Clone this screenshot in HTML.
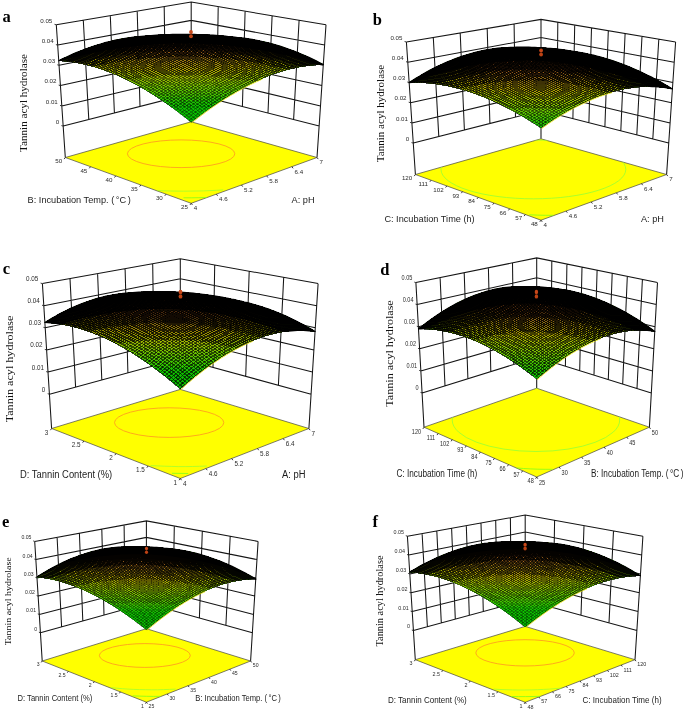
<!DOCTYPE html>
<html><head><meta charset="utf-8"><title>Figure</title>
<style>html,body{margin:0;padding:0;background:#fff}svg{display:block}</style></head>
<body><svg width="685" height="712" viewBox="0 0 685 712"><g id="pa"><path d="M63.2,126.1L191.2,93.4L319.2,126.1M61.8,105.9L191.2,75.2L320.5,105.9M60.5,85.6L191.2,56.9L321.9,85.6M59.1,65.3L191.2,38.7L323.3,65.3M57.7,45.1L191.2,20.4L324.7,45.1M56.3,24.8L191.2,2.1L326,24.8M65.3,157.5L56.3,24.8M88.8,119.6L83.3,20.3M114.4,113.1L110.3,15.7M140,106.5L137.2,11.2M165.6,100L164.2,6.7M191.2,121.8L191.2,2.1M317,157.5L326,24.8M293.6,119.6L299.1,20.3M268,113.1L272.1,15.7M242.4,106.5L245.1,11.2M216.8,100L218.2,6.7" fill="none" stroke="#151515" stroke-width="1.05"/>
<polygon points="65.3,157.5 191.2,203.3 317,157.5 191.2,121.8" fill="#ffff00" stroke="#444" stroke-width="0.7"/>
<path d="M183.5 197.8l7.7 0 7.7-0.1 7.7-0.2" fill="none" stroke="#7dff1a" stroke-width="0.8"/>
<path d="M157.3 190.6l6.6 0.2 6.6 0.2 6.5 0.1 6.6 0.1 6.6-0.1 6.6-0.1 6.6-0.1 6.6-0.3 6.6-0.3 6.6-0.4" fill="none" stroke="#a0ff30" stroke-width="0.8"/>
<clipPath id="fla"><polygon points="65.3,157.5 191.2,203.3 317,157.5 191.2,121.8"/></clipPath>
<ellipse cx="181.1" cy="153.75" rx="53.7" ry="13.85" fill="none" stroke="#ffa01e" stroke-width="0.9" clip-path="url(#fla)"/>
<path d="M191.2,203.3l1.2,1.6M216.4,194.2l1.2,1.6M241.5,185l1.2,1.6M266.7,175.9l1.2,1.6M291.9,166.7l1.2,1.6M317,157.5l1.2,1.6M191.2,203.3l-1.2,1.6M166,194.2l-1.2,1.6M140.8,185l-1.2,1.6M115.7,175.9l-1.2,1.6M90.5,166.7l-1.2,1.6M65.3,157.5l-1.2,1.6M63.2,126.1l-1.8,-0.5M61.8,105.9l-1.8,-0.5M60.5,85.6l-1.8,-0.5M59.1,65.3l-1.8,-0.5M57.7,45.1l-1.8,-0.5M56.3,24.8l-1.8,-0.5" fill="none" stroke="#222" stroke-width="0.9"/>
<path d="M191.2 122.3l6-4.7 5.9-4.5 5.8-4.3 5.8-4 5.8-3.9 5.7-3.6 5.7-3.4 5.5-3.3 5.6-3 5.5-2.8 5.4-2.7 5.3-2.4 5.3-2.3 5.3-2 5.1-1.9 5.2-1.7 5-1.5 5-1.3 5-1.2 4.8-0.9 4.8-0.8 4.8-0.7 4.7-0.4 4.6-0.3 4.5-0.1 -5.8-3 -5.8-2.9 -5.7-2.6 -5.7-2.4 -5.7-2.3 -5.6-2.1 -5.5-2 -5.6-1.7 -5.5-1.6 -5.4-1.4 -5.4-1.3 -5.3-1.1 -5.3-0.9 -5.3-0.8 -5.2-0.6 -5.1-0.5 -5.2-0.3 -5-0.2 -5 0 -5 0.1 -4.9 0.3 -4.8 0.4 -4.9 0.5 -4.7 0.7 -4.7 0.8 -4.7-0.9 -4.8-0.9 -4.8-0.7 -4.8-0.5 -5-0.5 -4.9-0.2 -5-0.2 -5.1 0 -5.1 0.2 -5.2 0.3 -5.2 0.5 -5.2 0.6 -5.4 0.8 -5.3 0.9 -5.4 1.1 -5.5 1.3 -5.5 1.4 -5.5 1.6 -5.6 1.8 -5.6 2 -5.7 2.1 -5.7 2.3 -5.8 2.5 -5.8 2.7 -5.8 2.8 4.5 0.3 4.7 0.4 4.7 0.6 4.8 0.8 4.8 1 4.9 1.1 4.9 1.3 5 1.5 5.1 1.6 5.1 1.9 5.2 2 5.3 2.2 5.3 2.4 5.3 2.6 5.5 2.8 5.5 3 5.5 3.2 5.6 3.4 5.6 3.6 5.8 3.8 5.7 4 5.8 4.2 5.9 4.4 5.9 4.6z" fill="#05b200"/>
<path d="M58.8 60.7l4.5 0.3 4.7 0.4 4.6 0.6 4.8 0.8 4.8 1 4.9 1.1 4.9 1.3 5 1.5 5.1 1.6 5.1 1.8 5.2 2.1 5.2 2.2 5.3 2.3 5.3 2.6 5.4 2.8 5.5 3 5.5 3.1 5.6 3.4 5.6 3.6 5.7 3.7 5.8 4 5.8 4.2 5.8 4.4 5.9 4.6 6 4.8 0.8 0 6-4.7 5.9-4.4 5.8-4.2 5.8-4.1 5.7-3.8 5.7-3.6 5.7-3.4 5.5-3.2 5.5-3 5.5-2.9 5.4-2.6 5.3-2.4 5.3-2.2 5.2-2.1 5.2-1.8 5.1-1.7 5-1.5 5-1.3 4.9-1.2 4.9-0.9 4.8-0.8 4.7-0.7 4.7-0.4 4.6-0.3 4.5-0.1 -5.6-2.9 -5.5-2.7 -5.5-2.6 -5.5-2.4 -5.5-2.2 -5.4-2 -5.3-1.9 -5.4-1.8 -5.3-1.6 -5.2-1.4 -5.2-1.3 -5.2-1.1 -5.1-1 -5.1-0.8 -5-0.7 -5-0.5 -4.9-0.4 -4.9-0.3 -4.9-0.1 -4.8 0 -4.7 0.2 -4.7 0.2 -4.7 0.4 -4.6 0.6 -4.6 0.6 -4.5 0.8 -4.5-0.9 -4.6-0.8 -4.6-0.7 -4.7-0.6 -4.7-0.4 -4.8-0.3 -4.8-0.2 -4.8 0 -4.9 0.1 -5 0.3 -5 0.4 -5 0.5 -5.1 0.7 -5.1 0.8 -5.2 1 -5.2 1.1 -5.3 1.3 -5.3 1.4 -5.3 1.6 -5.4 1.8 -5.4 1.9 -5.5 2 -5.5 2.3 -5.5 2.4 -5.6 2.6z" fill="#07b400"/>
<path d="M58.8 60.7l4.4 0.3 4.5 0.4 4.5 0.6 4.6 0.7 4.7 0.9 4.7 1.1 4.8 1.2 4.9 1.4 4.9 1.6 4.9 1.7 5 1.9 5.1 2.1 5.1 2.2 5.2 2.5 5.2 2.6 5.3 2.8 5.3 3 5.4 3.2 5.5 3.3 5.5 3.6 5.5 3.7 5.6 4 5.7 4.1 5.7 4.3 5.7 4.5 7.5 0 2.1 0 5.7-4.4 5.7-4.2 5.6-3.9 5.6-3.8 5.6-3.6 5.4-3.4 5.5-3.2 5.3-3 5.4-2.8 5.2-2.7 5.2-2.4 5.2-2.3 5.1-2.1 5-1.9 5-1.8 5-1.5 4.8-1.5 4.9-1.2 4.7-1.1 4.7-0.9 4.7-0.7 4.5-0.6 4.6-0.4 4.4-0.3 4.4-0.1 -5.6-2.9 -5.5-2.7 -5.5-2.6 -5.5-2.4 -5.5-2.2 -5.4-2 -5.3-1.9 -5.4-1.8 -5.3-1.6 -5.2-1.4 -5.2-1.3 -5.2-1.1 -5.1-1 -5.1-0.8 -5-0.7 -5-0.5 -4.9-0.4 -4.9-0.3 -4.9-0.1 -4.8 0 -4.7 0.2 -4.7 0.2 -4.7 0.4 -4.6 0.6 -4.6 0.6 -4.5 0.8 -4.5-0.9 -4.6-0.8 -4.6-0.7 -4.7-0.6 -4.7-0.4 -4.8-0.3 -4.8-0.2 -4.8 0 -4.9 0.1 -5 0.3 -5 0.4 -5 0.5 -5.1 0.7 -5.1 0.8 -5.2 1 -5.2 1.1 -5.3 1.3 -5.3 1.4 -5.3 1.6 -5.4 1.8 -5.4 1.9 -5.5 2 -5.5 2.3 -5.5 2.4 -5.6 2.6z" fill="#09b700"/>
<path d="M58.8 60.7l4.4 0.3 4.6 0.4 4.6 0.6 4.6 0.8 4.7 0.9 4.8 1.1 4.9 1.2 4.8 1.4 5 1.6 5 1.8 5.1 1.9 5.1 2.1 5.2 2.3 5.2 2.5 5.3 2.7 5.3 2.9 5.4 3 5.5 3.2 5.5 3.5 5.6 3.6 5.6 3.8 5.6 4 5.8 4.3 5.7 4.4 1 0 10.6-0.1 7.1-0.1 5.7-4.2 5.7-4.1 5.6-3.8 5.6-3.6 5.5-3.5 5.5-3.2 5.4-3.1 5.4-2.9 5.3-2.7 5.3-2.5 5.2-2.3 5.1-2.1 5.1-2 5-1.7 5-1.6 4.9-1.5 4.9-1.2 4.8-1.1 4.7-0.9 4.7-0.8 4.6-0.6 4.6-0.4 4.5-0.3 4.4-0.1 -5.6-2.9 -5.5-2.7 -5.5-2.6 -5.5-2.4 -5.5-2.2 -5.4-2 -5.3-1.9 -5.4-1.8 -5.3-1.6 -5.2-1.4 -5.2-1.3 -5.2-1.1 -5.1-1 -5.1-0.8 -5-0.7 -5-0.5 -4.9-0.4 -4.9-0.3 -4.9-0.1 -4.8 0 -4.7 0.2 -4.7 0.2 -4.7 0.4 -4.6 0.6 -4.6 0.6 -4.5 0.8 -4.5-0.9 -4.6-0.8 -4.6-0.7 -4.7-0.6 -4.7-0.4 -4.8-0.3 -4.8-0.2 -4.8 0 -4.9 0.1 -5 0.3 -5 0.4 -5 0.5 -5.1 0.7 -5.1 0.8 -5.2 1 -5.2 1.1 -5.3 1.3 -5.3 1.4 -5.3 1.6 -5.4 1.8 -5.4 1.9 -5.5 2 -5.5 2.3 -5.5 2.4 -5.6 2.6z" fill="#0bb900"/>
<path d="M58.8 60.7l4.5 0.3 4.6 0.4 4.6 0.6 4.7 0.8 4.8 0.9 4.8 1.1 4.9 1.3 4.9 1.4 5 1.6 5 1.8 5.2 2 5.1 2.2 5.3 2.3 5.3 2.5 5.3 2.8 5.4 2.9 5.5 3.1 5.5 3.3 5.5 3.5 5.6 3.7 5.7 3.8 5.7 4.1 5.8 4.3 5.6 0.1 10.3-0.1 10.2-0.1 2-0.1 5.7-4.1 5.7-3.9 5.6-3.7 5.6-3.5 5.5-3.3 5.5-3.1 5.4-2.9 5.4-2.7 5.3-2.5 5.2-2.4 5.2-2.1 5.1-2 5.1-1.8 5-1.6 5-1.5 4.9-1.3 4.8-1.1 4.8-0.9 4.7-0.8 4.6-0.6 4.6-0.4 4.6-0.3 4.4-0.1 -5.6-2.9 -5.5-2.7 -5.5-2.6 -5.5-2.4 -5.5-2.2 -5.4-2 -5.3-1.9 -5.4-1.8 -5.3-1.6 -5.2-1.4 -5.2-1.3 -5.2-1.1 -5.1-1 -5.1-0.8 -5-0.7 -5-0.5 -4.9-0.4 -4.9-0.3 -4.9-0.1 -4.8 0 -4.7 0.2 -4.7 0.2 -4.7 0.4 -4.6 0.6 -4.6 0.6 -4.5 0.8 -4.5-0.9 -4.6-0.8 -4.6-0.7 -4.7-0.6 -4.7-0.4 -4.8-0.3 -4.8-0.2 -4.8 0 -4.9 0.1 -5 0.3 -5 0.4 -5 0.5 -5.1 0.7 -5.1 0.8 -5.2 1 -5.2 1.1 -5.3 1.3 -5.3 1.4 -5.3 1.6 -5.4 1.8 -5.4 1.9 -5.5 2 -5.5 2.3 -5.5 2.4 -5.6 2.6z" fill="#0dbc00"/>
<path d="M58.8 60.7l4.5 0.3 4.6 0.4 4.7 0.6 4.8 0.8 4.8 1 4.8 1.1 4.9 1.3 5 1.4 5.1 1.7 5.1 1.8 5.1 2 5.3 2.2 5.2 2.4 5.4 2.5 5.4 2.8 5.4 3 5.5 3.1 5.6 3.4 5.6 3.5 5.7 3.8 5.7 3.9 5.8 4.2 0.4 0 9.9 0.1 10-0.1 9.9-0.1 7.7-0.2 5.7-4 5.7-3.7 5.6-3.5 5.5-3.4 5.5-3.1 5.5-2.9 5.4-2.8 5.3-2.6 5.3-2.3 5.2-2.2 5.2-2 5-1.8 5.1-1.7 5-1.4 4.9-1.3 4.9-1.1 4.8-1 4.7-0.8 4.7-0.6 4.6-0.4 4.5-0.3 4.5-0.1 -5.6-2.9 -5.5-2.7 -5.5-2.6 -5.5-2.4 -5.5-2.2 -5.4-2 -5.3-1.9 -5.4-1.8 -5.3-1.6 -5.2-1.4 -5.2-1.3 -5.2-1.1 -5.1-1 -5.1-0.8 -5-0.7 -5-0.5 -4.9-0.4 -4.9-0.3 -4.9-0.1 -4.8 0 -4.7 0.2 -4.7 0.2 -4.7 0.4 -4.6 0.6 -4.6 0.6 -4.5 0.8 -4.5-0.9 -4.6-0.8 -4.6-0.7 -4.7-0.6 -4.7-0.4 -4.8-0.3 -4.8-0.2 -4.8 0 -4.9 0.1 -5 0.3 -5 0.4 -5 0.5 -5.1 0.7 -5.1 0.8 -5.2 1 -5.2 1.1 -5.3 1.3 -5.3 1.4 -5.3 1.6 -5.4 1.8 -5.4 1.9 -5.5 2 -5.5 2.3 -5.5 2.4 -5.6 2.6z" fill="#0fbe00"/>
<path d="M58.8 60.7l4.3 0.3 4.5 0.4 4.5 0.6 4.5 0.7 4.6 0.9 4.7 1 4.7 1.2 4.7 1.3 4.9 1.6 4.8 1.7 5 1.8 5 2 5 2.2 5.1 2.4 5.2 2.6 5.2 2.7 5.2 2.9 5.3 3.1 5.4 3.2 5.4 3.5 5.5 3.6 5.5 3.9 5.8 0.1 9.6 0 9.5 0 9.6-0.1 9.6-0.3 4.2-0.1 5.7-3.8 5.6-3.5 5.6-3.4 5.5-3.2 5.4-2.9 5.4-2.8 5.4-2.6 5.3-2.3 5.2-2.2 5.2-2.1 5.1-1.8 5.1-1.6 5-1.5 4.9-1.3 4.9-1.1 4.8-1 4.7-0.8 4.7-0.6 4.7-0.4 4.5-0.3 4.5-0.1 -5.6-2.9 -5.5-2.7 -5.5-2.6 -5.5-2.4 -5.5-2.2 -5.4-2 -5.3-1.9 -5.4-1.8 -5.3-1.6 -5.2-1.4 -5.2-1.3 -5.2-1.1 -5.1-1 -5.1-0.8 -5-0.7 -5-0.5 -4.9-0.4 -4.9-0.3 -4.9-0.1 -4.8 0 -4.7 0.2 -4.7 0.2 -4.7 0.4 -4.6 0.6 -4.6 0.6 -4.5 0.8 -4.5-0.9 -4.6-0.8 -4.6-0.7 -4.7-0.6 -4.7-0.4 -4.8-0.3 -4.8-0.2 -4.8 0 -4.9 0.1 -5 0.3 -5 0.4 -5 0.5 -5.1 0.7 -5.1 0.8 -5.2 1 -5.2 1.1 -5.3 1.3 -5.3 1.4 -5.3 1.6 -5.4 1.8 -5.4 1.9 -5.5 2 -5.5 2.3 -5.5 2.4 -5.6 2.6z" fill="#1ac000"/>
<path d="M58.8 60.7l4.3 0.3 4.5 0.4 4.5 0.6 4.5 0.7 4.7 0.9 4.6 1 4.7 1.2 4.8 1.4 4.9 1.5 4.9 1.7 4.9 1.9 5 2 5.1 2.2 5.1 2.4 5.1 2.5 5.3 2.8 5.2 2.9 5.3 3.1 5.4 3.3 5.4 3.5 5.5 3.6 2.3 0.1 9.2 0.1 9.2 0.1 9.2 0 9.2-0.2 9.3-0.2 9.2-0.3 1.7-0.1 5.6-3.6 5.6-3.3 5.5-3.2 5.5-2.9 5.4-2.8 5.3-2.6 5.3-2.4 5.2-2.2 5.2-2 5.1-1.8 5.1-1.6 5-1.5 4.9-1.3 4.9-1.1 4.8-1 4.7-0.8 4.7-0.6 4.7-0.4 4.5-0.3 4.5-0.1 -5.6-2.9 -5.5-2.7 -5.5-2.6 -5.5-2.4 -5.5-2.2 -5.4-2 -5.3-1.9 -5.4-1.8 -5.3-1.6 -5.2-1.4 -5.2-1.3 -5.2-1.1 -5.1-1 -5.1-0.8 -5-0.7 -5-0.5 -4.9-0.4 -4.9-0.3 -4.9-0.1 -4.8 0 -4.7 0.2 -4.7 0.2 -4.7 0.4 -4.6 0.6 -4.6 0.6 -4.5 0.8 -4.5-0.9 -4.6-0.8 -4.6-0.7 -4.7-0.6 -4.7-0.4 -4.8-0.3 -4.8-0.2 -4.8 0 -4.9 0.1 -5 0.3 -5 0.4 -5 0.5 -5.1 0.7 -5.1 0.8 -5.2 1 -5.2 1.1 -5.3 1.3 -5.3 1.4 -5.3 1.6 -5.4 1.8 -5.4 1.9 -5.5 2 -5.5 2.3 -5.5 2.4 -5.6 2.6z" fill="#2ec100"/>
<path d="M58.8 60.7l4.3 0.3 4.5 0.4 4.5 0.6 4.5 0.7 4.6 0.9 4.7 1 4.7 1.2 4.8 1.4 4.8 1.5 4.9 1.7 5 1.8 5 2.1 5 2.2 5.1 2.4 5.2 2.5 5.2 2.7 5.3 3 5.3 3.1 5.3 3.2 5.5 3.5 8.5 0.2 8.9 0.2 8.8 0 8.9 0 8.8-0.1 8.9-0.2 8.9-0.3 8.9-0.4 0.3-0.1 5.5-3.3 5.5-3.1 5.5-2.9 5.3-2.8 5.4-2.5 5.2-2.4 5.2-2.2 5.2-2 5.1-1.8 5-1.6 5-1.5 4.9-1.2 4.8-1.2 4.8-0.9 4.7-0.8 4.7-0.6 4.6-0.4 4.6-0.3 4.4-0.1 -5.6-2.9 -5.5-2.7 -5.5-2.6 -5.5-2.4 -5.5-2.2 -5.4-2 -5.3-1.9 -5.4-1.8 -5.3-1.6 -5.2-1.4 -5.2-1.3 -5.2-1.1 -5.1-1 -5.1-0.8 -5-0.7 -5-0.5 -4.9-0.4 -4.9-0.3 -4.9-0.1 -4.8 0 -4.7 0.2 -4.7 0.2 -4.7 0.4 -4.6 0.6 -4.6 0.6 -4.5 0.8 -4.5-0.9 -4.6-0.8 -4.6-0.7 -4.7-0.6 -4.7-0.4 -4.8-0.3 -4.8-0.2 -4.8 0 -4.9 0.1 -5 0.3 -5 0.4 -5 0.5 -5.1 0.7 -5.1 0.8 -5.2 1 -5.2 1.1 -5.3 1.3 -5.3 1.4 -5.3 1.6 -5.4 1.8 -5.4 1.9 -5.5 2 -5.5 2.3 -5.5 2.4 -5.6 2.6z" fill="#42c200"/>
<path d="M58.8 60.7l4.3 0.3 4.4 0.4 4.5 0.6 4.5 0.7 4.6 0.8 4.6 1.1 4.7 1.2 4.8 1.3 4.8 1.5 4.8 1.7 5 1.8 4.9 2 5 2.2 5.1 2.4 5.1 2.5 5.2 2.7 5.3 2.9 5.2 3 5.4 3.3 6.9 0.2 8.4 0.3 8.5 0.1 8.4 0 8.5 0 8.5-0.1 8.5-0.2 8.5-0.3 8.5-0.4 8.5-0.4 0.4-0.1 5.4-3 5.4-2.9 5.3-2.7 5.2-2.4 5.2-2.3 5.2-2.2 5-1.9 5.1-1.8 4.9-1.6 4.9-1.4 4.9-1.2 4.8-1.1 4.7-0.9 4.7-0.8 4.6-0.6 4.5-0.4 4.5-0.3 4.4-0.1 -5.6-2.9 -5.5-2.7 -5.5-2.6 -5.5-2.4 -5.5-2.2 -5.4-2 -5.3-1.9 -5.4-1.8 -5.3-1.6 -5.2-1.4 -5.2-1.3 -5.2-1.1 -5.1-1 -5.1-0.8 -5-0.7 -5-0.5 -4.9-0.4 -4.9-0.3 -4.9-0.1 -4.8 0 -4.7 0.2 -4.7 0.2 -4.7 0.4 -4.6 0.6 -4.6 0.6 -4.5 0.8 -4.5-0.9 -4.6-0.8 -4.6-0.7 -4.7-0.6 -4.7-0.4 -4.8-0.3 -4.8-0.2 -4.8 0 -4.9 0.1 -5 0.3 -5 0.4 -5 0.5 -5.1 0.7 -5.1 0.8 -5.2 1 -5.2 1.1 -5.3 1.3 -5.3 1.4 -5.3 1.6 -5.4 1.8 -5.4 1.9 -5.5 2 -5.5 2.3 -5.5 2.4 -5.6 2.6z" fill="#56c300"/>
<path d="M191.6 39.7l-0.3 0 -0.5 0 -4.7-1 -4.7-0.8 -4.8-0.7 -4.9-0.6 -4.9-0.4 -4.9-0.3 -5-0.1 -5.1 0 -5.1 0.2 -5.1 0.3 -5.2 0.5 -5.3 0.6 -5.3 0.8 -5.3 1 -5.4 1.1 -5.4 1.2 -5.5 1.5 -5.5 1.6 -5.6 1.8 -5.6 1.9 -5.7 2.1 -5.7 2.3 -5.7 2.5 -5.8 2.7 -5.8 2.8 4.5 0.3 4.6 0.4 4.7 0.6 4.8 0.8 4.8 1 4.8 1.1 5 1.3 4.9 1.4 5.1 1.7 5.1 1.8 5.2 2 5.2 2.2 5.3 2.4 5.3 2.6 5.4 2.7 5.5 3 5.5 3.2 6.5 0.3 8.1 0.2 8 0.2 8.1 0.2 8.1 0 8.1 0 8.1-0.1 8.1-0.2 8.1-0.3 8.1-0.3 8.1-0.5 8.1-0.5 2.2-0.2 5.2-2.7 5.2-2.6 5.1-2.3 5-2.2 5-2 5-1.9 4.8-1.7 4.9-1.5 4.7-1.3 4.8-1.2 4.6-1.1 4.6-0.8 4.6-0.8 4.5-0.5 4.4-0.5 4.4-0.2 4.3-0.1 -5.8-3 -5.7-2.8 -5.7-2.7 -5.7-2.4 -5.7-2.3 -5.6-2.1 -5.5-1.9 -5.5-1.8 -5.5-1.6 -5.4-1.4 -5.4-1.2 -5.3-1.1 -5.3-1 -5.2-0.8 -5.2-0.6 -5.2-0.5 -5.1-0.3 -5-0.2 -5 0 -5 0.1 -4.9 0.3 -4.8 0.4 -4.8 0.5 -4.7 0.7z" fill="#69c200"/>
<path d="M196.5 38.8l-5.5 0 -4.7-0.1 -4.8-0.8 -4.8-0.7 -4.8-0.6 -4.9-0.4 -5-0.2 -5-0.2 -5 0 -5.1 0.2 -5.2 0.3 -5.2 0.5 -5.3 0.6 -5.3 0.8 -5.3 0.9 -5.4 1.1 -5.5 1.3 -5.4 1.5 -5.6 1.6 -5.6 1.7 -5.6 2 -5.7 2.1 -5.7 2.3 -5.7 2.5 -5.8 2.7 -5.8 2.8 4.4 0.3 4.6 0.4 4.6 0.6 4.6 0.8 4.7 0.9 4.8 1 4.8 1.3 4.9 1.4 4.9 1.6 5 1.7 5.1 2 5.1 2.1 5.2 2.3 5.2 2.5 5.3 2.6 5.3 2.9 0.1 0 7.6 0.4 7.7 0.3 7.6 0.3 7.7 0.2 7.6 0.1 7.7 0.1 7.7-0.1 7.7-0.1 7.7-0.2 7.7-0.2 7.7-0.3 7.7-0.4 7.7-0.5 7.7-0.6 6.1-0.6 5.2-2.4 5.1-2.3 5.1-2.1 5.1-2 5-1.7 4.9-1.6 4.9-1.4 4.8-1.2 4.7-1.1 4.7-0.9 4.7-0.8 4.6-0.6 4.5-0.4 4.5-0.3 4.4-0.1 0-0.1 -5.8-3 -5.7-2.8 -5.7-2.6 -5.7-2.4 -5.6-2.3 -5.6-2.1 -5.5-1.9 -5.5-1.8 -5.5-1.5 -5.4-1.5 -5.3-1.2 -5.3-1.1 -5.3-1 -5.2-0.8 -5.2-0.6 -5.1-0.5 -5.1-0.3 -5-0.2 -5 0 -5 0.1 -4.8 0.2 -4.9 0.4 -4.7 0.6z" fill="#7cc000"/>
<path d="M202 38.1l-5.3-0.1 -6-0.1 -6 0 -3.4 0 -4.7-0.7 -4.9-0.6 -4.9-0.4 -4.9-0.3 -5-0.1 -5.1 0 -5.1 0.2 -5.1 0.3 -5.2 0.5 -5.3 0.6 -5.3 0.8 -5.3 1 -5.4 1.1 -5.4 1.2 -5.5 1.5 -5.5 1.6 -5.6 1.8 -5.6 1.9 -5.7 2.1 -5.7 2.3 -5.7 2.5 -5.8 2.7 -5.8 2.8 4.3 0.3 4.3 0.4 4.4 0.5 4.5 0.7 4.5 0.9 4.6 1 4.6 1.1 4.7 1.4 4.7 1.4 4.8 1.7 4.9 1.8 4.9 1.9 4.9 2.1 5 2.3 5.1 2.5 3.7 0.3 7.2 0.5 7.3 0.4 7.2 0.3 7.2 0.2 7.3 0.2 7.2 0.1 7.3 0.1 7.2-0.1 7.3-0.1 7.2-0.1 7.3-0.3 7.3-0.3 7.3-0.3 7.3-0.5 7.3-0.6 7.2-0.6 7.2-0.7 6.1-0.8 4.9-2 4.9-1.8 4.9-1.7 4.8-1.5 4.7-1.4 4.7-1.2 4.6-1.1 4.5-0.9 4.6-0.7 4.4-0.6 4.4-0.5 1.4-1.1 1.4-1.9 0.2-1 -5.7-2.7 -5.6-2.5 -5.6-2.4 -5.5-2.2 -5.5-2.1 -5.5-1.9 -5.4-1.7 -5.3-1.5 -5.4-1.4 -5.2-1.3 -5.3-1 -5.2-1 -5.1-0.7 -5.1-0.7 -5.1-0.4 -5-0.4 -4.9-0.2 -4.9 0 -4.9 0.1 -4.8 0.2 -4.8 0.4z" fill="#8ebd00"/>
<path d="M208.2 37.4l-0.8 0 -5.7-0.1 -5.7-0.2 -5.6 0 -5.7-0.1 -5.7 0.1 -3.1 0 -4.8-0.5 -4.8-0.4 -4.9-0.3 -5-0.1 -4.9 0 -5.1 0.2 -5 0.3 -5.2 0.5 -5.1 0.6 -5.3 0.8 -5.2 0.9 -5.3 1.1 -5.4 1.3 -5.4 1.4 -5.4 1.6 -5.5 1.7 -5.5 1.9 -5.6 2.1 -5.6 2.2 -5.7 2.4 -5.7 2.6 -5.7 2.8 0.4 0.6 4.6 0.3 4.6 0.5 4.7 0.7 4.7 0.8 4.8 1 4.9 1.1 4.9 1.4 5 1.5 5 1.7 5.1 1.8 5.1 2.1 5.3 2.2 3.4 0.4 6.8 0.6 6.7 0.5 6.8 0.4 6.8 0.4 6.8 0.3 6.8 0.2 6.8 0.2 6.8 0.1 6.8 0 6.8 0 6.8-0.1 6.8-0.1 6.9-0.3 6.8-0.2 6.9-0.4 6.8-0.4 6.9-0.5 6.8-0.6 6.7-0.7 6.7-0.8 6.6-0.9 6.4-0.9 6.2-1.1 5.8-1.2 0.7-0.2 4.7-1.3 4.7-1.1 0.5-0.1 4.4-1.5 3.8-1.6 3.1-1.7 2.2-1.8 1.4-1.8 0.4-1.8 -0.1-0.4 -5.8-2.5 -5.6-2.4 -5.6-2.2 -5.6-2 -5.6-1.9 -5.5-1.7 -5.4-1.5 -5.4-1.3 -5.4-1.2 -5.3-1 -5.3-0.9 -5.2-0.7 -5.2-0.6 -5.1-0.4 -5.1-0.2 -5-0.1 -5 0 -4.9 0.2z" fill="#9cb600"/>
<path d="M215.6 37l-4.2-0.2 -5.4-0.2 -5.3-0.1 -5.4-0.1 -5.3-0.1 -5.3 0 -5.4 0 -5.3 0.1 -4.3 0 -4.7-0.3 -4.8-0.2 -4.8-0.1 -4.8 0.1 -4.9 0.2 -4.9 0.3 -5 0.5 -5 0.6 -5.1 0.7 -5.1 0.9 -5.2 1.1 -5.2 1.2 -5.2 1.4 -5.3 1.5 -5.3 1.6 -5.4 1.8 -5.3 2 -5.5 2.2 -5.5 2.3 -5.5 2.4 0.2 0.8 1.3 1.7 2.1 1.6 2.8 1.5 4.1 0.7 4.3 0.8 4.2 1 4.3 1.1 4.4 1.2 4.4 1.4 4.5 1.5 4.3 0.7 6.1 0.8 6.1 0.7 6.3 0.6 6.2 0.6 6.4 0.4 6.3 0.4 6.3 0.4 6.3 0.2 6.4 0.2 6.3 0.2 6.3 0.1 6.3 0 6.4 0 6.3-0.1 6.4-0.1 6.3-0.2 6.4-0.3 6.4-0.3 6.4-0.4 6.3-0.5 6.4-0.5 6.3-0.6 6.3-0.7 6.1-0.8 6-0.9 5.8-1 5.5-1.1 5.2-1.2 4.7-1.3 4.2-1.4 3.6-1.5 2.9-1.6 2.2-1.6 1.3-1.7 0.4-1.6 -0.4-1.7 -0.3-0.3 -5.6-2.3 -5.6-2.1 -5.6-2 -5.5-1.7 -5.5-1.6 -5.4-1.5 -5.4-1.2 -5.3-1.1 -5.3-1 -5.3-0.8 -5.2-0.6 -5.1-0.5 -5.1-0.3 -5.1-0.2 -5 0z" fill="#a4ab00"/>
<path d="M224.7 36.9l-4.9-0.3 -5.1-0.3 -5.1-0.2 -5.1-0.2 -5-0.1 -4.9-0.1 -5-0.1 -5 0 -5 0 -4.9 0.1 -5 0.1 -5.1 0.1 -2.2 0.1 -4.7-0.2 -4.8 0 -4.9 0.2 -4.9 0.2 -4.9 0.4 -5 0.6 -5 0.6 -5.1 0.9 -5.1 0.9 -5.1 1.2 -5.2 1.2 -5.2 1.5 -5.3 1.5 -5.3 1.8 -5.4 1.9 -5.4 2 -5.4 2.2 -0.1 0.7 0.4 1.5 1.3 1.5 2 1.5 2.7 1.4 3.3 1.4 3.9 1.3 4.3 1.1 4.8 1.1 5 1 5.3 0.9 5.4 0.8 5.6 0.8 5.7 0.6 5.8 0.6 5.8 0.5 5.8 0.4 5.8 0.4 5.8 0.3 5.9 0.2 5.8 0.2 5.8 0.1 5.9 0.1 5.8 0 5.8 0 5.8-0.1 5.9-0.1 5.9-0.2 5.8-0.2 5.9-0.3 5.9-0.3 5.9-0.5 5.9-0.5 5.8-0.5 5.8-0.7 5.7-0.7 5.5-0.8 5.4-0.9 5.1-1 4.8-1.1 4.4-1.2 3.9-1.3 3.4-1.3 2.8-1.5 2-1.4 1.3-1.6 0.4-1.5 -0.3-1.5 -1.1-1.6 -1.1-0.8 -5.3-1.9 -5.2-1.7 -5.2-1.6 -5.2-1.4 -5.1-1.2 -5.1-1.1 -5-1 -5-0.8 -4.9-0.7 -4.9-0.6 -4.9-0.4 -4.8-0.3z" fill="#ab9f00"/>
<path d="M238.7 37.7l-2.7-0.3 -4.8-0.4 -4.8-0.4 -4.8-0.4 -4.7-0.3 -4.7-0.2 -4.7-0.2 -4.6-0.2 -4.6-0.1 -4.6-0.1 -4.6-0.1 -4.5 0 -4.6 0 -4.6 0.1 -4.6 0.1 -4.6 0.1 -4.7 0.1 -4.7 0.2 -3.5 0.2 -4.9 0.1 -4.9 0.3 -5 0.4 -5.1 0.5 -5.1 0.7 -5.1 0.9 -5.2 1 -5.3 1.1 -5.2 1.3 -5.4 1.5 -5.3 1.6 -5.4 1.7 -5.5 2 -0.8 1.1 -0.2 1.4 0.5 1.4 1.2 1.4 1.8 1.3 2.6 1.3 3 1.2 3.6 1.1 4 1.1 4.4 1 4.6 0.9 4.8 0.8 5 0.7 5.1 0.6 5.2 0.6 5.2 0.5 5.3 0.5 5.3 0.4 5.3 0.3 5.3 0.3 5.3 0.2 5.3 0.1 5.2 0.2 5.3 0 5.3 0.1 5.3 0 5.3-0.1 5.3-0.1 5.4-0.2 5.3-0.2 5.3-0.3 5.4-0.3 5.3-0.4 5.4-0.4 5.3-0.5 5.3-0.6 5.1-0.6 5.1-0.8 4.9-0.8 4.7-0.9 4.4-1 4.1-1 3.6-1.2 3.1-1.2 2.6-1.3 1.9-1.3 1.2-1.4 0.5-1.4 -0.3-1.4 -0.9-1.4 -1.7-1.3 -2.3-1.3 -2.9-1.2 -0.2-0.1 -5.3-1.4 -5.3-1.3 -5.2-1.2 -5.2-1 -5.1-0.9 -5.1-0.7z" fill="#a38d08"/>
<path d="M235.2 37.2l-4.3-0.5 -4.3-0.4 -4.3-0.3 -4.3-0.4 -4.3-0.2 -4.2-0.2 -4.2-0.2 -4.2-0.2 -4.2-0.1 -4.1-0.1 -4.2 0 -4.1 0 -4.1 0 -4.2 0 -4.1 0.1 -4.2 0.1 -4.2 0.1 -4.2 0.2 -4.3 0.2 -4.3 0.3 -4.4 0.3 -4.3 0.4 -2.3 0.2 -4.7 0.4 -4.9 0.6 -4.8 0.8 -4.9 0.8 -5 1 -4.9 1.2 -5 1.3 -5.1 1.4 -0.9 0.4 -2 1.2 -1.5 1.2 -0.8 1.2 -0.2 1.2 0.5 1.2 1.1 1.3 1.8 1.1 2.3 1.2 2.8 1 3.2 1 3.6 1 3.9 0.8 4.1 0.8 4.4 0.7 4.4 0.7 4.6 0.5 4.6 0.5 4.7 0.5 4.7 0.4 4.7 0.3 4.7 0.3 4.7 0.2 4.8 0.2 4.7 0.2 4.7 0.1 4.7 0 4.7 0.1 4.7-0.1 4.7 0 4.7-0.1 4.8-0.1 4.7-0.2 4.8-0.3 4.7-0.2 4.8-0.4 4.8-0.4 4.7-0.4 4.7-0.5 4.6-0.6 4.6-0.6 4.4-0.7 4.2-0.8 3.9-0.9 3.7-0.9 3.3-1 2.8-1.1 2.4-1.1 1.7-1.2 1.2-1.2 0.5-1.3 -0.2-1.2 -0.8-1.2 -1.5-1.2 -2-1.2 -2.5-1.1 -3-1 -3.4-1 -3.7-0.8 -3.8-0.8 -4.1-0.8 -4.2-0.6 -4.3-0.6z" fill="#9a7a10"/>
<path d="M228.8 36.6l-3.8-0.4 -3.8-0.4 -3.7-0.3 -3.8-0.3 -3.7-0.2 -3.7-0.2 -3.7-0.1 -3.6-0.2 -3.7-0.1 -3.6 0 -3.6-0.1 -3.6 0 -3.7 0 -3.6 0 -3.6 0.1 -3.7 0.1 -3.7 0.1 -3.7 0.2 -3.7 0.2 -3.8 0.2 -3.8 0.3 -3.8 0.3 -3.8 0.3 -3.8 0.4 -3.8 0.5 -3.8 0.5 -3.7 0.6 -3.6 0.6 -3.4 0.7 -3.2 0.8 -2.9 0.8 -2.6 0.9 -2.2 1 -1.7 0.9 -1.2 1.1 -0.7 1 -0.1 1.1 0.5 1.1 1 1 1.6 1 2 1 2.5 0.9 2.8 0.8 3.2 0.8 3.4 0.8 3.6 0.6 3.7 0.6 3.9 0.6 4 0.5 4 0.4 4 0.4 4.1 0.3 4 0.3 4.1 0.2 4.1 0.2 4 0.2 4.1 0.1 4 0.1 4.1 0.1 4 0 4.1 0 4.1-0.1 4-0.1 4.1-0.1 4.1-0.1 4.1-0.2 4.1-0.3 4.1-0.3 4.1-0.3 4.1-0.4 4.1-0.4 4-0.5 3.9-0.5 3.8-0.6 3.7-0.7 3.5-0.7 3.1-0.8 2.9-0.9 2.5-0.9 2.1-1 1.6-1 1-1 0.5-1.1 -0.1-1.1 -0.6-1 -1.2-1.1 -1.7-0.9 -2.2-1 -2.6-0.9 -2.9-0.8 -3.1-0.8 -3.4-0.7 -3.5-0.6 -3.6-0.6 -3.8-0.5z" fill="#9a6d17"/>
<path d="M221.1 36.2l-3.2-0.3 -3.1-0.3 -3.1-0.3 -3.1-0.2 -3.1-0.2 -3-0.1 -3.1-0.2 -3-0.1 -3-0.1 -3 0 -3-0.1 -3 0 -3 0 -3 0.1 -3 0 -3.1 0.1 -3 0.1 -3.1 0.1 -3.1 0.2 -3.1 0.2 -3.1 0.2 -3.2 0.3 -3.1 0.3 -3.2 0.3 -3.1 0.4 -3.1 0.4 -3 0.5 -3 0.5 -2.8 0.6 -2.6 0.6 -2.3 0.7 -2.1 0.7 -1.8 0.8 -1.4 0.8 -0.9 0.8 -0.5 0.9 0 0.9 0.4 0.8 0.9 0.9 1.4 0.8 1.7 0.7 2.1 0.8 2.3 0.7 2.6 0.6 2.8 0.6 3 0.5 3.1 0.5 3.1 0.4 3.2 0.4 3.3 0.4 3.3 0.3 3.3 0.2 3.3 0.3 3.3 0.2 3.4 0.1 3.3 0.1 3.2 0.1 3.3 0.1 3.3 0.1 3.3 0 3.3 0 3.3-0.1 3.3 0 3.3-0.1 3.3-0.2 3.4-0.1 3.3-0.2 3.4-0.2 3.3-0.3 3.4-0.3 3.3-0.3 3.3-0.4 3.2-0.5 3.1-0.4 3-0.6 2.8-0.6 2.7-0.6 2.4-0.7 2.1-0.7 1.7-0.8 1.4-0.8 0.9-0.9 0.4-0.8 0-0.9 -0.5-0.9 -0.9-0.8 -1.4-0.8 -1.7-0.8 -2.1-0.7 -2.3-0.7 -2.6-0.6 -2.7-0.6 -2.9-0.5 -3-0.5 -3.1-0.4z" fill="#a2641d"/>
<path d="M210.8 36.3l-2.2-0.2 -2.3-0.2 -2.2-0.2 -2.2-0.2 -2.3-0.1 -2.2-0.1 -2.2-0.1 -2.2-0.1 -2.2-0.1 -2.2 0 -2.1 0 -2.2 0 -2.2 0 -2.2 0 -2.2 0 -2.2 0.1 -2.2 0.1 -2.2 0.1 -2.2 0.1 -2.3 0.1 -2.3 0.2 -2.2 0.2 -2.3 0.2 -2.3 0.2 -2.2 0.3 -2.3 0.3 -2.1 0.3 -2.1 0.4 -2 0.4 -1.8 0.5 -1.7 0.5 -1.5 0.5 -1.2 0.5 -0.9 0.6 -0.7 0.6 -0.3 0.6 0.1 0.6 0.3 0.7 0.7 0.5 1 0.6 1.3 0.6 1.5 0.5 1.7 0.5 1.9 0.4 2 0.4 2.1 0.4 2.3 0.3 2.2 0.3 2.3 0.3 2.3 0.2 2.4 0.2 2.3 0.2 2.4 0.2 2.3 0.1 2.4 0.1 2.3 0.1 2.3 0.1 2.4 0 2.3 0.1 2.3 0 2.3 0 2.4-0.1 2.3 0 2.3-0.1 2.4-0.1 2.4-0.1 2.3-0.1 2.4-0.1 2.4-0.2 2.3-0.2 2.4-0.3 2.3-0.2 2.3-0.3 2.3-0.4 2.1-0.4 2.1-0.4 1.9-0.4 1.7-0.5 1.6-0.5 1.3-0.6 1-0.5 0.7-0.6 0.3-0.7 0.1-0.6 -0.3-0.6 -0.6-0.6 -1-0.6 -1.2-0.5 -1.4-0.5 -1.7-0.5 -1.8-0.5 -2-0.4 -2-0.3 -2.2-0.4 -2.1-0.3z" fill="#a85c20"/>
<path d="M190.1 38.6l-0.5-0.1 -0.5 0 -0.5-0.1 -0.5 0 -0.5-0.1 -0.5 0 -0.5 0 -0.5 0 -0.5 0 -0.5 0 -0.5-0.1 -0.5 0 -0.5 0 -0.5 0.1 -0.5 0 -0.5 0 -0.5 0 -0.5 0 -0.5 0 -0.5 0.1 -0.5 0 -0.5 0 -0.5 0.1 -0.5 0.1 -0.5 0 -0.5 0.1 -0.5 0.1 -0.4 0 -0.5 0.1 -0.4 0.1 -0.3 0.1 -0.3 0.2 -0.3 0.1 -0.2 0.1 -0.1 0.1 0 0.2 0 0.1 0.1 0.1 0.2 0.2 0.2 0.1 0.3 0.1 0.4 0.1 0.3 0.1 0.5 0.1 0.4 0.1 0.5 0.1 0.5 0.1 0.5 0 0.5 0.1 0.5 0 0.5 0.1 0.5 0 0.5 0 0.5 0.1 0.5 0 0.5 0 0.5 0 0.5 0 0.5 0 0.5 0 0.5 0 0.5 0 0.5 0 0.5 0 0.5 0 0.5 0 0.5-0.1 0.5 0 0.5 0 0.6-0.1 0.5 0 0.5-0.1 0.5 0 0.5-0.1 0.4-0.1 0.5-0.1 0.4-0.1 0.4-0.1 0.4-0.1 0.3-0.1 0.2-0.1 0.2-0.2 0.1-0.1 0-0.1 0-0.2 -0.1-0.1 -0.2-0.1 -0.3-0.1 -0.3-0.2 -0.3-0.1 -0.4-0.1 -0.4-0.1 -0.5 0 -0.5-0.1 -0.4-0.1z" fill="#ac5620"/>
<path d="M191.2 122.3l-18.9-14.8M193.4 120.5l-16.8-13.1M195.6 118.8l-14.7-11.4M197.8 117.1l-12.6-9.8M199.9 115.4l-10.3-8M202.1 113.8l-8.1-6.3M204.3 112.2l-5.9-4.6M206.4 110.6l-3.6-2.8M208.6 109.1l-1.3-1" fill="none" stroke="#000" stroke-opacity="0.31" stroke-width="1.0" shape-rendering="crispEdges"/>
<path d="M172.3 107.5l-15.7-10.8 -15.3-9.4 -14.8-7.8M176.6 107.4l-15.8-11 -15.4-9.5 -14.9-8M180.9 107.4l-15.9-11.2 -15.5-9.6 -15.1-8.2M185.2 107.3l-16-11.3 -15.6-9.8 -15.2-8.3M189.6 107.4l-16.1-11.5 -15.8-10 -15.3-8.4M194 107.5l-16.3-11.7 -15.8-10.1 -15.5-8.6M198.4 107.6l-16.4-11.9 -16-10.2 -15.5-8.7M202.8 107.8l-16.5-12.1 -16.1-10.4 -15.7-8.9M207.3 108.1l-16.6-12.3 -16.3-10.6 -15.8-9M210.7 107.6l-16.4-12.2 -16-10.5 -15.6-9M212.9 106.1l-15.7-11.6 -15.4-10.1 -15-8.7M215 104.6l-15-11 -14.7-9.7 -14.4-8.3M217.1 103.2l-14.3-10.5 -14-9.2 -13.7-8M219.2 101.8l-13.6-9.9 -13.3-8.8 -13.1-7.7M221.3 100.4l-12.8-9.3 -12.7-8.4 -12.4-7.3M223.4 99l-18.1-12.8 -17.7-10.8M225.5 97.7l-17-12 -16.7-10.3M227.6 96.4l-16-11.2 -15.6-9.7M229.7 95.1l-14.9-10.3 -14.5-9.1M231.8 93.9l-13.8-9.6 -13.5-8.4M233.8 92.7l-12.6-8.8 -12.4-7.8M235.9 91.5l-11.5-7.9 -11.3-7.2M237.9 90.3l-20.5-13.6M240 89.2l-18.2-12.1M242 88.1l-15.8-10.6M244 87l-13.5-9M246 86l-11.1-7.4M248.1 85l-8.7-5.9M250.1 84l-6.3-4.2M252 83l-3.7-2.5M254 82l-1.2-0.8" fill="none" stroke="#000" stroke-opacity="0.44" stroke-width="1.0" shape-rendering="crispEdges"/>
<path d="M126.5 79.5l-11.4-5.2 -11.1-4.3 -10.8-3.5M130.5 78.9l-11.5-5.2 -11.2-4.4 -10.9-3.6M134.4 78.4l-11.5-5.3 -11.3-4.5 -11-3.6M138.4 77.9l-11.6-5.4 -11.3-4.6 -11.1-3.7M142.4 77.5l-11.7-5.5 -11.4-4.7 -11.1-3.8M146.4 77.1l-11.7-5.6 -11.5-4.8 -11.2-3.8M150.5 76.8l-11.9-5.8 -11.5-4.8 -11.3-4M154.5 76.4l-11.9-5.8 -11.6-4.9 -11.4-4.1M158.6 76.2l-12-6 -11.7-5 -11.5-4.1M162.7 75.9l-12.1-6 -11.8-5.2 -11.5-4.2M166.8 75.7l-12.2-6.1 -11.9-5.3 -11.6-4.3M170.9 75.6l-12.2-6.3 -12-5.3 -11.7-4.4M175.1 75.5l-12.4-6.4 -12-5.5 -11.8-4.5M179.2 75.4l-12.4-6.5 -12.2-5.6 -11.8-4.6M183.4 75.4l-12.5-6.7 -12.3-5.6 -11.9-4.7M187.6 75.4l-12.6-6.8 -12.3-5.7 -12.1-4.9M191.8 75.4l-12.7-6.8 -12.4-5.9 -12.2-5M196 75.5l-12.8-7 -12.5-6 -12.2-5M200.3 75.7l-12.9-7.2 -12.6-6.1 -12.3-5.1M204.5 75.9l-12.9-7.3 -12.7-6.3 -12.5-5.2M208.8 76.1l-13-7.4 -12.8-6.4 -12.6-5.4M213.1 76.4l-13.1-7.5 -12.9-6.6 -12.7-5.5M217.4 76.7l-13.2-7.7 -13-6.6 -12.7-5.7M221.8 77.1l-13.4-7.8 -13.1-6.8 -12.8-5.8M226.2 77.5l-13.5-8 -13.2-6.9 -12.9-5.9M230.5 78l-13.5-8.1 -13.3-7.1 -13.1-6M234.9 78.6l-13.6-8.4 -13.4-7.2 -13.2-6.2M239.4 79.1l-13.8-8.4 -13.5-7.4 -13.3-6.3M243.8 79.8l-13.9-8.7 -13.6-7.5 -13.4-6.5M248.3 80.5l-14-8.9 -13.8-7.7 -13.4-6.6M252.8 81.2l-14.2-9 -13.8-7.9 -13.6-6.7M256 81.1l-13.8-8.8 -13.5-7.7 -13.3-6.7M258 80.2l-13.1-8.3 -12.8-7.3 -12.5-6.4M259.9 79.4l-18.3-11.4 -17.8-9.4M261.9 78.5l-17.2-10.6 -16.7-8.9M263.8 77.7l-15.9-9.8 -15.7-8.5M265.8 76.9l-14.8-9.1 -14.5-7.9M267.7 76.2l-13.6-8.4 -13.4-7.3M269.6 75.4l-12.4-7.6 -12.2-6.7M271.5 74.7l-11.2-6.8 -11-6.2M273.4 74l-19.8-11.6M275.3 73.4l-17.3-10.2M277.2 72.7l-14.9-8.8M279.1 72.1l-12.4-7.3M281 71.5l-9.9-5.8M282.8 71l-7.3-4.4M284.7 70.4l-4.8-2.8M286.5 69.9l-2.2-1.3" fill="none" stroke="#000" stroke-opacity="0.6" stroke-width="1.0" shape-rendering="crispEdges"/>
<path d="M93.2 66.5l-11.9-2.9 -11.4-1.9 -11.1-1M96.9 65.7l-12.4-3.1 -12-2 -11.6-1M100.6 65l-12.9-3.3 -12.5-2.1 -12.1-1M104.4 64.2l-13.5-3.5 -13.1-2.2 -12.6-0.9M108.2 63.5l-14.1-3.6 -13.6-2.3 -13.2-1M112 62.9l-11.1-3.1 -10.8-2.2 -10.4-1.4 -10.2-0.6M115.8 62.2l-11.5-3.2 -11.2-2.3 -10.9-1.4 -10.6-0.6M119.6 61.6l-12-3.4 -11.6-2.4 -11.3-1.5 -11-0.6M123.4 61.1l-12.4-3.6 -12.1-2.6 -11.7-1.5 -11.4-0.6M127.3 60.5l-12.9-3.8 -12.6-2.6 -12.1-1.6 -11.8-0.5M131.1 60l-13.4-3.9 -12.9-2.8 -12.6-1.7 -12.2-0.5M135 59.6l-13.9-4.2 -13.4-2.9 -13-1.7 -12.6-0.5M138.9 59.1l-14.4-4.4 -13.9-3 -13.4-1.7 -13-0.5M142.8 58.7l-11.9-3.8 -11.6-2.8 -11.3-2 -11-1.1 -10.7-0.3M146.7 58.4l-12.3-4 -12-3 -11.7-2.1 -11.3-1.1 -11-0.2M150.6 58l-12.7-4.2 -12.4-3.1 -12-2.1 -11.7-1.1 -11.3-0.3M154.5 57.7l-13.1-4.3 -12.8-3.3 -12.4-2.2 -12-1.2 -11.7-0.2M158.5 57.5l-13.5-4.6 -13.2-3.4 -12.8-2.3 -12.4-1.2 -12-0.1M162.5 57.3l-14-4.8 -13.6-3.6 -13.1-2.4 -12.8-1.2 -12.3-0.1M166.4 57.1l-14.3-5.1 -14-3.7 -13.6-2.4 -13.1-1.3 -12.7 0M170.4 56.9l-12.3-4.5 -12.1-3.5 -11.8-2.5 -11.5-1.7 -11.1-0.8 -10.9 0.1M174.4 56.8l-12.7-4.7 -12.4-3.6 -12.1-2.7 -11.8-1.7 -11.5-0.8 -11.1 0.1M178.5 56.7l-13.1-4.8 -12.8-3.9 -12.5-2.7 -12.1-1.8 -11.8-0.8 -11.4 0.1M182.5 56.7l-13.5-5.1 -13.1-4 -12.8-2.9 -12.5-1.8 -12-0.8 -11.8 0.2M186.6 56.7l-13.9-5.3 -13.5-4.2 -13.2-2.9 -12.7-1.9 -12.4-0.9 -12 0.2M190.6 56.8l-14.2-5.6 -13.9-4.3 -13.5-3.1 -13.1-2 -12.7-0.8 -12.3 0.2M194.7 56.8l-14.6-5.8 -14.3-4.4 -13.8-3.3 -13.5-2 -13-0.8 -12.6 0.3M198.8 57l-12.9-5.3 -12.6-4.2 -12.3-3.3 -12-2.3 -11.7-1.4 -11.4-0.5 -11 0.3M202.9 57.1l-13.2-5.5 -12.9-4.4 -12.7-3.4 -12.3-2.4 -12-1.4 -11.6-0.5 -11.3 0.4M207.1 57.3l-13.6-5.7 -13.3-4.6 -12.9-3.5 -12.6-2.5 -12.3-1.4 -12-0.5 -11.5 0.4M211.2 57.6l-13.9-6 -13.6-4.7 -13.3-3.7 -12.9-2.6 -12.6-1.5 -12.2-0.5 -11.9 0.5M215.4 57.9l-14.3-6.2 -14-5 -13.6-3.8 -13.2-2.6 -12.9-1.6 -12.5-0.5 -12.1 0.5M219.6 58.2l-14.7-6.4 -14.3-5.2 -13.9-3.9 -13.6-2.8 -13.1-1.6 -12.8-0.5 -12.4 0.6M223.8 58.6l-13.2-6 -12.9-4.9 -12.5-3.9 -12.3-2.9 -12-2 -11.7-1.2 -11.4-0.2 -11.1 0.6M228 59l-13.5-6.2 -13.2-5.1 -12.9-4 -12.5-3.1 -12.3-2.1 -12-1.1 -11.6-0.3 -11.3 0.7M232.2 59.4l-13.8-6.4 -13.5-5.2 -13.2-4.3 -12.8-3.1 -12.6-2.2 -12.2-1.1 -11.9-0.3 -11.5 0.7M236.5 59.9l-14.2-6.6 -13.8-5.5 -13.5-4.4 -13.1-3.2 -12.9-2.3 -12.5-1.2 -12.1-0.2 -11.8 0.7M240.7 60.5l-14.4-6.9 -14.2-5.7 -13.8-4.5 -13.4-3.4 -13.2-2.3 -12.7-1.2 -12.4-0.3 -12.1 0.8M245 61.1l-14.7-7.2 -14.4-5.8 -14.1-4.7 -13.7-3.5 -13.4-2.4 -13-1.3 -12.6-0.2 -12.3 0.8M249.3 61.7l-14.8-7.3 -14.5-6 -14.2-4.8 -13.8-3.7 -13.5-2.5 -13.1-1.4 -12.7-0.3 -12.4 0.7M253.6 62.4l-14.9-7.4 -14.6-6.2 -14.3-5 -13.9-3.8 -13.5-2.6 -13.2-1.5 -12.9-0.4 -12.4 0.6M258 63.2l-15.1-7.7 -14.7-6.3 -14.3-5.1 -14-3.9 -13.7-2.8 -13.3-1.6 -12.9-0.5 -12.5 0.5M262.3 63.9l-15.1-7.8 -14.8-6.5 -14.5-5.2 -14.1-4.1 -13.7-2.8 -13.4-1.8 -13-0.6 -12.7 0.4M266.7 64.8l-15.2-8 -14.9-6.7 -14.6-5.4 -14.2-4.2 -13.9-3 -13.4-1.8 -13.2-0.8 -12.7 0.3M271.1 65.7l-15.3-8.2 -15-6.8 -14.7-5.6 -14.3-4.3 -14-3.2 -13.6-1.9 -13.2-0.9 -12.8 0.2M275.5 66.6l-15.4-8.3 -15.1-7.1 -14.8-5.7 -14.4-4.5 -14.1-3.2 -13.7-2.1 -13.3-1 -12.9 0.1M279.9 67.6l-13.8-7.7 -13.6-6.5 -13.3-5.6 -13-4.5 -12.7-3.6 -12.5-2.6 -12.2-1.7 -11.8-0.8 -11.6 0.1M284.3 68.6l-13.9-7.8 -13.6-6.7 -13.4-5.7 -13.1-4.7 -12.9-3.7 -12.5-2.7 -12.3-1.8 -11.9-0.9 -11.7-0.1M288.4 69.4l-14-7.9 -13.7-6.8 -13.4-5.8 -13.2-4.8 -12.8-3.8 -12.6-2.9 -12.4-1.9 -12-1 -11.7-0.1M290.2 69l-15.4-8.7 -15.1-7.3 -14.8-6.1 -14.4-4.8 -14.1-3.6 -13.7-2.5 -13.4-1.4 -13.1-0.3M292 68.5l-15.1-8.4 -14.8-7.2 -14.6-5.9 -14.2-4.8 -13.8-3.6 -13.6-2.5 -13.2-1.4 -12.8-0.4M293.8 68.1l-14.8-8.2 -14.6-7 -14.3-5.9 -13.9-4.7 -13.7-3.6 -13.3-2.5 -13-1.5 -12.7-0.4M295.6 67.7l-14.5-8 -14.3-6.9 -14.1-5.7 -13.7-4.7 -13.4-3.5 -13.1-2.5 -12.8-1.6 -12.5-0.5M297.4 67.4l-14.3-7.9 -14-6.7 -13.8-5.6 -13.5-4.6 -13.2-3.5 -12.9-2.6 -12.6-1.5 -12.3-0.7M299.2 67l-14-7.6 -13.8-6.6 -13.5-5.5 -13.2-4.5 -13-3.5 -12.7-2.6 -12.4-1.6 -12.1-0.7M301 66.7l-13.7-7.5 -13.6-6.4 -13.2-5.4 -13-4.4 -12.8-3.5 -12.4-2.6 -12.2-1.6 -11.9-0.8M302.8 66.4l-15.4-8.2 -15.1-6.9 -14.7-5.7 -14.5-4.5 -14.1-3.3 -13.7-2.1 -13.4-1.1M304.5 66.1l-15-8 -14.8-6.7 -14.5-5.6 -14.1-4.4 -13.9-3.3 -13.5-2.2 -13.1-1.1M306.3 65.9l-14.7-7.8 -14.5-6.6 -14.2-5.5 -13.9-4.3 -13.5-3.3 -13.3-2.2 -12.9-1.2M308 65.6l-14.4-7.5 -14.1-6.5 -13.9-5.3 -13.6-4.3 -13.3-3.3 -13-2.2 -12.7-1.3M309.8 65.4l-14.1-7.3 -13.9-6.3 -13.5-5.3 -13.4-4.2 -13-3.2 -12.7-2.3 -12.5-1.4M311.5 65.2l-13.8-7.1 -13.5-6.1 -13.3-5.2 -13-4.1 -12.8-3.3 -12.5-2.3 -12.2-1.4M313.2 65.1l-15.6-8 -15.4-6.7 -15-5.4 -14.7-4.2 -14.4-3 -14-1.8M314.9 64.9l-15.2-7.7 -15-6.6 -14.7-5.3 -14.4-4.1 -14-2.9 -13.7-1.9M316.6 64.8l-14.9-7.5 -14.6-6.4 -14.3-5.2 -14-4 -13.8-3 -13.4-1.9M318.3 64.7l-14.5-7.3 -14.2-6.2 -14-5 -13.7-4.1 -13.4-2.9 -13.1-2M320 64.6l-14.1-7 -13.9-6 -13.6-5 -13.4-4 -13-2.9 -12.8-2.1M321.7 64.6l-13.7-6.9 -13.5-5.8 -13.3-4.9 -13-3.9 -12.8-2.9 -12.5-2.1M323.3 64.6l-13.3-6.7 -13.1-5.6 -12.9-4.8 -12.7-3.8 -12.4-3 -12.2-2.1" fill="none" stroke="#000" stroke-opacity="0.75" stroke-width="1.0" shape-rendering="crispEdges"/>
<path d="M191.2 122.3l18.6-14.1M189 120.5l16.6-12.5M186.8 118.7l14.5-11M184.6 116.9l12.4-9.3M182.4 115.2l10.3-7.8M180.3 113.5l8.1-6.1M178.1 111.9l6-4.6M175.9 110.2l3.8-2.8M173.8 108.6l1.5-1.1" fill="none" stroke="#000" stroke-opacity="0.31" stroke-width="1.0" shape-rendering="crispEdges"/>
<path d="M209.8 108.2l15.5-10.3 15.1-8.9 14.6-7.4M205.6 108l15.6-10.5 15.1-9 14.8-7.6M201.3 107.7l15.7-10.6 15.3-9.1 14.9-7.7M197 107.6l15.8-10.8 15.5-9.3 15-7.8M192.7 107.4l16-10.9 15.5-9.4 15.1-8M188.4 107.4l16.1-11.2 15.6-9.5 15.2-8.1M184.1 107.3l16.1-11.2 15.8-9.8 15.3-8.2M179.7 107.4l16.3-11.5 15.9-9.9 15.4-8.3M175.3 107.5l16.4-11.7 16-10 15.6-8.5M171.6 107.1l16.3-11.7 15.9-10 15.5-8.5M169.5 105.5l15.6-11.1 15.3-9.6 14.8-8.2M167.4 104l14.9-10.6 14.6-9.2 14.3-7.9M165.2 102.5l14.3-10 13.9-8.8 13.7-7.7M163.1 101l13.6-9.4 13.3-8.4 13-7.4M161 99.6l12.9-9 12.6-7.9 12.4-7.1M158.9 98.2l18.2-12.3 17.6-10.4M156.8 96.8l17.1-11.5 16.7-9.9M154.7 95.5l16.1-10.8 15.6-9.3M152.6 94.1l15-10 14.6-8.7M150.6 92.8l13.8-9.2 13.6-8.2M148.5 91.6l12.8-8.5 12.5-7.6M146.5 90.3l11.6-7.7 11.5-7M144.4 89.1l20.9-13.3M142.4 87.9l18.6-11.9M140.3 86.8l16.4-10.5M138.3 85.6l14.1-9M136.3 84.5l11.8-7.5M134.3 83.4l9.4-6M132.3 82.4l7-4.6M130.3 81.4l4.6-3M128.3 80.4l2.2-1.5" fill="none" stroke="#000" stroke-opacity="0.44" stroke-width="1.0" shape-rendering="crispEdges"/>
<path d="M255 81.6l11.3-4.9 11-4 10.8-3.2M251.1 80.9l11.4-4.9 11.1-4.1 10.8-3.3M247.2 80.3l11.4-5 11.2-4.2 10.8-3.3M243.3 79.7l11.5-5.1 11.2-4.3 10.9-3.4M239.3 79.1l11.6-5.2 11.3-4.3 11-3.5M235.3 78.6l11.7-5.3 11.4-4.4 11-3.6M231.3 78.1l11.8-5.4 11.4-4.5 11.2-3.6M227.3 77.7l11.8-5.5 11.6-4.6 11.2-3.7M223.3 77.3l11.9-5.6 11.6-4.7 11.3-3.8M219.3 76.9l11.9-5.7 11.7-4.8 11.4-3.9M215.2 76.6l12.1-5.8 11.7-4.9 11.5-4M211.2 76.3l12.1-5.9 11.8-5 11.6-4.1M207.1 76l12.2-6 11.9-5 11.7-4.2M203 75.8l12.3-6.1 12-5.2 11.7-4.2M198.9 75.6l12.3-6.2 12.1-5.3 11.9-4.3M194.7 75.5l12.5-6.3 12.2-5.4 11.9-4.5M190.6 75.4l12.5-6.4 12.3-5.5 12-4.6M186.4 75.4l12.6-6.6 12.4-5.6 12.1-4.7M182.2 75.4l12.7-6.7 12.5-5.7 12.2-4.8M178 75.4l12.8-6.8 12.6-5.8 12.2-4.9M173.8 75.5l12.9-7 12.6-5.9 12.4-5M169.6 75.6l12.9-7.1 12.8-6 12.4-5.1M165.3 75.8l13.1-7.2 12.8-6.2 12.5-5.2M161 76l13.2-7.3 12.9-6.4 12.6-5.3M156.7 76.3l13.3-7.5 13-6.5 12.7-5.4M152.4 76.6l13.4-7.6 13.1-6.6 12.8-5.6M148.1 77l13.4-7.8 13.3-6.8 12.9-5.7M143.7 77.4l13.6-8 13.3-6.9 13-5.8M139.3 77.8l13.7-8.1 13.4-7 13.2-6M134.9 78.4l13.8-8.3 13.5-7.2 13.3-6.1M130.5 78.9l13.9-8.4 13.6-7.3 13.4-6.3M126.3 79.4l13.9-8.6 13.7-7.4 13.4-6.4M124.3 78.4l13.2-8 13-7.1 12.7-6.1M122.4 77.5l12.4-7.5 12.2-6.7 12-5.9M120.4 76.6l17.4-10.3 17.1-8.6M118.5 75.7l16.3-9.6 15.9-8.1M116.5 74.9l15.2-8.9 14.8-7.6M114.6 74.1l14-8.2 13.7-7.1M112.7 73.3l12.8-7.5 12.6-6.6M110.8 72.5l11.6-6.8 11.4-6M108.8 71.8l20.8-11.6M106.9 71.1l18.4-10.3M105.1 70.4l15.9-9M103.2 69.7l13.5-7.6M101.3 69l11.1-6.2M99.4 68.4l8.6-4.8M97.6 67.8l6.1-3.4M95.7 67.3l3.6-2.1M93.9 66.7l1-0.6" fill="none" stroke="#000" stroke-opacity="0.6" stroke-width="1.0" shape-rendering="crispEdges"/>
<path d="M288.1 69.5l12.1-2.7 11.8-1.6 11.3-0.6M284.4 68.6l12.6-2.8 12.3-1.8 11.9-0.6M280.6 67.8l13.3-3.1 12.8-1.8 12.4-0.6M276.9 66.9l13.8-3.2 13.4-1.8 12.8-0.6M273.2 66.1l14.4-3.4 13.8-1.9 13.4-0.6M269.4 65.3l11.3-2.8 11-1.9 10.6-1.1 10.4-0.3M265.7 64.6l11.7-3 11.4-2 11-1.2 10.8-0.2M261.9 63.9l12.2-3.2 11.8-2.1 11.4-1.2 11.1-0.2M258.1 63.2l12.6-3.3 12.3-2.2 11.9-1.2 11.4-0.2M254.3 62.5l13.1-3.4 12.7-2.4 12.3-1.2 11.8-0.2M250.5 61.9l13.6-3.6 13.1-2.5 12.7-1.2 12.2-0.2M246.7 61.3l14-3.8 13.6-2.6 13.1-1.2 12.7-0.1M242.9 60.8l14.4-4.1 14.1-2.6 13.5-1.3 13.1-0.1M239 60.3l12-3.5 11.7-2.6 11.4-1.7 11.1-0.7 10.7 0.1M235.2 59.8l12.4-3.7 12-2.7 11.8-1.7 11.4-0.8 11 0.2M231.3 59.3l12.8-3.8 12.4-2.8 12.1-1.8 11.8-0.8 11.3 0.2M227.4 58.9l13.2-4 12.8-3 12.5-1.8 12.1-0.8 11.7 0.2M223.5 58.5l13.6-4.2 13.2-3.1 12.8-1.9 12.5-0.8 12 0.3M219.6 58.2l14-4.4 13.6-3.2 13.2-2 12.8-0.8 12.4 0.3M215.6 57.9l14.5-4.7 14-3.3 13.6-2 13.1-0.9 12.7 0.4M211.7 57.6l12.4-4.1 12.1-3.2 11.8-2.2 11.5-1.4 11.2-0.4 10.8 0.4M207.7 57.4l12.8-4.4 12.4-3.3 12.2-2.3 11.8-1.4 11.4-0.4 11.2 0.5M203.7 57.2l13.2-4.6 12.8-3.4 12.4-2.4 12.2-1.4 11.7-0.5 11.4 0.5M199.7 57l13.5-4.7 13.2-3.6 12.8-2.5 12.4-1.5 12.1-0.4 11.7 0.5M195.7 56.9l13.9-5 13.5-3.7 13.2-2.6 12.7-1.5 12.4-0.4 12 0.6M191.7 56.8l14.3-5.2 13.8-3.9 13.5-2.7 13.1-1.5 12.7-0.4 12.3 0.6M187.7 56.7l14.6-5.3 14.2-4.1 13.9-2.8 13.4-1.6 13-0.4 12.6 0.7M183.6 56.7l12.9-4.9 12.6-3.8 12.3-2.9 12-2 11.6-1 11.4-0.1 11 0.7M179.6 56.7l13.2-5.1 12.9-4 12.6-3 12.3-2 11.9-1 11.6-0.2 11.3 0.8M175.5 56.8l13.6-5.3 13.2-4.2 12.9-3.1 12.6-2.1 12.2-1.1 11.9-0.1 11.5 0.8M171.4 56.9l13.9-5.5 13.6-4.4 13.2-3.2 12.9-2.2 12.5-1.1 12.2-0.1 11.8 0.9M167.3 57l14.2-5.7 13.9-4.5 13.6-3.4 13.2-2.2 12.8-1.2 12.4-0.1 12.1 1M163.2 57.2l14.6-5.9 14.2-4.8 13.9-3.4 13.5-2.4 13.1-1.1 12.7-0.1 12.3 1M159 57.4l15-6.2 14.6-4.9 14.1-3.6 13.9-2.4 13.4-1.2 13 0 12.6 1M154.9 57.7l13.4-5.7 13.1-4.7 12.8-3.6 12.5-2.7 12.2-1.7 11.9-0.7 11.6 0.1 11.2 1M150.7 58l13.7-5.9 13.4-4.9 13.2-3.8 12.8-2.7 12.4-1.7 12.2-0.8 11.8 0.1 11.5 1.1M146.5 58.4l14-6.2 13.8-5 13.4-4 13.1-2.8 12.7-1.8 12.5-0.8 12 0.2 11.7 1.1M142.3 58.8l14.4-6.5 14-5.2 13.7-4 13.4-3 13.1-1.8 12.6-0.9 12.3 0.2 12 1.2M138.1 59.2l14.6-6.6 14.2-5.4 14-4.2 13.5-3.1 13.3-1.9 12.8-0.9 12.5 0.2 12.2 1.1M133.8 59.7l14.7-6.8 14.4-5.5 14-4.4 13.7-3.1 13.3-2.1 12.9-1 12.6 0.1 12.2 1.1M129.6 60.2l14.7-6.9 14.5-5.7 14.1-4.5 13.8-3.3 13.4-2.1 13-1.1 12.7-0.1 12.3 1M125.3 60.8l14.9-7.1 14.5-5.8 14.2-4.6 13.9-3.5 13.5-2.3 13.1-1.1 12.8-0.2 12.4 0.9M121 61.4l15-7.2 14.6-6 14.3-4.8 14-3.5 13.6-2.4 13.2-1.3 12.9-0.3 12.4 0.8M116.7 62.1l15-7.4 14.8-6.2 14.4-4.9 14-3.7 13.7-2.5 13.4-1.4 12.9-0.3 12.6 0.7M112.4 62.8l15.1-7.6 14.8-6.3 14.5-5 14.2-3.8 13.8-2.7 13.4-1.5 13.1-0.5 12.6 0.6M108 63.6l15.3-7.8 14.9-6.4 14.6-5.2 14.2-4 13.9-2.8 13.5-1.6 13.2-0.6 12.8 0.5M103.7 64.4l15.3-8 15-6.6 14.7-5.3 14.4-4.1 13.9-2.9 13.7-1.8 13.2-0.7 12.9 0.5M99.3 65.2l15.4-8.1 15.1-6.7 14.8-5.5 14.5-4.3 14.1-3 13.7-1.9 13.3-0.8 13 0.3M94.9 66.1l15.5-8.2 15.2-7 14.9-5.6 14.6-4.4 14.2-3.2 13.8-2 13.4-0.9 13.1 0.2M92 66.2l15.5-8.2 15.1-7 14.7-5.6 14.5-4.4 14.1-3.3 13.7-2 13.4-1 13 0.1M90.2 65.7l15.2-8 14.8-6.8 14.5-5.6 14.3-4.3 13.8-3.3 13.6-2.1 13.2-1 12.8 0M88.4 65.2l14.9-7.8 14.6-6.7 14.3-5.4 13.9-4.3 13.7-3.2 13.3-2.1 13-1.1 12.7-0.1M86.6 64.8l14.6-7.7 14.3-6.5 14.1-5.3 13.7-4.3 13.5-3.2 13.1-2.1 12.8-1.1 12.5-0.2M84.8 64.3l14.3-7.4 14.1-6.4 13.8-5.2 13.5-4.2 13.2-3.2 12.9-2.1 12.6-1.2 12.3-0.3M83 63.9l14.1-7.2 13.8-6.2 13.5-5.2 13.3-4.1 13-3.2 12.7-2.1 12.4-1.3 12.1-0.3M81.2 63.6l13.8-7.1 13.5-6.1 13.3-5.1 13.1-4 12.7-3.1 12.5-2.2 12.2-1.3 11.9-0.4M79.4 63.2l15.5-7.8 15.1-6.5 14.8-5.3 14.5-4.1 14.1-2.8 13.8-1.8 13.4-0.6M77.7 62.9l15.1-7.6 14.8-6.4 14.5-5.2 14.2-4 13.9-2.9 13.5-1.8 13.2-0.7M75.9 62.6l14.8-7.5 14.5-6.2 14.2-5.1 14-3.9 13.6-2.9 13.3-1.8 12.9-0.8M74.2 62.3l14.4-7.2 14.2-6.1 14-5 13.6-3.9 13.4-2.9 13-1.8 12.8-0.9M72.4 62l14.2-7 13.9-5.9 13.6-4.9 13.4-3.9 13.1-2.8 12.8-1.9 12.5-1M70.7 61.8l13.8-6.8 13.6-5.8 13.4-4.8 13-3.8 12.9-2.9 12.5-1.9 12.3-1M68.9 61.5l15.8-7.6 15.4-6.3 15.1-5 14.8-3.7 14.4-2.5 14.1-1.4M67.2 61.4l15.4-7.5 15.1-6.1 14.7-4.9 14.5-3.7 14.1-2.5 13.8-1.5M65.5 61.2l15-7.2 14.7-6 14.4-4.8 14.2-3.7 13.8-2.5 13.4-1.5M63.8 61l14.6-6.9 14.4-5.9 14-4.7 13.8-3.6 13.5-2.6 13.2-1.5M62.1 60.9l14.3-6.7 13.9-5.7 13.8-4.6 13.4-3.6 13.2-2.6 12.9-1.6M60.4 60.8l13.9-6.5 13.6-5.5 13.4-4.6 13.1-3.5 12.8-2.6 12.6-1.7M58.8 60.7l13.4-6.3 13.3-5.4 13-4.4 12.8-3.4 12.5-2.6 12.3-1.8" fill="none" stroke="#000" stroke-opacity="0.75" stroke-width="1.0" shape-rendering="crispEdges"/>
<path d="M191.7 122.9l6.8-5.4 6.7-5 6.6-4.8 6.6-4.5 6.5-4.2 6.4-3.9 6.4-3.7 6.3-3.5 6.2-3.2 6.1-2.9 6.1-2.7" fill="none" stroke="#dcdc00" stroke-width="0.8"/>
<path d="M58.8 60.7l3.6-1.8 3.7-1.7 3.6-1.7 3.6-1.6 3.6-1.5 3.6-1.4 3.5-1.4 3.6-1.3 3.5-1.3 3.5-1.1 3.5-1.1 3.5-1.1 3.4-1 3.5-0.9 3.4-0.8 3.4-0.8 3.4-0.7 3.3-0.6 3.4-0.6 3.3-0.5 3.3-0.5 3.3-0.4 3.2-0.3 3-0.3 3.1-0.3 3.1-0.3 3.2-0.2 3-0.2 3.1-0.2 3.2-0.2 3.1-0.2 3.1-0.1 3.1-0.1 3.1-0.1 3.1-0.1 3.1 0 3.1 0 3.1 0 3.1 0 3.1 0 3.1 0.1 3.1 0.1 3.1 0.1 3.1 0.1 3.1 0.1 3.1 0.2 3.1 0.2 3.1 0.2 3.1 0.2 3.1 0.3 3.1 0.3 3.1 0.3 3.1 0.3 3.1 0.3 3.1 0.4 3.1 0.3 3.1 0.4 3.1 0.5 3.3 0.5 3.3 0.5 3.3 0.6 3.4 0.7 3.3 0.8 3.4 0.8 3.4 0.8 3.4 1 3.4 1 3.5 1 3.5 1.2 3.4 1.2 3.5 1.2 3.5 1.4 3.6 1.4 3.5 1.5 3.6 1.5 3.6 1.6 3.6 1.7 3.6 1.7 3.6 1.9 3.6 1.9 0 0 -2.8 0 -2.9 0.1 -2.9 0.2 -2.9 0.3 -2.9 0.3 -3 0.4 -3 0.5 -3 0.5 -3 0.6 -3.1 0.6 -3.1 0.7 -3.1 0.6 -3.5-0.9 -3.4-0.7 -3.4-0.9 -3.5-0.7 -3.4-0.7 -3.4-0.7 -3.5-0.6 -3.4-0.7 -3.5-0.6 -3.4-0.6 -3.5-0.6 -3.4-0.4 -3.4-0.6 -3.5-0.4 -3.4-0.4 -3.5-0.5 -3.4-0.4 -3.5-0.4 -3.4-0.2 -3.4-0.4 -3.5-0.2 -3.4-0.2 -3.5-0.3 -3.4-0.2 -3.5-0.1 -3.4-0.2 -3.5-0.1 -3.4-0.1 -3.5 0 -3.4 0 -3.5 0 -3.4 0.1 -3.4 0 -3.5 0.1 -3.4 0.2 -3.5 0.1 -3.4 0.1 -3.5 0.3 -3.4 0.3 -3.5 0.2 -3.4 0.3 -3.5 0.4 -3.4 0.3 -3.4 0.4 -3.5 0.3 -3.4 0.5 -3.5 0.5 -3.4 0.5 -3.5 0.5 -3.4 0.5 -3.4 0.6 -3.5 0.6 -3.4 0.7 -3.5 0.7 -3.4 0.6 -3.4 0.7 -3.3-0.1 -3.1-0.8 -3.1-0.7 -3-0.7 -3-0.6 -3-0.6 -3-0.5 -3-0.4 -2.9-0.3 -2.9-0.3 -2.9-0.2 -2.8-0.2z" fill="#000" fill-opacity="0.12"/>
<path d="M58.8 60.7l3.6-1.8 3.7-1.7 3.6-1.7 3.6-1.6 3.6-1.5 3.6-1.4 3.5-1.4 3.6-1.3 3.5-1.3 3.5-1.1 3.5-1.1 3.5-1.1 3.4-1 3.5-0.9 3.4-0.8 3.4-0.8 3.4-0.7 3.3-0.6 3.4-0.6 3.3-0.5 3.3-0.5 3.3-0.4 3.2-0.3 3-0.3 3.1-0.3 3.1-0.3 3.2-0.2 3-0.2 3.1-0.2 3.2-0.2 3.1-0.2 3.1-0.1 3.1-0.1 3.1-0.1 3.1-0.1 3.1 0 3.1 0 3.1 0 3.1 0 3.1 0 3.1 0.1 3.1 0.1 3.1 0.1 3.1 0.1 3.1 0.1 3.1 0.2 3.1 0.2 3.1 0.2 3.1 0.2 3.1 0.3 3.1 0.3 3.1 0.3 3.1 0.3 3.1 0.3 3.1 0.4 3.1 0.3 3.1 0.4 3.1 0.5 3.3 0.5 3.3 0.5 3.3 0.6 3.4 0.7 3.3 0.8 3.4 0.8 3.4 0.8 3.4 1 3.4 1 3.5 1 3.5 1.2 3.4 1.2 3.5 1.2 3.5 1.4 3.6 1.4 3.5 1.5 3.6 1.5 3.6 1.6 3.6 1.7 3.6 1.7 3.6 1.9 3.6 1.9 0 0 -2.8 0 -2.9 0.1 -2.9 0.2 -2.9 0.3 -2.9 0.3 -3 0.4 -3.1 0.1 -3.3-0.9 -3.4-0.9 -3.4-0.9 -3.4-0.8 -3.3-0.8 -3.4-0.8 -3.4-0.8 -3.4-0.8 -3.3-0.7 -3.4-0.7 -3.4-0.6 -3.4-0.7 -3.4-0.5 -3.4-0.6 -3.3-0.6 -3.4-0.5 -3.4-0.5 -3.4-0.5 -3.4-0.4 -3.4-0.4 -3.4-0.4 -3.3-0.3 -3.4-0.5 -3.4-0.3 -3.4-0.2 -3.4-0.3 -3.4-0.3 -3.4-0.1 -3.4-0.1 -3.3-0.3 -3.4-0.1 -3.4-0.1 -3.4 0 -3.4-0.1 -3.4 0 -3.4 0 -3.4 0 -3.4 0.1 -3.4 0.2 -3.3 0 -3.4 0.2 -3.4 0.1 -3.4 0.2 -3.4 0.3 -3.4 0.2 -3.4 0.3 -3.4 0.3 -3.3 0.3 -3.4 0.4 -3.4 0.4 -3.4 0.4 -3.4 0.5 -3.4 0.4 -3.4 0.5 -3.3 0.5 -3.4 0.6 -3.4 0.6 -3.4 0.5 -3.4 0.7 -3.4 0.6 -3.3 0.7 -3.4 0.7 -3.4 0.8 -3.4 0.7 -3.4 0.8 -3.3 0.8 -3.2 0.3 -3-0.5 -3-0.4 -2.9-0.3 -2.9-0.3 -2.9-0.2 -2.8-0.2z" fill="#000" fill-opacity="0.5"/>
<path d="M58.8 60.7l3.6-1.8 3.7-1.7 3.6-1.7 3.6-1.6 3.6-1.5 3.6-1.4 3.5-1.4 3.6-1.3 3.5-1.3 3.5-1.1 3.5-1.1 3.5-1.1 3.4-1 3.5-0.9 3.4-0.8 3.4-0.8 3.4-0.7 3.3-0.6 3.4-0.6 3.3-0.5 3.3-0.5 3.3-0.4 3.2-0.3 3-0.3 3.1-0.3 3.1-0.3 3.2-0.2 3-0.2 3.1-0.2 3.2-0.2 3.1-0.2 3.1-0.1 3.1-0.1 3.1-0.1 3.1-0.1 3.1 0 3.1 0 3.1 0 3.1 0 3.1 0 3.1 0.1 3.1 0.1 3.1 0.1 3.1 0.1 3.1 0.1 3.1 0.2 3.1 0.2 3.1 0.2 3.1 0.2 3.1 0.3 3.1 0.3 3.1 0.3 3.1 0.3 3.1 0.3 3.1 0.4 3.1 0.3 3.1 0.4 3.1 0.5 3.3 0.5 3.3 0.5 3.3 0.6 3.4 0.7 3.3 0.8 3.4 0.8 3.4 0.8 3.4 1 3.4 1 3.5 1 3.5 1.2 3.4 1.2 3.5 1.2 3.5 1.4 3.6 1.4 3.5 1.5 3.6 1.5 3.6 1.6 3.6 1.7 3.6 1.7 3.6 1.9 3.6 1.9 0 0 -3-0.5 -3.3-1 -3.3-1 -3.3-1 -3.3-0.9 -3.3-1 -3.3-0.9 -3.3-0.8 -3.3-0.9 -3.3-0.8 -3.3-0.8 -3.3-0.8 -3.3-0.7 -3.3-0.7 -3.3-0.8 -3.3-0.6 -3.3-0.6 -3.4-0.7 -3.3-0.6 -3.3-0.6 -3.3-0.5 -3.3-0.5 -3.3-0.5 -3.3-0.5 -3.4-0.5 -3.3-0.3 -3.3-0.4 -3.3-0.4 -3.3-0.4 -3.3-0.3 -3.4-0.3 -3.3-0.2 -3.3-0.3 -3.3-0.2 -3.3-0.2 -3.3-0.1 -3.4-0.2 -3.3-0.1 -3.3-0.2 -3.3 0 -3.3-0.1 -3.4 0.1 -3.3 0 -3.3 0 -3.3 0.1 -3.3 0.1 -3.3 0 -3.4 0.2 -3.3 0.1 -3.3 0.2 -3.3 0.3 -3.3 0.2 -3.4 0.3 -3.3 0.3 -3.3 0.2 -3.3 0.4 -3.3 0.4 -3.3 0.3 -3.4 0.4 -3.3 0.5 -3.3 0.5 -3.3 0.4 -3.3 0.6 -3.3 0.5 -3.3 0.6 -3.3 0.6 -3.3 0.6 -3.4 0.6 -3.3 0.7 -3.3 0.7 -3.3 0.7 -3.3 0.7 -3.3 0.8 -3.3 0.8 -3.3 0.8 -3.3 0.8 -3.3 0.9 -3.3 0.9 -3.3 0.9 -3.2 0.8z" fill="#000" fill-opacity="0.85" stroke="#000" stroke-width="1.2" stroke-linejoin="round"/>
<ellipse cx="191" cy="32.1" rx="1.9" ry="2" fill="#c8481a"/><ellipse cx="191" cy="36.2" rx="1.9" ry="2" fill="#bd4214"/>
<text transform="translate(59.2,123.8) scale(1.000,1.000)" font-size="6.2" text-anchor="end" font-family="Liberation Sans,sans-serif" fill="#2b2b2b">0</text>
<text transform="translate(57.8,103.6) scale(1.000,1.000)" font-size="6.2" text-anchor="end" font-family="Liberation Sans,sans-serif" fill="#2b2b2b">0.01</text>
<text transform="translate(56.5,83.3) scale(1.000,1.000)" font-size="6.2" text-anchor="end" font-family="Liberation Sans,sans-serif" fill="#2b2b2b">0.02</text>
<text transform="translate(55.1,63) scale(1.000,1.000)" font-size="6.2" text-anchor="end" font-family="Liberation Sans,sans-serif" fill="#2b2b2b">0.03</text>
<text transform="translate(53.7,42.8) scale(1.000,1.000)" font-size="6.2" text-anchor="end" font-family="Liberation Sans,sans-serif" fill="#2b2b2b">0.04</text>
<text transform="translate(52.3,22.5) scale(1.000,1.000)" font-size="6.2" text-anchor="end" font-family="Liberation Sans,sans-serif" fill="#2b2b2b">0.05</text>
<text transform="translate(193.8,210.2) scale(1.000,1.000)" font-size="6.2" text-anchor="start" font-family="Liberation Sans,sans-serif" fill="#2b2b2b">4</text>
<text transform="translate(219,201.1) scale(1.000,1.000)" font-size="6.2" text-anchor="start" font-family="Liberation Sans,sans-serif" fill="#2b2b2b">4.6</text>
<text transform="translate(244.1,191.9) scale(1.000,1.000)" font-size="6.2" text-anchor="start" font-family="Liberation Sans,sans-serif" fill="#2b2b2b">5.2</text>
<text transform="translate(269.3,182.8) scale(1.000,1.000)" font-size="6.2" text-anchor="start" font-family="Liberation Sans,sans-serif" fill="#2b2b2b">5.8</text>
<text transform="translate(294.5,173.6) scale(1.000,1.000)" font-size="6.2" text-anchor="start" font-family="Liberation Sans,sans-serif" fill="#2b2b2b">6.4</text>
<text transform="translate(319.6,164.4) scale(1.000,1.000)" font-size="6.2" text-anchor="start" font-family="Liberation Sans,sans-serif" fill="#2b2b2b">7</text>
<text transform="translate(188,209.2) scale(1.000,1.000)" font-size="6.2" text-anchor="end" font-family="Liberation Sans,sans-serif" fill="#2b2b2b">25</text>
<text transform="translate(162.8,200.1) scale(1.000,1.000)" font-size="6.2" text-anchor="end" font-family="Liberation Sans,sans-serif" fill="#2b2b2b">30</text>
<text transform="translate(137.6,190.9) scale(1.000,1.000)" font-size="6.2" text-anchor="end" font-family="Liberation Sans,sans-serif" fill="#2b2b2b">35</text>
<text transform="translate(112.5,181.8) scale(1.000,1.000)" font-size="6.2" text-anchor="end" font-family="Liberation Sans,sans-serif" fill="#2b2b2b">40</text>
<text transform="translate(87.3,172.6) scale(1.000,1.000)" font-size="6.2" text-anchor="end" font-family="Liberation Sans,sans-serif" fill="#2b2b2b">45</text>
<text transform="translate(62.1,163.4) scale(1.000,1.000)" font-size="6.2" text-anchor="end" font-family="Liberation Sans,sans-serif" fill="#2b2b2b">50</text>
<text transform="translate(27.6,203.2) scale(1.000,1.000)" font-size="9.2" text-anchor="start" font-family="Liberation Sans,sans-serif" fill="#1c1c1c">B: Incubation Temp. (<tspan dx="1.6">°C</tspan><tspan dx="1.6">)</tspan></text>
<text transform="translate(291.6,203.2) scale(1.000,1.000)" font-size="9.2" text-anchor="start" font-family="Liberation Sans,sans-serif" fill="#1c1c1c">A: pH</text>
<text transform="translate(26.6,103) scale(1.000,1.000) rotate(-90)" font-size="11.1" text-anchor="middle" font-family="Liberation Serif,serif" fill="#111">Tannin acyl hydrolase</text>
<text x="2.6" y="22.2" font-size="16.5" font-weight="bold" font-family="Liberation Serif,serif" fill="#000">a</text></g>
<g id="pb"><path d="M413.3,143.1L541,110.5L668.7,143.1M411.9,122.9L541,92.3L670.1,122.9M410.5,102.7L541,74.1L671.5,102.7M409.1,82.5L541,55.8L672.9,82.5M407.8,62.2L541,37.6L674.2,62.2M406.4,42L541,19.4L675.6,42M415.4,174.5L406.4,42M438.8,136.6L433.3,37.5M464.4,130.1L460.2,32.9M489.9,123.6L487.2,28.4M515.5,117L514.1,23.9M541,138.8L541,19.4M666.6,174.5L675.6,42M652.8,139.1L658.8,39.2M636.8,135L642,36.3M620.8,130.9L625.1,33.5M604.9,126.8L608.3,30.7M588.9,122.8L591.5,27.9M572.9,118.7L574.7,25M557,114.6L557.8,22.2" fill="none" stroke="#151515" stroke-width="1.05"/>
<polygon points="415.4,174.5 541,220.2 666.6,174.5 541,138.8" fill="#ffff00" stroke="#444" stroke-width="0.7"/>
<path d="M529.4 214.8l7.9 0.3 8 0.2 8.1 0" fill="none" stroke="#7dff1a" stroke-width="0.8"/>
<clipPath id="flb"><polygon points="415.4,174.5 541,220.2 666.6,174.5 541,138.8"/></clipPath>
<ellipse cx="533.4" cy="169.4" rx="92.4" ry="29.4" fill="none" stroke="#a0ff30" stroke-width="0.9" clip-path="url(#flb)"/>
<path d="M541,220.2l1.2,1.6M566.1,211.1l1.2,1.6M591.2,201.9l1.2,1.6M616.4,192.8l1.2,1.6M641.5,183.6l1.2,1.6M666.6,174.5l1.2,1.6M541,220.2l-1.2,1.6M525.3,214.5l-1.2,1.6M509.6,208.8l-1.2,1.6M493.9,203.1l-1.2,1.6M478.2,197.3l-1.2,1.6M462.5,191.6l-1.2,1.6M446.8,185.9l-1.2,1.6M431.1,180.2l-1.2,1.6M415.4,174.5l-1.2,1.6M413.3,143.1l-1.8,-0.5M411.9,122.9l-1.8,-0.5M410.5,102.7l-1.8,-0.5M409.1,82.5l-1.8,-0.5M407.8,62.2l-1.8,-0.5M406.4,42l-1.8,-0.5" fill="none" stroke="#222" stroke-width="0.9"/>
<path d="M541 128l6-4.3 5.9-4 5.9-3.7 5.8-3.5 5.8-3.3 5.7-3 5.7-2.8 5.5-2.6 5.6-2.4 5.4-2.1 5.4-1.9 5.4-1.7 5.2-1.5 5.2-1.3 5.2-1 5.1-0.9 5-0.7 4.9-0.4 4.9-0.3 4.8-0.1 4.7 0.2 4.7 0.2 4.6 0.5 4.5 0.7 4.5 0.8 -5.7-3.4 -5.8-3.3 -5.6-3 -5.7-3 -5.6-2.7 -5.6-2.6 -5.5-2.5 -5.5-2.2 -5.4-2.2 -5.4-1.9 -5.4-1.9 -5.3-1.6 -5.3-1.5 -5.2-1.4 -5.2-1.2 -5.1-1.1 -5.1-0.9 -5-0.8 -5-0.6 -5-0.6 -4.9-0.3 -4.8-0.3 -4.8-0.1 -4.8 0 -4.7 0.2 -4.7-0.8 -4.8-0.7 -4.8-0.5 -4.9-0.4 -4.9-0.2 -4.9 0 -5 0.1 -5.1 0.4 -5.1 0.5 -5.2 0.7 -5.2 0.8 -5.2 1.1 -5.3 1.2 -5.4 1.5 -5.3 1.6 -5.5 1.8 -5.4 2 -5.5 2.2 -5.6 2.5 -5.6 2.6 -5.6 2.8 -5.7 3 -5.7 3.3 -5.7 3.4 -5.7 3.7 4.5-0.1 4.6 0 4.6 0.2 4.8 0.3 4.7 0.5 4.9 0.6 4.9 0.8 5 0.9 5 1.1 5.1 1.3 5.1 1.4 5.3 1.6 5.2 1.7 5.4 2 5.4 2.1 5.5 2.2 5.5 2.5 5.6 2.6 5.6 2.8 5.7 3 5.8 3.2 5.8 3.4 5.9 3.6 5.9 3.7z" fill="#0fbe00"/>
<path d="M409.2 82.6l4.5-0.1 4.5 0 4.7 0.2 4.7 0.3 4.7 0.5 4.9 0.6 4.9 0.7 4.9 1 5 1.1 5.1 1.2 5.1 1.4 5.2 1.6 5.3 1.7 5.3 1.9 5.4 2.1 5.4 2.3 5.5 2.4 5.6 2.6 5.6 2.8 5.7 3 5.7 3.2 5.8 3.3 5.9 3.5 5.9 3.8 5.9 3.9 1.1 0 6-4.2 5.9-4 5.9-3.7 5.8-3.5 5.7-3.2 5.7-3 5.6-2.8 5.6-2.6 5.5-2.3 5.4-2.1 5.4-1.9 5.3-1.7 5.3-1.5 5.1-1.2 5.2-1.1 5-0.8 5-0.7 4.9-0.4 4.9-0.3 4.8-0.1 4.7 0.2 4.7 0.3 4.5 0.4 4.6 0.7 4.4 0.8 -5.5-3.3 -5.5-3.1 -5.5-3 -5.4-2.8 -5.4-2.7 -5.4-2.5 -5.3-2.4 -5.3-2.3 -5.2-2.1 -5.2-1.9 -5.2-1.8 -5.1-1.7 -5.1-1.5 -5.1-1.4 -5-1.2 -4.9-1.1 -5-1 -4.8-0.9 -4.9-0.7 -4.8-0.6 -4.7-0.4 -4.7-0.4 -4.7-0.2 -4.6-0.1 -4.6 0 -4.5 0.2 -4.5-0.8 -4.6-0.7 -4.6-0.5 -4.7-0.4 -4.7-0.2 -4.8 0 -4.8 0.1 -4.8 0.3 -4.9 0.4 -5 0.6 -5 0.7 -5 1 -5.1 1.1 -5.1 1.3 -5.1 1.4 -5.2 1.7 -5.3 1.8 -5.2 2 -5.3 2.2 -5.4 2.3 -5.4 2.6 -5.4 2.7 -5.4 3 -5.5 3.1 -5.5 3.3z" fill="#1ac000"/>
<path d="M409.2 82.6l4.5-0.1 4.5 0 4.7 0.2 4.7 0.3 4.7 0.5 4.9 0.6 4.8 0.7 5 1 5 1.1 5.1 1.2 5.1 1.4 5.2 1.6 5.3 1.7 5.3 1.9 5.4 2.1 5.4 2.3 5.5 2.4 5.6 2.6 5.6 2.8 5.6 3 5.8 3.1 5.8 3.4 5.8 3.5 5.9 3.7 5.4 0.2 7 0 5.8-3.8 5.6-3.6 5.6-3.4 5.6-3.2 5.5-3 5.4-2.7 5.4-2.6 5.3-2.3 5.3-2.1 5.2-2 5.1-1.7 5.1-1.5 5.1-1.3 5-1.2 4.9-0.9 4.8-0.8 4.8-0.5 4.7-0.4 4.7-0.2 4.6-0.1 4.6 0.2 4.4 0.3 4.5 0.5 4.3 0.6 4.3 0.8 -5.5-3.3 -5.5-3.1 -5.5-3 -5.4-2.8 -5.4-2.7 -5.4-2.5 -5.3-2.4 -5.3-2.3 -5.2-2.1 -5.2-1.9 -5.2-1.8 -5.1-1.7 -5.1-1.5 -5.1-1.4 -5-1.2 -4.9-1.1 -5-1 -4.8-0.9 -4.9-0.7 -4.8-0.6 -4.7-0.4 -4.7-0.4 -4.7-0.2 -4.6-0.1 -4.6 0 -4.5 0.2 -4.5-0.8 -4.6-0.7 -4.6-0.5 -4.7-0.4 -4.7-0.2 -4.8 0 -4.8 0.1 -4.8 0.3 -4.9 0.4 -5 0.6 -5 0.7 -5 1 -5.1 1.1 -5.1 1.3 -5.1 1.4 -5.2 1.7 -5.3 1.8 -5.2 2 -5.3 2.2 -5.4 2.3 -5.4 2.6 -5.4 2.7 -5.4 3 -5.5 3.1 -5.5 3.3z" fill="#2ec100"/>
<path d="M409.2 82.6l4.5-0.1 4.5 0 4.6 0.2 4.7 0.3 4.8 0.4 4.8 0.7 4.9 0.7 4.9 1 5 1 5.1 1.3 5.1 1.4 5.2 1.5 5.2 1.8 5.3 1.9 5.4 2 5.4 2.3 5.5 2.4 5.5 2.6 5.6 2.8 5.7 2.9 5.7 3.2 5.8 3.3 5.8 3.5 0.5 0 10.7 0.3 10.8 0.1 2.2 0 5.8-3.7 5.7-3.5 5.7-3.2 5.6-3 5.5-2.8 5.5-2.6 5.4-2.4 5.4-2.1 5.3-1.9 5.2-1.7 5.2-1.6 5.1-1.3 5.1-1.1 5-0.9 4.9-0.7 4.9-0.6 4.8-0.3 4.7-0.2 4.7 0.1 4.6 0.2 4.5 0.4 4.5 0.5 4.4 0.7 -0.5-1.3 -5.6-3.3 -5.6-3.1 -5.6-2.9 -5.5-2.8 -5.4-2.6 -5.5-2.5 -5.4-2.3 -5.3-2.2 -5.3-2 -5.3-1.9 -5.2-1.8 -5.2-1.5 -5.2-1.5 -5.1-1.3 -5-1.1 -5.1-1.1 -4.9-0.8 -5-0.8 -4.8-0.6 -4.9-0.5 -4.8-0.4 -4.7-0.2 -4.7-0.1 -4.7 0 -4.6 0.2 -4.5-0.8 -4.6-0.7 -4.6-0.5 -4.7-0.4 -4.7-0.2 -4.8 0 -4.8 0.1 -4.8 0.3 -4.9 0.4 -5 0.6 -5 0.7 -5 1 -5.1 1.1 -5.1 1.3 -5.1 1.4 -5.2 1.7 -5.3 1.8 -5.2 2 -5.3 2.2 -5.4 2.3 -5.4 2.6 -5.4 2.7 -5.4 3 -5.5 3.1 -5.5 3.3z" fill="#42c200"/>
<path d="M409.2 82.6l4.4-0.1 4.5 0 4.6 0.2 4.7 0.3 4.7 0.4 4.8 0.6 4.8 0.8 4.9 0.9 4.9 1.1 5.1 1.2 5 1.3 5.2 1.6 5.2 1.7 5.2 1.9 5.3 2 5.4 2.2 5.4 2.4 5.5 2.5 5.6 2.7 5.6 3 5.6 3 5.8 3.3 7.4 0.4 10.2 0.2 10.4 0.1 9.1-0.1 5.7-3.4 5.6-3.3 5.6-2.9 5.5-2.8 5.4-2.6 5.4-2.3 5.4-2.1 5.2-1.9 5.2-1.8 5.2-1.5 5.1-1.3 5-1.1 5-0.9 4.9-0.7 4.8-0.5 4.8-0.4 4.7-0.1 4.7 0 4.6 0.2 4.5 0.3 4.5 0.6 -0.2-1 -0.8-2.1 -0.4-0.7 -5.6-3.1 -5.6-3 -5.5-2.8 -5.4-2.6 -5.5-2.5 -5.4-2.3 -5.3-2.2 -5.4-2 -5.2-1.9 -5.3-1.7 -5.2-1.6 -5.1-1.5 -5.1-1.3 -5.1-1.1 -5-1.1 -5-0.8 -4.9-0.8 -4.9-0.6 -4.9-0.5 -4.8-0.4 -4.7-0.2 -4.7-0.1 -4.7 0 -4.6 0.2 -4.5-0.8 -4.6-0.7 -4.6-0.5 -4.7-0.4 -4.7-0.2 -4.8 0 -4.8 0.1 -4.8 0.3 -4.9 0.4 -5 0.6 -5 0.7 -5 1 -5.1 1.1 -5.1 1.3 -5.1 1.4 -5.2 1.7 -5.3 1.8 -5.2 2 -5.3 2.2 -5.4 2.3 -5.4 2.6 -5.4 2.7 -5.4 3 -5.5 3.1 -5.5 3.3z" fill="#56c300"/>
<path d="M409.2 82.6l4.4-0.1 4.4 0 4.5 0.1 4.6 0.3 4.6 0.5 4.7 0.6 4.8 0.7 4.8 0.9 4.9 1 4.9 1.2 5 1.3 5.1 1.5 5.1 1.7 5.1 1.8 5.3 1.9 5.2 2.2 5.4 2.3 5.4 2.4 5.4 2.7 5.5 2.8 5.6 3 5.3 0.3 9.6 0.4 9.8 0.3 10 0.1 10-0.1 6.7-0.3 5.5-3.1 5.4-2.9 5.4-2.7 5.3-2.4 5.3-2.3 5.2-2.1 5.2-1.8 5.1-1.7 5.1-1.5 5-1.3 4.9-1.1 4.9-0.9 4.8-0.7 4.7-0.5 4.7-0.4 4.7-0.1 4.5 0 4.5 0.1 4.5 0.4 0.1-0.7 -0.2-2 -0.7-2 -1.1-1.7 -5.5-3 -5.6-2.7 -5.4-2.7 -5.4-2.5 -5.4-2.3 -5.4-2.1 -5.3-2.1 -5.3-1.8 -5.2-1.8 -5.2-1.6 -5.1-1.4 -5.1-1.3 -5.1-1.2 -5-1 -5-0.9 -4.9-0.7 -4.9-0.6 -4.8-0.5 -4.8-0.4 -4.7-0.2 -4.7-0.1 -4.7 0 -4.6 0.2 -4.5-0.8 -4.6-0.7 -4.6-0.5 -4.7-0.4 -4.7-0.2 -4.8 0 -4.8 0.1 -4.8 0.3 -4.9 0.4 -5 0.6 -5 0.7 -5 1 -5.1 1.1 -5.1 1.3 -5.1 1.4 -5.2 1.7 -5.3 1.8 -5.2 2 -5.3 2.2 -5.4 2.3 -5.4 2.6 -5.4 2.7 -5.4 3 -5.5 3.1 -5.5 3.3z" fill="#69c200"/>
<path d="M411.3 81.2l0.4 0.6 0.6 0.7 4.4 0 4.4 0.1 4.5 0.2 4.6 0.4 4.6 0.6 4.7 0.6 4.7 0.8 4.8 1 4.9 1.1 4.9 1.3 5 1.4 5 1.5 5.1 1.8 5.1 1.8 5.2 2.1 5.3 2.2 5.3 2.3 5.3 2.5 5.4 2.7 5.3 0.5 8.9 0.5 9.2 0.4 9.3 0.2 9.5 0.1 9.6-0.1 9.5-0.3 6.1-0.3 5.5-2.9 5.4-2.6 5.4-2.4 5.3-2.2 5.3-2.1 5.2-1.8 5.2-1.5 5.1-1.4 5-1.2 5-1.1 4.9-0.8 4.8-0.6 4.8-0.4 4.8-0.3 4.6-0.1 4.6 0.1 0.4-0.6 0.4-2 -0.1-1.9 -0.6-1.9 -1.2-1.8 -0.9-1.1 -5.5-2.7 -5.4-2.6 -5.4-2.4 -5.3-2.3 -5.4-2.2 -5.2-2 -5.3-1.8 -5.1-1.7 -5.2-1.6 -5.1-1.4 -5.1-1.3 -5-1.1 -5-1 -4.9-0.9 -4.9-0.7 -4.8-0.6 -4.9-0.5 -4.7-0.4 -4.7-0.2 -4.7-0.1 -4.6 0 -4.6 0.2 -4.6-0.8 -4.7-0.7 -4.8-0.5 -4.8-0.4 -4.8-0.2 -4.9 0 -4.9 0.1 -5 0.3 -5 0.5 -5.1 0.7 -5.1 0.8 -5.2 1 -5.2 1.2 -5.3 1.4 -5.2 1.5 -5.4 1.8 -5.4 1.9 -5.4 2.1 -5.4 2.4 -5.5 2.5 -5.6 2.7 -5.5 2.9 -5.6 3.1 -5.6 3.4z" fill="#7cc000"/>
<path d="M416.1 78.1l1 1.4 1.5 1.7 1.7 1.3 4.6 0.3 4.7 0.4 4.7 0.5 4.8 0.7 4.9 0.8 4.9 1 5 1.1 5 1.3 5.1 1.4 5.1 1.6 5.3 1.8 5.2 2 5.4 2.1 5.4 2.3 5.4 2.4 7.8 0.7 8.2 0.7 8.5 0.5 8.7 0.3 8.8 0.3 9 0 9.1-0.1 9.1-0.2 8.9-0.5 7.9-0.6 5.3-2.4 5.3-2.3 5.2-2 5.1-1.9 5-1.6 5.1-1.5 4.9-1.2 4.9-1.1 4.8-0.9 4.8-0.7 4.7-0.6 4.7-0.3 4.6-0.2 1.1-1.3 1.1-1.8 0.5-1.9 -0.1-1.8 -0.5-1.8 -1.1-1.7 -1.5-1.7 -0.7-0.7 -5.4-2.5 -5.3-2.4 -5.3-2.2 -5.2-2.1 -5.2-1.9 -5.2-1.8 -5.1-1.7 -5.1-1.5 -5-1.4 -5-1.2 -5-1.1 -4.9-1 -4.9-0.9 -4.8-0.7 -4.8-0.6 -4.7-0.4 -4.7-0.4 -4.7-0.2 -4.6-0.1 -4.6 0 -4.5 0.2 -4.7-0.8 -4.7-0.7 -4.8-0.5 -4.8-0.4 -4.8-0.2 -5 0 -4.9 0.1 -5 0.3 -5.1 0.5 -5.1 0.7 -5.2 0.8 -5.2 1.1 -5.2 1.2 -5.3 1.4 -5.3 1.6 -5.4 1.7 -5.4 2 -5.5 2.2 -5.4 2.3 -5.6 2.6 -5.5 2.7 -5.6 3 -5.7 3.2z" fill="#8ebd00"/>
<path d="M421.4 75l0.3 0.7 1.1 1.5 1.5 1.6 1.9 1.5 2.2 1.5 2.7 1.5 0.1 0 4.5 0.6 4.5 0.6 4.5 0.8 4.6 1 4.7 1 4.7 1.2 4.8 1.4 4.8 1.5 4.9 1.6 4.9 1.8 5 1.9 0.4 0.1 6.9 0.9 7.2 0.7 7.4 0.7 7.8 0.6 8 0.5 8.2 0.3 8.4 0.2 8.5 0.1 8.6-0.1 8.5-0.3 8.5-0.4 8.3-0.5 8-0.8 6.2-0.7 5.4-2.1 5.4-1.9 5.2-1.6 5.3-1.4 5.1-1.3 5.1-1 5-0.8 4.9-0.6 1.9-1.1 2.3-1.7 1.7-1.8 1.1-1.8 0.5-1.7 0-1.7 -0.5-1.7 -1-1.7 -1.4-1.6 -1.8-1.5 -0.8-0.6 -5.4-2.4 -5.5-2.2 -5.4-2.1 -5.3-1.9 -5.3-1.8 -5.2-1.6 -5.3-1.5 -5.1-1.3 -5.2-1.2 -5-1.1 -5.1-0.9 -5-0.7 -4.9-0.7 -4.9-0.5 -4.9-0.3 -4.8-0.3 -4.7-0.1 -4.7 0 -4.7 0.2 -4.7-0.8 -4.7-0.7 -4.8-0.5 -4.8-0.4 -4.9-0.2 -5 0 -5 0.1 -5 0.4 -5.1 0.5 -5.1 0.6 -5.2 0.9 -5.2 1 -5.2 1.2 -5.3 1.4 -5.4 1.6 -5.4 1.8 -5.4 2 -5.5 2.2 -5.5 2.4 -5.6 2.6 -5.5 2.8 -5.7 2.9z" fill="#9cb600"/>
<path d="M543.6 49.9l-4.2-0.2 -4.6-0.8 -4.7-0.6 -4.7-0.5 -4.8-0.3 -4.8-0.1 -4.9 0 -4.9 0.2 -5 0.3 -5 0.6 -5.1 0.7 -5.1 0.8 -5.1 1.1 -5.2 1.2 -5.3 1.4 -5.2 1.6 -5.3 1.8 -5.4 2 -5.4 2.2 -5.4 2.3 -5.5 2.6 -5.5 2.7 -5.5 3 0 0.1 0.7 1.5 1.1 1.4 1.4 1.5 1.8 1.4 2.2 1.4 2.5 1.3 2.9 1.4 3.2 1.3 3.5 1.3 3.9 1.2 4.2 1.2 4.5 1.2 4.8 1.1 5.2 1.1 5.5 1 5.8 0.9 6.1 0.9 6.5 0.8 6.7 0.7 7.1 0.7 7.2 0.5 7.6 0.4 7.7 0.4 7.9 0.1 8 0.1 8-0.1 8-0.2 8-0.4 7.7-0.5 7.6-0.7 7.2-0.9 6.9-0.9 6.4-1.1 5.8-1.3 5.4-1.3 4.7-1.5 4.1-1.5 3.5-1.5 2.8-1.6 2.2-1.6 1.7-1.7 1-1.6 0.6-1.7 0-1.6 -0.5-1.5 -0.8-1.6 -1.3-1.5 -1.7-1.4 -1.9-1.4 -1.7-1 -5.3-2.1 -5.3-2 -5.3-1.8 -5.2-1.7 -5.2-1.5 -5.2-1.4 -5.1-1.3 -5-1.1 -5-0.9 -5-0.9 -4.9-0.7 -4.9-0.5 -4.8-0.5 -4.8-0.3 -4.8-0.1 -4.7-0.1z" fill="#a4ab00"/>
<path d="M552.9 49.9l-4.2-0.3 -5.7-0.4 -5.8-0.2 -2.9-0.2 -4.7-0.6 -4.7-0.4 -4.7-0.3 -4.8-0.1 -4.8 0 -4.9 0.2 -4.9 0.4 -4.9 0.5 -5 0.7 -5.1 0.8 -5.1 1.1 -5.1 1.2 -5.2 1.4 -5.2 1.6 -5.3 1.7 -5.2 2 -5.4 2.1 -5.3 2.3 -5.5 2.5 -5.4 2.7 0.3 1.3 0.7 1.3 1 1.4 1.4 1.3 1.8 1.3 2 1.3 2.4 1.3 2.7 1.2 3.1 1.2 3.3 1.2 3.6 1.2 4 1.1 4.2 1 4.5 1.1 4.9 0.9 5.1 1 5.5 0.8 5.7 0.9 6 0.7 6.3 0.7 6.6 0.6 6.8 0.4 7 0.4 7.2 0.3 7.3 0.2 7.4 0.1 7.5-0.1 7.5-0.2 7.4-0.4 7.3-0.5 7-0.6 6.8-0.8 6.4-0.9 5.9-1 5.6-1.1 5-1.3 4.4-1.3 3.9-1.4 3.2-1.4 2.7-1.5 2.2-1.5 1.5-1.5 1.1-1.5 0.5-1.5 0.1-1.5 -0.4-1.5 -0.8-1.4 -1.1-1.4 -1.5-1.4 -1.9-1.3 -2.1-1.2 -2.4-1.3 -1.6-0.7 -5.3-1.8 -5.2-1.7 -5.2-1.5 -5.1-1.4 -5.1-1.3 -5.1-1.1 -5-0.9 -5-0.9 -4.9-0.7 -4.9-0.5 -4.8-0.5 -4.8-0.3z" fill="#ab9f00"/>
<path d="M567.2 50.8l-4.6-0.6 -4.9-0.5 -5.1-0.4 -5.1-0.4 -5.3-0.3 -5.5-0.2 -5.5-0.2 -2.8-0.1 -4.8-0.4 -4.9-0.2 -4.9-0.1 -5 0.1 -5 0.2 -5.1 0.5 -5.1 0.6 -5.2 0.8 -5.2 1 -5.3 1.1 -5.3 1.4 -5.3 1.5 -5.4 1.8 -5.4 1.9 -5.5 2.1 -5.5 2.3 -5.5 2.6 -0.1 1.2 0.4 1.2 0.7 1.3 1 1.2 1.3 1.3 1.7 1.2 1.9 1.1 2.3 1.2 2.5 1.1 2.8 1.1 3.1 1.1 3.4 1.1 3.7 1 3.9 0.9 4.3 1 4.4 0.9 4.8 0.8 5 0.8 5.3 0.8 5.6 0.6 5.8 0.6 6.1 0.6 6.2 0.4 6.5 0.4 6.6 0.2 6.8 0.2 6.9 0 6.9 0 6.9-0.2 6.8-0.3 6.7-0.5 6.5-0.6 6.2-0.7 6-0.8 5.5-0.9 5.1-1 4.7-1.2 4.1-1.2 3.6-1.2 3.1-1.3 2.5-1.4 2-1.4 1.5-1.3 1.1-1.4 0.5-1.4 0.1-1.4 -0.3-1.3 -0.7-1.3 -1-1.3 -1.4-1.3 -1.6-1.2 -2-1.1 -2.2-1.2 -2.4-1.1 -2.6-1 -2.9-1 -3-1 -5.2-1.4 -5.2-1.3 -5.1-1.1 -5-0.9 -5-0.9 -5-0.7z" fill="#a38d08"/>
<path d="M584 53.2l-3.6-0.7 -3.8-0.7 -3.9-0.6 -4.1-0.6 -4.2-0.5 -4.3-0.5 -4.5-0.5 -4.7-0.4 -4.7-0.3 -4.9-0.3 -5.1-0.2 -5.1-0.2 -5.2-0.1 -4.5 0 -4.6-0.2 -4.6 0 -4.7 0.1 -4.8 0.3 -4.7 0.4 -4.9 0.6 -4.8 0.8 -4.9 0.9 -5 1.1 -4.9 1.3 -5.1 1.4 -5 1.6 -5.1 1.7 -5.1 2 -5.2 2.1 -0.3 0.4 -0.3 1.2 0 1.1 0.4 1.2 0.6 1.1 1 1.2 1.3 1.1 1.5 1 1.8 1.1 2.1 1.1 2.4 1 2.6 1 2.8 1 3.2 0.9 3.3 0.9 3.6 0.9 3.9 0.8 4.1 0.8 4.4 0.8 4.6 0.7 4.8 0.7 5.1 0.6 5.3 0.5 5.5 0.5 5.7 0.4 5.9 0.3 6 0.2 6.2 0.2 6.2 0 6.3 0 6.3-0.2 6.2-0.3 6.1-0.4 5.9-0.5 5.7-0.6 5.4-0.8 5.1-0.8 4.7-0.9 4.2-1 3.8-1.1 3.4-1.1 2.8-1.2 2.4-1.2 1.9-1.3 1.4-1.2 0.9-1.3 0.6-1.2 0.1-1.3 -0.2-1.2 -0.6-1.2 -0.9-1.2 -1.2-1.1 -1.5-1.1 -1.8-1.1 -1.9-1 -2.2-1 -2.4-0.9 -2.6-1 -2.8-0.8 -3-0.9 -3.1-0.8 -3.3-0.8z" fill="#9a7a10"/>
<path d="M578.9 52.3l-3.3-0.6 -3.4-0.6 -3.5-0.6 -3.7-0.5 -3.8-0.5 -3.9-0.4 -4.1-0.4 -4.2-0.4 -4.3-0.3 -4.5-0.3 -4.5-0.2 -4.7-0.1 -4.7-0.1 -4.8 0 -4.8 0 -4.2 0.1 -4.8 0.1 -4.8 0.3 -4.8 0.4 -4.9 0.6 -4.9 0.8 -4.9 0.9 -5 1.1 -5.1 1.3 -5.1 1.4 -5.1 1.7 -5.1 1.7 -0.7 0.6 -0.9 1 -0.5 1.1 -0.3 1 0.1 1 0.3 1 0.7 1 0.9 1 1.1 1 1.5 1 1.6 0.9 1.9 1 2.2 0.9 2.3 0.9 2.6 0.8 2.9 0.8 3 0.9 3.3 0.7 3.4 0.8 3.7 0.7 3.9 0.6 4.2 0.7 4.3 0.5 4.5 0.6 4.8 0.4 4.9 0.5 5.1 0.3 5.2 0.3 5.4 0.2 5.5 0.1 5.6 0.1 5.6-0.1 5.6-0.1 5.5-0.3 5.5-0.3 5.3-0.5 5.1-0.5 4.8-0.7 4.6-0.7 4.2-0.8 3.8-0.9 3.4-1 3.1-1 2.5-1 2.2-1.1 1.7-1.1 1.3-1.1 0.9-1.1 0.6-1.1 0.1-1.1 -0.1-1.1 -0.5-1 -0.8-1.1 -1-1 -1.3-1 -1.6-0.9 -1.7-1 -2-0.8 -2.1-0.9 -2.3-0.8 -2.5-0.8 -2.7-0.8 -2.8-0.7 -2.9-0.7z" fill="#9a6d17"/>
<path d="M573 51.6l-2.8-0.6 -3-0.5 -3.1-0.5 -3.2-0.5 -3.4-0.4 -3.4-0.4 -3.6-0.3 -3.7-0.3 -3.8-0.3 -4-0.3 -4-0.1 -4.1-0.2 -4.1-0.1 -4.2 0 -4.3 0.1 -4.3 0.1 -4.2 0.1 -4.2 0.2 -4.2 0.3 -4 0.4 -4.6 0.6 -4.6 0.7 -4.7 0.9 -4.7 1 -4.7 1.2 -1.9 0.7 -1.9 0.8 -1.7 0.8 -1.3 0.9 -1 0.9 -0.8 0.9 -0.4 0.9 -0.2 0.9 0.1 0.9 0.4 0.9 0.5 0.8 0.9 0.9 1 0.8 1.3 0.9 1.5 0.8 1.7 0.8 1.9 0.8 2.1 0.7 2.3 0.8 2.4 0.7 2.7 0.7 2.9 0.6 3 0.7 3.2 0.6 3.4 0.5 3.6 0.6 3.8 0.5 3.9 0.4 4.1 0.4 4.3 0.4 4.4 0.3 4.6 0.2 4.6 0.2 4.8 0.1 4.8 0 4.8 0 4.9-0.2 4.8-0.2 4.7-0.3 4.6-0.4 4.5-0.4 4.2-0.6 3.9-0.6 3.7-0.7 3.4-0.7 3-0.8 2.6-0.9 2.3-0.9 1.9-0.9 1.6-1 1.2-0.9 0.8-1 0.5-0.9 0.2-1 -0.1-0.9 -0.4-0.9 -0.7-0.9 -0.8-0.9 -1.1-0.9 -1.3-0.8 -1.5-0.8 -1.7-0.8 -1.9-0.7 -2-0.7 -2.1-0.7 -2.4-0.7 -2.4-0.6 -2.6-0.6z" fill="#a2641d"/>
<path d="M566.1 51l-2.4-0.4 -2.5-0.5 -2.6-0.4 -2.7-0.4 -2.8-0.3 -2.9-0.4 -3-0.2 -3.1-0.3 -3.2-0.2 -3.3-0.2 -3.3-0.2 -3.5-0.1 -3.5-0.1 -3.5 0 -3.6 0 -3.6 0.1 -3.6 0.1 -3.5 0.2 -3.5 0.3 -3.4 0.3 -3.2 0.4 -3.1 0.4 -3 0.4 -2.8 0.6 -2.5 0.5 -2.4 0.6 -2.1 0.7 -1.8 0.6 -1.6 0.7 -1.3 0.7 -1.1 0.7 -0.8 0.8 -0.6 0.7 -0.3 0.8 -0.1 0.7 0.1 0.7 0.3 0.8 0.5 0.7 0.8 0.7 0.9 0.7 1.1 0.7 1.2 0.6 1.5 0.7 1.6 0.6 1.7 0.6 1.9 0.6 2.1 0.6 2.2 0.6 2.4 0.5 2.5 0.5 2.7 0.5 2.8 0.5 3 0.4 3.1 0.4 3.2 0.4 3.4 0.3 3.5 0.3 3.7 0.2 3.7 0.2 3.8 0.1 4 0.1 3.9 0.1 4-0.1 4-0.1 3.9-0.2 3.9-0.2 3.8-0.3 3.7-0.4 3.5-0.4 3.2-0.5 3.1-0.6 2.8-0.6 2.5-0.6 2.2-0.7 1.9-0.8 1.7-0.7 1.3-0.8 1-0.8 0.7-0.7 0.5-0.8 0.2-0.8 -0.1-0.8 -0.3-0.7 -0.4-0.8 -0.7-0.7 -0.9-0.7 -1.1-0.7 -1.2-0.6 -1.4-0.7 -1.5-0.6 -1.6-0.6 -1.8-0.6 -1.9-0.5 -2-0.6 -2.2-0.5z" fill="#a85c20"/>
<path d="M557.1 50.9l-1.8-0.4 -1.8-0.3 -1.9-0.3 -2.1-0.3 -2-0.3 -2.2-0.2 -2.3-0.3 -2.3-0.2 -2.4-0.1 -2.5-0.2 -2.5-0.1 -2.6-0.1 -2.7 0 -2.6 0 -2.7 0 -2.7 0 -2.7 0.1 -2.7 0.2 -2.6 0.2 -2.5 0.2 -2.5 0.3 -2.3 0.3 -2.2 0.3 -2.1 0.4 -1.9 0.5 -1.7 0.4 -1.6 0.5 -1.3 0.5 -1.2 0.5 -0.9 0.5 -0.8 0.6 -0.6 0.5 -0.4 0.6 -0.2 0.5 0 0.5 0.1 0.6 0.3 0.5 0.4 0.6 0.6 0.5 0.7 0.5 0.8 0.5 1 0.5 1.1 0.4 1.2 0.5 1.3 0.4 1.4 0.5 1.6 0.4 1.6 0.4 1.8 0.4 1.9 0.4 2 0.3 2 0.3 2.2 0.4 2.3 0.2 2.4 0.3 2.5 0.2 2.6 0.2 2.6 0.2 2.8 0.1 2.8 0.1 2.9 0.1 2.9 0 2.9 0 2.9-0.1 2.9-0.1 2.9-0.2 2.7-0.2 2.7-0.3 2.6-0.3 2.4-0.3 2.3-0.4 2.1-0.5 1.8-0.4 1.7-0.5 1.4-0.6 1.3-0.5 1-0.6 0.8-0.5 0.5-0.6 0.4-0.6 0.2-0.5 0-0.6 -0.2-0.6 -0.3-0.5 -0.5-0.5 -0.6-0.6 -0.7-0.5 -0.9-0.5 -1-0.4 -1.1-0.5 -1.2-0.4 -1.3-0.5 -1.4-0.4 -1.5-0.4 -1.6-0.4z" fill="#ac5620"/>
<path d="M542 51.9l-0.7-0.2 -0.8-0.1 -0.9-0.2 -0.9-0.1 -0.9-0.1 -0.9-0.1 -1-0.1 -1-0.1 -1.1-0.1 -1.1 0 -1.1-0.1 -1.2 0 -1.1-0.1 -1.2 0 -1.2 0 -1.2 0.1 -1.2 0 -1.2 0.1 -1.1 0.1 -1.1 0.1 -1.1 0.1 -1 0.1 -1 0.2 -0.9 0.2 -0.8 0.1 -0.7 0.2 -0.7 0.3 -0.6 0.2 -0.5 0.2 -0.3 0.2 -0.4 0.3 -0.2 0.2 -0.1 0.2 -0.1 0.3 0 0.2 0.1 0.2 0.1 0.3 0.2 0.2 0.3 0.2 0.3 0.2 0.4 0.2 0.5 0.2 0.4 0.2 0.6 0.2 0.6 0.2 0.6 0.2 0.7 0.2 0.7 0.1 0.7 0.2 0.9 0.2 0.8 0.1 0.9 0.1 0.9 0.2 1 0.1 1 0.1 1.1 0.1 1.1 0.1 1.1 0 1.2 0.1 1.2 0 1.2 0.1 1.2 0 1.2 0 1.3-0.1 1.2 0 1.2-0.1 1.2-0.1 1.1-0.1 1.1-0.1 1.1-0.2 0.9-0.1 0.9-0.2 0.8-0.2 0.8-0.2 0.6-0.2 0.5-0.3 0.5-0.2 0.4-0.2 0.2-0.3 0.2-0.2 0.1-0.3 0.1-0.2 -0.1-0.2 -0.1-0.3 -0.2-0.2 -0.2-0.2 -0.3-0.2 -0.4-0.2 -0.4-0.3 -0.5-0.2 -0.5-0.1 -0.5-0.2 -0.6-0.2 -0.7-0.2 -0.6-0.2z" fill="#af501d"/>
<path d="M541 128l-16.1-10.3 -15.6-8.8M543.2 126.4l-14.9-9.5 -14.6-8.4M545.4 124.8l-13.8-8.8 -13.4-7.7M547.6 123.3l-12.6-8 -12.3-7.2M549.8 121.8l-11.4-7.3 -11.2-6.6M552 120.4l-20.2-12.5M554.1 119l-17.7-11M556.3 117.6l-15.2-9.5M558.5 116.2l-12.6-7.9M560.6 114.9l-9.9-6.3M562.8 113.6l-7.2-4.6M564.9 112.3l-4.4-2.8M567 111.1l-1.5-1" fill="none" stroke="#000" stroke-opacity="0.44" stroke-width="1.0" shape-rendering="crispEdges"/>
<path d="M509.3 108.9l-12.7-6.3 -12.5-5.5 -12.1-4.5 -11.8-3.7M513.7 108.5l-12.9-6.5 -12.5-5.6 -12.3-4.6 -11.9-3.8M518.2 108.3l-13-6.7 -12.7-5.8 -12.4-4.8 -12.1-3.9M522.7 108.1l-13.2-6.9 -12.8-5.9 -12.5-5 -12.2-4.1M527.2 107.9l-13.3-7 -13-6.1 -12.6-5.2 -12.3-4.2M531.8 107.9l-13.4-7.3 -13.1-6.2 -12.8-5.4 -12.5-4.3M536.4 108l-13.5-7.5 -13.3-6.5 -12.9-5.5 -12.7-4.5M541.1 108.1l-13.7-7.7 -13.4-6.7 -13.1-5.7 -12.8-4.6M545.9 108.3l-13.9-7.9 -13.6-6.9 -13.2-5.9 -12.9-4.8M550.7 108.6l-14.1-8.1 -13.7-7.1 -13.4-6.1 -13.1-5M555.6 109l-14.3-8.4 -13.9-7.3 -13.5-6.3 -13.3-5.2M560.5 109.5l-14.4-8.6 -14.1-7.6 -13.7-6.5 -13.4-5.4M565.5 110.1l-14.6-8.9 -14.3-7.8 -13.9-6.7 -13.5-5.6M569.1 109.9l-14.4-8.9 -14-7.8 -13.8-6.7 -13.4-5.7M571.2 108.8l-13.7-8.6 -13.5-7.5 -13.3-6.5 -12.9-5.6M573.3 107.6l-13.1-8.1 -12.9-7.2 -12.7-6.3 -12.4-5.5M575.4 106.5l-16.6-10.1 -16.3-8.7 -15.8-7.2M577.5 105.5l-15.8-9.7 -15.5-8.3 -15-7M579.6 104.4l-15-9.1 -14.6-7.9 -14.3-6.8M581.7 103.4l-14.1-8.6 -13.8-7.5 -13.5-6.5M583.7 102.4l-13.2-8 -12.9-7.2 -12.7-6.2M585.8 101.5l-18.4-11 -17.8-9.2M587.8 100.6l-16.9-10.2 -16.6-8.6M589.9 99.7l-15.6-9.4 -15.2-8M591.9 98.8l-14.1-8.5 -13.8-7.4M593.9 98l-12.6-7.6 -12.5-6.9M595.9 97.2l-11.1-6.8 -11-6.1M597.9 96.4l-19.1-11.2M599.9 95.7l-16-9.5M601.9 95l-12.9-7.7M603.9 94.3l-9.7-5.8M605.9 93.7l-6.4-3.9M607.8 93.1l-3-1.9" fill="none" stroke="#000" stroke-opacity="0.6" stroke-width="1.0" shape-rendering="crispEdges"/>
<path d="M460.2 88.9l-13.4-3.2 -13-2.1 -12.5-1 -12.1 0M464.1 88l-13.9-3.4 -13.5-2.3 -12.9-1.1 -12.5 0M468 87.1l-14.4-3.7 -13.9-2.3 -13.4-1.2 -12.9 0M472 86.2l-12-3.2 -11.6-2.3 -11.3-1.5 -11-0.7 -10.6 0M476 85.4l-12.4-3.4 -12-2.5 -11.7-1.6 -11.3-0.7 -11 0.1M480 84.7l-12.8-3.6 -12.4-2.7 -12.1-1.7 -11.7-0.8 -11.3 0.1M484 84l-13.2-3.9 -12.8-2.8 -12.5-1.8 -12-0.8 -11.7 0.1M488.1 83.4l-13.6-4.1 -13.3-3 -12.8-1.9 -12.5-0.9 -12 0.1M492.3 82.8l-14.1-4.4 -13.7-3.1 -13.3-2 -12.8-1 -12.4 0.1M496.4 82.3l-12.1-3.9 -11.9-3.1 -11.6-2.2 -11.2-1.4 -10.9-0.6 -10.6 0.2M500.6 81.8l-12.5-4.1 -12.3-3.3 -11.9-2.3 -11.6-1.5 -11.2-0.6 -10.9 0.2M504.9 81.4l-13-4.4 -12.6-3.4 -12.3-2.4 -12-1.6 -11.5-0.7 -11.3 0.2M509.2 81.1l-13.4-4.6 -13.1-3.7 -12.6-2.6 -12.3-1.6 -11.9-0.8 -11.6 0.2M513.5 80.8l-13.8-4.9 -13.5-3.8 -13-2.8 -12.7-1.7 -12.2-0.8 -11.9 0.2M517.8 80.6l-14.2-5.1 -13.8-4.1 -13.5-2.9 -13-1.9 -12.6-0.8 -12.3 0.2M522.2 80.5l-14.6-5.5 -14.3-4.2 -13.8-3.1 -13.5-2 -12.9-0.9 -12.6 0.2M526.7 80.5l-13-5.1 -12.7-4.1 -12.3-3.2 -12.1-2.2 -11.7-1.5 -11.3-0.6 -11 0.3M531.2 80.5l-13.4-5.3 -13.1-4.4 -12.7-3.3 -12.4-2.4 -12-1.5 -11.7-0.7 -11.3 0.2M535.7 80.6l-13.8-5.6 -13.4-4.6 -13.1-3.6 -12.8-2.5 -12.3-1.6 -12-0.7 -11.7 0.2M540.3 80.8l-14.2-6 -13.9-4.8 -13.4-3.7 -13.1-2.7 -12.7-1.7 -12.4-0.7 -11.9 0.2M544.9 81l-14.6-6.3 -14.3-5 -13.8-4 -13.5-2.8 -13.1-1.8 -12.6-0.8 -12.3 0.2M549.6 81.3l-13.2-5.8 -12.9-4.9 -12.6-4 -12.3-3 -11.9-2.2 -11.7-1.4 -11.3-0.5 -11 0.2M554.3 81.8l-13.5-6.2 -13.3-5.2 -13-4.1 -12.6-3.3 -12.3-2.3 -11.9-1.4 -11.7-0.6 -11.3 0.2M559.1 82.3l-14-6.5 -13.6-5.5 -13.3-4.4 -13-3.4 -12.6-2.4 -12.3-1.5 -12-0.7 -11.5 0.3M564 82.9l-14.4-6.9 -14.1-5.7 -13.7-4.7 -13.3-3.6 -13-2.5 -12.6-1.6 -12.3-0.7 -11.8 0.3M568.8 83.5l-14.8-7.2 -14.4-6 -14.1-4.9 -13.7-3.8 -13.3-2.7 -13-1.7 -12.5-0.7 -12.2 0.2M573.8 84.3l-15.2-7.6 -14.9-6.3 -14.5-5.2 -14-4 -13.7-2.8 -13.3-1.8 -12.9-0.8 -12.5 0.3M578.8 85.2l-13.9-7.2 -13.7-6.1 -13.3-5.1 -13-4.2 -12.7-3.2 -12.3-2.3 -12.1-1.4 -11.7-0.5 -11.3 0.2M583.9 86.2l-14.4-7.6 -14-6.4 -13.7-5.4 -13.3-4.4 -13.1-3.4 -12.7-2.4 -12.3-1.5 -12-0.6 -11.7 0.3M589 87.3l-14.7-8 -14.4-6.8 -14.1-5.6 -13.7-4.6 -13.4-3.6 -13.1-2.6 -12.6-1.5 -12.3-0.7 -12 0.3M594.2 88.5l-15.1-8.4 -14.9-7.1 -14.4-6 -14.1-4.9 -13.8-3.7 -13.3-2.7 -13-1.7 -12.7-0.6 -12.2 0.2M599.5 89.8l-14.1-8 -13.7-6.9 -13.5-6 -13.1-4.9 -12.9-4 -12.5-3.1 -12.3-2.2 -11.9-1.4 -11.6-0.5 -11.2 0.3M604.8 91.2l-14.4-8.4 -14.2-7.3 -13.8-6.2 -13.5-5.2 -13.2-4.2 -12.9-3.3 -12.5-2.3 -12.2-1.5 -11.9-0.5 -11.6 0.3M609.8 92.5l-14.8-8.8 -14.5-7.6 -14.1-6.5 -13.9-5.5 -13.5-4.4 -13.1-3.4 -12.9-2.4 -12.5-1.5 -12.1-0.6 -11.8 0.3M611.7 91.9l-14.8-8.7 -14.4-7.6 -14.2-6.5 -13.8-5.5 -13.5-4.4 -13.2-3.4 -12.8-2.4 -12.5-1.5 -12.2-0.6 -11.8 0.3M613.6 91.4l-14.7-8.7 -14.5-7.6 -14.1-6.5 -13.8-5.4 -13.5-4.4 -13.2-3.4 -12.9-2.4 -12.5-1.5 -12.1-0.6 -11.8 0.2M615.6 90.9l-14.8-8.7 -14.4-7.6 -14.2-6.5 -13.8-5.4 -13.5-4.4 -13.2-3.4 -12.8-2.4 -12.5-1.5 -12.2-0.6 -11.8 0.3M617.5 90.4l-14.7-8.7 -14.5-7.5 -14.1-6.5 -13.8-5.4 -13.5-4.4 -13.2-3.4 -12.9-2.4 -12.5-1.5 -12.1-0.5 -11.9 0.2M619.4 90l-14.7-8.7 -14.5-7.5 -14.1-6.5 -13.8-5.4 -13.5-4.4 -13.2-3.3 -12.8-2.4 -12.5-1.5 -12.2-0.6 -11.8 0.3M621.3 89.5l-14.7-8.6 -14.4-7.5 -14.2-6.5 -13.8-5.3 -13.5-4.4 -13.2-3.4 -12.8-2.4 -12.5-1.5 -12.2-0.6 -11.8 0.3M623.2 89.2l-14.7-8.7 -14.4-7.5 -14.2-6.4 -13.8-5.4 -13.5-4.3 -13.1-3.4 -12.9-2.4 -12.5-1.5 -12.2-0.6 -11.8 0.3M625.1 88.8l-14.7-8.6 -14.4-7.5 -14.2-6.4 -13.8-5.4 -13.4-4.3 -13.2-3.4 -12.9-2.4 -12.5-1.5 -12.2-0.6 -11.8 0.3M626.9 88.5l-14.7-8.6 -14.3-7.5 -14.2-6.4 -13.8-5.4 -13.4-4.3 -13.2-3.4 -12.9-2.4 -12.5-1.4 -12.2-0.6 -11.8 0.2M628.8 88.1l-14.7-8.5 -14.4-7.5 -14.1-6.4 -13.8-5.3 -13.4-4.4 -13.2-3.3 -12.9-2.4 -12.5-1.5 -12.2-0.6 -11.8 0.3M630.6 87.9l-14.6-8.6 -14.4-7.4 -14.1-6.4 -13.8-5.4 -13.5-4.3 -13.1-3.3 -12.9-2.4 -12.5-1.5 -12.2-0.6 -11.8 0.3M632.5 87.6l-14.7-8.5 -14.3-7.5 -14.1-6.3 -13.8-5.4 -13.5-4.3 -13.1-3.3 -12.9-2.4 -12.5-1.5 -12.2-0.6 -11.8 0.3M634.3 87.4l-14.6-8.5 -14.4-7.5 -14-6.3 -13.8-5.4 -13.5-4.3 -13.2-3.3 -12.8-2.4 -12.5-1.5 -12.2-0.6 -11.9 0.3M636.2 87.2l-14.7-8.5 -14.3-7.4 -14.1-6.4 -13.8-5.3 -13.4-4.3 -13.2-3.4 -12.8-2.3 -12.5-1.5 -12.2-0.6 -11.9 0.3M638 87l-14.6-8.5 -14.4-7.4 -14-6.3 -13.8-5.3 -13.5-4.3 -13.1-3.4 -12.9-2.4 -12.5-1.4 -12.2-0.6 -11.8 0.2M639.8 86.9l-14.4-8.4 -14.2-7.3 -13.8-6.3 -13.6-5.3 -13.3-4.3 -13-3.3 -12.7-2.5 -12.3-1.5 -12.1-0.7 -11.7 0.2M641.6 86.8l-14.1-8.3 -13.9-7.2 -13.6-6.2 -13.4-5.2 -13-4.3 -12.8-3.4 -12.5-2.5 -12.2-1.6 -11.9-0.8 -11.6 0M643.4 86.7l-15.4-8.9 -15.1-7.7 -14.8-6.5 -14.4-5.4 -14.1-4.3 -13.8-3.2 -13.4-2.1 -13.1-1.2 -12.7-0.2M645.2 86.6l-15.1-8.7 -14.8-7.6 -14.5-6.4 -14.2-5.4 -13.8-4.2 -13.6-3.3 -13.2-2.2 -12.8-1.3 -12.6-0.4M646.9 86.6l-14.7-8.6 -14.5-7.4 -14.2-6.4 -13.9-5.3 -13.7-4.3 -13.3-3.2 -12.9-2.4 -12.7-1.4 -12.3-0.5M648.7 86.5l-14.5-8.3 -14.2-7.3 -13.9-6.3 -13.6-5.3 -13.4-4.2 -13-3.4 -12.8-2.4 -12.4-1.5 -12.2-0.6M650.4 86.5l-14.1-8.1 -13.9-7.2 -13.6-6.2 -13.4-5.2 -13.1-4.3 -12.8-3.3 -12.5-2.5 -12.2-1.6 -12-0.8M652.2 86.6l-13.8-8 -13.6-7.1 -13.4-6.1 -13-5.1 -12.9-4.3 -12.5-3.4 -12.3-2.5 -12-1.7 -11.8-1M653.9 86.6l-15.1-8.7 -14.9-7.6 -14.6-6.4 -14.3-5.3 -14-4.3 -13.6-3.2 -13.4-2.2 -12.9-1.2M655.7 86.7l-14.9-8.5 -14.5-7.4 -14.3-6.4 -13.9-5.3 -13.7-4.2 -13.4-3.3 -13-2.3 -12.8-1.4M657.4 86.8l-14.5-8.3 -14.2-7.3 -13.9-6.2 -13.6-5.3 -13.4-4.2 -13.1-3.3 -12.8-2.4 -12.5-1.5M659.1 87l-14.1-8.2 -13.8-7.1 -13.6-6.1 -13.4-5.2 -13-4.3 -12.8-3.3 -12.5-2.5 -12.2-1.6M660.8 87.1l-13.7-7.9 -13.5-7 -13.3-6 -13-5.1 -12.7-4.3 -12.5-3.4 -12.2-2.5 -12-1.8M662.5 87.3l-15.3-8.7 -14.9-7.6 -14.6-6.4 -14.4-5.3 -14-4.3 -13.7-3.2 -13.4-2.2M664.1 87.5l-14.7-8.5 -14.6-7.4 -14.2-6.3 -14-5.3 -13.7-4.2 -13.4-3.3 -13-2.3M665.8 87.8l-14.3-8.3 -14.1-7.2 -13.9-6.2 -13.6-5.3 -13.3-4.2 -13-3.3 -12.8-2.4M667.5 88l-13.9-8 -13.7-7.1 -13.5-6.1 -13.2-5.1 -12.9-4.3 -12.7-3.3 -12.4-2.5M669.1 88.3l-13.4-7.8 -13.3-6.9 -13-5.9 -12.9-5.1 -12.5-4.3 -12.4-3.4 -12-2.6M670.8 88.6l-15.2-8.7 -14.9-7.6 -14.6-6.4 -14.4-5.3 -14-4.2 -13.7-3.2M672.4 88.9l-14.6-8.4 -14.4-7.3 -14.2-6.3 -13.9-5.3 -13.6-4.2 -13.3-3.3" fill="none" stroke="#000" stroke-opacity="0.75" stroke-width="1.0" shape-rendering="crispEdges"/>
<path d="M541 128l13.7-9.4 13.5-8.1M538.8 126.5l12.9-8.8 12.6-7.7M536.6 125l12.1-8.2 11.8-7.3M534.4 123.6l11.2-7.7 11-6.8M532.2 122.2l20.5-13.4M530 120.9l18.8-12.4M527.9 119.5l17-11.3M525.7 118.2l15.2-10.1M523.5 116.9l13.4-8.9M521.4 115.6l11.5-7.7M519.3 114.4l9.5-6.5M517.1 113.2l7.6-5.2M515 112l5.6-3.8M512.9 110.8l3.5-2.4M510.8 109.7l1.5-1" fill="none" stroke="#000" stroke-opacity="0.44" stroke-width="1.0" shape-rendering="crispEdges"/>
<path d="M568.2 110.5l14.1-7.4 13.8-6 13.4-4.6M564.3 110l14.3-7.6 14-6.1 13.5-4.7M560.5 109.5l14.4-7.7 14.1-6.3 13.7-4.9M556.6 109.1l14.6-7.9 14.2-6.5 13.8-5M552.7 108.8l14.7-8.2 14.4-6.6 13.9-5.2M548.8 108.5l14.9-8.4 14.5-6.8 14-5.3M544.9 108.2l15-8.5 14.6-7 14.2-5.5M540.9 108.1l15.2-8.8 14.7-7.2 14.4-5.6M536.9 108l15.3-9 14.9-7.4 14.6-5.9M532.9 107.9l15.4-9.2 15.1-7.6 14.7-6M528.8 107.9l15.6-9.4 15.3-7.8 14.9-6.3M524.7 108l15.8-9.7 15.5-8 15-6.4M520.6 108.2l16-10 15.6-8.3 15.2-6.6M516.4 108.4l16.2-10.3 15.8-8.5 15.3-6.8M512.3 108.7l16.3-10.6 16-8.7 15.5-7M508.7 108.6l16.3-10.6 15.9-8.9 15.5-7.1M506.6 107.5l15.7-10.3 15.4-8.6 15-7M504.5 106.4l15.2-9.9 14.8-8.3 14.5-6.9M502.4 105.4l14.6-9.5 14.3-8.1 14-6.8M500.3 104.4l14.1-9.2 13.7-7.8 13.5-6.6M498.3 103.4l13.4-8.8 13.2-7.5 12.9-6.5M496.2 102.4l12.9-8.4 12.6-7.2 12.3-6.3M494.2 101.5l18.2-11.6 17.8-9.4M492.2 100.5l17.3-11 16.9-9M490.1 99.7l16.4-10.5 16-8.7M488.1 98.8l15.4-9.9 15.1-8.3M486.1 97.9l14.5-9.2 14.1-7.9M484.1 97.1l13.5-8.6 13.2-7.5M482.1 96.3l12.5-8 12.2-7M480.1 95.5l11.5-7.4 11.3-6.5M478.1 94.8l20.7-12.8M476.2 94.1l18.6-11.6M474.2 93.4l16.5-10.4M472.2 92.7l14.4-9.1M470.3 92l12.2-7.8M468.4 91.4l9.9-6.4M466.4 90.8l7.7-5M464.5 90.2l5.4-3.5M462.6 89.6l3.1-2M460.7 89.1l0.7-0.5" fill="none" stroke="#000" stroke-opacity="0.6" stroke-width="1.0" shape-rendering="crispEdges"/>
<path d="M609.5 92.5l13.5-3.3 13-2 12.6-0.7 12.1 0.6 11.7 1.8M606.1 91.6l13.8-3.6 13.3-2 12.8-0.8 12.4 0.6 11.9 1.8M602.7 90.6l14-3.7 13.6-2.2 13.1-0.7 12.6 0.5 12.2 1.9M599.2 89.7l14.3-3.8 13.9-2.4 13.4-0.8 12.9 0.6 12.4 1.9M595.7 88.8l12.3-3.4 11.9-2.4 11.5-1.3 11.2-0.2 10.9 0.7 10.5 1.7M592.2 88l12.5-3.6 12.2-2.5 11.8-1.3 11.4-0.3 11.1 0.7 10.7 1.8M588.7 87.2l12.8-3.8 12.4-2.6 12-1.4 11.7-0.3 11.3 0.7 10.9 1.8M585.2 86.5l13-4 12.7-2.7 12.3-1.5 11.9-0.4 11.5 0.8 11.1 1.8M581.7 85.7l13.3-4.1 12.9-2.8 12.5-1.6 12.1-0.4 11.8 0.7 11.3 1.8M578.1 85.1l13.6-4.3 13.2-3 12.7-1.7 12.4-0.5 12 0.8 11.5 1.8M574.6 84.4l13.8-4.5 13.4-3.1 13.1-1.8 12.6-0.5 12.2 0.8 11.7 1.9M571 83.9l14.1-4.7 13.7-3.3 13.3-1.9 12.9-0.5 12.4 0.7 12 1.9M567.4 83.3l14.4-4.9 14-3.4 13.5-2 13.1-0.6 12.7 0.7 12.2 2M563.7 82.8l14.7-5.1 14.3-3.6 13.8-2 13.4-0.7 12.9 0.7 12.4 2M560.1 82.4l12.9-4.7 12.5-3.5 12.3-2.3 11.8-1.3 11.6-0.2 11.2 0.9 10.8 1.8M556.4 82l13.2-4.9 12.8-3.6 12.5-2.5 12.1-1.3 11.7-0.3 11.4 0.9 11 1.8M552.7 81.6l13.5-5.1 13-3.8 12.7-2.6 12.4-1.4 12-0.2 11.6 0.8 11.2 1.9M549 81.3l13.7-5.3 13.3-4 13-2.7 12.6-1.5 12.2-0.3 11.8 0.9 11.5 1.8M545.3 81l14-5.5 13.6-4.1 13.2-2.9 12.8-1.5 12.4-0.4 12.1 0.8 11.6 1.9M541.6 80.8l14.2-5.7 13.9-4.3 13.4-3 13.1-1.7 12.7-0.4 12.2 0.8 11.9 2M537.8 80.6l14.5-5.9 14.1-4.5 13.8-3.2 13.3-1.7 12.9-0.5 12.5 0.8 12.1 2M534 80.5l14.8-6.2 14.4-4.7 14-3.3 13.6-1.8 13.1-0.5 12.8 0.8 12.3 2M530.2 80.5l13.2-5.8 12.9-4.5 12.6-3.4 12.3-2.3 12-1.2 11.6-0.1 11.2 0.9 10.9 1.9M526.4 80.5l13.5-6 13.1-4.8 12.9-3.5 12.5-2.4 12.1-1.2 11.9-0.2 11.4 0.9 11.1 1.9M522.5 80.5l13.8-6.2 13.4-5 13.1-3.7 12.7-2.5 12.4-1.3 12.1-0.2 11.6 0.9 11.3 1.9M518.6 80.6l14-6.5 13.7-5.1 13.4-3.9 13-2.6 12.6-1.4 12.2-0.3 11.9 0.9 11.6 1.9M514.7 80.8l14.3-6.8 13.9-5.3 13.6-4.1 13.3-2.7 12.8-1.5 12.5-0.3 12.1 0.9 11.8 1.9M510.8 81l14.5-7 14.3-5.6 13.8-4.2 13.5-2.9 13.1-1.6 12.7-0.3 12.4 0.8 11.9 2M506.8 81.3l14.9-7.3 14.5-5.9 14.1-4.4 13.7-3 13.4-1.6 12.9-0.4 12.6 0.8 12.1 2M502.9 81.6l15.1-7.6 14.7-6.1 14.4-4.5 14-3.2 13.6-1.8 13.2-0.4 12.8 0.8 12.3 2M498.8 82l13.8-7.1 13.4-5.8 13.1-4.7 12.8-3.4 12.5-2.3 12.2-1.2 11.8-0.1 11.5 0.9 11.2 1.9M494.8 82.5l14-7.4 13.7-6.1 13.3-4.8 13.1-3.6 12.7-2.4 12.4-1.3 12.1-0.1 11.7 0.9 11.3 1.9M490.7 83l14.3-7.7 13.9-6.3 13.6-5 13.3-3.8 13-2.5 12.6-1.4 12.3-0.2 11.9 0.9 11.6 2M486.6 83.6l14.5-8 14.2-6.6 13.9-5.2 13.6-3.9 13.2-2.7 12.8-1.4 12.5-0.3 12.2 0.9 11.7 2M482.5 84.2l14.8-8.2 14.5-6.9 14.1-5.4 13.8-4.1 13.5-2.8 13.1-1.5 12.7-0.3 12.3 0.8 12 2M478.3 85l15.1-8.6 14.7-7.2 14.5-5.6 14-4.3 13.7-2.9 13.4-1.7 12.9-0.3 12.6 0.9 12.1 2M474.1 85.8l15.4-9 15-7.4 14.7-5.9 14.3-4.5 14-3 13.6-1.7 13.2-0.4 12.7 0.8 12.4 2M469.9 86.7l14.1-8.5 13.8-7.1 13.6-5.9 13.2-4.7 13-3.5 12.6-2.3 12.3-1.2 12-0.1 11.7 0.9 11.3 1.9M465.7 87.6l14.3-8.8 14.1-7.4 13.8-6.1 13.5-4.9 13.2-3.6 12.9-2.4 12.5-1.3 12.2-0.2 11.9 0.9 11.5 1.9M461.4 88.6l14.6-9.1 14.3-7.7 14.1-6.4 13.7-5 13.5-3.8 13.1-2.6 12.8-1.3 12.4-0.3 12.1 0.9 11.7 2M458.8 88.6l14.7-9.2 14.4-7.8 14.1-6.5 13.9-5.1 13.5-3.8 13.1-2.6 12.9-1.4 12.5-0.2 12.1 0.9 11.8 1.9M456.9 88.1l14.7-9.2 14.4-7.8 14.1-6.4 13.8-5.1 13.5-3.9 13.2-2.5 12.9-1.4 12.4-0.2 12.2 0.9 11.8 1.9M455 87.6l14.7-9.1 14.3-7.8 14.1-6.4 13.8-5.1 13.5-3.8 13.1-2.6 12.8-1.4 12.5-0.2 12.1 0.8 11.8 1.9M453.2 87.1l14.4-9 14.3-7.7 13.9-6.3 13.6-5.1 13.4-3.9 13-2.6 12.7-1.4 12.4-0.3 12 0.7 11.7 1.8M451.3 86.7l14.3-8.9 14.1-7.6 13.8-6.4 13.5-5 13.2-3.9 12.9-2.6 12.6-1.5 12.3-0.4 11.9 0.6 11.6 1.7M449.4 86.3l14.2-8.8 13.9-7.6 13.7-6.2 13.4-5.1 13-3.8 12.8-2.7 12.5-1.6 12.2-0.5 11.9 0.6 11.5 1.5M447.6 85.9l14-8.7 13.8-7.5 13.5-6.2 13.2-5 13-3.9 12.6-2.7 12.4-1.6 12.1-0.6 11.7 0.5 11.5 1.4M445.8 85.5l15.3-9.5 15.1-7.9 14.8-6.5 14.4-5.1 14.1-3.7 13.8-2.3 13.4-1 13 0.2 12.6 1.4M443.9 85.2l15.2-9.4 14.9-7.9 14.6-6.5 14.3-5 14-3.7 13.6-2.4 13.3-1.1 12.9 0.1 12.5 1.3M442.1 84.9l15-9.3 14.7-7.8 14.5-6.4 14.1-5.1 13.8-3.7 13.5-2.4 13.2-1.2 12.8 0 12.4 1.2M440.3 84.6l14.8-9.2 14.6-7.7 14.3-6.4 13.9-5 13.7-3.8 13.4-2.5 13-1.2 12.6-0.1 12.4 1M438.5 84.3l14.6-9.1 14.4-7.6 14.1-6.4 13.8-5 13.6-3.7 13.2-2.5 12.9-1.4 12.5-0.2 12.2 0.9M436.7 84l14.5-8.9 14.2-7.6 13.9-6.3 13.7-5 13.3-3.7 13.1-2.6 12.8-1.4 12.4-0.3 12.1 0.8M434.9 83.8l14.3-8.8 14-7.5 13.8-6.3 13.5-5 13.2-3.7 12.9-2.7 12.7-1.4 12.3-0.4 12 0.7M433.1 83.5l14.1-8.6 13.9-7.5 13.6-6.1 13.3-5 13.1-3.8 12.8-2.7 12.5-1.5 12.1-0.5 11.9 0.6M431.4 83.3l13.9-8.5 13.6-7.4 13.4-6.1 13.2-4.9 12.9-3.9 12.7-2.7 12.3-1.6 12.1-0.5 11.8 0.4M429.6 83.2l15.4-9.5 15.1-7.9 14.9-6.4 14.5-5 14.2-3.6 13.8-2.3 13.5-0.9 13.1 0.3M427.9 83l15.1-9.3 15-7.8 14.6-6.4 14.3-5 14-3.6 13.7-2.4 13.4-1 12.9 0.2M426.1 82.9l15-9.2 14.7-7.7 14.4-6.4 14.2-5 13.8-3.6 13.5-2.4 13.2-1.2 12.9 0.1M424.4 82.7l14.7-9 14.5-7.6 14.3-6.3 13.9-5 13.7-3.7 13.3-2.4 13.1-1.3 12.7-0.1M422.7 82.6l14.5-8.8 14.3-7.6 14-6.2 13.8-5 13.5-3.7 13.1-2.5 12.9-1.4 12.6-0.2M420.9 82.6l14.3-8.8 14.1-7.5 13.9-6.1 13.5-5 13.3-3.7 13.1-2.6 12.7-1.4 12.4-0.3M419.2 82.5l14.1-8.6 13.9-7.4 13.6-6.1 13.4-5 13.1-3.7 12.9-2.6 12.5-1.5 12.3-0.5M417.5 82.5l13.9-8.5 13.6-7.3 13.5-6.1 13.2-4.9 12.9-3.8 12.7-2.6 12.4-1.6 12.1-0.6M415.8 82.5l13.7-8.4 13.4-7.2 13.2-6 13-4.9 12.8-3.8 12.5-2.7 12.2-1.7 11.9-0.6M414.2 82.4l15.3-9.3 15-7.8 14.8-6.4 14.5-4.9 14.2-3.6 13.8-2.2 13.5-1M412.5 82.5l15-9.2 14.8-7.7 14.6-6.3 14.2-5 14-3.6 13.7-2.3 13.3-1.1M410.8 82.5l14.8-9 14.6-7.6 14.3-6.3 14-4.9 13.7-3.7 13.5-2.4 13.1-1.2M409.2 82.6l14.5-8.9 14.3-7.5 14-6.2 13.9-4.9 13.5-3.7 13.2-2.5 13-1.3" fill="none" stroke="#000" stroke-opacity="0.75" stroke-width="1.0" shape-rendering="crispEdges"/>
<path d="M541.5 128.6l6.8-4.8 6.7-4.5 6.7-4.2 6.6-3.8 6.5-3.6 6.4-3.2 6.4-3 6.3-2.7 6.2-2.4 6.1-2.1 6-1.8" fill="none" stroke="#dcdc00" stroke-width="0.8"/>
<path d="M409.2 82.6l3.6-2.3 3.5-2.3 3.6-2.1 3.6-2.1 3.5-2 3.6-1.9 3.5-1.8 3.5-1.7 3.5-1.7 3.5-1.6 3.5-1.5 3.4-1.4 3.4-1.3 3.5-1.3 3.4-1.2 3.4-1.1 3.3-1 3.4-1 3.3-0.9 3.3-0.8 3.3-0.8 3.3-0.6 3.3-0.6 3.2-0.5 3.3-0.5 3.2-0.4 3.2-0.3 3.1-0.2 3.1-0.2 3-0.1 3.1-0.1 3-0.1 3.1-0.1 3 0 3 0 3.1 0.1 3 0.1 3.1 0.1 3 0.1 3.1 0.2 3.1 0.1 3 0.3 3.1 0.2 3 0.3 3.1 0.3 3.1 0.4 3 0.4 3.1 0.4 3.1 0.4 3.1 0.5 3 0.5 3.1 0.5 3.1 0.6 3.1 0.6 3.1 0.6 3.1 0.7 3.3 0.7 3.2 0.8 3.3 0.9 3.3 0.9 3.3 1 3.3 1 3.3 1.1 3.4 1.2 3.4 1.2 3.3 1.2 3.4 1.4 3.5 1.4 3.4 1.4 3.5 1.5 3.4 1.6 3.5 1.7 3.5 1.7 3.5 1.7 3.5 1.9 3.6 1.9 3.6 1.9 3.5 2.1 3.6 2.1 3.6 2.1 0 0 -2.8-0.5 -2.8-0.5 -2.8-0.4 -2.9-0.3 -2.9-0.3 -2.9-0.2 -2.9-0.1 -3-0.1 -3 0.1 -3 0.1 -3.1 0.1 -3.1 0.3 -3.1 0.3 -3.1 0.4 -3.1 0.5 -3.2 0.6 -3.2 0.6 -3.3 0.7 -3.2 0.8 -3.3 0.9 -3.4 0.3 -3.6-1.1 -3.5-1 -3.6-0.8 -3.5-1 -3.6-0.8 -3.5-0.7 -3.6-0.8 -3.5-0.7 -3.6-0.6 -3.5-0.7 -3.6-0.5 -3.5-0.6 -3.5-0.4 -3.6-0.3 -3.5-0.5 -3.5-0.3 -3.6-0.4 -3.5-0.1 -3.5-0.2 -3.5-0.2 -3.5-0.1 -3.6-0.1 -3.5 0 -3.5 0.1 -3.5 0.2 -3.5 0.1 -3.5 0.1 -3.5 0.1 -3.5 0.4 -3.5 0.3 -3.5 0.3 -3.5 0.4 -3.5 0.4 -3.5 0.6 -3.5 0.4 -3.5 0.6 -3.5 0.7 -3.4 0.7 -3.5 0.7 -3.5 0.8 -3.5 0.7 -3.5 0.9 -3.2-0.6 -3.2-0.8 -3.2-0.8 -3.1-0.7 -3.1-0.6 -3.1-0.5 -3.1-0.5 -3-0.5 -3.1-0.3 -3-0.4 -2.9-0.2 -3-0.2 -2.9-0.1 -2.9-0.1 -2.9-0.1 -2.8 0.1 -2.8 0.1z" fill="#000" fill-opacity="0.12"/>
<path d="M409.2 82.6l3.6-2.3 3.5-2.3 3.6-2.1 3.6-2.1 3.5-2 3.6-1.9 3.5-1.8 3.5-1.7 3.5-1.7 3.5-1.6 3.5-1.5 3.4-1.4 3.4-1.3 3.5-1.3 3.4-1.2 3.4-1.1 3.3-1 3.4-1 3.3-0.9 3.3-0.8 3.3-0.8 3.3-0.6 3.3-0.6 3.2-0.5 3.3-0.5 3.2-0.4 3.2-0.3 3.1-0.2 3.1-0.2 3-0.1 3.1-0.1 3-0.1 3.1-0.1 3 0 3 0 3.1 0.1 3 0.1 3.1 0.1 3 0.1 3.1 0.2 3.1 0.1 3 0.3 3.1 0.2 3 0.3 3.1 0.3 3.1 0.4 3 0.4 3.1 0.4 3.1 0.4 3.1 0.5 3 0.5 3.1 0.5 3.1 0.6 3.1 0.6 3.1 0.6 3.1 0.7 3.3 0.7 3.2 0.8 3.3 0.9 3.3 0.9 3.3 1 3.3 1 3.3 1.1 3.4 1.2 3.4 1.2 3.3 1.2 3.4 1.4 3.5 1.4 3.4 1.4 3.5 1.5 3.4 1.6 3.5 1.7 3.5 1.7 3.5 1.7 3.5 1.9 3.6 1.9 3.6 1.9 3.5 2.1 3.6 2.1 3.6 2.1 0 0 -2.8-0.5 -2.8-0.5 -2.8-0.4 -2.9-0.3 -2.9-0.3 -2.9-0.2 -2.9-0.1 -3-0.1 -3 0.1 -3 0.1 -3.1 0.1 -3.1 0.3 -3.1 0.3 -3.1 0.4 -3.2 0.2 -3.5-1.2 -3.5-1.1 -3.5-1.2 -3.5-1.1 -3.5-1 -3.5-1 -3.5-1 -3.4-0.9 -3.5-0.9 -3.5-0.9 -3.5-0.8 -3.4-0.7 -3.5-0.7 -3.5-0.6 -3.5-0.7 -3.4-0.5 -3.5-0.6 -3.4-0.5 -3.5-0.4 -3.5-0.5 -3.4-0.4 -3.5-0.2 -3.4-0.4 -3.5-0.3 -3.4-0.2 -3.4 0 -3.5-0.2 -3.4-0.1 -3.5 0 -3.4-0.1 -3.4 0.1 -3.4 0.1 -3.5 0.1 -3.4 0.3 -3.4 0.2 -3.4 0.3 -3.5 0.3 -3.4 0.3 -3.4 0.4 -3.4 0.4 -3.4 0.4 -3.4 0.6 -3.4 0.6 -3.5 0.6 -3.4 0.6 -3.4 0.7 -3.4 0.7 -3.4 0.8 -3.4 0.8 -3.4 0.8 -3.4 1 -3.3 0.9 -3.4 0.9 -3.4 1.1 -3.4 1.1 -3.1-0.1 -3.1-0.3 -3-0.4 -2.9-0.2 -3-0.2 -2.9-0.1 -2.9-0.1 -2.9-0.1 -2.8 0.1 -2.8 0.1z" fill="#000" fill-opacity="0.5"/>
<path d="M409.2 82.6l3.6-2.3 3.5-2.3 3.6-2.1 3.6-2.1 3.5-2 3.6-1.9 3.5-1.8 3.5-1.7 3.5-1.7 3.5-1.6 3.5-1.5 3.4-1.4 3.4-1.3 3.5-1.3 3.4-1.2 3.4-1.1 3.3-1 3.4-1 3.3-0.9 3.3-0.8 3.3-0.8 3.3-0.6 3.3-0.6 3.2-0.5 3.3-0.5 3.2-0.4 3.2-0.3 3.1-0.2 3.1-0.2 3-0.1 3.1-0.1 3-0.1 3.1-0.1 3 0 3 0 3.1 0.1 3 0.1 3.1 0.1 3 0.1 3.1 0.2 3.1 0.1 3 0.3 3.1 0.2 3 0.3 3.1 0.3 3.1 0.4 3 0.4 3.1 0.4 3.1 0.4 3.1 0.5 3 0.5 3.1 0.5 3.1 0.6 3.1 0.6 3.1 0.6 3.1 0.7 3.3 0.7 3.2 0.8 3.3 0.9 3.3 0.9 3.3 1 3.3 1 3.3 1.1 3.4 1.2 3.4 1.2 3.3 1.2 3.4 1.4 3.5 1.4 3.4 1.4 3.5 1.5 3.4 1.6 3.5 1.7 3.5 1.7 3.5 1.7 3.5 1.9 3.6 1.9 3.6 1.9 3.5 2.1 3.6 2.1 3.6 2.1 0 0 -2.8-0.5 -2.8-0.5 -2.8-0.4 -2.9-0.3 -2.9-0.3 -2.9-0.2 -2.9-0.1 -3.1-0.3 -3.4-1.4 -3.4-1.4 -3.4-1.3 -3.4-1.3 -3.4-1.3 -3.5-1.2 -3.4-1.2 -3.4-1.2 -3.4-1 -3.4-1.1 -3.4-1.1 -3.4-0.9 -3.4-1 -3.4-0.9 -3.3-0.9 -3.4-0.8 -3.4-0.8 -3.4-0.7 -3.4-0.8 -3.4-0.6 -3.3-0.6 -3.4-0.7 -3.4-0.5 -3.3-0.6 -3.4-0.4 -3.4-0.5 -3.3-0.4 -3.4-0.3 -3.3-0.4 -3.4-0.2 -3.3-0.2 -3.4-0.3 -3.3-0.1 -3.4-0.2 -3.3 0 -3.4-0.1 -3.3-0.1 -3.4 0.1 -3.3 0.1 -3.3 0.1 -3.3 0.1 -3.4 0.2 -3.3 0.2 -3.3 0.3 -3.3 0.2 -3.4 0.4 -3.3 0.3 -3.3 0.5 -3.3 0.4 -3.3 0.5 -3.3 0.5 -3.3 0.6 -3.3 0.6 -3.3 0.6 -3.4 0.7 -3.3 0.7 -3.2 0.8 -3.3 0.8 -3.3 0.8 -3.3 0.9 -3.3 0.9 -3.3 1 -3.3 1 -3.3 1 -3.3 1.1 -3.2 1.1 -3.3 1.1 -3.3 1.2 -3.3 1.3 -3.2 1.2 -3.3 1.3 -2.8 0.2z" fill="#000" fill-opacity="0.85" stroke="#000" stroke-width="1.2" stroke-linejoin="round"/>
<ellipse cx="541.1" cy="50.4" rx="1.9" ry="2" fill="#c8481a"/><ellipse cx="541.1" cy="54.5" rx="1.9" ry="2" fill="#bd4214"/>
<text transform="translate(409.3,140.8) scale(0.998,0.998)" font-size="6.2" text-anchor="end" font-family="Liberation Sans,sans-serif" fill="#2b2b2b">0</text>
<text transform="translate(407.9,120.6) scale(0.998,0.998)" font-size="6.2" text-anchor="end" font-family="Liberation Sans,sans-serif" fill="#2b2b2b">0.01</text>
<text transform="translate(406.5,100.4) scale(0.998,0.998)" font-size="6.2" text-anchor="end" font-family="Liberation Sans,sans-serif" fill="#2b2b2b">0.02</text>
<text transform="translate(405.1,80.2) scale(0.998,0.998)" font-size="6.2" text-anchor="end" font-family="Liberation Sans,sans-serif" fill="#2b2b2b">0.03</text>
<text transform="translate(403.8,59.9) scale(0.998,0.998)" font-size="6.2" text-anchor="end" font-family="Liberation Sans,sans-serif" fill="#2b2b2b">0.04</text>
<text transform="translate(402.4,39.7) scale(0.998,0.998)" font-size="6.2" text-anchor="end" font-family="Liberation Sans,sans-serif" fill="#2b2b2b">0.05</text>
<text transform="translate(543.6,227.1) scale(0.998,0.998)" font-size="6.2" text-anchor="start" font-family="Liberation Sans,sans-serif" fill="#2b2b2b">4</text>
<text transform="translate(568.7,217.9) scale(0.998,0.998)" font-size="6.2" text-anchor="start" font-family="Liberation Sans,sans-serif" fill="#2b2b2b">4.6</text>
<text transform="translate(593.8,208.8) scale(0.998,0.998)" font-size="6.2" text-anchor="start" font-family="Liberation Sans,sans-serif" fill="#2b2b2b">5.2</text>
<text transform="translate(619,199.7) scale(0.998,0.998)" font-size="6.2" text-anchor="start" font-family="Liberation Sans,sans-serif" fill="#2b2b2b">5.8</text>
<text transform="translate(644.1,190.5) scale(0.998,0.998)" font-size="6.2" text-anchor="start" font-family="Liberation Sans,sans-serif" fill="#2b2b2b">6.4</text>
<text transform="translate(669.2,181.4) scale(0.998,0.998)" font-size="6.2" text-anchor="start" font-family="Liberation Sans,sans-serif" fill="#2b2b2b">7</text>
<text transform="translate(537.8,226.1) scale(0.998,0.998)" font-size="6.2" text-anchor="end" font-family="Liberation Sans,sans-serif" fill="#2b2b2b">48</text>
<text transform="translate(522.1,220.4) scale(0.998,0.998)" font-size="6.2" text-anchor="end" font-family="Liberation Sans,sans-serif" fill="#2b2b2b">57</text>
<text transform="translate(506.4,214.7) scale(0.998,0.998)" font-size="6.2" text-anchor="end" font-family="Liberation Sans,sans-serif" fill="#2b2b2b">66</text>
<text transform="translate(490.7,208.9) scale(0.998,0.998)" font-size="6.2" text-anchor="end" font-family="Liberation Sans,sans-serif" fill="#2b2b2b">75</text>
<text transform="translate(475,203.2) scale(0.998,0.998)" font-size="6.2" text-anchor="end" font-family="Liberation Sans,sans-serif" fill="#2b2b2b">84</text>
<text transform="translate(459.3,197.5) scale(0.998,0.998)" font-size="6.2" text-anchor="end" font-family="Liberation Sans,sans-serif" fill="#2b2b2b">93</text>
<text transform="translate(443.6,191.8) scale(0.998,0.998)" font-size="6.2" text-anchor="end" font-family="Liberation Sans,sans-serif" fill="#2b2b2b">102</text>
<text transform="translate(427.9,186.1) scale(0.998,0.998)" font-size="6.2" text-anchor="end" font-family="Liberation Sans,sans-serif" fill="#2b2b2b">111</text>
<text transform="translate(412.2,180.4) scale(0.998,0.998)" font-size="6.2" text-anchor="end" font-family="Liberation Sans,sans-serif" fill="#2b2b2b">120</text>
<text transform="translate(384.4,221.8) scale(0.998,0.998)" font-size="9.2" text-anchor="start" font-family="Liberation Sans,sans-serif" fill="#1c1c1c">C: Incubation Time (h)</text>
<text transform="translate(641,221.8) scale(0.998,0.998)" font-size="9.2" text-anchor="start" font-family="Liberation Sans,sans-serif" fill="#1c1c1c">A: pH</text>
<text transform="translate(384.2,113.5) scale(0.998,0.998) rotate(-90)" font-size="11.1" text-anchor="middle" font-family="Liberation Serif,serif" fill="#111">Tannin acyl hydrolase</text>
<text x="372.8" y="25.2" font-size="16.5" font-weight="bold" font-family="Liberation Serif,serif" fill="#000">b</text></g>
<g id="pc"><path d="M49.5,394.2L180.3,358.5L311.1,394.2M48,372.1L180.3,338.6L312.5,372.1M46.6,349.9L180.3,318.6L313.9,349.9M45.2,327.8L180.3,298.7L315.3,327.8M43.8,305.7L180.3,278.8L316.7,305.7M42.4,283.6L180.3,258.8L318.1,283.6M51.6,428.5L42.4,283.6M75.6,387.1L70,278.6M101.8,379.9L97.6,273.7M127.9,372.8L125.1,268.7M154.1,365.6L152.7,263.8M180.3,389.4L180.3,258.8M308.9,428.5L318.1,283.6M278.4,385.3L283.7,277.4M245.7,376.4L249.2,271.2M213,367.4L214.7,265" fill="none" stroke="#151515" stroke-width="1.05"/>
<polygon points="51.6,428.5 180.3,478.5 308.9,428.5 180.3,389.4" fill="#ffff00" stroke="#444" stroke-width="0.7"/>
<path d="M172 473.3l8 0.1 8.2 0.1" fill="none" stroke="#7dff1a" stroke-width="0.8"/>
<path d="M150.7 465.6l6.8 0.3 6.8 0.3 6.9 0.2 7 0.2 7 0 7.1-0.1 7.2-0.2 7.2-0.3" fill="none" stroke="#a0ff30" stroke-width="0.8"/>
<clipPath id="flc"><polygon points="51.6,428.5 180.3,478.5 308.9,428.5 180.3,389.4"/></clipPath>
<ellipse cx="169.15" cy="422.6" rx="54.65" ry="14.8" fill="none" stroke="#ffa01e" stroke-width="0.9" clip-path="url(#flc)"/>
<path d="M180.3,478.5l1.2,1.7M206,468.5l1.2,1.7M231.7,458.5l1.2,1.7M257.5,448.5l1.2,1.7M283.2,438.5l1.2,1.7M308.9,428.5l1.2,1.7M180.3,478.5l-1.2,1.7M148.1,466l-1.2,1.7M116,453.5l-1.2,1.7M83.8,441l-1.2,1.7M51.6,428.5l-1.2,1.7M49.5,394.2l-1.8,-0.5M48,372.1l-1.8,-0.5M46.6,349.9l-1.8,-0.5M45.2,327.8l-1.8,-0.5M43.8,305.7l-1.8,-0.5M42.4,283.6l-1.8,-0.5" fill="none" stroke="#222" stroke-width="0.9"/>
<path d="M180.3 388.9l6.1-5.4 6-5.2 6-4.9 6-4.6 5.9-4.4 5.8-4 5.8-3.8 5.7-3.5 5.7-3.3 5.6-3 5.5-2.7 5.5-2.5 5.4-2.2 5.3-2 5.3-1.7 5.3-1.4 5.1-1.3 5.1-1 5-0.7 5-0.5 4.8-0.3 4.8-0.1 4.8 0.1 4.7 0.4 4.6 0.6 -5.9-3.5 -5.9-3.3 -5.9-3 -5.8-2.9 -5.7-2.7 -5.8-2.5 -5.6-2.3 -5.7-2.1 -5.6-1.9 -5.5-1.8 -5.5-1.6 -5.5-1.3 -5.4-1.3 -5.3-1 -5.4-0.9 -5.2-0.6 -5.2-0.6 -5.2-0.3 -5.1-0.2 -5.1-0.1 -5 0.2 -4.9 0.2 -5 0.5 -4.8 0.6 -4.8 0.7 -4.8-1.6 -4.9-1.3 -4.9-1.2 -5-1 -5-0.8 -5.1-0.6 -5.1-0.4 -5.2-0.2 -5.3 0 -5.3 0.2 -5.3 0.4 -5.4 0.6 -5.4 0.8 -5.5 1.1 -5.5 1.2 -5.6 1.5 -5.6 1.7 -5.7 2 -5.7 2.2 -5.8 2.4 -5.8 2.7 -5.8 2.9 -5.9 3.1 -5.9 3.4 -5.9 3.6 4.7 0.3 4.7 0.4 4.8 0.7 4.9 0.8 4.9 1 5 1.2 5.1 1.4 5.1 1.6 5.2 1.7 5.2 2 5.3 2.2 5.4 2.4 5.4 2.6 5.5 2.8 5.6 3 5.6 3.2 5.6 3.5 5.8 3.6 5.7 3.9 5.9 4.1 5.9 4.4 5.9 4.5 6 4.8 6.1 5.1z" fill="#07b400"/>
<path d="M44.9 322.5l4.6 0.3 4.6 0.4 4.7 0.6 4.8 0.8 4.8 1 4.9 1.1 5 1.4 5 1.5 5.1 1.7 5.1 1.9 5.2 2.1 5.2 2.3 5.4 2.5 5.3 2.7 5.4 2.9 5.5 3.1 5.6 3.3 5.6 3.5 5.6 3.8 5.7 3.9 5.8 4.2 5.8 4.4 5.8 4.6 5.9 4.8 6 5 5.8 0.1 5.9-5.2 6-5 5.8-4.7 5.8-4.4 5.8-4.2 5.7-3.9 5.7-3.6 5.6-3.4 5.5-3.1 5.5-2.9 5.4-2.6 5.4-2.3 5.3-2.1 5.2-1.9 5.2-1.7 5.1-1.4 5-1.1 5-1 5-0.7 4.8-0.5 4.8-0.2 4.7-0.1 4.7 0.2 4.6 0.3 4.5 0.6 -5.7-3.4 -5.7-3.1 -5.6-3 -5.6-2.8 -5.5-2.6 -5.6-2.4 -5.4-2.3 -5.5-2.1 -5.3-1.9 -5.4-1.7 -5.3-1.6 -5.3-1.4 -5.2-1.3 -5.2-1.1 -5.1-0.9 -5.1-0.7 -5-0.6 -5-0.5 -5-0.3 -4.9-0.1 -4.8 0 -4.9 0.1 -4.7 0.3 -4.7 0.4 -4.7 0.6 -4.6 0.7 -4.7-1.5 -4.6-1.3 -4.8-1.2 -4.7-0.9 -4.9-0.9 -4.8-0.6 -5-0.4 -4.9-0.3 -5.1-0.1 -5 0.2 -5.1 0.3 -5.2 0.5 -5.2 0.7 -5.3 0.9 -5.2 1.1 -5.4 1.3 -5.4 1.5 -5.4 1.7 -5.4 2 -5.5 2.1 -5.6 2.4 -5.6 2.6 -5.6 2.8 -5.6 3.1 -5.7 3.2z" fill="#09b700"/>
<path d="M44.9 322.5l4.6 0.3 4.7 0.4 4.8 0.7 4.8 0.8 4.9 0.9 4.9 1.2 5.1 1.4 5 1.5 5.2 1.8 5.2 1.9 5.2 2.2 5.3 2.3 5.4 2.6 5.4 2.7 5.5 3 5.6 3.1 5.6 3.4 5.6 3.6 5.7 3.8 5.8 4.1 5.9 4.2 5.8 4.5 6 4.7 6 5 1.2 0 11.1 0.1 2.1 0 6-5.1 6-4.9 5.9-4.5 5.8-4.3 5.8-4 5.7-3.7 5.7-3.5 5.6-3.2 5.6-2.9 5.5-2.7 5.4-2.5 5.4-2.2 5.3-1.9 5.3-1.7 5.1-1.4 5.2-1.2 5-1 5-0.7 4.9-0.5 4.9-0.3 4.7-0.1 4.8 0.1 4.6 0.4 4.6 0.6 -5.7-3.4 -5.7-3.1 -5.6-3 -5.6-2.8 -5.5-2.6 -5.6-2.4 -5.4-2.3 -5.5-2.1 -5.3-1.9 -5.4-1.7 -5.3-1.6 -5.3-1.4 -5.2-1.3 -5.2-1.1 -5.1-0.9 -5.1-0.7 -5-0.6 -5-0.5 -5-0.3 -4.9-0.1 -4.8 0 -4.9 0.1 -4.7 0.3 -4.7 0.4 -4.7 0.6 -4.6 0.7 -4.7-1.5 -4.6-1.3 -4.8-1.2 -4.7-0.9 -4.9-0.9 -4.8-0.6 -5-0.4 -4.9-0.3 -5.1-0.1 -5 0.2 -5.1 0.3 -5.2 0.5 -5.2 0.7 -5.3 0.9 -5.2 1.1 -5.4 1.3 -5.4 1.5 -5.4 1.7 -5.4 2 -5.5 2.1 -5.6 2.4 -5.6 2.6 -5.6 2.8 -5.6 3.1 -5.7 3.2z" fill="#0bb900"/>
<path d="M44.9 322.5l4.5 0.3 4.5 0.4 4.6 0.6 4.7 0.7 4.7 1 4.8 1.1 4.8 1.3 4.9 1.4 5 1.7 5 1.8 5 2 5.1 2.2 5.2 2.4 5.2 2.5 5.3 2.8 5.4 3 5.4 3.1 5.4 3.4 5.5 3.6 5.6 3.7 5.6 4 5.6 4.2 5.7 4.4 5.8 4.6 5.6 0.2 10.8 0.1 7.1-0.1 5.8-4.8 5.7-4.5 5.7-4.2 5.7-4 5.6-3.7 5.5-3.5 5.5-3.2 5.4-3 5.3-2.7 5.3-2.5 5.3-2.3 5.2-2 5.1-1.8 5.1-1.5 5-1.4 4.9-1.1 4.9-0.9 4.8-0.6 4.8-0.5 4.6-0.3 4.7 0 4.5 0.2 4.5 0.3 4.5 0.6 -5.7-3.4 -5.7-3.1 -5.6-3 -5.6-2.8 -5.5-2.6 -5.6-2.4 -5.4-2.3 -5.5-2.1 -5.3-1.9 -5.4-1.7 -5.3-1.6 -5.3-1.4 -5.2-1.3 -5.2-1.1 -5.1-0.9 -5.1-0.7 -5-0.6 -5-0.5 -5-0.3 -4.9-0.1 -4.8 0 -4.9 0.1 -4.7 0.3 -4.7 0.4 -4.7 0.6 -4.6 0.7 -4.7-1.5 -4.6-1.3 -4.8-1.2 -4.7-0.9 -4.9-0.9 -4.8-0.6 -5-0.4 -4.9-0.3 -5.1-0.1 -5 0.2 -5.1 0.3 -5.2 0.5 -5.2 0.7 -5.3 0.9 -5.2 1.1 -5.4 1.3 -5.4 1.5 -5.4 1.7 -5.4 2 -5.5 2.1 -5.6 2.4 -5.6 2.6 -5.6 2.8 -5.6 3.1 -5.7 3.2z" fill="#0dbc00"/>
<path d="M44.9 322.5l4.5 0.3 4.6 0.4 4.6 0.6 4.7 0.8 4.8 0.9 4.8 1.1 4.9 1.3 4.9 1.5 5 1.7 5 1.8 5.1 2.1 5.2 2.2 5.2 2.4 5.3 2.6 5.3 2.8 5.4 3 5.5 3.2 5.4 3.5 5.6 3.6 5.6 3.8 5.7 4.1 5.7 4.2 5.7 4.5 10.1 0.2 10.5 0.1 10.5-0.1 1.8 0 5.8-4.6 5.8-4.3 5.7-4.1 5.6-3.8 5.6-3.5 5.5-3.3 5.5-3.1 5.4-2.8 5.4-2.5 5.3-2.3 5.2-2.1 5.2-1.8 5.1-1.6 5.1-1.4 5-1.1 4.9-0.9 4.8-0.7 4.8-0.5 4.8-0.3 4.7 0 4.6 0.2 4.5 0.3 4.5 0.6 -5.7-3.4 -5.7-3.1 -5.6-3 -5.6-2.8 -5.5-2.6 -5.6-2.4 -5.4-2.3 -5.5-2.1 -5.3-1.9 -5.4-1.7 -5.3-1.6 -5.3-1.4 -5.2-1.3 -5.2-1.1 -5.1-0.9 -5.1-0.7 -5-0.6 -5-0.5 -5-0.3 -4.9-0.1 -4.8 0 -4.9 0.1 -4.7 0.3 -4.7 0.4 -4.7 0.6 -4.6 0.7 -4.7-1.5 -4.6-1.3 -4.8-1.2 -4.7-0.9 -4.9-0.9 -4.8-0.6 -5-0.4 -4.9-0.3 -5.1-0.1 -5 0.2 -5.1 0.3 -5.2 0.5 -5.2 0.7 -5.3 0.9 -5.2 1.1 -5.4 1.3 -5.4 1.5 -5.4 1.7 -5.4 2 -5.5 2.1 -5.6 2.4 -5.6 2.6 -5.6 2.8 -5.6 3.1 -5.7 3.2z" fill="#0fbe00"/>
<path d="M44.9 322.5l4.5 0.3 4.6 0.4 4.7 0.6 4.7 0.8 4.8 0.9 4.8 1.2 4.9 1.3 5 1.5 5 1.6 5.1 1.9 5.1 2.1 5.2 2.2 5.3 2.5 5.3 2.6 5.3 2.8 5.5 3.1 5.4 3.2 5.6 3.5 5.5 3.7 5.7 3.8 5.7 4.1 5.7 4.3 5 0.2 10 0.2 10.1 0.1 10.2 0 7.6-0.2 5.8-4.4 5.8-4.1 5.7-3.9 5.6-3.6 5.6-3.3 5.5-3.1 5.5-2.9 5.4-2.6 5.3-2.3 5.3-2.1 5.2-1.9 5.2-1.6 5-1.4 5.1-1.2 4.9-0.9 4.9-0.7 4.9-0.5 4.8-0.2 4.7-0.1 4.6 0.2 4.6 0.3 4.5 0.6 -5.7-3.4 -5.7-3.1 -5.6-3 -5.6-2.8 -5.5-2.6 -5.6-2.4 -5.4-2.3 -5.5-2.1 -5.3-1.9 -5.4-1.7 -5.3-1.6 -5.3-1.4 -5.2-1.3 -5.2-1.1 -5.1-0.9 -5.1-0.7 -5-0.6 -5-0.5 -5-0.3 -4.9-0.1 -4.8 0 -4.9 0.1 -4.7 0.3 -4.7 0.4 -4.7 0.6 -4.6 0.7 -4.7-1.5 -4.6-1.3 -4.8-1.2 -4.7-0.9 -4.9-0.9 -4.8-0.6 -5-0.4 -4.9-0.3 -5.1-0.1 -5 0.2 -5.1 0.3 -5.2 0.5 -5.2 0.7 -5.3 0.9 -5.2 1.1 -5.4 1.3 -5.4 1.5 -5.4 1.7 -5.4 2 -5.5 2.1 -5.6 2.4 -5.6 2.6 -5.6 2.8 -5.6 3.1 -5.7 3.2z" fill="#1ac000"/>
<path d="M44.9 322.5l4.6 0.3 4.6 0.4 4.7 0.6 4.7 0.8 4.8 1 4.9 1.1 4.9 1.3 5 1.5 5 1.7 5.1 1.9 5.1 2.1 5.3 2.2 5.2 2.5 5.4 2.7 5.4 2.8 5.4 3.1 5.5 3.3 5.5 3.4 5.7 3.7 5.6 3.9 5.7 4.1 0.9 0.1 9.5 0.3 9.6 0.2 9.7 0.1 9.9 0 10-0.2 3.8-0.2 5.8-4.1 5.7-3.9 5.7-3.7 5.6-3.4 5.6-3.1 5.5-2.9 5.4-2.6 5.4-2.4 5.3-2.1 5.2-1.9 5.2-1.6 5.1-1.4 5.1-1.2 5-1 4.9-0.7 4.9-0.5 4.8-0.2 4.7-0.1 4.7 0.2 4.5 0.3 4.6 0.6 -5.7-3.4 -5.7-3.1 -5.6-3 -5.6-2.8 -5.5-2.6 -5.6-2.4 -5.4-2.3 -5.5-2.1 -5.3-1.9 -5.4-1.7 -5.3-1.6 -5.3-1.4 -5.2-1.3 -5.2-1.1 -5.1-0.9 -5.1-0.7 -5-0.6 -5-0.5 -5-0.3 -4.9-0.1 -4.8 0 -4.9 0.1 -4.7 0.3 -4.7 0.4 -4.7 0.6 -4.6 0.7 -4.7-1.5 -4.6-1.3 -4.8-1.2 -4.7-0.9 -4.9-0.9 -4.8-0.6 -5-0.4 -4.9-0.3 -5.1-0.1 -5 0.2 -5.1 0.3 -5.2 0.5 -5.2 0.7 -5.3 0.9 -5.2 1.1 -5.4 1.3 -5.4 1.5 -5.4 1.7 -5.4 2 -5.5 2.1 -5.6 2.4 -5.6 2.6 -5.6 2.8 -5.6 3.1 -5.7 3.2z" fill="#2ec100"/>
<path d="M44.9 322.5l4.6 0.3 4.6 0.4 4.7 0.6 4.7 0.8 4.8 1 4.9 1.1 4.9 1.3 5 1.5 5 1.7 5.1 1.9 5.2 2.1 5.2 2.2 5.3 2.5 5.3 2.7 5.4 2.8 5.4 3.1 5.5 3.3 5.6 3.5 5.6 3.7 5.7 3.9 6.9 0.3 9.1 0.3 9.3 0.2 9.4 0.1 9.5-0.1 9.6-0.1 9.7-0.3 1.1-0.1 5.7-3.9 5.7-3.7 5.6-3.4 5.6-3.1 5.5-2.9 5.4-2.6 5.4-2.4 5.4-2.2 5.2-1.9 5.2-1.6 5.1-1.4 5.1-1.2 5-0.9 4.9-0.8 4.9-0.5 4.8-0.2 4.8-0.1 4.6 0.2 4.6 0.3 4.6 0.6 -5.7-3.4 -5.7-3.1 -5.6-3 -5.6-2.8 -5.5-2.6 -5.6-2.4 -5.4-2.3 -5.5-2.1 -5.3-1.9 -5.4-1.7 -5.3-1.6 -5.3-1.4 -5.2-1.3 -5.2-1.1 -5.1-0.9 -5.1-0.7 -5-0.6 -5-0.5 -5-0.3 -4.9-0.1 -4.8 0 -4.9 0.1 -4.7 0.3 -4.7 0.4 -4.7 0.6 -4.6 0.7 -4.7-1.5 -4.6-1.3 -4.8-1.2 -4.7-0.9 -4.9-0.9 -4.8-0.6 -5-0.4 -4.9-0.3 -5.1-0.1 -5 0.2 -5.1 0.3 -5.2 0.5 -5.2 0.7 -5.3 0.9 -5.2 1.1 -5.4 1.3 -5.4 1.5 -5.4 1.7 -5.4 2 -5.5 2.1 -5.6 2.4 -5.6 2.6 -5.6 2.8 -5.6 3.1 -5.7 3.2z" fill="#42c200"/>
<path d="M44.9 322.5l4.5 0.3 4.6 0.4 4.7 0.6 4.7 0.8 4.8 0.9 4.9 1.2 4.9 1.3 4.9 1.5 5.1 1.7 5 1.8 5.2 2.1 5.2 2.2 5.2 2.5 5.4 2.6 5.3 2.9 5.4 3 5.5 3.3 5.6 3.5 5.5 3.6 4.8 0.3 8.6 0.4 8.8 0.3 8.9 0.2 9 0 9.2 0 9.2-0.1 9.3-0.3 9-0.4 5.6-3.7 5.6-3.3 5.5-3.2 5.5-2.8 5.4-2.6 5.4-2.4 5.3-2.1 5.2-1.9 5.2-1.6 5.1-1.4 5-1.2 5-0.9 4.9-0.8 4.8-0.5 4.8-0.2 4.7-0.1 4.7 0.1 4.6 0.4 4.5 0.6 -0.1-0.2 -5.9-3.4 -5.9-3.3 -5.8-3 -5.8-2.9 -5.7-2.7 -5.7-2.5 -5.7-2.3 -5.6-2.1 -5.6-1.9 -5.6-1.7 -5.4-1.6 -5.5-1.4 -5.4-1.2 -5.3-1 -5.3-0.9 -5.3-0.7 -5.2-0.5 -5.2-0.3 -5.1-0.2 -5-0.1 -5 0.2 -5 0.2 -4.9 0.5 -4.8 0.6 -4.8 0.7 -4.7-1.5 -4.6-1.3 -4.8-1.2 -4.7-0.9 -4.9-0.9 -4.8-0.6 -5-0.4 -4.9-0.3 -5.1-0.1 -5 0.2 -5.1 0.3 -5.2 0.5 -5.2 0.7 -5.3 0.9 -5.2 1.1 -5.4 1.3 -5.4 1.5 -5.4 1.7 -5.4 2 -5.5 2.1 -5.6 2.4 -5.6 2.6 -5.6 2.8 -5.6 3.1 -5.7 3.2z" fill="#56c300"/>
<path d="M180.5 299.7l-0.2 0 -0.2 0 -4.8-1.5 -4.8-1.4 -5-1.1 -4.9-1 -5.1-0.8 -5-0.6 -5.2-0.4 -5.1-0.2 -5.3 0 -5.3 0.2 -5.3 0.4 -5.4 0.6 -5.4 0.8 -5.5 1.1 -5.5 1.2 -5.6 1.5 -5.6 1.8 -5.7 1.9 -5.7 2.2 -5.7 2.4 -5.8 2.7 -5.8 2.9 -5.9 3.1 -5.9 3.4 -5.9 3.6 4.5 0.3 4.6 0.4 4.6 0.6 4.7 0.8 4.7 0.9 4.8 1.1 4.9 1.3 4.9 1.5 4.9 1.6 5.1 1.9 5.1 2 5.1 2.2 5.2 2.4 5.3 2.6 5.3 2.8 5.3 3 5.5 3.2 5.4 3.4 3.9 0.2 8.2 0.5 8.2 0.4 8.4 0.2 8.6 0.2 8.6 0.1 8.8-0.1 8.8-0.1 9-0.3 8.9-0.4 8.7-0.5 5.4-3.2 5.4-3 5.3-2.8 5.3-2.5 5.2-2.3 5.2-2 5.1-1.8 5-1.6 5-1.4 4.9-1.2 4.8-0.9 4.8-0.7 4.7-0.5 4.7-0.3 4.6-0.1 4.6 0.1 4.4 0.3 -0.1-1.7 -0.7-1.4 -5.8-3.3 -5.8-3 -5.8-2.8 -5.7-2.7 -5.7-2.5 -5.6-2.2 -5.6-2.1 -5.6-1.9 -5.5-1.8 -5.4-1.5 -5.5-1.4 -5.3-1.2 -5.4-1 -5.2-0.9 -5.3-0.7 -5.1-0.5 -5.2-0.3 -5.1-0.2 -5-0.1 -5 0.2 -4.9 0.2 -4.9 0.5 -4.8 0.5z" fill="#69c200"/>
<path d="M186 298.9l-6.3-0.2 -3.3-0.2 -4.7-1.3 -4.8-1.2 -4.8-1 -4.8-0.9 -4.9-0.6 -5-0.5 -5-0.3 -5-0.1 -5.1 0.1 -5.2 0.3 -5.1 0.5 -5.3 0.7 -5.3 0.9 -5.3 1.1 -5.3 1.3 -5.5 1.5 -5.4 1.7 -5.5 2 -5.5 2.1 -5.6 2.4 -5.6 2.6 -5.7 2.9 -5.6 3 -5.8 3.3 -5.7 3.5 4.4 0.3 4.5 0.4 4.5 0.6 4.6 0.7 4.7 0.9 4.7 1.1 4.7 1.2 4.8 1.4 4.9 1.6 4.9 1.8 5 1.9 5.1 2.2 5 2.3 5.2 2.5 5.2 2.7 5.2 2.9 5.3 3 4.7 0.4 7.6 0.5 7.8 0.5 7.9 0.3 8 0.3 8.2 0.1 8.2 0.1 8.4 0 8.4-0.2 8.5-0.2 8.6-0.4 8.6-0.5 8.5-0.7 1.8-0.1 5.4-2.9 5.3-2.7 5.3-2.4 5.2-2.2 5.2-1.9 5.1-1.8 5-1.4 5-1.3 4.9-1.1 4.8-0.8 4.8-0.6 4.7-0.4 4.7-0.2 4.6 0 0.6-1.5 -0.1-2.3 -1.1-2.2 -0.3-0.4 -5.8-3 -5.6-2.8 -5.7-2.6 -5.6-2.4 -5.5-2.2 -5.6-2.1 -5.4-1.8 -5.5-1.7 -5.4-1.6 -5.3-1.3 -5.3-1.2 -5.3-1 -5.2-0.8 -5.1-0.7 -5.1-0.5 -5.1-0.4 -5-0.2 -5-0.1 -4.9 0.1 -4.9 0.3 -4.8 0.4z" fill="#7cc000"/>
<path d="M192.3 298.2l-1 0 -6-0.3 -6.2-0.3 -6.1-0.2 -0.6 0 -4.8-1.3 -4.8-1 -4.9-0.9 -4.9-0.6 -5-0.5 -5-0.3 -5.1-0.2 -5.1 0.1 -5.2 0.3 -5.2 0.5 -5.2 0.6 -5.3 0.9 -5.4 1.1 -5.4 1.3 -5.4 1.5 -5.5 1.7 -5.6 2 -5.5 2.2 -5.6 2.3 -5.7 2.7 -5.7 2.8 -5.7 3.1 -5.7 3.3 -5.8 3.5 4.6 0.3 4.6 0.4 4.6 0.6 4.8 0.8 4.8 1 4.8 1.1 5 1.3 4.9 1.5 5.1 1.7 5.1 1.9 5.1 2.1 5.2 2.2 5.3 2.5 5.3 2.6 5.4 2.9 0.2 0 7 0.7 7.2 0.5 7.2 0.5 7.4 0.4 7.5 0.3 7.7 0.2 7.7 0.2 7.9 0.1 7.9-0.1 8.1-0.1 8.1-0.2 8.1-0.4 8.2-0.5 8.1-0.6 8-0.7 6.8-0.8 5.5-2.5 5.4-2.3 5.4-2 5.2-1.8 5.3-1.6 5.1-1.3 5.1-1 5-0.9 5-0.6 4.8-0.3 0-0.1 1.8-2.1 0.9-2.1 0-2.1 -1-2.1 -1.6-1.9 -5.5-2.7 -5.5-2.5 -5.4-2.3 -5.4-2.1 -5.4-1.9 -5.3-1.8 -5.2-1.7 -5.3-1.4 -5.1-1.3 -5.2-1.2 -5.1-1 -5-0.8 -5-0.7 -5-0.5 -4.9-0.4 -4.9-0.2 -4.8-0.1 -4.8 0.1 -4.7 0.2z" fill="#8ebd00"/>
<path d="M199.6 297.8l-3.7-0.3 -5.8-0.4 -5.7-0.3 -5.9-0.2 -5.9-0.2 -4.5-0.1 -4.9-1.1 -4.8-0.9 -5-0.7 -5-0.5 -5-0.3 -5.1-0.2 -5.1 0.1 -5.2 0.3 -5.2 0.4 -5.3 0.7 -5.3 0.8 -5.4 1.1 -5.4 1.3 -5.4 1.5 -5.5 1.7 -5.6 2 -5.5 2.1 -5.6 2.4 -5.7 2.6 -5.7 2.9 -5.7 3 -5.8 3.3 -5.8 3.6 0.2 0.1 4.6 0.3 4.6 0.5 4.7 0.6 4.8 0.8 4.8 1 4.9 1.1 5 1.4 5 1.5 5.1 1.8 5.1 1.9 5.2 2.1 5.3 2.3 5.3 2.5 5.9 0.7 6.5 0.6 6.7 0.6 6.7 0.6 6.9 0.4 7 0.4 7.1 0.3 7.3 0.2 7.3 0.1 7.4 0.1 7.5 0 7.6-0.2 7.7-0.2 7.7-0.3 7.7-0.4 7.7-0.6 7.7-0.7 7.5-0.8 7.3-1 7-1.1 4.9-0.9 5.3-1.8 5.2-1.5 5.1-1.3 5.1-1.1 2.2-0.9 3.5-1.9 2.7-1.9 1.8-2 0.8-1.9 0-2 -0.8-2 -1.6-1.9 -2.2-1.8 -5.4-2.3 -5.4-2.2 -5.3-2.1 -5.3-1.8 -5.2-1.7 -5.2-1.5 -5.2-1.4 -5.1-1.2 -5.1-1.1 -5-0.9 -5-0.7 -5-0.6 -4.9-0.5 -4.9-0.3 -4.8-0.1 -4.7-0.1z" fill="#9cb600"/>
<path d="M208.8 297.7l-3.7-0.4 -5.3-0.4 -5.5-0.4 -5.4-0.4 -5.5-0.2 -5.6-0.3 -5.6-0.2 -5.6-0.1 -3.3-0.1 -4.9-0.9 -4.9-0.7 -5-0.5 -5-0.3 -5.1-0.2 -5.2 0.1 -5.2 0.3 -5.2 0.4 -5.3 0.7 -5.3 0.9 -5.4 1 -5.4 1.3 -5.5 1.5 -5.5 1.8 -5.5 1.9 -5.6 2.2 -5.6 2.4 -5.7 2.6 -5.7 2.8 -5.7 3.1 -5.8 3.3 0.1 0.3 1.9 1.7 2.4 1.6 2.1 1.1 4.7 0.7 4.7 0.9 4.7 1.1 4.8 1.2 4.9 1.4 4.9 1.6 4.9 1.7 5.1 2 4.8 0.8 5.7 0.8 6 0.7 6 0.7 6.2 0.6 6.2 0.6 6.4 0.5 6.5 0.4 6.6 0.3 6.6 0.3 6.8 0.2 6.9 0.1 7 0.1 7.1 0 7.1-0.2 7.2-0.2 7.3-0.3 7.3-0.4 7.2-0.5 7.2-0.6 7.1-0.8 6.8-0.9 6.7-1 6.3-1.1 5.9-1.3 5.3-1.4 4.8-1.6 4.1-1.6 3.3-1.7 2.6-1.8 1.7-1.9 0.9-1.8 0-1.9 -0.7-1.8 -1.5-1.8 -2.2-1.8 -2.7-1.7 -1.1-0.5 -5.4-2.1 -5.3-1.9 -5.3-1.7 -5.3-1.5 -5.2-1.4 -5.1-1.2 -5.2-1.1 -5-0.9 -5.1-0.8 -5-0.6 -4.9-0.4 -4.9-0.3z" fill="#a4ab00"/>
<path d="M222.6 298.4l-4.7-0.5 -5-0.6 -5-0.5 -5-0.5 -5.1-0.4 -5.1-0.4 -5.2-0.3 -5.1-0.3 -5.3-0.2 -5.3-0.2 -5.3-0.1 -5.4-0.1 -3.1 0 -4.9-0.7 -4.9-0.5 -5-0.3 -5.1-0.2 -5.1 0.1 -5.1 0.3 -5.2 0.4 -5.3 0.7 -5.2 0.9 -5.4 1 -5.3 1.3 -5.4 1.5 -5.5 1.7 -5.5 1.9 -5.5 2.2 -5.6 2.3 -5.6 2.6 -5.7 2.8 -5.7 3 1 1.4 1.8 1.6 2.3 1.5 2.9 1.5 3.2 1.4 3.7 1.3 4 1.3 4.3 1.2 4.6 1.1 4.8 1 4.9 1 5.2 0.9 5.3 0.8 5.4 0.8 5.5 0.7 5.7 0.6 5.7 0.5 5.9 0.6 5.9 0.4 6.1 0.4 6.1 0.3 6.3 0.3 6.3 0.1 6.4 0.2 6.6 0 6.6 0 6.6-0.1 6.8-0.2 6.7-0.3 6.8-0.4 6.8-0.4 6.7-0.6 6.6-0.7 6.5-0.8 6.2-1 5.9-1 5.5-1.2 5.1-1.3 4.5-1.4 3.8-1.6 3.2-1.5 2.4-1.7 1.7-1.7 0.9-1.7 0.1-1.8 -0.7-1.7 -1.3-1.7 -2-1.6 -2.5-1.5 -3-1.5 -3.5-1.4 -2.9-1.1 -4.9-1.4 -4.8-1.4 -4.8-1.1 -4.7-1.1 -4.7-0.9 -4.7-0.8 -4.6-0.6z" fill="#ab9f00"/>
<path d="M223.6 298l-4.6-0.6 -4.6-0.6 -4.6-0.5 -4.7-0.5 -4.7-0.5 -4.7-0.3 -4.8-0.4 -4.8-0.3 -4.9-0.2 -4.9-0.3 -4.9-0.1 -5-0.1 -5.1-0.1 -5.1-0.1 -4.2 0 -4.9-0.4 -4.8-0.3 -4.9-0.1 -5 0.1 -5 0.3 -5.1 0.5 -5.1 0.6 -5.1 0.9 -5.2 1 -5.2 1.2 -5.3 1.5 -5.3 1.6 -5.3 1.9 -5.4 2 -5.4 2.3 -5.4 2.4 -5.5 2.7 0.4 1.1 1.1 1.5 1.7 1.5 2.2 1.4 2.7 1.3 3 1.3 3.5 1.2 3.7 1.2 4.1 1.1 4.2 1 4.5 0.9 4.6 0.9 4.8 0.8 4.9 0.8 5 0.7 5.1 0.6 5.2 0.6 5.4 0.5 5.4 0.5 5.5 0.4 5.6 0.3 5.7 0.3 5.7 0.2 5.9 0.2 5.9 0.1 6.1 0.1 6.1-0.1 6.1 0 6.2-0.2 6.3-0.3 6.3-0.3 6.3-0.4 6.2-0.6 6.1-0.6 6-0.8 5.7-0.8 5.5-1 5.2-1.1 4.7-1.2 4.2-1.3 3.6-1.3 3-1.5 2.3-1.5 1.6-1.6 0.8-1.6 0.2-1.6 -0.6-1.5 -1.2-1.6 -1.7-1.5 -2.3-1.4 -2.8-1.4 -3.2-1.3 -3.5-1.2 -3.7-1.1 -4-1.1 -4.1-1 -4.3-0.9 -4.4-0.8 -4.5-0.8z" fill="#a38d08"/>
<path d="M219.1 296.9l-4.2-0.6 -4.3-0.5 -4.3-0.5 -4.3-0.4 -4.3-0.4 -4.4-0.4 -4.4-0.3 -4.4-0.3 -4.5-0.2 -4.5-0.2 -4.6-0.2 -4.6-0.1 -4.7-0.1 -4.7 0 -4.8 0 -4.9 0.1 -2.5 0 -4.9-0.1 -4.9 0 -5 0.1 -5 0.4 -5.1 0.6 -5.1 0.7 -5.2 1 -5.2 1.1 -5.3 1.3 -5.2 1.6 -5.4 1.7 -5.3 2 -5.4 2.1 -5.5 2.4 0 1.3 0.5 1.4 1.1 1.3 1.6 1.3 2.1 1.3 2.5 1.2 2.8 1.2 3.2 1.1 3.5 1.1 3.7 0.9 3.9 0.9 4.1 0.9 4.2 0.8 4.4 0.7 4.5 0.7 4.6 0.6 4.7 0.6 4.8 0.5 4.8 0.5 5 0.4 5 0.4 5.1 0.3 5.2 0.2 5.3 0.2 5.3 0.2 5.4 0.1 5.5 0 5.6 0 5.6-0.1 5.7-0.1 5.7-0.3 5.7-0.3 5.7-0.4 5.7-0.4 5.6-0.6 5.5-0.7 5.3-0.7 5-0.9 4.7-1 4.4-1.1 3.8-1.1 3.4-1.3 2.8-1.3 2.1-1.4 1.5-1.4 0.9-1.4 0.2-1.5 -0.5-1.4 -1-1.4 -1.6-1.4 -2.1-1.3 -2.5-1.2 -2.9-1.2 -3.2-1.1 -3.4-1.1 -3.6-0.9 -3.8-0.9 -3.9-0.9 -4.1-0.7 -4.1-0.7z" fill="#9a7a10"/>
<path d="M214 295.9l-3.8-0.5 -3.8-0.5 -3.9-0.4 -3.9-0.4 -3.9-0.4 -4-0.3 -4-0.3 -4-0.2 -4.1-0.3 -4.1-0.1 -4.1-0.2 -4.2-0.1 -4.3-0.1 -4.3 0 -4.3 0 -4.5 0.1 -4.4 0.1 -4.6 0.1 -4.5 0.3 -5 0.1 -5.2 0.4 -5.1 0.5 -5.2 0.8 -5.3 1 -5.3 1.1 -5.3 1.4 -5.4 1.6 -5.4 1.7 -5.4 2 -0.9 1 -0.5 1.2 0 1.3 0.5 1.2 1.1 1.2 1.4 1.2 1.9 1.1 2.3 1.1 2.6 1 2.9 1 3.2 0.9 3.3 0.9 3.5 0.8 3.7 0.8 3.9 0.7 3.9 0.6 4 0.6 4.2 0.6 4.2 0.5 4.3 0.4 4.4 0.4 4.4 0.4 4.5 0.3 4.6 0.3 4.6 0.2 4.7 0.2 4.8 0.1 4.9 0.1 4.9 0.1 4.9-0.1 5.1 0 5.1-0.2 5.1-0.2 5.1-0.2 5.1-0.4 5.1-0.4 5.1-0.5 4.9-0.6 4.7-0.7 4.6-0.7 4.2-0.9 3.9-1 3.6-1 3-1.1 2.6-1.2 1.9-1.2 1.4-1.2 0.8-1.3 0.3-1.3 -0.4-1.3 -0.9-1.2 -1.4-1.3 -1.8-1.1 -2.2-1.2 -2.6-1 -2.8-1 -3.1-0.9 -3.2-0.9 -3.5-0.8 -3.5-0.8 -3.6-0.7 -3.7-0.6z" fill="#9a6d17"/>
<path d="M208.3 295.1l-3.4-0.5 -3.4-0.4 -3.4-0.4 -3.4-0.4 -3.5-0.3 -3.5-0.3 -3.5-0.2 -3.6-0.3 -3.5-0.1 -3.7-0.2 -3.6-0.1 -3.7-0.1 -3.8-0.1 -3.8 0 -3.9 0 -3.9 0.1 -3.9 0.1 -4 0.1 -4.1 0.2 -4 0.2 -4.1 0.3 -4.1 0.4 -4 0.4 -4 0.4 -0.6 0.1 -4.2 0.7 -4.2 0.8 -4.3 0.9 -4.3 1 -2.5 0.9 -2.3 1 -1.8 1 -1.4 1 -0.9 1.1 -0.5 1 0.1 1.1 0.5 1.1 0.9 1 1.4 1.1 1.7 0.9 2 1 2.3 0.9 2.6 0.8 2.8 0.8 2.9 0.8 3.1 0.7 3.3 0.6 3.3 0.6 3.5 0.6 3.5 0.5 3.6 0.5 3.7 0.4 3.8 0.4 3.8 0.3 3.8 0.3 3.9 0.3 4 0.2 4.1 0.2 4.1 0.2 4.1 0.1 4.2 0.1 4.3 0 4.3 0 4.4-0.1 4.4-0.1 4.5-0.2 4.5-0.2 4.4-0.3 4.5-0.3 4.4-0.5 4.3-0.5 4.1-0.6 4-0.6 3.7-0.8 3.5-0.8 3.1-0.9 2.7-0.9 2.3-1 1.7-1.1 1.3-1.1 0.8-1.1 0.2-1.1 -0.3-1.1 -0.7-1.1 -1.2-1 -1.5-1.1 -2-0.9 -2.2-1 -2.4-0.8 -2.7-0.8 -2.8-0.8 -3-0.7 -3.1-0.7 -3.2-0.6 -3.2-0.5z" fill="#a2641d"/>
<path d="M201.5 294.4l-2.8-0.4 -2.9-0.4 -2.9-0.3 -2.8-0.3 -3-0.3 -2.9-0.2 -3-0.2 -3-0.2 -3-0.1 -3.1-0.2 -3.1-0.1 -3.1-0.1 -3.2 0 -3.2 0 -3.2 0 -3.3 0 -3.4 0.1 -3.3 0.1 -3.4 0.2 -3.5 0.2 -3.4 0.2 -3.4 0.3 -3.4 0.4 -3.4 0.4 -3.2 0.4 -3.1 0.5 -3 0.6 -2.7 0.7 -2.5 0.7 -2.2 0.7 -1.9 0.8 -1.5 0.8 -1.1 0.9 -0.8 0.9 -0.3 0.9 0.1 0.9 0.5 0.9 0.8 0.8 1.2 0.9 1.5 0.8 1.7 0.8 1.9 0.7 2.2 0.7 2.3 0.6 2.5 0.6 2.6 0.6 2.7 0.5 2.8 0.5 2.9 0.5 3 0.4 3 0.4 3 0.3 3.2 0.4 3.1 0.2 3.2 0.3 3.3 0.2 3.3 0.2 3.3 0.2 3.4 0.1 3.5 0.1 3.5 0.1 3.5 0 3.6 0 3.6-0.1 3.7-0.1 3.7-0.1 3.7-0.2 3.7-0.2 3.7-0.3 3.6-0.4 3.6-0.4 3.4-0.5 3.4-0.5 3.1-0.6 2.9-0.7 2.6-0.7 2.3-0.8 1.9-0.8 1.5-0.9 1.1-0.9 0.7-0.9 0.3-0.9 -0.2-0.9 -0.6-0.9 -0.9-0.9 -1.3-0.8 -1.5-0.9 -1.8-0.7 -2.1-0.8 -2.2-0.6 -2.3-0.7 -2.5-0.6 -2.6-0.5 -2.7-0.5 -2.7-0.5z" fill="#a85c20"/>
<path d="M192.8 294.1l-2.2-0.3 -2.1-0.3 -2.2-0.2 -2.2-0.3 -2.2-0.2 -2.2-0.1 -2.3-0.2 -2.3-0.1 -2.3-0.2 -2.3-0.1 -2.4 0 -2.4-0.1 -2.4 0 -2.4-0.1 -2.5 0 -2.5 0.1 -2.6 0 -2.5 0.1 -2.6 0.1 -2.6 0.2 -2.7 0.2 -2.6 0.2 -2.5 0.3 -2.6 0.3 -2.4 0.3 -2.4 0.4 -2.2 0.5 -2.1 0.5 -1.8 0.5 -1.7 0.6 -1.4 0.6 -1.1 0.6 -0.8 0.6 -0.5 0.7 -0.2 0.7 0.2 0.6 0.4 0.7 0.6 0.6 0.9 0.7 1.2 0.6 1.3 0.5 1.5 0.6 1.7 0.5 1.7 0.5 1.9 0.4 2 0.4 2 0.4 2.1 0.4 2.2 0.3 2.2 0.3 2.3 0.3 2.3 0.3 2.3 0.2 2.4 0.2 2.4 0.2 2.4 0.2 2.5 0.1 2.4 0.1 2.6 0.1 2.5 0.1 2.6 0 2.7 0 2.6 0 2.8 0 2.7-0.1 2.7-0.1 2.8-0.1 2.8-0.2 2.7-0.2 2.8-0.3 2.6-0.3 2.6-0.3 2.5-0.4 2.4-0.4 2.2-0.5 2-0.6 1.7-0.5 1.5-0.7 1.2-0.6 0.9-0.7 0.5-0.6 0.2-0.7 -0.1-0.7 -0.3-0.7 -0.7-0.6 -0.9-0.7 -1.2-0.6 -1.3-0.5 -1.5-0.6 -1.6-0.5 -1.8-0.5 -1.9-0.4 -1.9-0.4 -2-0.4 -2-0.4z" fill="#ac5620"/>
<path d="M178.8 294.9l-1-0.2 -1.1-0.1 -1-0.1 -1.1-0.2 -1.1-0.1 -1.1 0 -1.2-0.1 -1.1-0.1 -1.1-0.1 -1.2 0 -1.2 0 -1.1-0.1 -1.2 0 -1.3 0 -1.2 0 -1.2 0 -1.3 0 -1.3 0.1 -1.3 0 -1.3 0.1 -1.3 0.1 -1.2 0.1 -1.3 0.2 -1.3 0.1 -1.2 0.2 -1.1 0.2 -1.1 0.2 -1 0.2 -0.9 0.3 -0.8 0.3 -0.6 0.3 -0.5 0.3 -0.4 0.3 -0.2 0.3 -0.1 0.4 0.1 0.3 0.2 0.3 0.4 0.3 0.5 0.3 0.6 0.3 0.6 0.3 0.8 0.2 0.8 0.3 0.9 0.2 0.9 0.2 1 0.2 1 0.2 1 0.2 1.1 0.1 1 0.2 1.1 0.1 1.1 0.1 1.1 0.1 1.2 0.1 1.1 0.1 1.2 0.1 1.2 0.1 1.2 0 1.2 0 1.2 0.1 1.3 0 1.2 0 1.3 0 1.3 0 1.3 0 1.3-0.1 1.4-0.1 1.3 0 1.3-0.1 1.3-0.2 1.3-0.1 1.3-0.2 1.2-0.1 1.2-0.3 1-0.2 1-0.2 0.9-0.3 0.7-0.3 0.6-0.3 0.5-0.3 0.3-0.3 0.1-0.4 0-0.3 -0.1-0.3 -0.3-0.3 -0.4-0.3 -0.6-0.3 -0.6-0.3 -0.7-0.3 -0.8-0.2 -0.8-0.3 -0.9-0.2 -1-0.2 -0.9-0.2 -1-0.2z" fill="#af501d"/>
<path d="M180.3 388.9l-16.6-13.8 -16.1-12.1 -15.8-10.4 -15.3-8.8M182.5 386.9l-16-13.3 -15.6-11.7 -15.3-10.2 -14.8-8.6M184.8 384.9l-15.5-12.8 -15.1-11.3 -14.8-9.9 -14.4-8.4M187 382.9l-14.9-12.3 -14.6-10.9 -14.3-9.5 -13.9-8.2M189.2 381l-14.3-11.8 -14.1-10.5 -13.8-9.2 -13.4-8M191.5 379.1l-13.8-11.2 -13.6-10.1 -13.2-8.9 -13-7.8M193.7 377.3l-17.6-14.1 -17.1-12.2 -16.7-10.3M195.9 375.5l-16.8-13.5 -16.4-11.6 -16-10M198.1 373.7l-16-12.8 -15.7-11.1 -15.3-9.6M200.3 371.9l-15.3-12 -14.9-10.7 -14.5-9.2M202.5 370.2l-14.5-11.3 -14.1-10.2 -13.9-8.8M204.6 368.6l-13.6-10.7 -13.3-9.6 -13.1-8.5M206.8 367l-12.8-10.1 -12.5-9 -12.4-8M209 365.4l-17.9-13.7 -17.4-11.7M211.1 363.8l-16.6-12.7 -16.2-11M213.3 362.3l-15.3-11.7 -15-10.2M215.4 360.8l-14-10.6 -13.7-9.5M217.6 359.4l-12.7-9.6 -12.5-8.7M219.7 358l-22.5-16.5M221.8 356.6l-19.8-14.5M223.9 355.3l-17.1-12.6M226 354l-14.3-10.6M228.1 352.8l-11.5-8.6M230.2 351.5l-8.7-6.4M232.3 350.4l-5.8-4.3M234.3 349.2l-2.7-2.1" fill="none" stroke="#000" stroke-opacity="0.6" stroke-width="1.0" shape-rendering="crispEdges"/>
<path d="M116.5 343.8l-12.7-6.3 -12.5-5.1 -12.1-4.1 -11.8-2.9 -11.4-2 -11.1-0.9M120.8 343.1l-13.2-6.5 -12.8-5.4 -12.5-4.1 -12.1-3.1 -11.7-1.9 -11.4-0.9M125 342.5l-13.5-6.8 -13.2-5.5 -12.9-4.4 -12.4-3.1 -12.1-2 -11.6-0.9M129.3 342l-14-7.1 -13.5-5.8 -13.2-4.4 -12.8-3.3 -12.4-2 -12-0.9M133.6 341.5l-14.4-7.4 -13.9-6 -13.5-4.6 -13.2-3.3 -12.7-2.1 -12.3-0.8M137.9 341.1l-14.7-7.7 -14.4-6.2 -13.9-4.8 -13.5-3.4 -13-2.1 -12.6-0.9M142.3 340.7l-13-6.9 -12.7-5.9 -12.4-4.7 -12.1-3.6 -11.7-2.6 -11.4-1.6 -11-0.6M146.7 340.4l-13.4-7.2 -13.1-6.1 -12.7-4.8 -12.4-3.8 -12-2.6 -11.7-1.6 -11.3-0.6M151.1 340.2l-13.7-7.6 -13.5-6.2 -13-5.1 -12.7-3.9 -12.4-2.7 -11.9-1.6 -11.6-0.6M155.6 340l-14.2-7.8 -13.7-6.6 -13.4-5.2 -13.1-4 -12.6-2.8 -12.3-1.6 -11.9-0.6M160 339.9l-14.5-8.2 -14.1-6.7 -13.8-5.4 -13.3-4.2 -13-2.9 -12.6-1.6 -12.1-0.5M164.6 339.8l-14.9-8.4 -14.5-7.1 -14.2-5.6 -13.7-4.2 -13.3-3 -12.8-1.7 -12.5-0.5M169.1 339.9l-15.3-8.8 -14.9-7.3 -14.4-5.9 -14.1-4.4 -13.6-3 -13.2-1.7 -12.8-0.5M173.7 340l-13.7-8.1 -13.5-6.9 -13.1-5.7 -12.8-4.6 -12.4-3.4 -12.1-2.3 -11.7-1.3 -11.4-0.3M178.3 340.1l-14.1-8.4 -13.8-7.1 -13.4-5.9 -13.1-4.7 -12.7-3.6 -12.4-2.4 -12.1-1.3 -11.6-0.3M183 340.4l-14.5-8.8 -14.1-7.4 -13.8-6.1 -13.4-4.9 -13.1-3.6 -12.7-2.5 -12.3-1.3 -11.9-0.3M187.7 340.7l-14.9-9.1 -14.5-7.7 -14.1-6.4 -13.7-5 -13.4-3.8 -13-2.5 -12.6-1.3 -12.2-0.2M192.4 341.1l-15.2-9.5 -14.9-8 -14.4-6.6 -14.1-5.2 -13.7-3.9 -13.3-2.6 -12.9-1.3 -12.5-0.2M197.2 341.5l-13.9-8.8 -13.6-7.6 -13.3-6.4 -13-5.3 -12.6-4.2 -12.3-3.1 -12-2 -11.7-1 -11.3-0.1M202 342.1l-14.3-9.2 -13.9-7.9 -13.6-6.6 -13.3-5.5 -12.9-4.3 -12.6-3.2 -12.3-2.1 -11.9-1 -11.6-0.1M206.8 342.7l-14.6-9.5 -14.3-8.2 -13.9-6.9 -13.6-5.7 -13.2-4.4 -13-3.3 -12.5-2.2 -12.2-1 -11.8 0M211.7 343.4l-15-9.9 -14.6-8.5 -14.3-7.1 -13.9-5.9 -13.5-4.6 -13.3-3.4 -12.8-2.2 -12.4-1.1 -12.1 0.1M216.6 344.2l-15.3-10.2 -15-8.9 -14.6-7.4 -14.3-6.1 -13.8-4.8 -13.5-3.5 -13.2-2.2 -12.7-1.1 -12.3 0.1M221.5 345.1l-15.6-10.7 -15.4-9.1 -14.9-7.8 -14.6-6.3 -14.2-4.9 -13.8-3.6 -13.5-2.3 -13-1.1 -12.6 0.1M226.5 346.1l-14.4-10.1 -14.2-8.8 -13.9-7.5 -13.5-6.3 -13.3-5.2 -12.9-4 -12.6-2.9 -12.2-1.9 -11.9-0.8 -11.6 0.2M231.6 347.1l-14.8-10.4 -14.5-9.1 -14.2-7.8 -13.9-6.6 -13.6-5.3 -13.2-4.2 -12.8-3 -12.6-1.9 -12.1-0.8 -11.9 0.2M236.4 348.1l-15.1-10.8 -14.8-9.4 -14.5-8.1 -14.2-6.8 -13.8-5.5 -13.5-4.3 -13.2-3.1 -12.7-1.9 -12.5-0.8 -12 0.3M238.5 347l-15.2-10.7 -14.8-9.4 -14.5-8 -14.1-6.7 -13.9-5.5 -13.5-4.2 -13.1-3 -12.8-1.9 -12.4-0.8 -12.1 0.3M240.5 346l-15.1-10.7 -14.8-9.3 -14.5-7.9 -14.2-6.7 -13.8-5.4 -13.5-4.2 -13.2-3 -12.7-1.8 -12.5-0.7 -12 0.3M242.5 345l-15.1-10.6 -14.8-9.2 -14.5-8 -14.1-6.6 -13.9-5.3 -13.5-4.1 -13.1-3 -12.8-1.7 -12.4-0.7 -12.1 0.4M244.6 344l-15.1-10.5 -14.8-9.2 -14.5-7.8 -14.2-6.6 -13.8-5.3 -13.5-4 -13.2-2.9 -12.8-1.8 -12.4-0.6 -12 0.4M246.6 343.1l-15.1-10.5 -14.8-9.1 -14.5-7.8 -14.2-6.5 -13.8-5.2 -13.5-4 -13.1-2.9 -12.8-1.6 -12.5-0.6 -12 0.4M248.6 342.2l-15.1-10.4 -14.8-9.1 -14.5-7.7 -14.1-6.4 -13.9-5.2 -13.5-4 -13.1-2.8 -12.8-1.6 -12.4-0.6 -12.1 0.5M250.6 341.3l-15.1-10.3 -14.8-9 -14.4-7.7 -14.2-6.3 -13.8-5.2 -13.5-3.9 -13.2-2.7 -12.8-1.6 -12.4-0.6 -12.1 0.6M252.6 340.5l-15.1-10.3 -14.8-8.9 -14.4-7.6 -14.2-6.3 -13.8-5.1 -13.5-3.9 -13.2-2.7 -12.8-1.5 -12.4-0.5 -12.1 0.6M254.6 339.7l-15.1-10.2 -14.8-8.9 -14.4-7.5 -14.2-6.3 -13.8-5 -13.5-3.8 -13.2-2.7 -12.8-1.5 -12.4-0.4 -12.1 0.6M256.6 338.9l-15.1-10.1 -14.8-8.8 -14.4-7.5 -14.2-6.2 -13.8-5 -13.5-3.8 -13.2-2.6 -12.8-1.4 -12.4-0.4 -12.1 0.6M258.5 338.2l-15-10.1 -14.8-8.7 -14.5-7.5 -14.1-6.1 -13.8-4.9 -13.5-3.8 -13.2-2.5 -12.8-1.5 -12.4-0.3 -12.1 0.7M260.5 337.5l-15-10 -14.6-8.6 -14.4-7.3 -14.1-6.1 -13.7-4.9 -13.5-3.7 -13-2.5 -12.8-1.5 -12.4-0.4 -12 0.7M262.4 336.8l-14.7-9.7 -14.4-8.5 -14.1-7.2 -13.9-6 -13.5-4.8 -13.2-3.7 -13-2.6 -12.5-1.5 -12.3-0.5 -11.9 0.5M264.4 336.2l-14.5-9.5 -14.1-8.3 -14-7.1 -13.6-5.9 -13.3-4.8 -13-3.7 -12.8-2.6 -12.4-1.6 -12-0.6 -11.8 0.4M266.3 335.6l-15.7-10.3 -15.5-8.8 -15.1-7.4 -14.7-6 -14.5-4.7 -14-3.3 -13.7-2.2 -13.3-0.9 -12.9 0.2M268.2 335l-15.4-10 -15.2-8.6 -14.8-7.3 -14.6-5.9 -14.1-4.7 -13.9-3.4 -13.5-2.2 -13.1-1 -12.7 0.1M270.2 334.5l-15.2-9.8 -14.9-8.4 -14.6-7.2 -14.3-5.8 -13.9-4.7 -13.6-3.4 -13.3-2.2 -12.9-1.1 -12.6-0.1M272.1 334l-14.9-9.5 -14.6-8.3 -14.4-7 -14-5.8 -13.7-4.6 -13.4-3.4 -13-2.3 -12.8-1.2 -12.4-0.2M274 333.6l-14.6-9.4 -14.4-8.1 -14-6.9 -13.8-5.7 -13.5-4.5 -13.1-3.4 -12.9-2.4 -12.5-1.3 -12.2-0.3M275.9 333.1l-14.4-9.1 -14-7.9 -13.8-6.8 -13.5-5.6 -13.2-4.5 -13-3.4 -12.6-2.4 -12.3-1.4 -12.1-0.4M277.7 332.7l-15.7-9.9 -15.4-8.5 -15.2-7 -14.7-5.7 -14.5-4.4 -14-3.1 -13.8-1.9 -13.3-0.6M279.6 332.4l-15.4-9.7 -15.1-8.3 -14.8-6.9 -14.5-5.7 -14.2-4.3 -13.8-3.1 -13.5-2 -13.1-0.8M281.5 332l-15.1-9.4 -14.8-8.1 -14.5-6.8 -14.2-5.5 -13.9-4.4 -13.6-3.1 -13.2-2.1 -12.9-0.9M283.3 331.7l-14.7-9.1 -14.5-7.9 -14.2-6.7 -13.9-5.5 -13.6-4.3 -13.3-3.2 -13-2.1 -12.7-1M285.2 331.5l-14.4-9 -14.2-7.7 -13.9-6.5 -13.6-5.4 -13.3-4.3 -13.1-3.2 -12.7-2.2 -12.4-1.1M287 331.2l-14.1-8.7 -13.8-7.5 -13.6-6.4 -13.3-5.3 -13-4.3 -12.8-3.2 -12.5-2.2 -12.2-1.3M288.8 331l-15.6-9.5 -15.4-8.2 -15.1-6.7 -14.7-5.4 -14.4-4.1 -14-2.9 -13.7-1.6M290.6 330.8l-15.2-9.2 -15-8 -14.7-6.6 -14.4-5.3 -14.1-4.1 -13.7-2.9 -13.4-1.7M292.4 330.7l-14.8-9 -14.6-7.7 -14.4-6.5 -14-5.3 -13.8-4 -13.4-3 -13.1-1.8M294.2 330.6l-14.4-8.7 -14.3-7.6 -13.9-6.3 -13.7-5.2 -13.4-4.1 -13.2-3 -12.8-1.9M296 330.5l-14.1-8.5 -13.8-7.3 -13.6-6.2 -13.3-5.1 -13.1-4 -12.8-3.1 -12.5-2M297.8 330.4l-15.9-9.4 -15.7-8 -15.3-6.5 -15-5.2 -14.6-3.9 -14.3-2.5M299.6 330.4l-15.5-9.1 -15.2-7.8 -14.9-6.4 -14.5-5.1 -14.3-3.9 -13.9-2.6M301.3 330.4l-15-8.8 -14.7-7.5 -14.5-6.3 -14.1-5.1 -13.9-3.8 -13.5-2.8M303.1 330.4l-14.5-8.5 -14.3-7.3 -14-6.1 -13.8-5 -13.5-3.9 -13.1-2.7M304.8 330.5l-14-8.2 -13.8-7.1 -13.6-6 -13.4-4.9 -13-3.8 -12.8-2.9M306.6 330.6l-16.3-9.4 -16-7.8 -15.6-6.4 -15.3-4.9 -14.9-3.6M308.3 330.7l-15.7-9 -15.4-7.6 -15.1-6.2 -14.8-4.9 -14.4-3.6M310 330.9l-15.1-8.7 -14.9-7.3 -14.5-6.1 -14.3-4.8 -14-3.7M311.7 331l-14.5-8.2 -14.3-7.1 -14-5.9 -13.8-4.8 -13.5-3.7M313.4 331.2l-14-7.9 -13.7-6.8 -13.5-5.8 -13.2-4.7 -13-3.6M315.1 331.5l-13.4-7.6 -13.1-6.6 -13-5.5 -12.7-4.7 -12.5-3.6" fill="none" stroke="#000" stroke-opacity="0.75" stroke-width="1.0" shape-rendering="crispEdges"/>
<path d="M180.3 388.9l14.4-12.5 14.2-11 13.8-9.3 13.5-7.9M178 387l14.1-12.2 13.7-10.6 13.5-9.2 13.2-7.7M175.8 385l13.6-11.7 13.4-10.3 13.1-8.9 12.8-7.6M173.5 383.1l17.6-14.7 17.1-12.5 16.7-10.2M171.3 381.3l17-14.3 16.6-12.1 16.2-9.9M169.1 379.4l16.4-13.7 16.1-11.7 15.6-9.7M166.9 377.6l15.8-13.2 15.5-11.3 15.2-9.4M164.7 375.9l15.2-12.7 15-10.9 14.6-9.2M162.5 374.1l14.7-12.1 14.4-10.5 14-8.9M160.3 372.4l14.1-11.6 13.8-10.1 13.5-8.6M158.1 370.7l13.5-11 13.2-9.7 13-8.4M155.9 369.1l12.9-10.5 12.6-9.3 12.5-8.1M153.7 367.5l18.4-14.6 17.8-12M151.6 365.9l17.4-13.8 16.9-11.5M149.4 364.3l16.5-13 16.1-11M147.3 362.8l15.5-12.2 15.1-10.5M145.1 361.3l14.6-11.5 14.2-9.8M143 359.8l13.5-10.6 13.4-9.3M140.9 358.4l12.5-9.9 12.4-8.7M138.7 357l11.6-9.1 11.4-8M136.6 355.6l21-15.7M134.5 354.3l19-14.2M132.4 353l16.9-12.7M130.3 351.7l14.8-11.2M128.3 350.4l12.6-9.6M126.2 349.2l10.5-8M124.1 348l8.4-6.4M122.1 346.8l6.1-4.7M120 345.7l3.9-3M118 344.6l1.6-1.3" fill="none" stroke="#000" stroke-opacity="0.6" stroke-width="1.0" shape-rendering="crispEdges"/>
<path d="M236.2 348.2l14.3-6.8 13.8-5.2 13.4-3.5 12.9-1.9 12.5-0.4 12 1.1M232.5 347.3l14.5-7 14.1-5.3 13.6-3.6 13.2-1.9 12.7-0.4 12.3 1.1M228.7 346.5l14.8-7.3 14.4-5.4 13.9-3.7 13.5-2 12.9-0.4 12.5 1.2M224.9 345.7l13-6.5 12.7-5.2 12.3-3.8 11.9-2.5 11.6-1.2 11.3 0 10.8 1.2M221.1 345l13.2-6.7 13-5.4 12.5-3.9 12.2-2.5 11.9-1.3 11.4 0 11.1 1.2M217.2 344.3l13.6-6.9 13.2-5.5 12.8-4.1 12.4-2.6 12.1-1.3 11.6 0.1 11.3 1.3M213.4 343.7l13.8-7.2 13.4-5.7 13.1-4.1 12.7-2.7 12.3-1.3 11.9 0.1 11.5 1.3M209.5 343.1l14.1-7.4 13.7-5.9 13.3-4.2 13-2.8 12.5-1.3 12.1 0.1 11.7 1.4M205.6 342.6l14.4-7.7 14-6 13.6-4.4 13.2-2.9 12.7-1.3 12.4 0.1 11.9 1.4M201.7 342.1l14.7-7.9 14.2-6.2 13.9-4.6 13.4-2.9 13-1.4 12.6 0.1 12.1 1.6M197.8 341.6l14.9-8.2 14.6-6.3 14.1-4.7 13.7-3 13.3-1.4 12.8 0.1 12.3 1.6M193.9 341.2l15.2-8.4 14.8-6.6 14.4-4.8 14-3.1 13.5-1.4 13 0.1 12.6 1.7M189.9 340.9l13.6-7.8 13.3-6.2 13-4.8 12.6-3.5 12.3-2.1 11.9-0.8 11.5 0.4 11.1 1.6M185.9 340.6l13.9-8 13.6-6.4 13.2-5 12.8-3.6 12.5-2.2 12.1-0.8 11.8 0.4 11.3 1.7M182 340.3l14.1-8.2 13.8-6.7 13.5-5.1 13.1-3.6 12.7-2.3 12.3-0.8 12 0.4 11.5 1.7M177.9 340.1l14.5-8.5 14-6.8 13.7-5.3 13.4-3.8 12.9-2.3 12.6-0.9 12.1 0.5 11.8 1.8M173.9 340l14.7-8.8 14.3-7.1 14-5.4 13.6-3.9 13.2-2.4 12.8-0.9 12.3 0.5 12 1.9M169.9 339.9l14.9-9 14.6-7.3 14.3-5.7 13.8-4 13.4-2.4 13.1-0.9 12.5 0.5 12.2 1.9M165.8 339.8l15.2-9.3 14.9-7.5 14.5-5.8 14.1-4.1 13.7-2.5 13.2-1 12.8 0.6 12.4 2M161.7 339.9l15.5-9.6 15.2-7.8 14.8-6 14.3-4.2 13.9-2.6 13.5-1 13.1 0.6 12.5 2M157.6 339.9l14.1-8.9 13.8-7.4 13.4-5.9 13.2-4.5 12.8-3.1 12.4-1.8 12.1-0.5 11.7 0.8 11.4 1.9M153.5 340.1l14.3-9.2 14-7.7 13.8-6.1 13.3-4.6 13.1-3.2 12.6-1.8 12.3-0.5 11.9 0.7 11.6 2.1M149.3 340.3l14.6-9.5 14.3-7.9 14-6.3 13.6-4.8 13.3-3.3 12.8-1.9 12.6-0.5 12.1 0.8 11.7 2.1M145.1 340.5l14.9-9.8 14.6-8.1 14.2-6.5 13.8-4.9 13.5-3.4 13.2-2 12.7-0.5 12.3 0.8 12 2.2M140.9 340.8l15.2-10.1 14.8-8.3 14.5-6.8 14.1-5 13.7-3.6 13.4-2 12.9-0.5 12.6 0.9 12.1 2.2M136.7 341.2l15.4-10.4 15.1-8.7 14.8-6.9 14.3-5.2 14-3.6 13.6-2.1 13.2-0.6 12.7 0.9 12.4 2.3M132.5 341.6l15.7-10.7 15.3-8.9 15-7.2 14.7-5.4 14.2-3.7 13.8-2.1 13.4-0.6 13 0.9 12.5 2.4M128.2 342.1l14.4-10 14.1-8.6 13.9-7 13.5-5.6 13.2-4.1 12.8-2.8 12.6-1.5 12.1-0.2 11.8 1.1 11.5 2.2M123.9 342.7l14.7-10.4 14.3-8.8 14.1-7.2 13.8-5.8 13.4-4.3 13.1-2.9 12.7-1.5 12.4-0.1 12 1 11.7 2.3M119.6 343.3l14.9-10.7 14.6-9.1 14.4-7.4 14-6 13.6-4.4 13.4-3 12.9-1.5 12.6-0.2 12.2 1.1 11.8 2.3M116 343.5l15-10.9 14.9-9.3 14.5-7.6 14.1-6.1 13.9-4.5 13.5-3 13.1-1.6 12.7-0.2 12.4 1.2 11.9 2.4M113.9 342.4l15.1-10.8 14.8-9.2 14.4-7.5 14.2-6 13.8-4.5 13.4-3 13.1-1.5 12.8-0.2 12.3 1.2 11.9 2.4M111.9 341.4l14.9-10.6 14.6-9.1 14.3-7.4 14-6 13.7-4.4 13.3-3 13-1.6 12.6-0.2 12.3 1.1 11.8 2.3M109.9 340.4l14.7-10.5 14.5-8.9 14.1-7.3 13.9-5.9 13.5-4.4 13.2-3 12.9-1.6 12.5-0.3 12.1 1 11.8 2.2M107.9 339.4l14.5-10.3 14.3-8.7 14-7.3 13.7-5.8 13.4-4.4 13.1-3 12.8-1.6 12.4-0.4 12 0.9 11.7 2.1M105.9 338.5l14.4-10.1 14.1-8.7 13.8-7.1 13.6-5.8 13.3-4.3 12.9-3 12.6-1.7 12.3-0.4 12 0.8 11.6 1.9M103.9 337.6l15.8-11 15.4-9.1 15.2-7.5 14.7-5.7 14.5-4 14-2.5 13.6-0.9 13.2 0.5 12.9 2M102 336.7l15.5-10.8 15.3-9 14.9-7.3 14.7-5.7 14.2-4 13.9-2.5 13.5-1 13.1 0.5 12.7 1.8M100 335.9l15.4-10.6 15-8.9 14.8-7.3 14.5-5.6 14.1-4 13.7-2.5 13.4-1 13 0.3 12.6 1.8M98 335l15.2-10.4 14.9-8.7 14.6-7.2 14.3-5.5 13.9-4 13.6-2.5 13.3-1.1 12.8 0.2 12.5 1.6M96.1 334.2l15-10.2 14.7-8.6 14.4-7 14.1-5.5 13.8-4 13.5-2.6 13.1-1.1 12.7 0.2 12.4 1.4M94.1 333.5l14.8-10.1 14.5-8.5 14.3-6.9 13.9-5.4 13.7-4 13.3-2.6 12.9-1.2 12.7 0.1 12.2 1.4M92.2 332.7l14.6-9.8 14.3-8.4 14.1-6.8 13.8-5.4 13.4-4 13.2-2.6 12.8-1.2 12.5 0 12.2 1.2M90.3 332l14.4-9.7 14.1-8.2 13.9-6.7 13.6-5.3 13.3-4 13-2.6 12.7-1.3 12.4-0.1 12 1.1M88.4 331.3l14.1-9.5 14-8 13.7-6.7 13.4-5.3 13.2-3.9 12.8-2.6 12.6-1.4 12.2-0.1 11.9 1M86.5 330.6l15.7-10.3 15.4-8.7 15.1-6.9 14.8-5.2 14.4-3.6 14.1-2 13.6-0.5 13.3 0.9M84.6 330l15.4-10.2 15.3-8.5 14.9-6.8 14.5-5.1 14.3-3.6 13.9-2.1 13.5-0.6 13.1 0.8M82.7 329.4l15.2-10 15-8.3 14.7-6.7 14.4-5.2 14.1-3.6 13.7-2.1 13.3-0.6 13 0.6M80.8 328.8l15-9.8 14.8-8.2 14.5-6.6 14.2-5.1 13.8-3.6 13.6-2.1 13.2-0.8 12.8 0.6M78.9 328.3l14.8-9.6 14.6-8.1 14.2-6.5 14-5 13.7-3.6 13.4-2.2 13-0.9 12.7 0.5M77 327.7l14.6-9.4 14.3-7.9 14.1-6.4 13.8-5 13.5-3.6 13.2-2.2 12.9-0.9 12.5 0.3M75.2 327.2l14.3-9.2 14.1-7.8 13.9-6.3 13.6-4.9 13.3-3.6 13-2.3 12.7-1 12.4 0.3M73.3 326.7l14.1-9 13.9-7.6 13.7-6.2 13.4-4.9 13.1-3.6 12.8-2.3 12.5-1.1 12.3 0.1M71.5 326.3l15.8-10 15.6-8.2 15.2-6.5 15-4.8 14.5-3.2 14.2-1.6 13.8 0M69.7 325.9l15.5-9.8 15.3-8.1 15-6.4 14.7-4.7 14.4-3.2 14-1.7 13.6-0.2M67.8 325.5l15.3-9.6 15.1-7.9 14.7-6.3 14.5-4.7 14.1-3.3 13.8-1.7 13.5-0.3M66 325.1l15.1-9.4 14.7-7.7 14.5-6.2 14.3-4.7 13.9-3.3 13.6-1.8 13.2-0.4M64.2 324.7l14.8-9.1 14.5-7.6 14.3-6.1 13.9-4.7 13.7-3.2 13.4-1.9 13.1-0.5M62.4 324.4l14.5-8.9 14.3-7.5 14-6 13.7-4.6 13.5-3.3 13.1-1.9 12.9-0.6M60.6 324.1l14.2-8.7 14-7.3 13.8-6 13.5-4.5 13.2-3.3 13-2 12.6-0.7M58.8 323.8l14-8.5 13.7-7.2 13.5-5.8 13.3-4.5 13-3.3 12.7-2 12.5-0.9M57.1 323.6l15.9-9.6 15.6-7.8 15.4-6.1 15-4.4 14.7-2.8 14.3-1.2M55.3 323.4l15.6-9.4 15.3-7.7 15.1-6 14.7-4.3 14.4-2.8 14.1-1.3M53.5 323.2l15.3-9.2 15.1-7.5 14.7-5.9 14.5-4.3 14.1-2.9 13.8-1.4M51.8 323l15-8.9 14.7-7.4 14.4-5.8 14.2-4.3 13.9-2.9 13.5-1.5M50.1 322.8l14.6-8.6 14.4-7.2 14.1-5.7 13.9-4.4 13.6-2.9 13.3-1.6M48.3 322.7l14.3-8.4 14.1-7.1 13.9-5.6 13.6-4.3 13.3-2.9 13-1.7M46.6 322.6l14-8.2 13.7-6.9 13.6-5.5 13.3-4.3 13-2.9 12.8-1.8M44.9 322.5l13.6-8 13.5-6.7 13.2-5.4 13-4.2 12.8-3 12.5-1.9" fill="none" stroke="#000" stroke-opacity="0.75" stroke-width="1.0" shape-rendering="crispEdges"/>
<path d="M180.8 389.6l6.9-6.2 6.9-5.8 6.8-5.5 6.7-5.1 6.7-4.7 6.6-4.4 6.5-4 6.4-3.7 6.3-3.4 6.3-3 6.2-2.7" fill="none" stroke="#dcdc00" stroke-width="0.8"/>
<path d="M44.9 322.5l3.7-2.3 3.7-2.2 3.7-2.1 3.7-2 3.6-1.9 3.7-1.8 3.6-1.8 3.6-1.6 3.6-1.5 3.6-1.5 3.6-1.3 3.5-1.3 3.6-1.2 3.5-1.1 3.5-1 3.5-0.9 3.4-0.8 3.5-0.7 3.4-0.7 3.4-0.5 3.4-0.5 3.4-0.4 3.2-0.3 3.1-0.3 3.2-0.3 3.1-0.2 3.2-0.2 3.2-0.1 3.2-0.2 3.1-0.1 3.2-0.1 3.2 0 3.2 0 3.1 0 3.2 0 3.2 0.1 3.2 0.1 3.2 0.1 3.2 0.1 3.2 0.2 3.2 0.2 3.2 0.3 3.2 0.2 3.2 0.3 3.2 0.4 3.2 0.3 3.2 0.4 3.2 0.4 3.2 0.5 3.2 0.4 3.2 0.5 3.2 0.6 3.2 0.5 3.2 0.6 3.2 0.6 3.2 0.7 3.2 0.6 3.2 0.8 3.2 0.7 3.3 0.8 3.2 0.7 3.2 0.9 3.4 0.9 3.5 1 3.4 1.1 3.5 1.1 3.5 1.2 3.5 1.3 3.6 1.4 3.5 1.4 3.6 1.5 3.6 1.6 3.6 1.7 3.6 1.7 3.6 1.8 3.6 1.9 3.7 1.9 3.7 2.1 3.7 2.1 3.7 2.2 0 0 -2.9-0.4 -2.9-0.3 -2.9-0.2 -3-0.2 -2.9 0 -3.1 0 -3 0.2 -3 0.2 -3.1 0.3 -3.1 0.4 -3.2 0.4 -3.1 0.6 -3.2 0.7 -3.3 0.7 -3.2 0.9 -3.3 0.9 -3.3 1.1 -3.3 1.1 -3.3 1.2 -3.4 1.4 -3.4 1.4 -3.4 1.5 -3.5 1.7 -3.4 1.7 -3.6 1.1 -3.7-0.9 -3.6-0.7 -3.7-0.7 -3.7-0.9 -3.7-0.5 -3.6-0.6 -3.7-0.5 -3.7-0.6 -3.6-0.4 -3.7-0.5 -3.7-0.6 -3.6-0.3 -3.7-0.1 -3.7-0.5 -3.6-0.2 -3.7-0.1 -3.6-0.1 -3.7 0.1 -3.7 0 -3.6-0.2 -3.7 0.2 -3.6 0 -3.7 0.3 -3.6 0.1 -3.6 0.3 -3.7 0.3 -3.6 0.3 -3.7 0.5 -3.6 0.3 -3.7 0.6 -3.6 0.4 -3.6 0.5 -3.6-0.5 -3.4-1.8 -3.4-1.7 -3.4-1.5 -3.3-1.5 -3.4-1.5 -3.3-1.3 -3.3-1.2 -3.2-1.2 -3.3-1.1 -3.2-1.1 -3.2-0.9 -3.1-0.9 -3.2-0.8 -3.1-0.7 -3.1-0.7 -3-0.5 -3.1-0.5 -3-0.5 -3-0.3 -2.9-0.3 -3-0.2 -2.9-0.2z" fill="#000" fill-opacity="0.12"/>
<path d="M44.9 322.5l3.7-2.3 3.7-2.2 3.7-2.1 3.7-2 3.6-1.9 3.7-1.8 3.6-1.8 3.6-1.6 3.6-1.5 3.6-1.5 3.6-1.3 3.5-1.3 3.6-1.2 3.5-1.1 3.5-1 3.5-0.9 3.4-0.8 3.5-0.7 3.4-0.7 3.4-0.5 3.4-0.5 3.4-0.4 3.2-0.3 3.1-0.3 3.2-0.3 3.1-0.2 3.2-0.2 3.2-0.1 3.2-0.2 3.1-0.1 3.2-0.1 3.2 0 3.2 0 3.1 0 3.2 0 3.2 0.1 3.2 0.1 3.2 0.1 3.2 0.1 3.2 0.2 3.2 0.2 3.2 0.3 3.2 0.2 3.2 0.3 3.2 0.4 3.2 0.3 3.2 0.4 3.2 0.4 3.2 0.5 3.2 0.4 3.2 0.5 3.2 0.6 3.2 0.5 3.2 0.6 3.2 0.6 3.2 0.7 3.2 0.6 3.2 0.8 3.2 0.7 3.3 0.8 3.2 0.7 3.2 0.9 3.4 0.9 3.5 1 3.4 1.1 3.5 1.1 3.5 1.2 3.5 1.3 3.6 1.4 3.5 1.4 3.6 1.5 3.6 1.6 3.6 1.7 3.6 1.7 3.6 1.8 3.6 1.9 3.7 1.9 3.7 2.1 3.7 2.1 3.7 2.2 0 0 -2.9-0.4 -2.9-0.3 -2.9-0.2 -3-0.2 -2.9 0 -3.1 0 -3 0.2 -3 0.2 -3.1 0.3 -3.1 0.4 -3.2 0.4 -3.1 0.6 -3.2 0.7 -3.3 0.7 -3.2 0.9 -3.3 0.9 -3.3 1.1 -3.3 0.8 -3.6-1.1 -3.6-1.1 -3.6-0.8 -3.6-1.1 -3.6-0.8 -3.6-0.9 -3.6-0.9 -3.6-0.7 -3.6-0.9 -3.6-0.7 -3.6-0.6 -3.6-0.6 -3.6-0.5 -3.6-0.6 -3.6-0.6 -3.5-0.4 -3.6-0.5 -3.6-0.3 -3.6-0.2 -3.6-0.4 -3.6-0.3 -3.5-0.3 -3.6 0 -3.6-0.2 -3.5-0.1 -3.6-0.2 -3.6 0 -3.6 0.2 -3.5 0 -3.6 0.2 -3.5 0.1 -3.6 0.1 -3.6 0.3 -3.5 0.3 -3.6 0.2 -3.5 0.4 -3.6 0.3 -3.5 0.5 -3.6 0.5 -3.5 0.4 -3.6 0.7 -3.5 0.5 -3.6 0.7 -3.5 0.6 -3.5 0.8 -3.6 0.7 -3.5 0.9 -3.4 0 -3.3-1.1 -3.2-1.1 -3.2-0.9 -3.1-0.9 -3.2-0.8 -3.1-0.7 -3.1-0.7 -3-0.5 -3.1-0.5 -3-0.5 -3-0.3 -2.9-0.3 -3-0.2 -2.9-0.2z" fill="#000" fill-opacity="0.5"/>
<path d="M44.9 322.5l3.7-2.3 3.7-2.2 3.7-2.1 3.7-2 3.6-1.9 3.7-1.8 3.6-1.8 3.6-1.6 3.6-1.5 3.6-1.5 3.6-1.3 3.5-1.3 3.6-1.2 3.5-1.1 3.5-1 3.5-0.9 3.4-0.8 3.5-0.7 3.4-0.7 3.4-0.5 3.4-0.5 3.4-0.4 3.2-0.3 3.1-0.3 3.2-0.3 3.1-0.2 3.2-0.2 3.2-0.1 3.2-0.2 3.1-0.1 3.2-0.1 3.2 0 3.2 0 3.1 0 3.2 0 3.2 0.1 3.2 0.1 3.2 0.1 3.2 0.1 3.2 0.2 3.2 0.2 3.2 0.3 3.2 0.2 3.2 0.3 3.2 0.4 3.2 0.3 3.2 0.4 3.2 0.4 3.2 0.5 3.2 0.4 3.2 0.5 3.2 0.6 3.2 0.5 3.2 0.6 3.2 0.6 3.2 0.7 3.2 0.6 3.2 0.8 3.2 0.7 3.3 0.8 3.2 0.7 3.2 0.9 3.4 0.9 3.5 1 3.4 1.1 3.5 1.1 3.5 1.2 3.5 1.3 3.6 1.4 3.5 1.4 3.6 1.5 3.6 1.6 3.6 1.7 3.6 1.7 3.6 1.8 3.6 1.9 3.7 1.9 3.7 2.1 3.7 2.1 3.7 2.2 0 0 -2.9-0.4 -2.9-0.3 -2.9-0.2 -3-0.2 -2.9 0 -3.1 0 -3 0.2 -3 0.2 -3.1 0.3 -3.1 0.4 -3.5-1.1 -3.5-1.3 -3.5-1.2 -3.6-1.2 -3.5-1.2 -3.5-1.1 -3.5-1.1 -3.5-1 -3.5-1 -3.5-1 -3.5-0.9 -3.5-0.8 -3.5-0.9 -3.5-0.8 -3.5-0.8 -3.5-0.7 -3.5-0.8 -3.5-0.6 -3.5-0.6 -3.5-0.7 -3.5-0.5 -3.5-0.5 -3.4-0.5 -3.5-0.4 -3.5-0.5 -3.5-0.3 -3.5-0.3 -3.5-0.3 -3.5-0.3 -3.4-0.3 -3.5-0.1 -3.5-0.2 -3.5 0 -3.4-0.2 -3.5 0 -3.5 0 -3.4 0.1 -3.5-0.1 -3.5 0.3 -3.4 0.1 -3.5 0.1 -3.4 0.2 -3.5 0.3 -3.5 0.3 -3.4 0.4 -3.5 0.3 -3.4 0.4 -3.5 0.5 -3.4 0.4 -3.4 0.5 -3.5 0.6 -3.4 0.6 -3.4 0.5 -3.5 0.7 -3.4 0.7 -3.4 0.7 -3.5 0.8 -3.4 0.8 -3.4 0.8 -3.5 0.9 -3.4 0.9 -3.4 1 -3.4 1 -3.4 1 -3.4 0.9 -3-0.5 -3-0.3 -2.9-0.3 -3-0.2 -2.9-0.2z" fill="#000" fill-opacity="0.85" stroke="#000" stroke-width="1.2" stroke-linejoin="round"/>
<ellipse cx="180.5" cy="291.9" rx="1.9" ry="2.2" fill="#c8481a"/><ellipse cx="180.5" cy="296.4" rx="1.9" ry="2.2" fill="#bd4214"/>
<text transform="translate(45.4,391.7) scale(1.022,1.092)" font-size="6.2" text-anchor="end" font-family="Liberation Sans,sans-serif" fill="#2b2b2b">0</text>
<text transform="translate(44,369.6) scale(1.022,1.092)" font-size="6.2" text-anchor="end" font-family="Liberation Sans,sans-serif" fill="#2b2b2b">0.01</text>
<text transform="translate(42.6,347.4) scale(1.022,1.092)" font-size="6.2" text-anchor="end" font-family="Liberation Sans,sans-serif" fill="#2b2b2b">0.02</text>
<text transform="translate(41.1,325.3) scale(1.022,1.092)" font-size="6.2" text-anchor="end" font-family="Liberation Sans,sans-serif" fill="#2b2b2b">0.03</text>
<text transform="translate(39.7,303.2) scale(1.022,1.092)" font-size="6.2" text-anchor="end" font-family="Liberation Sans,sans-serif" fill="#2b2b2b">0.04</text>
<text transform="translate(38.3,281) scale(1.022,1.092)" font-size="6.2" text-anchor="end" font-family="Liberation Sans,sans-serif" fill="#2b2b2b">0.05</text>
<text transform="translate(182.9,486) scale(1.022,1.092)" font-size="6.2" text-anchor="start" font-family="Liberation Sans,sans-serif" fill="#2b2b2b">4</text>
<text transform="translate(208.7,476) scale(1.022,1.092)" font-size="6.2" text-anchor="start" font-family="Liberation Sans,sans-serif" fill="#2b2b2b">4.6</text>
<text transform="translate(234.4,466) scale(1.022,1.092)" font-size="6.2" text-anchor="start" font-family="Liberation Sans,sans-serif" fill="#2b2b2b">5.2</text>
<text transform="translate(260.1,456) scale(1.022,1.092)" font-size="6.2" text-anchor="start" font-family="Liberation Sans,sans-serif" fill="#2b2b2b">5.8</text>
<text transform="translate(285.8,446) scale(1.022,1.092)" font-size="6.2" text-anchor="start" font-family="Liberation Sans,sans-serif" fill="#2b2b2b">6.4</text>
<text transform="translate(311.6,436) scale(1.022,1.092)" font-size="6.2" text-anchor="start" font-family="Liberation Sans,sans-serif" fill="#2b2b2b">7</text>
<text transform="translate(177,484.9) scale(1.022,1.092)" font-size="6.2" text-anchor="end" font-family="Liberation Sans,sans-serif" fill="#2b2b2b">1</text>
<text transform="translate(144.8,472.4) scale(1.022,1.092)" font-size="6.2" text-anchor="end" font-family="Liberation Sans,sans-serif" fill="#2b2b2b">1.5</text>
<text transform="translate(112.7,459.9) scale(1.022,1.092)" font-size="6.2" text-anchor="end" font-family="Liberation Sans,sans-serif" fill="#2b2b2b">2</text>
<text transform="translate(80.5,447.4) scale(1.022,1.092)" font-size="6.2" text-anchor="end" font-family="Liberation Sans,sans-serif" fill="#2b2b2b">2.5</text>
<text transform="translate(48.4,434.9) scale(1.022,1.092)" font-size="6.2" text-anchor="end" font-family="Liberation Sans,sans-serif" fill="#2b2b2b">3</text>
<text transform="translate(20,477.8) scale(1.022,1.092)" font-size="9.2" text-anchor="start" font-family="Liberation Sans,sans-serif" fill="#1c1c1c">D: Tannin Content (%)</text>
<text transform="translate(282,477.8) scale(1.022,1.092)" font-size="9.2" text-anchor="start" font-family="Liberation Sans,sans-serif" fill="#1c1c1c">A: pH</text>
<text transform="translate(12.5,369) scale(1.022,1.092) rotate(-90)" font-size="11.1" text-anchor="middle" font-family="Liberation Serif,serif" fill="#111">Tannin acyl hydrolase</text>
<text x="2.8" y="274.2" font-size="16.5" font-weight="bold" font-family="Liberation Serif,serif" fill="#000">c</text></g>
<g id="pd"><path d="M422.1,392.9L536.7,357.3L651.3,392.9M420.8,370.9L536.7,337.4L652.6,370.9M419.6,348.8L536.7,317.6L653.8,348.8M418.4,326.7L536.7,297.7L655,326.7M417.1,304.6L536.7,277.8L656.3,304.6M415.9,282.6L536.7,257.9L657.5,282.6M424,427.2L415.9,282.6M445,385.8L440.1,277.6M467.9,378.7L464.2,272.7M490.8,371.6L488.4,267.8M513.8,364.5L512.5,262.8M536.7,388.2L536.7,257.9M649.4,427.2L657.5,282.6M637,388.5L642.4,279.5M622.7,384L627.3,276.4M608.3,379.6L612.2,273.3M594,375.1L597.1,270.2M579.7,370.7L582,267.1M565.4,366.2L566.9,264.1M551,361.8L551.8,261" fill="none" stroke="#151515" stroke-width="1.05"/>
<polygon points="424,427.2 536.7,477 649.4,427.2 536.7,388.2" fill="#ffff00" stroke="#444" stroke-width="0.7"/>
<path d="M516.5 467.9l7 0.6 7.2 0.4 7.2 0.3 7.3 0.1 7.4 0" fill="none" stroke="#7dff1a" stroke-width="0.8"/>
<clipPath id="fld"><polygon points="424,427.2 536.7,477 649.4,427.2 536.7,388.2"/></clipPath>
<ellipse cx="535.95" cy="420" rx="83.75" ry="31.5" fill="none" stroke="#a0ff30" stroke-width="0.9" clip-path="url(#fld)"/>
<path d="M536.7,477l1.1,1.7M559.2,467l1.1,1.7M581.8,457.1l1.1,1.7M604.3,447.1l1.1,1.7M626.9,437.1l1.1,1.7M649.4,427.2l1.1,1.7M536.7,477l-1.1,1.7M522.6,470.8l-1.1,1.7M508.5,464.6l-1.1,1.7M494.4,458.3l-1.1,1.7M480.3,452.1l-1.1,1.7M466.2,445.9l-1.1,1.7M452.2,439.6l-1.1,1.7M438.1,433.4l-1.1,1.7M424,427.2l-1.1,1.7M422.1,392.9l-1.6,-0.5M420.8,370.9l-1.6,-0.5M419.6,348.8l-1.6,-0.5M418.4,326.7l-1.6,-0.5M417.1,304.6l-1.6,-0.5M415.9,282.6l-1.6,-0.5" fill="none" stroke="#222" stroke-width="0.9"/>
<path d="M536.7 379.1l5.4-4.7 5.3-4.4 5.3-4.2 5.2-3.9 5.2-3.7 5.1-3.4 5-3.2 5.1-3 4.9-2.7 4.9-2.5 4.9-2.3 4.7-2.1 4.8-1.8 4.7-1.6 4.6-1.4 4.5-1.2 4.6-1 4.4-0.7 4.4-0.6 4.3-0.4 4.3-0.2 4.2 0.1 4.2 0.2 4 0.4 4.1 0.6 -5.2-3.8 -5.1-3.5 -5.1-3.4 -5.1-3.2 -5.1-3 -5-2.8 -4.9-2.7 -4.9-2.5 -4.9-2.3 -4.9-2.2 -4.8-2 -4.8-1.9 -4.7-1.7 -4.7-1.5 -4.7-1.4 -4.6-1.2 -4.5-1 -4.6-1 -4.5-0.7 -4.4-0.6 -4.4-0.5 -4.4-0.4 -4.3-0.1 -4.3-0.1 -4.2 0.1 -4.2-0.6 -4.3-0.4 -4.3-0.3 -4.4-0.1 -4.4 0.1 -4.5 0.3 -4.5 0.4 -4.5 0.7 -4.6 0.8 -4.6 1 -4.7 1.2 -4.7 1.3 -4.7 1.6 -4.8 1.8 -4.8 2 -4.9 2.2 -4.9 2.3 -4.9 2.6 -5 2.8 -5 3 -5 3.2 -5.1 3.5 -5.1 3.6 -5.2 3.9 -5.1 4 4.1 0 4.1 0.1 4.2 0.3 4.2 0.4 4.3 0.6 4.3 0.7 4.4 1 4.5 1 4.5 1.3 4.6 1.4 4.6 1.6 4.7 1.7 4.7 2 4.8 2.1 4.8 2.3 4.9 2.5 5 2.7 5 2.9 5.1 3 5.1 3.3 5.1 3.5 5.2 3.6 5.3 3.9 5.3 4z" fill="#0dbc00"/>
<path d="M418.5 328.9l4 0 4.1 0.1 4.1 0.3 4.2 0.4 4.3 0.6 4.3 0.7 4.4 0.9 4.4 1 4.4 1.3 4.6 1.4 4.6 1.5 4.6 1.8 4.7 1.9 4.7 2 4.8 2.3 4.9 2.5 4.9 2.6 4.9 2.8 5 3 5.1 3.2 5.1 3.4 5.1 3.6 5.3 3.8 5.2 4 5.3 4.2 2.2 0 5.3-4.6 5.3-4.3 5.2-4.1 5.2-3.9 5.1-3.6 5.1-3.4 5-3.1 5-2.9 4.9-2.7 4.8-2.5 4.9-2.2 4.7-2.1 4.7-1.8 4.6-1.5 4.6-1.4 4.5-1.2 4.5-0.9 4.4-0.8 4.4-0.5 4.3-0.4 4.2-0.2 4.2 0.1 4.1 0.2 4.1 0.4 4 0.6 -5-3.6 -4.9-3.4 -5-3.3 -4.8-3.1 -4.9-2.9 -4.8-2.8 -4.8-2.6 -4.7-2.5 -4.7-2.3 -4.7-2.1 -4.7-2 -4.6-1.8 -4.5-1.7 -4.6-1.6 -4.5-1.4 -4.4-1.2 -4.5-1.2 -4.3-0.9 -4.4-0.9 -4.3-0.7 -4.3-0.5 -4.2-0.5 -4.2-0.3 -4.1-0.2 -4.1 0 -4.1 0.1 -4.1-0.6 -4.1-0.4 -4.1-0.3 -4.2-0.1 -4.3 0.1 -4.2 0.2 -4.4 0.4 -4.3 0.5 -4.4 0.8 -4.4 0.9 -4.5 1 -4.5 1.3 -4.6 1.4 -4.5 1.6 -4.7 1.8 -4.6 2 -4.7 2.2 -4.7 2.3 -4.8 2.6 -4.8 2.7 -4.8 2.9 -4.8 3.1 -4.9 3.4 -4.9 3.5 -5 3.7z" fill="#0fbe00"/>
<path d="M418.5 328.9l4 0 4.1 0.1 4.1 0.3 4.2 0.4 4.3 0.6 4.3 0.7 4.4 0.9 4.4 1 4.4 1.3 4.6 1.4 4.5 1.5 4.7 1.7 4.7 2 4.7 2 4.8 2.3 4.8 2.5 4.9 2.6 5 2.8 5 3 5.1 3.2 5.1 3.4 5.1 3.6 5.2 3.8 5.3 4 0.1 0 10.5 0.3 1.5-0.1 5.3-4.4 5.3-4.1 5.2-3.9 5.1-3.7 5.2-3.4 5-3.2 5-3 5-2.7 4.8-2.5 4.9-2.3 4.8-2 4.7-1.8 4.7-1.6 4.6-1.4 4.5-1.2 4.5-1 4.5-0.8 4.3-0.5 4.4-0.4 4.2-0.2 4.2 0.1 4.2 0.2 4.1 0.4 4 0.6 -5-3.6 -4.9-3.4 -5-3.3 -4.8-3.1 -4.9-2.9 -4.8-2.8 -4.8-2.6 -4.7-2.5 -4.7-2.3 -4.7-2.1 -4.7-2 -4.6-1.8 -4.5-1.7 -4.6-1.6 -4.5-1.4 -4.4-1.2 -4.5-1.2 -4.3-0.9 -4.4-0.9 -4.3-0.7 -4.3-0.5 -4.2-0.5 -4.2-0.3 -4.1-0.2 -4.1 0 -4.1 0.1 -4.1-0.6 -4.1-0.4 -4.1-0.3 -4.2-0.1 -4.3 0.1 -4.2 0.2 -4.4 0.4 -4.3 0.5 -4.4 0.8 -4.4 0.9 -4.5 1 -4.5 1.3 -4.6 1.4 -4.5 1.6 -4.7 1.8 -4.6 2 -4.7 2.2 -4.7 2.3 -4.8 2.6 -4.8 2.7 -4.8 2.9 -4.8 3.1 -4.9 3.4 -4.9 3.5 -5 3.7z" fill="#1ac000"/>
<path d="M418.5 328.9l4 0 4.1 0.1 4.1 0.3 4.2 0.4 4.2 0.6 4.3 0.7 4.3 0.9 4.4 1 4.4 1.2 4.5 1.4 4.6 1.5 4.6 1.7 4.6 1.9 4.7 2.1 4.8 2.2 4.8 2.4 4.9 2.6 4.9 2.8 5 3 5 3.2 5.1 3.3 5.1 3.6 5.2 3.7 6 0.4 10.1 0.2 6.9 0 5-4 5.1-3.8 4.9-3.6 4.9-3.3 4.9-3.1 4.8-2.9 4.8-2.7 4.7-2.5 4.7-2.3 4.6-2 4.6-1.9 4.5-1.6 4.4-1.5 4.5-1.2 4.3-1.1 4.3-0.9 4.3-0.6 4.2-0.5 4.1-0.3 4.1-0.2 4 0.1 4 0.2 3.9 0.4 3.9 0.6 -5-3.6 -4.9-3.4 -5-3.3 -4.8-3.1 -4.9-2.9 -4.8-2.8 -4.8-2.6 -4.7-2.5 -4.7-2.3 -4.7-2.1 -4.7-2 -4.6-1.8 -4.5-1.7 -4.6-1.6 -4.5-1.4 -4.4-1.2 -4.5-1.2 -4.3-0.9 -4.4-0.9 -4.3-0.7 -4.3-0.5 -4.2-0.5 -4.2-0.3 -4.1-0.2 -4.1 0 -4.1 0.1 -4.1-0.6 -4.1-0.4 -4.1-0.3 -4.2-0.1 -4.3 0.1 -4.2 0.2 -4.4 0.4 -4.3 0.5 -4.4 0.8 -4.4 0.9 -4.5 1 -4.5 1.3 -4.6 1.4 -4.5 1.6 -4.7 1.8 -4.6 2 -4.7 2.2 -4.7 2.3 -4.8 2.6 -4.8 2.7 -4.8 2.9 -4.8 3.1 -4.9 3.4 -4.9 3.5 -5 3.7z" fill="#2ec100"/>
<path d="M418.5 328.9l4 0 4 0.1 4.1 0.3 4.1 0.4 4.2 0.5 4.2 0.7 4.3 0.9 4.3 1 4.4 1.2 4.5 1.3 4.5 1.5 4.6 1.7 4.6 1.9 4.6 2 4.7 2.2 4.8 2.4 4.8 2.5 4.9 2.7 4.9 3 5 3.1 5 3.2 5 3.5 2.8 0.2 9.5 0.5 9.8 0.3 9.8 0 2.7-0.1 5-3.7 4.9-3.6 4.9-3.3 4.9-3.1 4.8-2.9 4.8-2.7 4.7-2.5 4.6-2.2 4.6-2.1 4.6-1.8 4.5-1.7 4.4-1.4 4.4-1.2 4.4-1.1 4.3-0.9 4.2-0.6 4.2-0.5 4.1-0.3 4.1-0.2 4 0.1 4 0.2 3.9 0.4 3.9 0.6 -5-3.6 -4.9-3.4 -5-3.3 -4.8-3.1 -4.9-2.9 -4.8-2.8 -4.8-2.6 -4.7-2.5 -4.7-2.3 -4.7-2.1 -4.7-2 -4.6-1.8 -4.5-1.7 -4.6-1.6 -4.5-1.4 -4.4-1.2 -4.5-1.2 -4.3-0.9 -4.4-0.9 -4.3-0.7 -4.3-0.5 -4.2-0.5 -4.2-0.3 -4.1-0.2 -4.1 0 -4.1 0.1 -4.1-0.6 -4.1-0.4 -4.1-0.3 -4.2-0.1 -4.3 0.1 -4.2 0.2 -4.4 0.4 -4.3 0.5 -4.4 0.8 -4.4 0.9 -4.5 1 -4.5 1.3 -4.6 1.4 -4.5 1.6 -4.7 1.8 -4.6 2 -4.7 2.2 -4.7 2.3 -4.8 2.6 -4.8 2.7 -4.8 2.9 -4.8 3.1 -4.9 3.4 -4.9 3.5 -5 3.7z" fill="#42c200"/>
<path d="M418.5 328.9l3.9 0 3.9 0.1 4.1 0.3 4 0.3 4.1 0.6 4.2 0.7 4.2 0.8 4.3 1 4.3 1.1 4.3 1.3 4.5 1.5 4.4 1.6 4.5 1.8 4.6 1.9 4.6 2.1 4.7 2.3 4.7 2.5 4.8 2.6 4.8 2.8 4.9 3 4.9 3.2 1 0.1 9 0.6 9.2 0.4 9.3 0.3 9.5 0 9.1-0.2 5-3.5 4.9-3.4 5-3.1 4.8-2.9 4.8-2.6 4.8-2.5 4.7-2.2 4.7-2 4.6-1.9 4.5-1.6 4.5-1.4 4.4-1.2 4.4-1 4.4-0.8 4.2-0.6 4.3-0.5 4.1-0.2 4.1-0.1 4.1 0.2 4 0.2 4 0.5 -0.1-1.3 -5.1-3.6 -5-3.4 -5-3.2 -5-3.1 -4.9-2.9 -4.9-2.8 -4.9-2.5 -4.8-2.4 -4.8-2.3 -4.8-2.1 -4.7-1.9 -4.7-1.8 -4.6-1.6 -4.6-1.5 -4.6-1.3 -4.5-1.2 -4.5-1 -4.4-0.9 -4.4-0.7 -4.4-0.6 -4.3-0.4 -4.3-0.4 -4.2-0.1 -4.2-0.1 -4.2 0.1 -4.1-0.6 -4.1-0.4 -4.1-0.3 -4.2-0.1 -4.3 0.1 -4.2 0.2 -4.4 0.4 -4.3 0.5 -4.4 0.8 -4.4 0.9 -4.5 1 -4.5 1.3 -4.6 1.4 -4.5 1.6 -4.7 1.8 -4.6 2 -4.7 2.2 -4.7 2.3 -4.8 2.6 -4.8 2.7 -4.8 2.9 -4.8 3.1 -4.9 3.4 -4.9 3.5 -5 3.7z" fill="#56c300"/>
<path d="M420.1 327.6l0.6 0.9 0.4 0.4 4.1 0.1 4.1 0.2 4.3 0.3 4.2 0.6 4.4 0.7 4.3 0.8 4.5 1 4.5 1.2 4.5 1.4 4.6 1.5 4.7 1.7 4.7 1.9 4.8 2 4.8 2.3 4.9 2.4 4.9 2.6 5 2.8 5 3 1.4 0.2 8.3 0.7 8.5 0.6 8.8 0.5 8.9 0.2 9.1 0 9-0.2 7.3-0.3 5.1-3.3 5-3.2 4.9-2.8 5-2.7 4.8-2.4 4.8-2.2 4.8-2 4.6-1.8 4.7-1.5 4.6-1.3 4.5-1.2 4.4-0.9 4.4-0.7 4.4-0.5 4.3-0.3 4.2-0.2 4.2 0.1 4.1 0.2 0.3-1.5 -0.1-2.2 -0.1-0.5 -5.1-3.4 -5-3.3 -5-3 -4.9-2.9 -4.9-2.8 -4.9-2.6 -4.8-2.4 -4.8-2.2 -4.8-2.1 -4.7-2 -4.7-1.8 -4.6-1.6 -4.7-1.5 -4.5-1.3 -4.5-1.1 -4.5-1.1 -4.5-0.9 -4.4-0.7 -4.4-0.6 -4.3-0.4 -4.3-0.4 -4.2-0.1 -4.2-0.1 -4.2 0.1 -4.2-0.6 -4.2-0.4 -4.3-0.3 -4.3-0.1 -4.3 0.1 -4.4 0.3 -4.5 0.4 -4.5 0.6 -4.5 0.8 -4.5 0.9 -4.6 1.2 -4.7 1.3 -4.7 1.6 -4.7 1.7 -4.7 1.9 -4.8 2.1 -4.8 2.3 -4.9 2.5 -4.9 2.7 -4.9 2.9 -5 3.2 -5 3.3 -5 3.5 -5.1 3.8z" fill="#69c200"/>
<path d="M424.3 324.3l1.1 1.6 1.7 1.9 1.6 1.3 4 0.4 4.1 0.4 4.1 0.6 4.1 0.8 4.2 0.9 4.3 1.1 4.3 1.2 4.4 1.4 4.4 1.5 4.5 1.7 4.5 1.8 4.5 2 4.7 2.2 4.6 2.4 4.7 2.5 4.3 0.6 7.6 0.9 7.9 0.7 8.2 0.5 8.3 0.4 8.5 0.3 8.7 0 8.6-0.2 8.6-0.3 7.2-0.6 4.7-2.8 4.7-2.6 4.6-2.5 4.6-2.2 4.5-2.1 4.5-1.8 4.4-1.7 4.4-1.4 4.3-1.3 4.3-1.1 4.2-0.8 4.2-0.8 4.1-0.5 4.1-0.4 4-0.1 3.9-0.1 0.8-1.6 0.5-2.2 -0.1-2 -0.4-1.6 -5-3.3 -4.9-3 -5-2.9 -4.9-2.8 -4.8-2.5 -4.8-2.4 -4.8-2.3 -4.8-2.1 -4.7-1.9 -4.7-1.8 -4.6-1.6 -4.6-1.5 -4.6-1.3 -4.5-1.2 -4.5-1 -4.4-0.9 -4.4-0.7 -4.4-0.6 -4.3-0.4 -4.3-0.4 -4.2-0.1 -4.2-0.1 -4.2 0.1 -4.2-0.6 -4.3-0.4 -4.3-0.3 -4.3-0.1 -4.4 0.1 -4.4 0.3 -4.5 0.4 -4.5 0.6 -4.6 0.8 -4.6 1 -4.6 1.2 -4.7 1.4 -4.7 1.5 -4.8 1.8 -4.7 1.9 -4.9 2.2 -4.8 2.3 -4.9 2.6 -5 2.7 -5 3 -5 3.2 -5 3.3 -5.1 3.6z" fill="#7cc000"/>
<path d="M428.8 321l0.2 0.5 1.3 1.8 1.7 1.8 2.1 1.7 2.4 1.7 2.7 1.7 0.1 0.1 4.1 0.7 4 0.8 4.2 1 4.1 1.1 4.3 1.2 4.2 1.5 4.4 1.5 4.3 1.7 4.4 1.9 4.5 2 4.7 0.9 6.6 1 6.9 0.9 7.3 0.8 7.5 0.7 7.7 0.5 8 0.4 8 0.2 8.2 0 8.2-0.1 8.1-0.4 8.1-0.5 7.8-0.8 2.1-0.2 4.7-2.5 4.6-2.3 4.6-2.1 4.6-1.9 4.4-1.6 4.5-1.5 4.4-1.3 4.3-1.1 4.3-0.9 4.2-0.7 4.2-0.5 4.1-0.4 0.6-0.5 1.6-2.1 1-2 0.5-2 0-1.9 -0.5-2 -0.3-0.7 -5-3.1 -4.9-2.8 -4.8-2.7 -4.9-2.6 -4.8-2.3 -4.7-2.3 -4.8-2 -4.7-1.9 -4.6-1.8 -4.6-1.6 -4.6-1.5 -4.5-1.3 -4.5-1.1 -4.5-1 -4.4-0.9 -4.4-0.7 -4.3-0.6 -4.3-0.5 -4.3-0.3 -4.2-0.2 -4.2 0 -4.1 0.1 -4.2-0.6 -4.3-0.4 -4.3-0.3 -4.4-0.1 -4.4 0.1 -4.5 0.3 -4.5 0.4 -4.5 0.7 -4.6 0.8 -4.6 1 -4.7 1.2 -4.7 1.3 -4.7 1.6 -4.8 1.8 -4.8 2 -4.9 2.2 -4.9 2.3 -4.9 2.6 -5 2.8 -5 3 -5 3.2 -5.1 3.5z" fill="#8ebd00"/>
<path d="M433.5 317.6l0.8 1.4 1.2 1.7 1.6 1.7 2 1.6 2.3 1.6 2.7 1.6 3 1.5 3.3 1.6 3.6 1.4 4 1.5 4.4 1.4 4.6 1.3 5 1.3 5.3 1.2 5.7 1.1 5.9 1.1 6.3 0.9 6.6 0.9 6.8 0.7 7.1 0.6 7.3 0.5 7.5 0.4 7.6 0.2 7.7 0 7.8-0.2 7.6-0.3 7.6-0.5 7.4-0.7 7.2-0.8 6.8-1 4.1-0.8 4.8-2 4.7-1.8 4.6-1.5 4.6-1.4 4.5-1.1 4.5-0.9 2.4-1.3 2.6-1.9 2.1-1.9 1.5-1.9 1-1.8 0.5-1.9 0-1.9 -0.4-1.8 -0.8-1.8 -0.1-0.2 -4.9-2.8 -4.8-2.6 -4.8-2.5 -4.7-2.4 -4.7-2.1 -4.7-2 -4.6-1.9 -4.6-1.7 -4.6-1.6 -4.5-1.4 -4.5-1.3 -4.4-1.1 -4.4-1 -4.4-0.9 -4.3-0.7 -4.3-0.5 -4.3-0.5 -4.2-0.3 -4.2-0.2 -4.1 0 -4.1 0.1 -4.1-0.6 -4.1-0.4 -4.1-0.3 -4.2-0.1 -4.2 0.1 -4.3 0.2 -4.3 0.4 -4.3 0.5 -4.4 0.8 -4.5 0.8 -4.4 1.1 -4.5 1.3 -4.5 1.4 -4.6 1.6 -4.6 1.8 -4.7 1.9 -4.6 2.2 -4.7 2.3 -4.8 2.6 -4.8 2.7 -4.8 2.9 -4.8 3.1z" fill="#9cb600"/>
<path d="M438.6 314.1l0.3 0.8 0.9 1.6 1.2 1.6 1.6 1.5 1.9 1.5 2.2 1.5 2.5 1.5 2.8 1.5 3.2 1.4 3.4 1.3 3.8 1.4 4.1 1.3 4.4 1.2 4.7 1.2 5 1.1 5.3 1 5.6 1 5.9 0.9 6.2 0.8 6.4 0.7 6.7 0.5 6.8 0.5 7 0.3 7.2 0.2 7.2 0 7.3-0.1 7.2-0.3 7.1-0.5 6.9-0.6 6.7-0.8 6.4-0.9 6.1-1.1 5.6-1.3 5.2-1.3 4.6-1.5 4.2-1.5 3.6-1.6 3-1.7 2.5-1.8 2-1.7 1.5-1.8 1-1.7 0.5-1.8 0-1.7 -0.3-1.7 -0.7-1.7 -1.1-1.6 -0.1-0.1 -5-2.7 -4.9-2.5 -4.9-2.3 -4.8-2.2 -4.8-2 -4.8-1.8 -4.7-1.7 -4.7-1.5 -4.6-1.4 -4.6-1.2 -4.6-1.1 -4.5-0.9 -4.5-0.7 -4.4-0.7 -4.4-0.4 -4.4-0.4 -4.3-0.1 -4.3-0.1 -4.2 0.1 -4.1-0.6 -4-0.4 -4.2-0.3 -4.2-0.1 -4.2 0.1 -4.2 0.2 -4.3 0.4 -4.4 0.5 -4.3 0.7 -4.4 0.9 -4.5 1.1 -4.5 1.2 -4.5 1.4 -4.6 1.6 -4.6 1.8 -4.6 1.9 -4.7 2.2 -4.6 2.3 -4.8 2.5 -4.7 2.7 -4.8 2.9z" fill="#a4ab00"/>
<path d="M444.2 310.6l0.1 0.4 0.5 1.5 0.9 1.5 1.2 1.4 1.4 1.4 1.8 1.4 2.1 1.4 2.4 1.4 2.7 1.3 3 1.3 3.2 1.3 3.6 1.2 3.8 1.2 4.1 1.1 4.4 1.1 4.7 1 4.9 1 5.3 0.9 5.5 0.8 5.7 0.7 6 0.7 6.2 0.5 6.3 0.4 6.6 0.3 6.6 0.1 6.7 0.1 6.8-0.2 6.7-0.2 6.6-0.4 6.5-0.6 6.2-0.7 6-0.9 5.6-1 5.3-1.1 4.8-1.3 4.4-1.3 3.9-1.4 3.4-1.5 2.8-1.6 2.4-1.6 1.9-1.6 1.4-1.6 1-1.6 0.5-1.7 0.1-1.6 -0.3-1.5 -0.6-1.6 -1-1.5 -1.3-1.4 -0.5-0.5 -4.7-2.4 -4.8-2.1 -4.6-2.1 -4.7-1.9 -4.6-1.7 -4.6-1.6 -4.5-1.4 -4.5-1.3 -4.5-1.1 -4.4-1 -4.3-0.8 -4.4-0.8 -4.3-0.5 -4.3-0.5 -4.2-0.3 -4.2-0.2 -4.1 0 -4.1 0.1 -4.2-0.6 -4.3-0.4 -4.3-0.3 -4.4-0.1 -4.4 0.1 -4.4 0.3 -4.5 0.4 -4.5 0.6 -4.6 0.9 -4.6 1 -4.7 1.1 -4.7 1.4 -4.7 1.6 -4.8 1.7 -4.8 2 -4.8 2.2 -4.9 2.3 -5 2.6 -4.9 2.8z" fill="#ab9f00"/>
<path d="M542.3 287.9l-0.7 0 -5-0.3 -3.6-0.1 -4.2-0.5 -4.3-0.3 -4.3-0.1 -4.4 0.1 -4.4 0.2 -4.5 0.4 -4.5 0.6 -4.5 0.8 -4.6 1 -4.6 1.1 -4.7 1.3 -4.6 1.5 -4.8 1.8 -4.8 1.9 -4.8 2.1 -4.8 2.3 -4.9 2.5 -4.9 2.7 0 0.4 0.2 1.4 0.6 1.4 0.8 1.3 1.1 1.3 1.4 1.3 1.7 1.3 2 1.3 2.2 1.2 2.5 1.3 2.8 1.1 3 1.2 3.3 1.1 3.6 1.1 3.8 1 4.1 1 4.3 0.9 4.6 0.9 4.8 0.8 5.1 0.7 5.2 0.7 5.5 0.6 5.7 0.4 5.9 0.4 6 0.3 6.1 0.1 6.2 0 6.2-0.1 6.2-0.2 6.1-0.4 5.9-0.5 5.8-0.7 5.5-0.8 5.2-0.9 4.9-1 4.4-1.1 4.1-1.2 3.6-1.3 3.2-1.4 2.7-1.4 2.2-1.4 1.8-1.5 1.3-1.5 1-1.5 0.5-1.5 0.1-1.4 -0.2-1.5 -0.6-1.4 -0.8-1.4 -1.2-1.3 -1.4-1.3 -1.7-1.3 -0.2-0.1 -4.6-2 -4.6-1.9 -4.5-1.7 -4.5-1.6 -4.4-1.4 -4.5-1.3 -4.4-1.2 -4.3-1 -4.3-0.8 -4.3-0.8 -4.2-0.6 -4.2-0.4 -4.2-0.4 -4.1-0.2z" fill="#a38d08"/>
<path d="M553.2 288.4l-3.7-0.4 -4.3-0.3 -4.5-0.3 -4.5-0.3 -4.6-0.1 -4.7-0.1 -0.1 0 -4.3-0.2 -4.4-0.1 -4.4 0.2 -4.4 0.3 -4.5 0.5 -4.6 0.7 -4.6 0.8 -4.6 1.1 -4.6 1.2 -4.8 1.5 -4.7 1.6 -4.8 1.8 -4.8 2.1 -4.9 2.2 -4.9 2.4 -0.2 0.9 0 1.2 0.2 1.3 0.6 1.2 0.8 1.2 1 1.2 1.4 1.2 1.5 1.2 1.9 1.1 2 1.1 2.3 1.1 2.6 1.1 2.8 1 3 1 3.2 1 3.5 0.9 3.7 0.9 4 0.8 4.1 0.8 4.4 0.7 4.6 0.7 4.8 0.5 5 0.5 5.2 0.5 5.3 0.3 5.5 0.2 5.5 0.2 5.6 0 5.6-0.1 5.6-0.2 5.5-0.4 5.4-0.4 5.3-0.6 5-0.7 4.7-0.8 4.5-0.9 4.1-1 3.7-1.1 3.3-1.2 2.9-1.2 2.5-1.3 2.1-1.3 1.6-1.3 1.3-1.3 0.9-1.4 0.5-1.3 0.1-1.3 -0.1-1.3 -0.5-1.3 -0.7-1.3 -1.1-1.2 -1.2-1.2 -1.5-1.1 -1.7-1.1 -1.9-1.1 -2.1-1.1 -0.2 0 -4.4-1.6 -4.3-1.5 -4.3-1.3 -4.3-1.1 -4.2-1.1 -4.2-0.9 -4.2-0.8 -4.1-0.6 -4.1-0.6z" fill="#9a7a10"/>
<path d="M574.6 292l-2.9-0.7 -3.1-0.6 -3.1-0.7 -3.3-0.5 -3.5-0.6 -3.5-0.4 -3.7-0.5 -3.8-0.4 -3.9-0.3 -4-0.3 -4.1-0.2 -4.2-0.1 -4.2-0.1 -4.3 0 -4 0 -4.2 0.1 -4.2 0.3 -4.3 0.4 -4.3 0.6 -4.3 0.7 -4.4 1 -4.4 1 -4.4 1.3 -4.5 1.4 -4.5 1.6 -4.6 1.8 -4.6 2 -0.6 0.8 -0.5 1.1 -0.3 1.1 0 1.1 0.3 1.1 0.5 1.1 0.8 1.1 0.9 1.1 1.3 1 1.4 1 1.7 1 1.8 1 2.1 1 2.3 0.9 2.5 0.9 2.7 0.9 2.9 0.8 3.2 0.9 3.3 0.7 3.5 0.7 3.7 0.7 3.9 0.7 4.1 0.5 4.3 0.5 4.5 0.5 4.5 0.3 4.8 0.3 4.8 0.2 4.9 0.2 5 0 5-0.1 5-0.2 4.9-0.3 4.8-0.4 4.6-0.5 4.5-0.6 4.2-0.7 4-0.8 3.6-0.9 3.4-1 3-1 2.6-1 2.2-1.2 1.9-1.1 1.5-1.2 1.2-1.1 0.8-1.2 0.5-1.2 0.2-1.2 -0.1-1.1 -0.4-1.2 -0.6-1.1 -0.9-1.1 -1.1-1 -1.3-1 -1.5-1 -1.7-1 -1.9-0.9 -2-0.9 -2.2-0.9 -2.3-0.8 -2.5-0.8 -2.6-0.8z" fill="#9a6d17"/>
<path d="M569.1 291.3l-2.5-0.6 -2.7-0.6 -2.7-0.5 -2.9-0.5 -3-0.5 -3.1-0.4 -3.2-0.4 -3.3-0.3 -3.5-0.3 -3.5-0.3 -3.6-0.2 -3.6-0.1 -3.7-0.1 -3.8 0 -3.7 0.1 -3.8 0.1 -3.7 0.2 -3.7 0.3 -2.4 0.2 -4.4 0.5 -4.5 0.8 -4.5 1 -4.5 1.1 -4.6 1.3 -4.6 1.5 -1.2 0.6 -1.4 0.9 -1.2 0.9 -0.9 0.9 -0.7 1 -0.4 0.9 -0.2 1 0 0.9 0.3 1 0.5 0.9 0.7 0.9 0.9 0.9 1 0.9 1.3 0.9 1.5 0.9 1.6 0.8 1.9 0.8 2 0.8 2.1 0.8 2.4 0.7 2.5 0.8 2.7 0.6 2.9 0.7 3.1 0.6 3.2 0.6 3.4 0.5 3.5 0.5 3.7 0.4 3.8 0.4 3.9 0.3 4.1 0.2 4.2 0.2 4.2 0.1 4.3 0 4.3 0 4.2-0.2 4.3-0.3 4.1-0.3 4-0.4 3.8-0.5 3.7-0.6 3.4-0.7 3.2-0.7 2.9-0.9 2.6-0.8 2.3-0.9 2-1 1.6-0.9 1.4-1 1-1 0.8-1 0.4-1.1 0.2-1 0-0.9 -0.3-1 -0.5-1 -0.7-0.9 -1-0.9 -1.1-0.9 -1.3-0.9 -1.4-0.8 -1.6-0.8 -1.7-0.8 -1.9-0.7 -2.1-0.8 -2.1-0.6 -2.3-0.7z" fill="#a2641d"/>
<path d="M562.5 290.8l-2.1-0.5 -2.1-0.5 -2.3-0.4 -2.4-0.5 -2.5-0.3 -2.5-0.4 -2.7-0.3 -2.7-0.3 -2.9-0.2 -2.9-0.2 -2.9-0.2 -3.1-0.1 -3 0 -3.2-0.1 -3.1 0.1 -3.1 0.1 -3.1 0.1 -3.1 0.3 -3 0.2 -2.9 0.4 -2.8 0.4 -2.7 0.4 -2.5 0.5 -2.3 0.6 -2.2 0.6 -2 0.6 -1.8 0.7 -1.6 0.7 -1.3 0.7 -1.2 0.7 -0.9 0.8 -0.7 0.7 -0.6 0.8 -0.3 0.8 -0.1 0.7 0.1 0.8 0.2 0.8 0.4 0.7 0.6 0.8 0.8 0.7 0.9 0.7 1.1 0.7 1.2 0.7 1.4 0.7 1.5 0.7 1.7 0.6 1.8 0.6 1.9 0.6 2.1 0.6 2.2 0.5 2.4 0.6 2.4 0.5 2.7 0.4 2.7 0.4 2.9 0.4 3 0.4 3.1 0.3 3.2 0.2 3.3 0.2 3.3 0.1 3.5 0.1 3.4 0 3.5 0 3.5-0.2 3.4-0.2 3.3-0.2 3.3-0.4 3.1-0.4 3-0.5 2.8-0.5 2.6-0.6 2.4-0.6 2.1-0.7 1.9-0.7 1.6-0.8 1.4-0.8 1.2-0.8 0.9-0.8 0.6-0.8 0.4-0.8 0.2-0.8 0-0.8 -0.2-0.8 -0.4-0.8 -0.5-0.7 -0.8-0.8 -0.8-0.7 -1.1-0.7 -1.1-0.7 -1.3-0.7 -1.4-0.6 -1.5-0.6 -1.7-0.6 -1.7-0.6 -1.9-0.5z" fill="#a85c20"/>
<path d="M553.8 290.8l-1.5-0.4 -1.5-0.3 -1.7-0.4 -1.7-0.3 -1.8-0.2 -1.8-0.3 -2-0.2 -1.9-0.2 -2.1-0.2 -2.1-0.2 -2.2-0.1 -2.2 0 -2.2-0.1 -2.2 0 -2.3 0 -2.3 0.1 -2.2 0.1 -2.2 0.2 -2.2 0.2 -2.1 0.2 -2 0.3 -2 0.3 -1.8 0.4 -1.7 0.4 -1.5 0.4 -1.5 0.5 -1.2 0.5 -1.1 0.5 -1 0.5 -0.8 0.5 -0.6 0.6 -0.5 0.5 -0.3 0.6 -0.2 0.5 -0.1 0.6 0.1 0.5 0.2 0.5 0.3 0.6 0.5 0.5 0.6 0.5 0.6 0.5 0.8 0.5 0.9 0.5 1 0.5 1.1 0.4 1.2 0.5 1.3 0.4 1.4 0.4 1.5 0.4 1.6 0.4 1.7 0.4 1.7 0.3 1.9 0.3 1.9 0.3 2.1 0.3 2.1 0.2 2.2 0.2 2.2 0.2 2.4 0.1 2.3 0.1 2.4 0.1 2.5 0 2.4-0.1 2.5-0.1 2.4-0.1 2.3-0.2 2.3-0.2 2.3-0.3 2.1-0.3 2-0.4 1.8-0.4 1.7-0.5 1.5-0.4 1.4-0.5 1.2-0.6 1-0.5 0.9-0.6 0.6-0.5 0.5-0.6 0.4-0.6 0.1-0.5 0.1-0.6 -0.2-0.6 -0.2-0.5 -0.4-0.5 -0.5-0.6 -0.6-0.5 -0.7-0.5 -0.8-0.5 -0.9-0.4 -1-0.5 -1-0.4 -1.2-0.5 -1.3-0.4 -1.3-0.4z" fill="#ac5620"/>
<path d="M535.9 292.9l-0.3-0.1 -0.3 0 -0.4-0.1 -0.3-0.1 -0.4 0 -0.4-0.1 -0.4 0 -0.4-0.1 -0.4 0 -0.5 0 -0.5-0.1 -0.4 0 -0.5 0 -0.5 0 -0.5 0 -0.4 0 -0.5 0.1 -0.5 0 -0.4 0 -0.5 0.1 -0.4 0.1 -0.4 0 -0.4 0.1 -0.3 0.1 -0.4 0.1 -0.2 0.1 -0.3 0.1 -0.2 0.1 -0.2 0.1 -0.2 0.1 -0.1 0.1 -0.1 0.1 0 0.1 -0.1 0.2 0 0.1 0.1 0.1 0 0.1 0.1 0.1 0.1 0.1 0.1 0.1 0.2 0.1 0.2 0.1 0.2 0.1 0.2 0.1 0.2 0.1 0.3 0.1 0.2 0.1 0.3 0 0.3 0.1 0.4 0.1 0.3 0.1 0.4 0 0.3 0.1 0.4 0 0.4 0.1 0.5 0 0.4 0.1 0.5 0 0.4 0 0.5 0.1 0.5 0 0.5 0 0.5 0 0.4-0.1 0.5 0 0.5 0 0.5-0.1 0.4 0 0.4-0.1 0.4 0 0.4-0.1 0.4-0.1 0.3-0.1 0.3-0.1 0.2-0.1 0.3-0.1 0.1-0.1 0.2-0.1 0.1-0.2 0.1-0.1 0-0.1 0.1-0.1 -0.1-0.1 0-0.1 -0.1-0.1 0-0.1 -0.2-0.1 -0.1-0.2 -0.2-0.1 -0.1-0.1 -0.2 0 -0.2-0.1 -0.3-0.1 -0.2-0.1 -0.3-0.1z" fill="#af501d"/>
<path d="M536.7 379.1l-4.8-3.8M538.7 377.4l-2.7-2.2M540.7 375.7l-0.5-0.4" fill="none" stroke="#000" stroke-opacity="0.44" stroke-width="1.0" shape-rendering="crispEdges"/>
<path d="M531.9 375.3l-12.2-9.1 -11.9-8 -11.6-7 -11.3-6 -11.1-5M536 375.2l-12.3-9.3 -12-8.2 -11.8-7.2 -11.4-6.2 -11.2-5.1M540.2 375.3l-12.5-9.6 -12.1-8.4 -11.9-7.4 -11.6-6.3 -11.4-5.3M542.6 374l-12.2-9.4 -11.9-8.3 -11.7-7.3 -11.4-6.3 -11.2-5.3M544.6 372.3l-14.8-11.2 -14.4-9.7 -14-8.1 -13.6-6.8M546.5 370.7l-14.3-10.9 -14-9.4 -13.6-8 -13.3-6.6M548.5 369.1l-13.9-10.5 -13.6-9.1 -13.2-7.9 -12.9-6.5M550.4 367.6l-13.4-10.2 -13.2-8.9 -12.8-7.6 -12.4-6.5M552.4 366.1l-13-9.8 -12.7-8.6 -12.4-7.5 -12.1-6.4M554.3 364.6l-12.5-9.4 -12.2-8.4 -12-7.2 -11.7-6.3M556.2 363.2l-12-9.1 -11.8-8.1 -11.5-7 -11.2-6.1M558.1 361.7l-15.3-11.3 -14.9-9.7 -14.5-8.2M560 360.4l-14.6-10.9 -14.3-9.4 -13.8-7.9M561.9 359l-13.9-10.3 -13.6-9 -13.3-7.7M563.8 357.7l-13.2-9.8 -13-8.6 -12.6-7.5M565.7 356.4l-12.5-9.3 -12.3-8.2 -11.9-7.1M567.6 355.2l-11.8-8.8 -11.5-7.8 -11.3-6.8M569.4 354l-16.4-12 -16-10.1M571.3 352.8l-15.3-11.2 -14.9-9.6M573.2 351.6l-14.2-10.3 -13.8-9M575 350.5l-12.9-9.5 -12.7-8.3M576.9 349.4l-11.8-8.6 -11.4-7.7M578.7 348.4l-10.5-7.8 -10.2-6.9M580.5 347.3l-18.2-13M582.3 346.3l-15.6-11.2M584.2 345.4l-13-9.4M586 344.4l-10.2-7.4M587.8 343.5l-7.4-5.4M589.5 342.7l-4.4-3.4M591.3 341.8l-1.5-1.1" fill="none" stroke="#000" stroke-opacity="0.6" stroke-width="1.0" shape-rendering="crispEdges"/>
<path d="M473.8 340.2l-11.7-4.4 -11.5-3.3 -11-2.2 -10.8-1.2 -10.3-0.2M477.3 339.2l-12.1-4.6 -11.8-3.4 -11.4-2.3 -11-1.3 -10.6-0.2M480.7 338.3l-12.4-4.9 -12.1-3.6 -11.7-2.4 -11.3-1.3 -10.9-0.2M484.2 337.4l-12.8-5.1 -12.4-3.8 -12-2.5 -11.6-1.3 -11.2-0.2M487.8 336.5l-11-4.5 -10.8-3.5 -10.4-2.7 -10.1-1.8 -9.9-0.9 -9.5-0.1M491.3 335.8l-11.3-4.8 -11-3.7 -10.7-2.8 -10.4-1.8 -10.2-1 -9.7-0.1M494.9 335.1l-11.6-5 -11.4-3.9 -11-2.9 -10.7-2 -10.3-1 -10.1-0.1M498.6 334.4l-12-5.2 -11.7-4.1 -11.3-3.1 -10.9-2 -10.7-1 -10.3-0.1M502.2 333.8l-12.3-5.4 -12-4.3 -11.6-3.2 -11.2-2.2 -11-1 -10.5-0.1M505.9 333.3l-12.6-5.7 -12.3-4.5 -12-3.4 -11.5-2.2 -11.2-1.1 -10.8-0.1M509.7 332.9l-13-6 -12.7-4.8 -12.2-3.5 -11.9-2.3 -11.5-1.2 -11.1-0.1M513.4 332.5l-11.4-5.5 -11.2-4.5 -10.9-3.5 -10.6-2.6 -10.4-1.7 -10-0.9 -9.7 0M517.3 332.2l-11.8-5.8 -11.5-4.7 -11.2-3.7 -10.9-2.7 -10.6-1.8 -10.3-0.9 -10 0M521.1 332l-12.1-6.1 -11.8-4.9 -11.5-3.9 -11.2-2.9 -10.9-1.8 -10.5-1 -10.2 0M525 331.8l-12.4-6.3 -12.2-5.2 -11.8-4.1 -11.4-3 -11.2-1.9 -10.8-1 -10.5 0M529 331.8l-12.8-6.7 -12.5-5.4 -12.1-4.3 -11.8-3.2 -11.4-2 -11.1-1 -10.7-0.1M533 331.8l-13.2-7 -12.8-5.7 -12.4-4.5 -12.1-3.3 -11.7-2.2 -11.4-1 -11 0M537 331.9l-11.8-6.5 -11.6-5.5 -11.3-4.4 -11-3.5 -10.7-2.6 -10.4-1.6 -10.1-0.8 -9.9 0M541.1 332l-12.2-6.8 -11.8-5.7 -11.6-4.6 -11.3-3.7 -11-2.7 -10.7-1.7 -10.4-0.9 -10 0.1M545.2 332.3l-12.5-7.1 -12.2-6 -11.8-4.9 -11.6-3.8 -11.3-2.9 -11-1.8 -10.6-0.9 -10.3 0.1M549.4 332.7l-12.8-7.5 -12.5-6.3 -12.2-5.1 -11.9-4 -11.6-3 -11.2-1.9 -10.9-0.9 -10.6 0M553.7 333.1l-13.2-7.8 -12.9-6.6 -12.5-5.4 -12.2-4.2 -11.9-3.1 -11.5-2 -11.2-1 -10.8 0M558 333.7l-13.6-8.2 -13.2-6.9 -12.8-5.7 -12.6-4.4 -12.1-3.3 -11.8-2.1 -11.5-1 -11.1 0M562.3 334.3l-12.4-7.7 -12.1-6.6 -11.8-5.6 -11.5-4.6 -11.3-3.6 -10.9-2.6 -10.7-1.7 -10.4-0.7 -10.1 0M566.7 335.1l-12.7-8.1 -12.4-7 -12.1-5.8 -11.9-4.8 -11.5-3.8 -11.3-2.7 -10.9-1.8 -10.6-0.8 -10.4 0.1M571.2 336l-13-8.5 -12.8-7.3 -12.5-6.2 -12.1-5 -11.9-3.9 -11.5-2.9 -11.2-1.9 -10.9-0.8 -10.6 0M575.8 337l-13.4-8.9 -13.1-7.7 -12.8-6.5 -12.5-5.2 -12.2-4.1 -11.8-3.1 -11.5-1.9 -11.2-0.9 -10.8 0M580.4 338.1l-13.8-9.4 -13.4-8 -13.2-6.8 -12.8-5.5 -12.5-4.3 -12.1-3.2 -11.8-2 -11.4-1 -11.1 0M585.1 339.3l-12.8-8.9 -12.5-7.7 -12.2-6.7 -11.9-5.6 -11.7-4.6 -11.3-3.6 -11.1-2.6 -10.8-1.7 -10.5-0.8 -10.2 0.1M589.8 340.7l-13.1-9.3 -12.8-8.2 -12.5-7 -12.3-5.9 -11.9-4.8 -11.7-3.8 -11.4-2.7 -11-1.8 -10.8-0.8 -10.5 0M593.1 341l-13.3-9.5 -13-8.4 -12.7-7.1 -12.4-6.1 -12.1-4.9 -11.8-3.9 -11.5-2.8 -11.2-1.8 -10.9-0.8 -10.6 0M594.9 340.2l-13.3-9.5 -13-8.3 -12.7-7.2 -12.4-6 -12.1-4.9 -11.8-3.9 -11.5-2.8 -11.2-1.8 -10.9-0.8 -10.6 0.1M596.6 339.5l-13.2-9.5 -13-8.3 -12.7-7.2 -12.4-6 -12.1-4.9 -11.9-3.8 -11.5-2.8 -11.2-1.8 -10.9-0.9 -10.6 0.1M598.4 338.8l-13.3-9.5 -12.9-8.3 -12.7-7.1 -12.4-6 -12.2-4.9 -11.8-3.9 -11.5-2.8 -11.2-1.7 -10.9-0.9 -10.6 0.1M600.1 338.1l-13.2-9.5 -13-8.3 -12.7-7.1 -12.4-6 -12.1-4.8 -11.8-3.9 -11.5-2.8 -11.3-1.7 -10.9-0.9 -10.6 0.1M601.9 337.4l-13.3-9.4 -12.9-8.3 -12.7-7.1 -12.4-6 -12.1-4.8 -11.9-3.8 -11.5-2.8 -11.2-1.8 -10.9-0.8 -10.6 0M603.6 336.8l-13.2-9.4 -13-8.3 -12.7-7.1 -12.4-5.9 -12.1-4.9 -11.8-3.8 -11.5-2.8 -11.3-1.8 -10.9-0.8 -10.6 0.1M605.3 336.2l-13.2-9.4 -13-8.2 -12.6-7.1 -12.4-6 -12.1-4.8 -11.9-3.8 -11.5-2.8 -11.2-1.8 -10.9-0.8 -10.7 0.1M607 335.6l-13.2-9.4 -12.9-8.2 -12.7-7 -12.4-6 -12.1-4.8 -11.8-3.8 -11.6-2.8 -11.2-1.8 -10.9-0.8 -10.6 0.1M608.7 335.1l-13.2-9.4 -12.9-8.2 -12.7-7 -12.4-6 -12.1-4.8 -11.8-3.8 -11.5-2.8 -11.3-1.7 -10.9-0.9 -10.6 0.1M610.4 334.6l-13.2-9.4 -12.9-8.2 -12.7-7 -12.3-5.9 -12.2-4.9 -11.8-3.7 -11.5-2.8 -11.2-1.8 -11-0.8 -10.6 0.1M612.1 334.1l-13.2-9.4 -12.9-8.1 -12.6-7 -12.4-6 -12.1-4.8 -11.9-3.8 -11.5-2.7 -11.2-1.8 -10.9-0.8 -10.7 0.1M613.8 333.6l-13.2-9.3 -12.9-8.1 -12.6-7.1 -12.4-5.9 -12.1-4.8 -11.8-3.7 -11.6-2.8 -11.2-1.8 -10.9-0.8 -10.7 0.1M615.5 333.2l-13.2-9.3 -12.9-8.1 -12.6-7 -12.4-5.9 -12.1-4.8 -11.8-3.8 -11.6-2.8 -11.2-1.7 -10.9-0.8 -10.7 0M617.1 332.8l-13.1-9.3 -12.9-8.1 -12.7-7 -12.3-5.9 -12.1-4.8 -11.8-3.7 -11.6-2.8 -11.2-1.8 -10.9-0.8 -10.7 0.1M618.8 332.4l-13.1-9.2 -12.9-8.2 -12.7-6.9 -12.3-5.9 -12.1-4.8 -11.8-3.8 -11.6-2.7 -11.2-1.8 -11-0.8 -10.6 0.1M620.5 332.1l-13.2-9.3 -12.9-8.1 -12.6-6.9 -12.4-5.9 -12.1-4.8 -11.8-3.7 -11.5-2.8 -11.2-1.7 -11-0.9 -10.6 0.1M622.1 331.8l-13.1-9.3 -12.9-8 -12.6-7 -12.4-5.9 -12.1-4.7 -11.8-3.8 -11.5-2.7 -11.2-1.8 -11-0.8 -10.6 0.1M623.7 331.5l-13.1-9.2 -12.9-8.1 -12.6-7 -12.3-5.8 -12.1-4.8 -11.8-3.7 -11.5-2.8 -11.3-1.7 -10.9-0.8 -10.7 0M625.4 331.2l-13.1-9.2 -12.9-8 -12.6-7 -12.4-5.8 -12-4.8 -11.8-3.7 -11.6-2.8 -11.2-1.7 -10.9-0.9 -10.7 0.1M627 331l-13.1-9.2 -12.9-8 -12.6-7 -12.3-5.8 -12.1-4.8 -11.8-3.7 -11.5-2.7 -11.2-1.8 -11-0.8 -10.7 0M628.6 330.8l-13.1-9.2 -12.8-8 -12.6-6.9 -12.4-5.9 -12-4.7 -11.8-3.8 -11.5-2.7 -11.3-1.8 -10.9-0.8 -10.7 0.1M630.2 330.6l-13.1-9.1 -12.8-8.1 -12.6-6.9 -12.3-5.8 -12.1-4.8 -11.8-3.7 -11.5-2.7 -11.2-1.8 -11-0.8 -10.7 0M631.8 330.5l-13.1-9.2 -12.8-8 -12.6-6.9 -12.3-5.8 -12.1-4.8 -11.7-3.7 -11.6-2.7 -11.2-1.8 -10.9-0.8 -10.7 0M633.4 330.4l-13.1-9.2 -12.8-8 -12.5-6.9 -12.3-5.8 -12.1-4.7 -11.8-3.8 -11.5-2.7 -11.2-1.8 -11-0.8 -10.6 0M635 330.3l-12.8-9 -12.6-7.9 -12.4-6.8 -12.1-5.8 -11.8-4.7 -11.6-3.8 -11.3-2.8 -11.1-1.8 -10.8-1 -10.5-0.1M636.5 330.2l-12.5-8.8 -12.4-7.8 -12.1-6.7 -11.9-5.7 -11.6-4.7 -11.4-3.8 -11.2-2.9 -10.9-1.9 -10.6-1.1 -10.4-0.3M638.1 330.2l-13.7-9.6 -13.4-8.3 -13.1-7 -12.9-5.9 -12.6-4.8 -12.3-3.6 -12-2.5 -11.7-1.5 -11.4-0.5M639.7 330.1l-13.4-9.3 -13.2-8.2 -12.9-7 -12.6-5.8 -12.4-4.7 -12.1-3.7 -11.8-2.6 -11.5-1.6 -11.2-0.7M641.2 330.1l-13.1-9.1 -12.9-8 -12.7-6.9 -12.4-5.8 -12.1-4.8 -11.9-3.7 -11.6-2.7 -11.3-1.7 -11-0.8M642.7 330.2l-12.8-9 -12.6-7.9 -12.4-6.8 -12.2-5.7 -11.9-4.8 -11.6-3.7 -11.4-2.8 -11.2-1.8 -10.8-1M644.3 330.2l-12.6-8.8 -12.3-7.7 -12.2-6.7 -11.9-5.7 -11.7-4.7 -11.4-3.8 -11.2-2.8 -10.9-2 -10.7-1.1M645.8 330.3l-12.3-8.6 -12.1-7.6 -11.8-6.6 -11.7-5.6 -11.4-4.7 -11.2-3.8 -11-2.9 -10.8-2.1 -10.4-1.2M647.3 330.4l-13.5-9.4 -13.2-8.1 -13-7 -12.7-5.9 -12.5-4.7 -12.2-3.6 -11.9-2.6 -11.6-1.6M648.8 330.6l-13.1-9.2 -13-8 -12.7-6.9 -12.4-5.8 -12.2-4.7 -11.9-3.7 -11.7-2.7 -11.4-1.7M650.3 330.7l-12.8-8.9 -12.6-7.9 -12.4-6.8 -12.2-5.7 -11.9-4.7 -11.7-3.8 -11.4-2.7 -11.2-1.9M651.8 330.9l-12.5-8.7 -12.3-7.7 -12.1-6.7 -11.9-5.7 -11.6-4.7 -11.4-3.8 -11.2-2.8 -10.9-2M653.3 331.1l-12.2-8.5 -12-7.5 -11.8-6.6 -11.5-5.6 -11.4-4.7 -11.2-3.8 -10.9-2.9 -10.7-2.1M654.8 331.4l-13.6-9.4 -13.2-8.2 -13.1-7 -12.8-5.9 -12.5-4.7 -12.2-3.6 -12-2.6" fill="none" stroke="#000" stroke-opacity="0.75" stroke-width="1.0" shape-rendering="crispEdges"/>
<path d="M536.7 379.1l4.3-3.8M534.7 377.5l2.6-2.3M532.7 376l0.8-0.7" fill="none" stroke="#000" stroke-opacity="0.44" stroke-width="1.0" shape-rendering="crispEdges"/>
<path d="M541 375.3l13.3-10.7 13-9.2 12.6-7.7 12.3-6.3M537.3 375.2l13.4-11 13.2-9.4 12.7-7.9 12.5-6.4M533.5 375.3l13.6-11.3 13.3-9.7 12.9-8.1 12.6-6.6M530.8 374.4l13.5-11.2 13.1-9.7 12.9-8.1 12.5-6.7M528.8 372.9l13.2-10.9 12.8-9.5 12.6-8 12.2-6.6M526.9 371.4l12.8-10.6 12.5-9.3 12.3-7.9 11.9-6.5M524.9 370l12.5-10.4 12.2-9 11.9-7.8 11.7-6.4M523 368.5l12.1-10 11.9-8.8 11.6-7.6 11.4-6.4M521.1 367.1l11.7-9.7 11.6-8.6 11.3-7.4 11-6.3M519.1 365.8l15.2-12.4 14.8-10.4 14.3-8.5M517.2 364.4l14.7-11.9 14.3-10.2 14-8.3M515.3 363.1l14.2-11.6 13.8-9.8 13.5-8.2M513.4 361.8l13.7-11.1 13.3-9.6 13.1-8M511.5 360.6l13.2-10.8 12.8-9.3 12.6-7.8M509.6 359.3l12.7-10.3 12.3-9 12.2-7.6M507.7 358.1l12.1-9.9 11.9-8.6 11.6-7.4M505.9 356.9l11.5-9.4 11.4-8.3 11.1-7.2M504 355.8l16.4-13.2 16-10.8M502.1 354.6l15.6-12.4 15.3-10.4M500.3 353.5l14.7-11.8 14.4-9.9M498.4 352.4l13.9-11.1 13.6-9.5M496.6 351.4l13-10.5 12.7-9M494.7 350.4l12.1-9.8 11.9-8.5M492.9 349.4l11.2-9.1 11-7.9M491.1 348.4l10.2-8.3 10.1-7.4M489.3 347.4l18.4-14.3M487.5 346.5l16.5-12.9M485.7 345.6l14.5-11.4M483.9 344.7l12.5-9.9M482.1 343.9l10.4-8.4M480.4 343l8.3-6.7M478.6 342.2l6.1-4.9M476.8 341.5l3.9-3.2M475.1 340.7l1.6-1.3" fill="none" stroke="#000" stroke-opacity="0.6" stroke-width="1.0" shape-rendering="crispEdges"/>
<path d="M592.2 341.4l11.2-4.5 11-3.4 10.5-2.2 10.3-1 10 0 9.6 1.1M589.1 340.5l11.4-4.8 11.2-3.5 10.8-2.2 10.4-1.1 10.2 0 9.8 1.1M585.9 339.6l11.7-5 11.4-3.6 11-2.4 10.7-1.1 10.3 0 10 1.1M582.8 338.7l11.9-5.1 11.6-3.8 11.2-2.5 10.9-1.2 10.5 0 10.2 1.2M579.6 337.9l12.2-5.3 11.8-3.9 11.4-2.6 11.1-1.3 10.7 0 10.4 1.2M576.4 337.1l12.4-5.5 12.1-4.1 11.6-2.6 11.3-1.4 11 0 10.5 1.2M573.2 336.4l12.7-5.7 12.2-4.3 11.9-2.8 11.6-1.3 11.1-0.1 10.7 1.2M570 335.7l12.9-5.9 12.5-4.4 12.1-2.9 11.8-1.5 11.3-0.1 10.9 1.2M566.7 335.1l13.2-6.2 12.8-4.6 12.3-3 12-1.5 11.5-0.1 11.2 1.2M563.4 334.5l11.6-5.6 11.2-4.4 11-3.1 10.6-2.1 10.3-0.9 10 0.2 9.7 1.1M560.2 334l11.7-5.8 11.5-4.6 11.1-3.3 10.9-2.1 10.5-1 10.2 0.2 9.8 1.2M556.8 333.5l12-6 11.7-4.7 11.4-3.5 11-2.2 10.7-1 10.4 0.1 10.1 1.2M553.5 333.1l12.2-6.3 11.9-4.9 11.6-3.6 11.3-2.3 10.9-1.1 10.6 0.1 10.2 1.3M550.1 332.7l12.5-6.5 12.2-5.1 11.8-3.7 11.5-2.4 11.1-1.2 10.7 0.1 10.5 1.3M546.8 332.4l12.7-6.7 12.4-5.3 12-3.9 11.7-2.5 11.3-1.2 11 0 10.6 1.3M543.3 332.2l13-7.1 12.7-5.5 12.2-4 12-2.6 11.5-1.3 11.2 0.1 10.8 1.2M539.9 332l13.2-7.3 12.9-5.7 12.5-4.2 12.2-2.8 11.8-1.3 11.3 0 11 1.3M536.4 331.8l11.9-6.7 11.5-5.4 11.3-4.3 11-3.1 10.7-1.9 10.4-0.8 10 0.2 9.8 1.2M533 331.8l12-7 11.8-5.7 11.5-4.4 11.2-3.2 10.9-2 10.6-0.9 10.2 0.2 10 1.2M529.4 331.8l12.3-7.3 12.1-5.9 11.7-4.6 11.4-3.3 11.1-2.2 10.8-0.9 10.4 0.2 10.2 1.2M525.9 331.8l12.5-7.5 12.3-6.1 11.9-4.8 11.7-3.5 11.3-2.2 11-1 10.6 0.1 10.3 1.3M522.3 331.9l12.8-7.8 12.5-6.4 12.2-4.9 11.9-3.7 11.5-2.3 11.2-1.1 10.8 0.2 10.5 1.3M518.7 332.1l13.1-8.1 12.7-6.6 12.4-5.2 12.1-3.8 11.8-2.4 11.4-1.2 11 0.2 10.7 1.3M515.1 332.4l13.3-8.5 13-6.8 12.7-5.4 12.3-4 12-2.5 11.6-1.2 11.2 0.1 10.9 1.3M511.4 332.7l13.6-8.8 13.2-7.1 13-5.6 12.5-4.1 12.2-2.7 11.9-1.3 11.4 0.1 11.1 1.4M507.7 333.1l12.3-8.2 12.1-6.8 11.8-5.6 11.5-4.3 11.2-3.2 11-1.9 10.6-0.9 10.3 0.3 10 1.2M504 333.6l12.5-8.5 12.4-7.1 12-5.8 11.7-4.5 11.5-3.3 11.1-2.1 10.8-0.9 10.6 0.2 10.2 1.3M500.2 334.2l12.8-8.9 12.6-7.4 12.2-6 12-4.7 11.7-3.4 11.3-2.2 11.1-1 10.7 0.2 10.4 1.3M496.4 334.8l13.1-9.2 12.8-7.7 12.5-6.3 12.2-4.9 11.9-3.5 11.6-2.3 11.2-1 10.9 0.2 10.6 1.3M492.5 335.5l13.4-9.5 13-8 12.8-6.5 12.4-5.2 12.2-3.7 11.8-2.4 11.4-1.1 11.2 0.2 10.7 1.3M488.7 336.3l13.6-9.9 13.3-8.3 13-6.8 12.7-5.3 12.4-3.9 12-2.5 11.7-1.2 11.3 0.2 11 1.3M484.7 337.3l12.5-9.4 12.3-8 12-6.7 11.8-5.5 11.5-4.2 11.2-3.1 10.9-1.9 10.6-0.8 10.4 0.2 10 1.3M480.7 338.3l12.8-9.7 12.5-8.4 12.3-7 12-5.7 11.7-4.4 11.4-3.2 11.2-2 10.8-0.9 10.5 0.2 10.2 1.3M476.7 339.4l13-10.1 12.8-8.7 12.5-7.3 12.3-5.9 11.9-4.7 11.7-3.3 11.3-2.1 11.1-0.9 10.7 0.2 10.4 1.3M473.3 340l13.2-10.4 13-8.9 12.7-7.5 12.4-6.1 12.1-4.7 11.8-3.5 11.5-2.2 11.2-1 10.9 0.2 10.6 1.4M471.6 339.3l13.2-10.4 12.9-8.9 12.7-7.4 12.4-6.1 12.1-4.8 11.9-3.4 11.5-2.2 11.2-1 10.9 0.2 10.5 1.4M469.9 338.6l13.2-10.3 12.9-8.9 12.7-7.5 12.4-6 12.1-4.8 11.8-3.4 11.5-2.2 11.2-1 10.9 0.2 10.6 1.4M468.1 338l13.2-10.3 13-8.9 12.6-7.5 12.4-6 12.1-4.8 11.9-3.4 11.5-2.2 11.2-0.9 10.9 0.2 10.6 1.3M466.4 337.3l13.2-10.3 12.9-8.8 12.7-7.4 12.4-6.1 12.1-4.7 11.8-3.4 11.6-2.2 11.2-1 10.9 0.2 10.5 1.4M464.7 336.7l13.2-10.2 12.9-8.9 12.7-7.4 12.4-6 12.1-4.8 11.8-3.4 11.5-2.1 11.2-1 10.9 0.2 10.6 1.3M463 336.1l13.2-10.2 12.9-8.8 12.7-7.4 12.3-6.1 12.2-4.7 11.8-3.4 11.5-2.1 11.2-1 10.9 0.2 10.6 1.3M461.3 335.6l13.2-10.3 12.9-8.7 12.6-7.4 12.4-6.1 12.1-4.7 11.9-3.4 11.5-2.1 11.2-1 10.9 0.2 10.6 1.3M459.6 335l13.2-10.2 12.9-8.7 12.6-7.4 12.4-6 12.1-4.7 11.8-3.4 11.6-2.2 11.2-0.9 10.9 0.2 10.6 1.3M458 334.5l13.1-10.2 12.9-8.7 12.6-7.4 12.4-6 12.1-4.7 11.8-3.4 11.6-2.1 11.2-1 10.9 0.2 10.6 1.3M456.3 334l13.1-10.1 12.9-8.8 12.6-7.3 12.4-6 12.1-4.7 11.8-3.4 11.6-2.1 11.2-1 10.9 0.2 10.6 1.3M454.6 333.6l13.1-10.2 12.9-8.7 12.7-7.4 12.3-5.9 12.1-4.7 11.8-3.4 11.6-2.1 11.2-1 10.9 0.2 10.6 1.3M453 333.1l13.1-10.1 12.9-8.7 12.6-7.4 12.3-5.9 12.1-4.7 11.9-3.4 11.5-2.1 11.2-1 10.9 0.2 10.7 1.3M451.3 332.7l13.1-10.1 12.9-8.7 12.6-7.3 12.4-6 12.1-4.7 11.8-3.3 11.5-2.2 11.2-0.9 11 0.2 10.6 1.3M449.7 332.3l13.1-10.1 12.8-8.7 12.6-7.3 12.4-5.9 12.1-4.7 11.8-3.4 11.5-2.1 11.3-0.9 10.9 0.1 10.6 1.3M448.1 331.9l13-10 12.9-8.7 12.6-7.3 12.3-6 12.1-4.6 11.8-3.4 11.6-2.1 11.2-1 10.9 0.2 10.7 1.3M446.4 331.6l13.1-10.1 12.8-8.6 12.6-7.3 12.4-6 12.1-4.6 11.8-3.4 11.5-2.1 11.2-1 11 0.2 10.6 1.3M444.8 331.3l12.9-10 12.7-8.6 12.5-7.2 12.2-5.9 12-4.7 11.7-3.4 11.4-2.2 11.2-1 10.8 0.1 10.6 1.2M443.2 330.9l12.8-9.8 12.5-8.5 12.4-7.2 12.1-5.9 11.8-4.6 11.6-3.4 11.3-2.3 11.1-1.1 10.7 0 10.5 1M441.6 330.7l12.6-9.8 12.4-8.4 12.2-7.1 12-5.9 11.7-4.6 11.5-3.5 11.2-2.3 10.9-1.2 10.7-0.1 10.4 0.9M440 330.4l12.5-9.6 12.2-8.3 12.1-7.1 11.8-5.8 11.6-4.7 11.4-3.5 11.1-2.3 10.8-1.3 10.6-0.2 10.3 0.8M438.4 330.2l13.7-10.5 13.4-8.9 13.2-7.4 12.9-6 12.6-4.5 12.3-3.2 12-1.8 11.7-0.6 11.4 0.7M436.9 329.9l13.4-10.3 13.3-8.8 13-7.4 12.8-5.9 12.4-4.6 12.2-3.2 11.9-1.9 11.6-0.6 11.3 0.5M435.3 329.7l13.3-10.2 13.1-8.7 12.8-7.3 12.6-5.9 12.4-4.6 12-3.2 11.8-2 11.5-0.8 11.1 0.4M433.7 329.6l13.2-10.1 12.9-8.6 12.7-7.3 12.4-5.9 12.2-4.6 11.9-3.3 11.7-2 11.3-0.9 11.1 0.3M432.2 329.4l12.9-9.9 12.8-8.6 12.5-7.2 12.3-5.8 12.1-4.6 11.8-3.4 11.5-2.1 11.2-1 11 0.2M430.6 329.3l12.8-9.8 12.6-8.5 12.4-7.1 12.1-5.9 11.9-4.6 11.7-3.3 11.4-2.2 11.1-1.1 10.8 0M429.1 329.2l12.6-9.7 12.4-8.4 12.2-7 12-5.9 11.8-4.6 11.5-3.4 11.2-2.3 11-1.1 10.8-0.1M427.5 329.1l12.5-9.6 12.2-8.2 12.1-7 11.8-5.8 11.6-4.6 11.4-3.5 11.1-2.3 10.9-1.3 10.6-0.2M426 329l12.3-9.4 12-8.2 11.9-6.9 11.7-5.8 11.4-4.6 11.3-3.5 11-2.4 10.7-1.3 10.5-0.4M424.5 328.9l13.6-10.3 13.3-8.8 13.1-7.3 12.9-5.9 12.6-4.5 12.3-3.2 12-1.8 11.7-0.6M423 328.9l13.3-10.2 13.2-8.7 12.9-7.3 12.7-5.8 12.4-4.6 12.1-3.2 11.9-1.9 11.6-0.7M421.5 328.9l13.1-10 13-8.6 12.7-7.2 12.5-5.9 12.3-4.5 11.9-3.3 11.8-2 11.4-0.8M420 328.9l12.9-9.9 12.8-8.5 12.5-7.1 12.3-5.8 12.1-4.6 11.8-3.3 11.6-2.1 11.3-1M418.5 328.9l12.7-9.7 12.6-8.4 12.3-7 12.2-5.9 11.9-4.5 11.6-3.4 11.4-2.2 11.2-1.1" fill="none" stroke="#000" stroke-opacity="0.75" stroke-width="1.0" shape-rendering="crispEdges"/>
<path d="M537.1 379.8l6.1-5.3 6.1-5 6-4.6 5.9-4.4 5.8-4 5.8-3.7 5.7-3.4 5.6-3.1 5.6-2.8 5.5-2.5 5.4-2.3" fill="none" stroke="#dcdc00" stroke-width="0.8"/>
<path d="M418.5 328.9l3.2-2.5 3.2-2.5 3.2-2.4 3.2-2.3 3.2-2.3 3.2-2.1 3.1-2.1 3.2-2 3.1-1.9 3.1-1.8 3.1-1.7 3.1-1.7 3.1-1.6 3.1-1.5 3-1.4 3.1-1.3 3-1.3 3-1.2 3-1.1 2.9-1 3-0.9 2.9-0.9 3-0.8 2.9-0.7 2.9-0.7 2.9-0.5 2.8-0.5 2.9-0.5 2.8-0.3 2.8-0.3 2.8-0.2 2.8-0.2 2.7-0.1 2.7-0.1 2.7 0 2.7 0 2.7 0 2.7 0.1 2.7 0.1 2.7 0.1 2.7 0.1 2.7 0.2 2.7 0.2 2.8 0.3 2.7 0.3 2.7 0.3 2.7 0.3 2.7 0.4 2.8 0.4 2.7 0.5 2.8 0.4 2.8 0.6 2.8 0.6 2.9 0.6 2.9 0.8 2.8 0.7 3 0.9 2.9 0.9 2.9 0.9 3 1.1 2.9 1 3 1.2 3 1.2 3 1.3 3 1.3 3.1 1.4 3 1.5 3.1 1.5 3.1 1.6 3.1 1.7 3.1 1.7 3.1 1.8 3.2 1.9 3.1 1.9 3.2 2 3.2 2.1 3.2 2.1 3.2 2.2 3.2 2.3 3.3 2.4 0 0 -2.5-0.4 -2.6-0.3 -2.5-0.3 -2.6-0.1 -2.6-0.1 -2.7-0.1 -2.6 0.1 -2.7 0.1 -2.7 0.2 -2.7 0.3 -2.7 0.4 -2.8 0.4 -2.8 0.5 -2.8 0.6 -2.9 0.7 -2.8 0.8 -2.9 0.8 -2.9 1 -2.9 1 -3 1.1 -2.9 1.2 -3 1.2 -3.1 0.5 -3.2-1 -3.3-0.8 -3.2-0.9 -3.2-0.8 -3.2-0.8 -3.2-0.8 -3.2-0.6 -3.2-0.5 -3.2-0.6 -3.2-0.5 -3.2-0.5 -3.2-0.3 -3.2-0.4 -3.1-0.2 -3.2-0.2 -3.2-0.2 -3.2-0.3 -3.2 0.1 -3.2-0.1 -3.1 0.1 -3.2 0 -3.2 0.1 -3.2 0.3 -3.1 0.2 -3.2 0.4 -3.2 0.2 -3.1 0.5 -3.2 0.5 -3.2 0.4 -3.1 0.5 -3.2 0.7 -3.2 0.7 -3.1 0.6 -3.2 0.9 -3.2 0.8 -3.1 0.9 -3.2 0.6 -2.9-1.2 -2.9-1.1 -2.9-1 -2.9-1 -2.9-0.9 -2.8-0.9 -2.9-0.7 -2.7-0.7 -2.8-0.7 -2.8-0.5 -2.7-0.6 -2.7-0.4 -2.7-0.4 -2.7-0.3 -2.6-0.3 -2.6-0.2 -2.6-0.1 -2.6-0.1 -2.6 0 -2.5 0z" fill="#000" fill-opacity="0.12"/>
<path d="M418.5 328.9l3.2-2.5 3.2-2.5 3.2-2.4 3.2-2.3 3.2-2.3 3.2-2.1 3.1-2.1 3.2-2 3.1-1.9 3.1-1.8 3.1-1.7 3.1-1.7 3.1-1.6 3.1-1.5 3-1.4 3.1-1.3 3-1.3 3-1.2 3-1.1 2.9-1 3-0.9 2.9-0.9 3-0.8 2.9-0.7 2.9-0.7 2.9-0.5 2.8-0.5 2.9-0.5 2.8-0.3 2.8-0.3 2.8-0.2 2.8-0.2 2.7-0.1 2.7-0.1 2.7 0 2.7 0 2.7 0 2.7 0.1 2.7 0.1 2.7 0.1 2.7 0.1 2.7 0.2 2.7 0.2 2.8 0.3 2.7 0.3 2.7 0.3 2.7 0.3 2.7 0.4 2.8 0.4 2.7 0.5 2.8 0.4 2.8 0.6 2.8 0.6 2.9 0.6 2.9 0.8 2.8 0.7 3 0.9 2.9 0.9 2.9 0.9 3 1.1 2.9 1 3 1.2 3 1.2 3 1.3 3 1.3 3.1 1.4 3 1.5 3.1 1.5 3.1 1.6 3.1 1.7 3.1 1.7 3.1 1.8 3.2 1.9 3.1 1.9 3.2 2 3.2 2.1 3.2 2.1 3.2 2.2 3.2 2.3 3.3 2.4 0 0 -2.5-0.4 -2.6-0.3 -2.5-0.3 -2.6-0.1 -2.6-0.1 -2.7-0.1 -2.6 0.1 -2.7 0.1 -2.7 0.2 -2.7 0.3 -2.7 0.4 -2.8 0.4 -2.8 0.5 -2.8 0.6 -2.9 0.7 -2.9-0.1 -3.2-1.2 -3.1-1.2 -3.2-1.1 -3.1-1.2 -3.2-1 -3.1-1.1 -3.1-0.9 -3.2-0.9 -3.1-0.8 -3.1-0.9 -3.2-0.7 -3.1-0.7 -3.1-0.7 -3.1-0.6 -3.1-0.7 -3.2-0.5 -3.1-0.5 -3.1-0.3 -3.1-0.4 -3.1-0.4 -3.1-0.2 -3.1-0.3 -3.1-0.2 -3.1-0.2 -3.1 0 -3.1-0.2 -3.1 0.1 -3.1 0 -3.1 0.1 -3.1 0.3 -3 0.1 -3.1 0.2 -3.1 0.3 -3.1 0.3 -3.1 0.4 -3.1 0.5 -3 0.4 -3.1 0.6 -3.1 0.5 -3.1 0.6 -3.1 0.7 -3 0.7 -3.1 0.8 -3.1 0.8 -3.1 0.9 -3 0.8 -3.1 1 -3.1 1 -3.1 1.1 -3 1.1 -3.1 1.1 -3.1 1.3 -2.8-0.3 -2.8-0.5 -2.7-0.6 -2.7-0.4 -2.7-0.4 -2.7-0.3 -2.6-0.3 -2.6-0.2 -2.6-0.1 -2.6-0.1 -2.6 0 -2.5 0z" fill="#000" fill-opacity="0.5"/>
<path d="M418.5 328.9l3.2-2.5 3.2-2.5 3.2-2.4 3.2-2.3 3.2-2.3 3.2-2.1 3.1-2.1 3.2-2 3.1-1.9 3.1-1.8 3.1-1.7 3.1-1.7 3.1-1.6 3.1-1.5 3-1.4 3.1-1.3 3-1.3 3-1.2 3-1.1 2.9-1 3-0.9 2.9-0.9 3-0.8 2.9-0.7 2.9-0.7 2.9-0.5 2.8-0.5 2.9-0.5 2.8-0.3 2.8-0.3 2.8-0.2 2.8-0.2 2.7-0.1 2.7-0.1 2.7 0 2.7 0 2.7 0 2.7 0.1 2.7 0.1 2.7 0.1 2.7 0.1 2.7 0.2 2.7 0.2 2.8 0.3 2.7 0.3 2.7 0.3 2.7 0.3 2.7 0.4 2.8 0.4 2.7 0.5 2.8 0.4 2.8 0.6 2.8 0.6 2.9 0.6 2.9 0.8 2.8 0.7 3 0.9 2.9 0.9 2.9 0.9 3 1.1 2.9 1 3 1.2 3 1.2 3 1.3 3 1.3 3.1 1.4 3 1.5 3.1 1.5 3.1 1.6 3.1 1.7 3.1 1.7 3.1 1.8 3.2 1.9 3.1 1.9 3.2 2 3.2 2.1 3.2 2.1 3.2 2.2 3.2 2.3 3.3 2.4 0 0 -2.5-0.4 -2.6-0.3 -2.5-0.3 -2.6-0.1 -2.6-0.1 -2.7-0.1 -2.6 0.1 -2.9-0.8 -3.1-1.5 -3-1.5 -3.1-1.4 -3.1-1.3 -3-1.3 -3.1-1.3 -3.1-1.3 -3-1.2 -3.1-1.1 -3-1.1 -3.1-1 -3-1.1 -3-0.9 -3.1-1 -3-0.9 -3.1-0.8 -3-0.8 -3-0.8 -3-0.6 -3.1-0.7 -3-0.7 -3-0.5 -3-0.5 -3-0.5 -3.1-0.5 -3-0.4 -3-0.5 -3-0.2 -3-0.3 -3-0.2 -3-0.2 -3-0.2 -3-0.1 -3-0.2 -3 0.1 -3-0.1 -3 0.2 -3 0 -3 0.2 -2.9 0.2 -3 0.2 -3 0.3 -3 0.3 -3 0.3 -3 0.4 -2.9 0.4 -3 0.5 -3 0.5 -3 0.6 -2.9 0.6 -3 0.6 -3 0.8 -3 0.7 -2.9 0.7 -3 0.8 -3 1 -2.9 0.8 -3 1 -3 1 -2.9 1 -3 1.1 -3 1.1 -2.9 1.2 -3 1.2 -3 1.3 -2.9 1.3 -3 1.3 -2.9 1.4 -3 1.4 -3 1.5 -2.6 0.2 -2.5 0z" fill="#000" fill-opacity="0.85" stroke="#000" stroke-width="1.2" stroke-linejoin="round"/>
<ellipse cx="536.4" cy="291.9" rx="1.7" ry="2.2" fill="#c8481a"/><ellipse cx="536.4" cy="296.4" rx="1.7" ry="2.2" fill="#bd4214"/>
<text transform="translate(418.5,390.4) scale(0.896,1.089)" font-size="6.2" text-anchor="end" font-family="Liberation Sans,sans-serif" fill="#2b2b2b">0</text>
<text transform="translate(417.2,368.4) scale(0.896,1.089)" font-size="6.2" text-anchor="end" font-family="Liberation Sans,sans-serif" fill="#2b2b2b">0.01</text>
<text transform="translate(416,346.3) scale(0.896,1.089)" font-size="6.2" text-anchor="end" font-family="Liberation Sans,sans-serif" fill="#2b2b2b">0.02</text>
<text transform="translate(414.8,324.2) scale(0.896,1.089)" font-size="6.2" text-anchor="end" font-family="Liberation Sans,sans-serif" fill="#2b2b2b">0.03</text>
<text transform="translate(413.5,302.1) scale(0.896,1.089)" font-size="6.2" text-anchor="end" font-family="Liberation Sans,sans-serif" fill="#2b2b2b">0.04</text>
<text transform="translate(412.3,280.1) scale(0.896,1.089)" font-size="6.2" text-anchor="end" font-family="Liberation Sans,sans-serif" fill="#2b2b2b">0.05</text>
<text transform="translate(539,484.5) scale(0.896,1.089)" font-size="6.2" text-anchor="start" font-family="Liberation Sans,sans-serif" fill="#2b2b2b">25</text>
<text transform="translate(561.6,474.6) scale(0.896,1.089)" font-size="6.2" text-anchor="start" font-family="Liberation Sans,sans-serif" fill="#2b2b2b">30</text>
<text transform="translate(584.1,464.6) scale(0.896,1.089)" font-size="6.2" text-anchor="start" font-family="Liberation Sans,sans-serif" fill="#2b2b2b">35</text>
<text transform="translate(606.7,454.6) scale(0.896,1.089)" font-size="6.2" text-anchor="start" font-family="Liberation Sans,sans-serif" fill="#2b2b2b">40</text>
<text transform="translate(629.2,444.6) scale(0.896,1.089)" font-size="6.2" text-anchor="start" font-family="Liberation Sans,sans-serif" fill="#2b2b2b">45</text>
<text transform="translate(651.8,434.7) scale(0.896,1.089)" font-size="6.2" text-anchor="start" font-family="Liberation Sans,sans-serif" fill="#2b2b2b">50</text>
<text transform="translate(533.8,483.4) scale(0.896,1.089)" font-size="6.2" text-anchor="end" font-family="Liberation Sans,sans-serif" fill="#2b2b2b">48</text>
<text transform="translate(519.7,477.2) scale(0.896,1.089)" font-size="6.2" text-anchor="end" font-family="Liberation Sans,sans-serif" fill="#2b2b2b">57</text>
<text transform="translate(505.7,471) scale(0.896,1.089)" font-size="6.2" text-anchor="end" font-family="Liberation Sans,sans-serif" fill="#2b2b2b">66</text>
<text transform="translate(491.6,464.7) scale(0.896,1.089)" font-size="6.2" text-anchor="end" font-family="Liberation Sans,sans-serif" fill="#2b2b2b">75</text>
<text transform="translate(477.5,458.5) scale(0.896,1.089)" font-size="6.2" text-anchor="end" font-family="Liberation Sans,sans-serif" fill="#2b2b2b">84</text>
<text transform="translate(463.4,452.3) scale(0.896,1.089)" font-size="6.2" text-anchor="end" font-family="Liberation Sans,sans-serif" fill="#2b2b2b">93</text>
<text transform="translate(449.3,446) scale(0.896,1.089)" font-size="6.2" text-anchor="end" font-family="Liberation Sans,sans-serif" fill="#2b2b2b">102</text>
<text transform="translate(435.2,439.8) scale(0.896,1.089)" font-size="6.2" text-anchor="end" font-family="Liberation Sans,sans-serif" fill="#2b2b2b">111</text>
<text transform="translate(421.1,433.6) scale(0.896,1.089)" font-size="6.2" text-anchor="end" font-family="Liberation Sans,sans-serif" fill="#2b2b2b">120</text>
<text transform="translate(396.4,477.2) scale(0.896,1.089)" font-size="9.2" text-anchor="start" font-family="Liberation Sans,sans-serif" fill="#1c1c1c">C: Incubation Time (h)</text>
<text transform="translate(591,477.2) scale(0.896,1.089)" font-size="9.2" text-anchor="start" font-family="Liberation Sans,sans-serif" fill="#1c1c1c">B: Incubation Temp. (<tspan dx="1.6">°C</tspan><tspan dx="1.6">)</tspan></text>
<text transform="translate(393,353.5) scale(0.896,1.089) rotate(-90)" font-size="11.1" text-anchor="middle" font-family="Liberation Serif,serif" fill="#111">Tannin acyl hydrolase</text>
<text x="380.3" y="274.7" font-size="16.5" font-weight="bold" font-family="Liberation Serif,serif" fill="#000">d</text></g>
<g id="pe"><path d="M40.4,632.7L146.4,603.2L252.4,632.7M39.3,614.4L146.4,586.8L253.6,614.4M38.2,596.1L146.4,570.3L254.7,596.1M37,577.9L146.4,553.9L255.8,577.9M35.9,559.6L146.4,537.4L257,559.6M34.7,541.4L146.4,520.9L258.1,541.4M42.2,661L34.7,541.4M61.6,626.8L57.1,537.3M82.8,620.9L79.4,533.2M104,615L101.8,529.1M125.2,609.1L124.1,525M146.4,628.7L146.4,520.9M250.6,661L258.1,541.4M225.9,625.3L230.2,536.3M199.4,617.9L202.3,531.2M172.9,610.6L174.3,526.1" fill="none" stroke="#151515" stroke-width="1.05"/>
<polygon points="42.2,661 146.4,702.2 250.6,661 146.4,628.7" fill="#ffff00" stroke="#444" stroke-width="0.7"/>
<path d="M132.6 695.9l6.9 0.2 6.9 0.2 7 0.1 7.1-0.1" fill="none" stroke="#7dff1a" stroke-width="0.8"/>
<path d="M111.1 687.7l5.5 0.5 5.7 0.5 5.7 0.4 5.8 0.3 5.8 0.2 5.9 0.1 6 0.1 6 0 6-0.2 6.1-0.2 6.1-0.3" fill="none" stroke="#a0ff30" stroke-width="0.8"/>
<clipPath id="fle"><polygon points="42.2,661 146.4,702.2 250.6,661 146.4,628.7"/></clipPath>
<ellipse cx="144.85" cy="655.5" rx="45.45" ry="11.9" fill="none" stroke="#ffa01e" stroke-width="0.9" clip-path="url(#fle)"/>
<path d="M146.4,702.2l1,1.4M167.3,694l1,1.4M188.1,685.7l1,1.4M209,677.5l1,1.4M229.8,669.2l1,1.4M250.6,661l1,1.4M146.4,702.2l-1,1.4M120.4,691.9l-1,1.4M94.3,681.6l-1,1.4M68.3,671.3l-1,1.4M42.2,661l-1,1.4M40.4,632.7l-1.5,-0.5M39.3,614.4l-1.5,-0.5M38.2,596.1l-1.5,-0.5M37,577.9l-1.5,-0.5M35.9,559.6l-1.5,-0.5M34.7,541.4l-1.5,-0.5" fill="none" stroke="#222" stroke-width="0.9"/>
<path d="M146.4 629.8l5-4.2 4.9-4 4.8-3.8 4.8-3.6 4.8-3.4 4.7-3.3 4.7-3 4.6-2.9 4.6-2.7 4.5-2.5 4.5-2.3 4.4-2.2 4.4-1.9 4.4-1.8 4.2-1.7 4.3-1.4 4.2-1.3 4.1-1.2 4.1-1 4-0.8 4-0.6 3.9-0.5 3.9-0.4 3.8-0.2 3.8 0 -4.8-2.8 -4.8-2.7 -4.8-2.5 -4.7-2.4 -4.6-2.3 -4.7-2.1 -4.6-1.9 -4.6-1.9 -4.5-1.7 -4.5-1.5 -4.4-1.5 -4.5-1.3 -4.3-1.2 -4.4-1 -4.3-1 -4.2-0.8 -4.3-0.7 -4.2-0.6 -4.1-0.4 -4.1-0.4 -4.1-0.2 -4-0.1 -4 0 -4 0.1 -3.9 0.2 -3.9-0.6 -3.9-0.4 -4-0.3 -4.1-0.2 -4 0 -4.2 0.1 -4.1 0.2 -4.2 0.4 -4.2 0.5 -4.3 0.6 -4.3 0.8 -4.4 1 -4.4 1.1 -4.4 1.2 -4.5 1.4 -4.5 1.6 -4.5 1.7 -4.6 1.8 -4.6 2 -4.6 2.2 -4.7 2.4 -4.7 2.5 -4.8 2.7 -4.7 2.8 -4.8 3 3.8 0.5 3.8 0.5 3.9 0.7 3.9 0.8 4 1 4.1 1 4.1 1.3 4.1 1.3 4.2 1.5 4.2 1.6 4.3 1.8 4.4 2 4.3 2 4.5 2.2 4.5 2.4 4.5 2.5 4.6 2.7 4.6 2.8 4.7 3 4.7 3.2 4.7 3.3 4.8 3.5 4.9 3.6 4.9 3.8z" fill="#05b200"/>
<path d="M37 576.9l3.7 0.4 3.8 0.6 3.8 0.7 3.9 0.8 3.9 0.9 4 1 4 1.2 4.1 1.4 4.1 1.4 4.2 1.6 4.2 1.7 4.3 1.9 4.3 2 4.4 2.2 4.4 2.3 4.4 2.4 4.5 2.6 4.6 2.8 4.6 2.9 4.6 3 4.7 3.3 4.7 3.3 4.8 3.6 4.8 3.6 4.8 3.9 3.4 0.1 4.9-4.1 4.8-3.9 4.8-3.7 4.7-3.5 4.7-3.4 4.7-3.1 4.6-3 4.5-2.8 4.5-2.6 4.5-2.4 4.4-2.3 4.4-2.1 4.3-1.9 4.3-1.8 4.2-1.6 4.2-1.4 4.1-1.3 4.1-1.1 4-0.9 4-0.8 3.9-0.7 3.9-0.4 3.8-0.4 3.7-0.2 3.8 0 -4.7-2.7 -4.6-2.6 -4.5-2.4 -4.6-2.4 -4.4-2.1 -4.5-2.1 -4.5-1.9 -4.4-1.8 -4.3-1.7 -4.4-1.5 -4.3-1.5 -4.2-1.3 -4.2-1.2 -4.2-1.1 -4.2-1 -4.1-0.8 -4.1-0.8 -4.1-0.6 -4-0.5 -4-0.4 -3.9-0.3 -3.9-0.2 -3.9-0.1 -3.8 0 -3.8 0.1 -3.8 0.2 -3.7-0.6 -3.8-0.4 -3.9-0.3 -3.8-0.2 -3.9 0 -4 0 -4 0.2 -4 0.3 -4.1 0.5 -4.1 0.6 -4.1 0.7 -4.2 0.8 -4.2 1 -4.2 1.1 -4.3 1.3 -4.3 1.4 -4.3 1.5 -4.4 1.7 -4.4 1.9 -4.5 1.9 -4.4 2.2 -4.5 2.3 -4.6 2.4 -4.5 2.6 -4.6 2.7z" fill="#07b400"/>
<path d="M37 576.9l3.7 0.4 3.8 0.6 3.9 0.7 3.9 0.8 4 0.9 4 1.1 4 1.2 4.1 1.3 4.2 1.5 4.2 1.6 4.2 1.8 4.3 1.9 4.4 2 4.4 2.2 4.4 2.3 4.5 2.5 4.5 2.6 4.6 2.8 4.6 2.9 4.7 3.1 4.7 3.3 4.7 3.4 4.9 3.6 4.8 3.7 8.4 0.2 2.9 0 4.9-4 4.8-3.8 4.8-3.6 4.8-3.4 4.7-3.2 4.6-3 4.6-2.9 4.6-2.6 4.5-2.5 4.5-2.3 4.4-2.2 4.3-1.9 4.4-1.8 4.2-1.6 4.2-1.5 4.2-1.3 4.1-1.1 4.1-1 4-0.8 3.9-0.6 3.9-0.5 3.9-0.4 3.8-0.2 3.8 0 -4.7-2.7 -4.6-2.6 -4.5-2.4 -4.6-2.4 -4.4-2.1 -4.5-2.1 -4.5-1.9 -4.4-1.8 -4.3-1.7 -4.4-1.5 -4.3-1.5 -4.2-1.3 -4.2-1.2 -4.2-1.1 -4.2-1 -4.1-0.8 -4.1-0.8 -4.1-0.6 -4-0.5 -4-0.4 -3.9-0.3 -3.9-0.2 -3.9-0.1 -3.8 0 -3.8 0.1 -3.8 0.2 -3.7-0.6 -3.8-0.4 -3.9-0.3 -3.8-0.2 -3.9 0 -4 0 -4 0.2 -4 0.3 -4.1 0.5 -4.1 0.6 -4.1 0.7 -4.2 0.8 -4.2 1 -4.2 1.1 -4.3 1.3 -4.3 1.4 -4.3 1.5 -4.4 1.7 -4.4 1.9 -4.5 1.9 -4.4 2.2 -4.5 2.3 -4.6 2.4 -4.5 2.6 -4.6 2.7z" fill="#09b700"/>
<path d="M37 576.9l3.7 0.5 3.9 0.5 3.8 0.7 4 0.8 4 0.9 4 1.1 4.1 1.2 4.1 1.4 4.1 1.5 4.3 1.6 4.2 1.7 4.3 2 4.4 2 4.4 2.2 4.5 2.4 4.5 2.5 4.5 2.6 4.6 2.8 4.7 3 4.7 3.1 4.7 3.3 4.8 3.4 4.8 3.6 3 0.2 9.6 0.1 7.1 0 4.7-3.7 4.6-3.5 4.6-3.3 4.6-3.2 4.5-3 4.4-2.8 4.5-2.6 4.3-2.5 4.4-2.3 4.3-2.2 4.2-2 4.2-1.8 4.1-1.6 4.1-1.5 4.1-1.4 4-1.2 4-1.1 3.9-0.9 3.9-0.7 3.8-0.6 3.7-0.5 3.8-0.3 3.6-0.2 3.7 0 -4.7-2.7 -4.6-2.6 -4.5-2.4 -4.6-2.4 -4.4-2.1 -4.5-2.1 -4.5-1.9 -4.4-1.8 -4.3-1.7 -4.4-1.5 -4.3-1.5 -4.2-1.3 -4.2-1.2 -4.2-1.1 -4.2-1 -4.1-0.8 -4.1-0.8 -4.1-0.6 -4-0.5 -4-0.4 -3.9-0.3 -3.9-0.2 -3.9-0.1 -3.8 0 -3.8 0.1 -3.8 0.2 -3.7-0.6 -3.8-0.4 -3.9-0.3 -3.8-0.2 -3.9 0 -4 0 -4 0.2 -4 0.3 -4.1 0.5 -4.1 0.6 -4.1 0.7 -4.2 0.8 -4.2 1 -4.2 1.1 -4.3 1.3 -4.3 1.4 -4.3 1.5 -4.4 1.7 -4.4 1.9 -4.5 1.9 -4.4 2.2 -4.5 2.3 -4.6 2.4 -4.5 2.6 -4.6 2.7z" fill="#0bb900"/>
<path d="M37 576.9l3.8 0.5 3.8 0.5 3.9 0.7 3.9 0.8 4 1 4 1 4.1 1.3 4.2 1.3 4.2 1.5 4.2 1.6 4.3 1.8 4.3 1.9 4.4 2.1 4.4 2.2 4.5 2.4 4.5 2.5 4.6 2.7 4.6 2.8 4.6 3 4.8 3.1 4.7 3.3 4.8 3.5 7.5 0.2 9.3 0.2 9.3 0 2.2 0 4.7-3.6 4.6-3.4 4.6-3.2 4.5-3 4.5-2.8 4.5-2.7 4.4-2.5 4.3-2.3 4.4-2.2 4.2-2 4.2-1.9 4.2-1.7 4.1-1.5 4.1-1.3 4-1.3 4-1 4-0.9 3.9-0.8 3.8-0.6 3.8-0.5 3.7-0.3 3.7-0.2 3.7 0 -4.7-2.7 -4.6-2.6 -4.5-2.4 -4.6-2.4 -4.4-2.1 -4.5-2.1 -4.5-1.9 -4.4-1.8 -4.3-1.7 -4.4-1.5 -4.3-1.5 -4.2-1.3 -4.2-1.2 -4.2-1.1 -4.2-1 -4.1-0.8 -4.1-0.8 -4.1-0.6 -4-0.5 -4-0.4 -3.9-0.3 -3.9-0.2 -3.9-0.1 -3.8 0 -3.8 0.1 -3.8 0.2 -3.7-0.6 -3.8-0.4 -3.9-0.3 -3.8-0.2 -3.9 0 -4 0 -4 0.2 -4 0.3 -4.1 0.5 -4.1 0.6 -4.1 0.7 -4.2 0.8 -4.2 1 -4.2 1.1 -4.3 1.3 -4.3 1.4 -4.3 1.5 -4.4 1.7 -4.4 1.9 -4.5 1.9 -4.4 2.2 -4.5 2.3 -4.6 2.4 -4.5 2.6 -4.6 2.7z" fill="#0dbc00"/>
<path d="M37 576.9l3.8 0.5 3.8 0.5 3.9 0.7 3.9 0.8 4 1 4 1 4.1 1.3 4.2 1.3 4.2 1.5 4.2 1.6 4.3 1.8 4.3 1.9 4.4 2.1 4.4 2.2 4.5 2.4 4.5 2.5 4.6 2.7 4.6 2.8 4.6 3 4.8 3.1 4.7 3.3 3.5 0.2 8.9 0.3 8.9 0.1 9 0 7.2-0.1 4.6-3.4 4.6-3.2 4.6-3 4.5-2.9 4.5-2.7 4.4-2.5 4.3-2.3 4.4-2.2 4.3-2.1 4.2-1.8 4.2-1.7 4.1-1.5 4.1-1.4 4.1-1.2 3.9-1.1 4-0.9 3.9-0.8 3.8-0.6 3.8-0.5 3.8-0.3 3.7-0.2 3.7 0 -4.7-2.7 -4.6-2.6 -4.5-2.4 -4.6-2.4 -4.4-2.1 -4.5-2.1 -4.5-1.9 -4.4-1.8 -4.3-1.7 -4.4-1.5 -4.3-1.5 -4.2-1.3 -4.2-1.2 -4.2-1.1 -4.2-1 -4.1-0.8 -4.1-0.8 -4.1-0.6 -4-0.5 -4-0.4 -3.9-0.3 -3.9-0.2 -3.9-0.1 -3.8 0 -3.8 0.1 -3.8 0.2 -3.7-0.6 -3.8-0.4 -3.9-0.3 -3.8-0.2 -3.9 0 -4 0 -4 0.2 -4 0.3 -4.1 0.5 -4.1 0.6 -4.1 0.7 -4.2 0.8 -4.2 1 -4.2 1.1 -4.3 1.3 -4.3 1.4 -4.3 1.5 -4.4 1.7 -4.4 1.9 -4.5 1.9 -4.4 2.2 -4.5 2.3 -4.6 2.4 -4.5 2.6 -4.6 2.7z" fill="#0fbe00"/>
<path d="M37 576.9l3.7 0.5 3.9 0.5 3.8 0.7 4 0.8 4 0.9 4 1.1 4 1.2 4.2 1.4 4.1 1.5 4.3 1.6 4.2 1.7 4.3 2 4.4 2 4.4 2.2 4.5 2.4 4.5 2.5 4.5 2.6 4.6 2.8 4.7 3 4.7 3.1 0.5 0 8.4 0.4 8.5 0.3 8.6 0.1 8.7 0.1 8.8-0.1 3.6-0.2 4.6-3.2 4.6-3 4.5-2.9 4.5-2.7 4.4-2.5 4.4-2.4 4.3-2.1 4.3-2.1 4.2-1.8 4.2-1.7 4.1-1.5 4.1-1.4 4.1-1.2 4-1.1 3.9-0.9 3.9-0.8 3.8-0.6 3.9-0.5 3.7-0.3 3.7-0.2 3.7 0 -4.7-2.7 -4.6-2.6 -4.5-2.4 -4.6-2.4 -4.4-2.1 -4.5-2.1 -4.5-1.9 -4.4-1.8 -4.3-1.7 -4.4-1.5 -4.3-1.5 -4.2-1.3 -4.2-1.2 -4.2-1.1 -4.2-1 -4.1-0.8 -4.1-0.8 -4.1-0.6 -4-0.5 -4-0.4 -3.9-0.3 -3.9-0.2 -3.9-0.1 -3.8 0 -3.8 0.1 -3.8 0.2 -3.7-0.6 -3.8-0.4 -3.9-0.3 -3.8-0.2 -3.9 0 -4 0 -4 0.2 -4 0.3 -4.1 0.5 -4.1 0.6 -4.1 0.7 -4.2 0.8 -4.2 1 -4.2 1.1 -4.3 1.3 -4.3 1.4 -4.3 1.5 -4.4 1.7 -4.4 1.9 -4.5 1.9 -4.4 2.2 -4.5 2.3 -4.6 2.4 -4.5 2.6 -4.6 2.7z" fill="#1ac000"/>
<path d="M37 576.9l3.7 0.4 3.8 0.6 3.8 0.7 3.9 0.8 4 0.9 4 1.1 4 1.1 4.1 1.4 4.1 1.4 4.2 1.6 4.2 1.8 4.3 1.8 4.3 2.1 4.4 2.1 4.4 2.4 4.5 2.4 4.5 2.6 4.5 2.8 4.6 2.9 6.7 0.4 8 0.3 8.2 0.3 8.3 0.1 8.4 0.1 8.4-0.1 8.5-0.3 1.1 0 4.5-3 4.5-2.9 4.4-2.6 4.4-2.5 4.4-2.4 4.3-2.1 4.3-2 4.2-1.9 4.2-1.7 4.1-1.5 4.1-1.4 4-1.2 4-1 3.9-0.9 3.9-0.8 3.8-0.6 3.8-0.5 3.7-0.3 3.7-0.2 3.7 0 -4.7-2.7 -4.6-2.6 -4.5-2.4 -4.6-2.4 -4.4-2.1 -4.5-2.1 -4.5-1.9 -4.4-1.8 -4.3-1.7 -4.4-1.5 -4.3-1.5 -4.2-1.3 -4.2-1.2 -4.2-1.1 -4.2-1 -4.1-0.8 -4.1-0.8 -4.1-0.6 -4-0.5 -4-0.4 -3.9-0.3 -3.9-0.2 -3.9-0.1 -3.8 0 -3.8 0.1 -3.8 0.2 -3.7-0.6 -3.8-0.4 -3.9-0.3 -3.8-0.2 -3.9 0 -4 0 -4 0.2 -4 0.3 -4.1 0.5 -4.1 0.6 -4.1 0.7 -4.2 0.8 -4.2 1 -4.2 1.1 -4.3 1.3 -4.3 1.4 -4.3 1.5 -4.4 1.7 -4.4 1.9 -4.5 1.9 -4.4 2.2 -4.5 2.3 -4.6 2.4 -4.5 2.6 -4.6 2.7z" fill="#2ec100"/>
<path d="M37 576.9l3.7 0.4 3.7 0.6 3.8 0.6 3.8 0.8 3.9 0.9 3.9 1 3.9 1.2 4.1 1.3 4 1.4 4.1 1.6 4.2 1.7 4.2 1.8 4.2 1.9 4.3 2.1 4.3 2.3 4.4 2.4 4.4 2.5 4.5 2.7 5.7 0.4 7.6 0.4 7.7 0.4 7.9 0.2 7.9 0.1 8 0 8.1-0.1 8.2-0.2 7.8-0.3 4.4-2.8 4.4-2.6 4.3-2.4 4.3-2.3 4.3-2.1 4.2-2 4.2-1.8 4.1-1.6 4.1-1.5 4-1.4 4-1.2 3.9-1 3.9-0.9 3.9-0.7 3.8-0.6 3.7-0.5 3.7-0.3 3.7-0.2 3.6 0 -4.7-2.7 -4.6-2.6 -4.5-2.4 -4.6-2.4 -4.4-2.1 -4.5-2.1 -4.5-1.9 -4.4-1.8 -4.3-1.7 -4.4-1.5 -4.3-1.5 -4.2-1.3 -4.2-1.2 -4.2-1.1 -4.2-1 -4.1-0.8 -4.1-0.8 -4.1-0.6 -4-0.5 -4-0.4 -3.9-0.3 -3.9-0.2 -3.9-0.1 -3.8 0 -3.8 0.1 -3.8 0.2 -3.7-0.6 -3.8-0.4 -3.9-0.3 -3.8-0.2 -3.9 0 -4 0 -4 0.2 -4 0.3 -4.1 0.5 -4.1 0.6 -4.1 0.7 -4.2 0.8 -4.2 1 -4.2 1.1 -4.3 1.3 -4.3 1.4 -4.3 1.5 -4.4 1.7 -4.4 1.9 -4.5 1.9 -4.4 2.2 -4.5 2.3 -4.6 2.4 -4.5 2.6 -4.6 2.7z" fill="#42c200"/>
<path d="M37 576.9l3.5 0.4 3.7 0.5 3.6 0.7 3.8 0.7 3.7 0.9 3.8 1 3.9 1.1 3.9 1.2 3.9 1.4 4 1.4 4 1.6 4.1 1.8 4.1 1.8 4.1 2 4.2 2.1 4.3 2.3 4.3 2.4 6 0.5 7.2 0.5 7.3 0.4 7.4 0.3 7.5 0.3 7.6 0.1 7.7 0 7.7-0.1 7.8-0.2 7.8-0.3 7.4-0.4 4.5-2.7 4.5-2.4 4.5-2.3 4.4-2.2 4.3-1.9 4.3-1.8 4.3-1.6 4.1-1.4 4.2-1.3 4.1-1.1 4-1 4-0.8 4-0.6 3.9-0.5 3.8-0.4 3.8-0.2 3.8 0 -4.7-2.7 -4.6-2.6 -4.5-2.4 -4.6-2.4 -4.4-2.1 -4.5-2.1 -4.5-1.9 -4.4-1.8 -4.3-1.7 -4.4-1.5 -4.3-1.5 -4.2-1.3 -4.2-1.2 -4.2-1.1 -4.2-1 -4.1-0.8 -4.1-0.8 -4.1-0.6 -4-0.5 -4-0.4 -3.9-0.3 -3.9-0.2 -3.9-0.1 -3.8 0 -3.8 0.1 -3.8 0.2 -3.7-0.6 -3.8-0.4 -3.9-0.3 -3.8-0.2 -3.9 0 -4 0 -4 0.2 -4 0.3 -4.1 0.5 -4.1 0.6 -4.1 0.7 -4.2 0.8 -4.2 1 -4.2 1.1 -4.3 1.3 -4.3 1.4 -4.3 1.5 -4.4 1.7 -4.4 1.9 -4.5 1.9 -4.4 2.2 -4.5 2.3 -4.6 2.4 -4.5 2.6 -4.6 2.7z" fill="#56c300"/>
<path d="M37 576.9l3.6 0.4 3.7 0.6 3.7 0.6 3.8 0.8 3.8 0.9 3.9 1 3.9 1.1 4 1.3 4 1.3 4 1.6 4.1 1.6 4.1 1.8 4.2 1.9 4.2 2.1 4.3 2.1 1.8 0.3 6.6 0.6 6.7 0.5 6.8 0.5 6.9 0.4 7.1 0.3 7.1 0.2 7.3 0.1 7.3 0 7.4 0 7.4-0.2 7.4-0.3 7.4-0.4 7.4-0.6 1.3-0.1 4.3-2.3 4.3-2.1 4.2-2 4.2-1.8 4.1-1.7 4.1-1.5 4-1.3 4-1.2 3.9-1 3.9-0.9 3.8-0.8 3.8-0.6 3.8-0.5 3.7-0.3 3.6-0.2 3.6 0 0-0.2 -4.7-2.8 -4.8-2.6 -4.7-2.5 -4.7-2.4 -4.7-2.2 -4.6-2.1 -4.6-2 -4.6-1.8 -4.5-1.7 -4.5-1.6 -4.4-1.4 -4.5-1.3 -4.3-1.2 -4.4-1.1 -4.3-0.9 -4.2-0.8 -4.2-0.7 -4.2-0.6 -4.2-0.4 -4.1-0.4 -4-0.2 -4-0.1 -4 0 -4 0.1 -3.9 0.2 -3.7-0.6 -3.8-0.4 -3.9-0.3 -3.8-0.2 -3.9 0 -4 0 -4 0.2 -4 0.3 -4.1 0.5 -4.1 0.6 -4.1 0.7 -4.2 0.8 -4.2 1 -4.2 1.1 -4.3 1.3 -4.3 1.4 -4.3 1.5 -4.4 1.7 -4.4 1.9 -4.5 1.9 -4.4 2.2 -4.5 2.3 -4.6 2.4 -4.5 2.6 -4.6 2.7z" fill="#69c200"/>
<path d="M37 576.9l3.6 0.4 3.6 0.5 3.7 0.7 3.7 0.7 3.7 0.9 3.9 1 3.8 1.1 3.9 1.2 3.9 1.4 4 1.4 4.1 1.6 4 1.8 4.1 1.8 1.2 0.2 6 0.8 6 0.6 6.3 0.6 6.3 0.5 6.5 0.5 6.6 0.3 6.7 0.3 6.8 0.2 6.8 0.1 7 0 7 0 7-0.2 7.1-0.3 7-0.4 7-0.5 6.9-0.6 5.5-0.6 4.3-2 4.1-1.8 4.2-1.7 4.1-1.5 4-1.3 4-1.2 3.9-1 3.9-0.9 3.9-0.8 3.8-0.6 3.7-0.5 3.7-0.3 0.2-0.2 1.4-1.7 0.5-1.5 -4.8-2.6 -4.7-2.5 -4.7-2.3 -4.6-2.3 -4.6-2 -4.6-2 -4.5-1.8 -4.5-1.7 -4.5-1.5 -4.4-1.5 -4.4-1.3 -4.4-1.1 -4.3-1.1 -4.3-0.9 -4.2-0.8 -4.2-0.7 -4.2-0.6 -4.1-0.4 -4.1-0.4 -4.1-0.2 -4-0.1 -4 0 -3.9 0.1 -3.9 0.2 -3.7-0.6 -3.8-0.4 -3.9-0.3 -3.8-0.2 -3.9 0 -4 0 -4 0.2 -4 0.3 -4.1 0.5 -4.1 0.6 -4.1 0.7 -4.2 0.8 -4.2 1 -4.2 1.1 -4.3 1.3 -4.3 1.4 -4.3 1.5 -4.4 1.7 -4.4 1.9 -4.5 1.9 -4.4 2.2 -4.5 2.3 -4.6 2.4 -4.5 2.6 -4.6 2.7z" fill="#7cc000"/>
<path d="M41 574.4l0.4 0.4 2.3 1.5 2.8 1.4 2.1 0.9 3.9 0.8 4 1 4 1 4 1.2 4.1 1.4 4.1 1.4 2.6 0.6 5.1 0.9 5.3 0.8 5.4 0.8 5.6 0.7 5.8 0.6 5.8 0.5 6 0.5 6.2 0.4 6.2 0.4 6.3 0.2 6.4 0.2 6.5 0.1 6.5 0 6.6-0.1 6.7-0.1 6.6-0.3 6.7-0.3 6.6-0.5 6.5-0.6 6.4-0.7 6.2-0.8 5.9-0.9 3.3-0.6 3.9-1.4 3.8-1.3 3.8-1.1 3.7-1 3.7-0.8 3.6-0.8 1.7-0.8 2.7-1.5 2-1.7 1.3-1.7 0.7-1.7 0-0.6 -4.7-2.4 -4.6-2.3 -4.6-2.2 -4.6-2 -4.5-2 -4.5-1.7 -4.5-1.7 -4.4-1.5 -4.4-1.4 -4.4-1.3 -4.3-1.1 -4.3-1.1 -4.2-0.9 -4.2-0.8 -4.2-0.7 -4.1-0.5 -4.1-0.5 -4.1-0.3 -4-0.2 -4-0.1 -3.9 0 -3.9 0.1 -3.9 0.2 -3.8-0.6 -3.8-0.4 -3.8-0.3 -3.9-0.2 -4 0 -3.9 0 -4 0.2 -4.1 0.4 -4.1 0.4 -4.1 0.6 -4.1 0.7 -4.2 0.9 -4.3 1 -4.2 1.1 -4.3 1.3 -4.4 1.4 -4.3 1.6 -4.4 1.7 -4.5 1.8 -4.4 2.1 -4.5 2.1 -4.6 2.3 -4.5 2.5 -4.6 2.6z" fill="#8ebd00"/>
<path d="M45.8 571.5l1.3 1.1 2.3 1.3 2.6 1.4 3 1.3 3.4 1.2 3.6 1.2 4 1.1 4.2 1 4.4 1 4.6 0.9 4.8 0.8 5 0.8 5.1 0.7 5.3 0.6 5.4 0.6 5.5 0.5 5.6 0.4 5.8 0.4 5.8 0.3 5.9 0.3 6 0.1 6.1 0.1 6.2 0 6.1 0 6.3-0.2 6.2-0.2 6.2-0.4 6.2-0.4 6.1-0.5 6-0.6 5.9-0.8 5.6-0.8 5.3-1 5.1-1 4.6-1.2 4.2-1.3 3.7-1.3 3.1-1.4 2.5-1.5 2-1.5 1.3-1.6 0.6-1.6 0.1-1.6 -0.1 0 -4.5-2.2 -4.6-2.2 -4.5-1.9 -4.4-1.9 -4.5-1.7 -4.4-1.6 -4.3-1.5 -4.3-1.4 -4.3-1.2 -4.3-1.1 -4.2-1 -4.2-0.9 -4.1-0.8 -4.2-0.6 -4-0.6 -4.1-0.4 -4-0.3 -3.9-0.2 -3.9-0.1 -3.9 0 -3.9 0.1 -3.8 0.2 -3.7-0.6 -3.9-0.4 -3.8-0.3 -3.9-0.2 -3.9 0 -4 0 -4 0.2 -4 0.3 -4.1 0.5 -4.1 0.6 -4.1 0.7 -4.2 0.9 -4.2 0.9 -4.3 1.2 -4.3 1.2 -4.3 1.5 -4.4 1.5 -4.4 1.7 -4.4 1.9 -4.4 2 -4.5 2.1 -4.5 2.3 -4.6 2.5z" fill="#9cb600"/>
<path d="M147.7 548.3l-2.2-0.1 -3.9-0.5 -3.9-0.4 -4-0.3 -4-0.1 -4 0 -4.1 0.1 -4.1 0.2 -4.2 0.4 -4.2 0.6 -4.2 0.6 -4.3 0.8 -4.3 1 -4.4 1.1 -4.4 1.3 -4.4 1.4 -4.5 1.5 -4.5 1.7 -4.5 1.9 -4.6 2 -4.6 2.2 -4.6 2.3 -4.7 2.5 0.5 0.5 1.7 1.3 2.1 1.3 2.5 1.2 2.8 1.2 3.2 1.1 3.4 1.1 3.7 1 4 1 4.1 0.9 4.3 0.8 4.5 0.8 4.7 0.7 4.7 0.6 4.9 0.6 5.1 0.5 5.1 0.5 5.2 0.4 5.4 0.3 5.4 0.3 5.5 0.2 5.6 0.2 5.6 0.1 5.7 0 5.8-0.1 5.8-0.1 5.8-0.2 5.8-0.3 5.7-0.4 5.7-0.5 5.6-0.6 5.4-0.7 5.3-0.7 5-0.9 4.7-1 4.3-1.1 4-1.1 3.4-1.2 3-1.4 2.4-1.3 1.8-1.4 1.3-1.5 0.7-1.4 0-1.5 -0.4-1.3 -4.6-2.1 -4.5-1.9 -4.5-1.8 -4.4-1.7 -4.4-1.6 -4.4-1.4 -4.4-1.3 -4.3-1.2 -4.2-1 -4.3-1 -4.2-0.8 -4.1-0.7 -4.1-0.6 -4.1-0.4 -4.1-0.4 -4-0.3 -3.9-0.1 -4 0 -3.9 0z" fill="#a4ab00"/>
<path d="M154.4 548.1l-0.9-0.1 -4.3-0.2 -4.3-0.1 -4.3-0.1 -3.8-0.4 -3.9-0.2 -3.9-0.1 -3.9 0 -4 0.1 -4 0.3 -4.1 0.4 -4.1 0.5 -4.2 0.7 -4.1 0.7 -4.2 1 -4.3 1 -4.3 1.3 -4.3 1.3 -4.3 1.5 -4.4 1.6 -4.4 1.8 -4.5 2 -4.5 2.1 -4.5 2.2 0.2 0.2 1.1 1.2 1.6 1.2 2 1.2 2.3 1.1 2.7 1.1 3 1.1 3.2 0.9 3.4 1 3.7 0.8 3.8 0.8 4 0.8 4.1 0.7 4.3 0.6 4.4 0.6 4.6 0.5 4.6 0.5 4.7 0.4 4.8 0.4 4.9 0.3 5 0.3 5.1 0.2 5.1 0.1 5.2 0.1 5.3 0 5.2-0.1 5.4-0.1 5.3-0.2 5.3-0.3 5.3-0.3 5.3-0.5 5.1-0.5 5-0.6 4.9-0.7 4.6-0.8 4.4-0.9 4-0.9 3.6-1.1 3.3-1.1 2.7-1.2 2.3-1.3 1.8-1.2 1.2-1.4 0.6-1.3 0.1-1.3 -0.4-1.3 -0.8-1.3 -0.3-0.3 -4.3-1.7 -4.4-1.7 -4.3-1.5 -4.2-1.5 -4.2-1.3 -4.2-1.2 -4.2-1.1 -4.1-0.9 -4.1-0.9 -4.1-0.7 -4-0.6 -4-0.6 -3.9-0.4 -3.9-0.3 -3.9-0.2 -3.9-0.1z" fill="#ab9f00"/>
<path d="M163.3 548.2l-3.2-0.2 -3.9-0.2 -3.8-0.2 -3.9-0.2 -4-0.1 -3.9-0.1 -4.1-0.1 -1.5 0 -3.9-0.2 -4 0 -4 0 -4 0.2 -4 0.4 -4.1 0.4 -4.2 0.6 -4.1 0.7 -4.2 0.9 -4.3 1 -4.3 1.1 -4.3 1.3 -4.3 1.5 -4.4 1.5 -4.4 1.8 -4.4 1.8 -4.5 2 0 0.3 0.8 1.1 1.1 1.2 1.5 1.1 1.8 1 2.2 1 2.4 1 2.7 0.9 3 0.9 3.1 0.8 3.4 0.8 3.5 0.7 3.6 0.7 3.8 0.6 3.9 0.6 4 0.5 4.1 0.5 4.2 0.4 4.3 0.4 4.4 0.3 4.4 0.3 4.5 0.2 4.6 0.2 4.7 0.1 4.7 0.1 4.7 0 4.8-0.1 4.8-0.1 4.9-0.1 4.8-0.3 4.8-0.3 4.8-0.4 4.6-0.5 4.6-0.5 4.4-0.6 4.2-0.8 4-0.7 3.7-0.9 3.3-1 3-1 2.5-1 2.1-1.1 1.7-1.2 1.1-1.2 0.7-1.2 0.1-1.2 -0.3-1.2 -0.8-1.1 -1.1-1.2 -1.6-1.1 -0.2-0.1 -4.4-1.5 -4.4-1.5 -4.3-1.3 -4.3-1.2 -4.3-1 -4.3-1 -4.2-0.8 -4.1-0.7 -4.2-0.6 -4.1-0.4 -4-0.4z" fill="#a38d08"/>
<path d="M179.4 549.9l-1.5-0.2 -3.2-0.5 -3.2-0.4 -3.3-0.3 -3.3-0.3 -3.4-0.3 -3.4-0.3 -3.5-0.2 -3.4-0.2 -3.6-0.1 -3.5-0.2 -3.6 0 -3.6-0.1 -3.7 0 -3.7 0 -1.5 0.1 -3.9 0 -3.8 0.2 -3.9 0.2 -3.9 0.4 -3.9 0.5 -4 0.7 -4 0.7 -4.1 0.9 -4.1 1.1 -4.1 1.1 -4.1 1.3 -4.2 1.4 -4.2 1.6 -4.2 1.6 -0.1 0.8 0.3 1.1 0.7 1 1 1 1.4 0.9 1.6 0.9 2 0.9 2.2 0.9 2.5 0.8 2.6 0.8 2.8 0.7 3 0.7 3.1 0.6 3.3 0.6 3.4 0.5 3.4 0.5 3.6 0.5 3.7 0.4 3.7 0.4 3.8 0.3 3.9 0.3 3.9 0.2 4 0.2 4.1 0.2 4.1 0.1 4.2 0 4.2 0.1 4.2-0.1 4.3-0.1 4.3-0.1 4.3-0.2 4.3-0.3 4.2-0.4 4.1-0.4 4.1-0.4 3.9-0.6 3.8-0.6 3.5-0.7 3.3-0.8 3-0.8 2.7-0.9 2.3-0.9 1.9-1 1.5-1 1.1-1.1 0.6-1 0.2-1.1 -0.3-1 -0.6-1.1 -1-1 -1.4-0.9 -1.6-1 -1.9-0.9 -2.2-0.8 -2.4-0.8 -1.6-0.5 -3.5-0.9 -3.5-0.8 -3.4-0.7 -3.4-0.6z" fill="#9a7a10"/>
<path d="M175.8 549.6l-2.8-0.4 -2.7-0.4 -2.9-0.3 -2.8-0.3 -2.9-0.3 -3-0.3 -2.9-0.2 -3-0.2 -3.1-0.1 -3-0.2 -3.1-0.1 -3.2 0 -3.1-0.1 -3.2 0 -3.2 0 -3.3 0.1 -3.3 0.1 -3.3 0.1 -2.9 0.2 -3.9 0.3 -3.8 0.5 -3.9 0.6 -3.9 0.7 -4 0.8 -4 0.9 -4 1.1 -4.1 1.1 -4 1.4 -0.6 0.4 -0.7 0.9 -0.4 0.8 -0.1 0.9 0.3 0.9 0.7 0.9 0.9 0.8 1.2 0.8 1.5 0.8 1.7 0.8 2 0.7 2.1 0.7 2.3 0.6 2.4 0.6 2.6 0.6 2.7 0.6 2.9 0.4 2.9 0.5 3 0.4 3 0.4 3.2 0.4 3.2 0.3 3.2 0.3 3.4 0.2 3.3 0.2 3.5 0.2 3.5 0.1 3.5 0.1 3.6 0 3.6 0 3.6 0 3.7-0.1 3.6-0.1 3.7-0.2 3.7-0.2 3.6-0.3 3.5-0.3 3.5-0.4 3.4-0.5 3.3-0.5 3-0.6 2.9-0.7 2.6-0.7 2.3-0.7 2.1-0.8 1.6-0.8 1.4-0.9 0.9-0.9 0.6-0.9 0.2-0.9 -0.2-0.9 -0.5-0.9 -0.8-0.8 -1.1-0.9 -1.4-0.8 -1.7-0.8 -1.8-0.7 -2.1-0.7 -2.1-0.6 -2.4-0.6 -2.4-0.6 -2.5-0.5 -2.6-0.5z" fill="#9a6d17"/>
<path d="M169.3 549.3l-2.2-0.3 -2.3-0.3 -2.3-0.3 -2.3-0.3 -2.4-0.2 -2.4-0.2 -2.4-0.2 -2.5-0.2 -2.5-0.1 -2.5-0.1 -2.6-0.1 -2.5-0.1 -2.6 0 -2.7 0 -2.6 0 -2.7 0.1 -2.7 0.1 -2.7 0.1 -2.7 0.1 -2.7 0.2 -2.7 0.3 -2.7 0.2 -2.6 0.3 -2.5 0.4 -2.5 0.4 -2.3 0.4 -2.2 0.5 -2.1 0.5 -1.8 0.6 -1.6 0.6 -1.4 0.6 -1.1 0.7 -0.9 0.7 -0.5 0.7 -0.3 0.7 0 0.7 0.3 0.7 0.5 0.7 0.8 0.7 1.1 0.6 1.2 0.7 1.4 0.6 1.6 0.5 1.8 0.6 1.8 0.5 2.1 0.5 2.1 0.5 2.2 0.4 2.2 0.4 2.4 0.3 2.4 0.4 2.5 0.3 2.5 0.2 2.6 0.3 2.7 0.2 2.6 0.2 2.8 0.2 2.7 0.1 2.8 0.1 2.9 0.1 2.8 0 2.9 0 2.9 0 3-0.1 2.9-0.1 3-0.1 2.9-0.2 3-0.2 2.8-0.3 2.9-0.3 2.7-0.4 2.6-0.4 2.5-0.5 2.4-0.5 2.1-0.5 1.9-0.6 1.7-0.6 1.4-0.7 1.1-0.7 0.8-0.7 0.5-0.7 0.2-0.8 -0.1-0.7 -0.3-0.7 -0.7-0.7 -0.9-0.7 -1.1-0.6 -1.3-0.7 -1.4-0.5 -1.7-0.6 -1.7-0.5 -1.9-0.5 -2-0.5 -2-0.4 -2.2-0.4z" fill="#a2641d"/>
<path d="M160.7 549.4l-1.5-0.2 -1.6-0.2 -1.7-0.2 -1.6-0.2 -1.7-0.2 -1.7-0.1 -1.7-0.1 -1.8-0.2 -1.7-0.1 -1.8 0 -1.8-0.1 -1.8 0 -1.9-0.1 -1.8 0 -1.9 0.1 -1.9 0 -1.9 0.1 -1.9 0 -1.9 0.1 -1.9 0.2 -1.9 0.1 -1.9 0.2 -1.8 0.2 -1.8 0.3 -1.8 0.3 -1.6 0.3 -1.5 0.3 -1.4 0.4 -1.3 0.4 -1.1 0.4 -1 0.5 -0.7 0.4 -0.6 0.5 -0.3 0.5 -0.2 0.5 0.1 0.5 0.2 0.5 0.4 0.4 0.6 0.5 0.8 0.5 0.9 0.4 1 0.4 1.1 0.4 1.2 0.4 1.4 0.3 1.4 0.4 1.5 0.3 1.5 0.2 1.6 0.3 1.6 0.3 1.7 0.2 1.7 0.2 1.8 0.2 1.7 0.1 1.9 0.2 1.8 0.1 1.9 0.1 1.9 0.1 1.9 0.1 1.9 0 2 0 2 0.1 2-0.1 2 0 2.1-0.1 2-0.1 2-0.1 2.1-0.1 1.9-0.2 2-0.2 1.9-0.3 1.8-0.3 1.8-0.3 1.6-0.3 1.5-0.4 1.3-0.4 1.2-0.4 1-0.5 0.8-0.5 0.6-0.4 0.4-0.5 0.2-0.5 0-0.5 -0.2-0.5 -0.4-0.5 -0.6-0.5 -0.8-0.4 -0.8-0.5 -1-0.4 -1.2-0.4 -1.2-0.3 -1.3-0.4 -1.3-0.3 -1.5-0.3 -1.5-0.3z" fill="#a85c20"/>
<path d="M146.4 629.8l-12-9.3 -11.7-8.4 -11.4-7.5M148.2 628.3l-11.4-8.9 -11.1-8 -10.9-7.2M150.1 626.7l-10.8-8.4 -10.6-7.6 -10.4-6.8M151.9 625.2l-15.3-11.6 -14.8-10M153.7 623.7l-14.4-10.9 -13.9-9.5M155.5 622.3l-13.4-10.2 -13.1-9M157.3 620.8l-12.5-9.4 -12.2-8.4M159.1 619.4l-11.6-8.7 -11.3-7.8M160.8 618.1l-10.6-8 -10.3-7.2M162.6 616.7l-9.6-7.2 -9.5-6.6M164.4 615.4l-17.1-12.5M166.1 614.1l-15.1-11.1M167.9 612.8l-13.1-9.6M169.7 611.5l-11.1-8.1M171.4 610.3l-9-6.6M173.1 609.1l-6.8-5.1M174.9 607.9l-4.8-3.5M176.6 606.8l-2.5-1.9M178.3 605.6l-0.3-0.2" fill="none" stroke="#000" stroke-opacity="0.31" stroke-width="1.0" shape-rendering="crispEdges"/>
<path d="M111.3 604.6l-12.4-7.2 -12.1-6.1 -11.7-4.9M114.8 604.2l-12.5-7.3 -12.2-6.2 -11.8-5.1M118.3 603.9l-12.6-7.5 -12.3-6.3 -11.8-5.2M121.8 603.6l-12.7-7.6 -12.3-6.4 -12-5.3M125.4 603.3l-12.8-7.7 -12.5-6.5 -12-5.4M129 603.1l-12.9-7.8 -12.6-6.7 -12.2-5.5M132.6 603l-13-8 -12.7-6.8 -12.3-5.7M136.2 602.9l-13.1-8.2 -12.8-6.9 -12.3-5.8M139.9 602.9l-13.3-8.4 -12.8-7 -12.5-6M143.5 602.9l-13.3-8.5 -12.9-7.2 -12.7-6.1M147.3 602.9l-13.5-8.6 -13.1-7.4 -12.7-6.2M151 603l-13.6-8.8 -13.2-7.5 -12.8-6.3M154.8 603.2l-13.7-9 -13.3-7.7 -13-6.5M158.6 603.4l-13.8-9.1 -13.5-7.9 -13-6.6M162.4 603.7l-13.9-9.4 -13.6-8 -13.2-6.8M166.3 604l-14.1-9.5 -13.7-8.2 -13.3-7M170.1 604.4l-10.6-7.4 -10.5-6.7 -10.3-5.9 -10-5.2M174.1 604.9l-10.8-7.6 -10.6-6.8 -10.3-6.1 -10.2-5.3M178 605.4l-10.9-7.7 -10.6-7 -10.5-6.2 -10.2-5.5M180 604.5l-13.9-9.7 -13.6-8.5 -13.2-7.3M181.7 603.5l-13.2-9.3 -13-8.1 -12.6-7M183.4 602.4l-12.5-8.8 -12.4-7.7 -12-6.8M185.1 601.4l-11.9-8.3 -11.6-7.4 -11.4-6.4M186.8 600.4l-11.2-7.8 -11-7 -10.8-6.2M188.5 599.4l-10.5-7.3 -10.4-6.6 -10.1-5.8M190.2 598.4l-14.7-9.9 -14.3-8.6M191.8 597.5l-13.6-9.2 -13.3-8M193.5 596.6l-12.5-8.5 -12.3-7.5M195.2 595.7l-11.5-7.7 -11.2-6.9M196.8 594.9l-10.3-7 -10.2-6.3M198.4 594l-9.2-6.2 -9-5.7M200.1 593.2l-16.1-10.5M201.7 592.4l-13.8-9M203.3 591.7l-11.4-7.6M204.9 590.9l-9.1-6M206.6 590.2l-6.8-4.5M208.2 589.5l-4.4-2.9M209.7 588.9l-1.8-1.3" fill="none" stroke="#000" stroke-opacity="0.44" stroke-width="1.0" shape-rendering="crispEdges"/>
<path d="M75.1 586.4l-9.3-3.3 -9-2.7 -8.9-1.9M78.3 585.6l-9.3-3.3 -9.2-2.7 -8.8-2M81.6 584.9l-9.5-3.4 -9.2-2.8 -8.9-2M84.8 584.3l-9.5-3.5 -9.3-2.9 -9-2.1M88.1 583.7l-9.6-3.6 -9.3-3 -9.1-2.2M91.3 583.1l-9.6-3.7 -9.4-3 -9.1-2.3M94.6 582.5l-9.7-3.7 -9.4-3.1 -9.2-2.4M98 582l-9.8-3.8 -9.6-3.2 -9.2-2.4M101.3 581.5l-9.9-3.9 -9.6-3.2 -9.3-2.6M104.6 581.1l-9.9-4 -9.7-3.3 -9.4-2.6M108 580.7l-10-4.1 -9.7-3.4 -9.5-2.7M111.4 580.4l-10.1-4.3 -9.8-3.5 -9.6-2.7M114.8 580l-10.1-4.3 -9.9-3.6 -9.7-2.8M118.3 579.8l-10.3-4.5 -9.9-3.7 -9.8-2.9M121.7 579.5l-10.3-4.5 -10-3.8 -9.9-3M125.2 579.3l-10.4-4.6 -10.1-3.9 -9.9-3.1M128.7 579.2l-10.5-4.8 -10.2-4 -10-3.2M132.2 579.1l-10.5-4.9 -10.3-4.1 -10.1-3.3M135.8 579l-10.7-5 -10.4-4.2 -10.1-3.4M139.3 579l-10.7-5.1 -10.5-4.3 -10.2-3.5M142.9 579.1l-10.8-5.3 -10.6-4.4 -10.3-3.7M146.5 579.1l-10.9-5.3 -10.6-4.6 -10.4-3.7M150.2 579.3l-11-5.5 -10.8-4.7 -10.5-3.9M153.8 579.4l-11.1-5.6 -10.8-4.8 -10.6-4M157.5 579.7l-11.2-5.8 -10.9-4.9 -10.7-4.1M161.2 579.9l-11.3-5.9 -11-5 -10.8-4.3M164.9 580.3l-11.3-6.1 -11.2-5.2 -10.9-4.3M168.7 580.6l-11.5-6.2 -11.2-5.3 -11-4.5M172.5 581.1l-11.6-6.4 -11.3-5.5 -11.1-4.6M176.3 581.6l-11.7-6.6 -11.4-5.6 -11.2-4.8M180.2 582.1l-11.9-6.7 -11.5-5.8 -11.3-4.9M184 582.7l-11.9-6.9 -11.7-5.9 -11.4-5M187.9 583.4l-12-7.1 -11.8-6.1 -11.5-5.2M191.9 584.1l-12.2-7.2 -11.9-6.3 -11.6-5.4M195.8 584.9l-12.3-7.5 -12-6.4 -11.7-5.5M199.8 585.7l-12.4-7.6 -12.1-6.6 -11.9-5.7M203.8 586.6l-12.5-7.8 -12.3-6.8 -11.9-5.8M207.9 587.6l-12.7-8 -12.4-7 -12.1-6M211.3 588.2l-12.5-8.1 -12.3-7 -12.1-6.1M212.9 587.6l-11.8-7.6 -11.6-6.7 -11.3-5.8M214.5 587l-11.1-7.1 -10.8-6.3 -10.7-5.5M216.1 586.4l-10.3-6.6 -10.2-5.9 -9.9-5.2M217.6 585.9l-14.2-8.9 -13.9-7.7M219.2 585.3l-13.1-8.2 -12.8-7.1M220.7 584.8l-11.9-7.4 -11.7-6.6M222.3 584.3l-10.8-6.7 -10.5-6M223.8 583.9l-9.5-6 -9.4-5.4M225.3 583.4l-16.5-9.9M226.8 583l-14-8.5M228.4 582.6l-11.6-7.1M229.9 582.2l-9.1-5.6M231.4 581.9l-6.6-4.1M232.8 581.5l-3.9-2.4M234.3 581.2l-1.3-0.8" fill="none" stroke="#000" stroke-opacity="0.6" stroke-width="1.0" shape-rendering="crispEdges"/>
<path d="M47.9 578.5l-10.9-1.6M51 577.6l-12.3-1.8M54 576.7l-13.5-2M57 575.8l-7.4-1.3 -7.3-0.9M60.1 574.9l-8.2-1.4 -7.9-0.9M63.2 574.1l-8.9-1.6 -8.5-1M66.3 573.3l-9.6-1.8 -9.2-1M69.4 572.6l-10.2-2 -9.9-1.1M72.5 571.8l-10.9-2.1 -10.6-1.2M75.6 571.2l-11.6-2.4 -11.3-1.2M78.8 570.5l-12.4-2.5 -11.9-1.3M81.9 569.9l-8.8-2 -8.5-1.4 -8.4-0.7M85.1 569.3l-9.3-2.2 -9.1-1.4 -8.8-0.8M88.3 568.7l-9.8-2.3 -9.6-1.5 -9.3-0.9M91.5 568.2l-10.3-2.5 -10.1-1.6 -9.8-0.9M94.8 567.7l-10.9-2.7 -10.6-1.7 -10.2-0.9M98 567.2l-11.4-2.8 -11.1-1.9 -10.7-0.9M101.3 566.8l-12-3.1 -11.6-1.9 -11.2-1M104.6 566.4l-9.5-2.6 -9.2-1.8 -9-1.3 -8.7-0.6M107.9 566.1l-9.9-2.8 -9.6-2 -9.4-1.3 -9.2-0.6M111.2 565.7l-10.3-2.9 -10.1-2.1 -9.8-1.4 -9.5-0.7M114.6 565.5l-10.8-3.2 -10.5-2.2 -10.2-1.5 -9.9-0.6M117.9 565.2l-11.2-3.3 -10.9-2.4 -10.6-1.5 -10.3-0.7M121.3 565l-11.7-3.5 -11.4-2.6 -11-1.6 -10.6-0.6M124.7 564.9l-9.8-3.1 -9.5-2.4 -9.3-1.8 -9.1-1.1 -8.8-0.5M128.1 564.7l-10.1-3.3 -9.9-2.5 -9.7-1.8 -9.4-1.2 -9.1-0.5M131.5 564.7l-10.5-3.5 -10.3-2.7 -10-2 -9.7-1.2 -9.5-0.4M135 564.6l-10.9-3.7 -10.7-2.8 -10.3-2.1 -10.1-1.2 -9.8-0.5M138.5 564.6l-11.4-3.9 -11-3 -10.7-2.2 -10.4-1.2 -10.2-0.5M142 564.6l-11.8-4.1 -11.4-3.2 -11.1-2.2 -10.8-1.4 -10.4-0.4M145.5 564.7l-10.2-3.7 -9.9-3 -9.7-2.3 -9.4-1.6 -9.2-1 -9-0.3M149 564.9l-10.5-4 -10.2-3.1 -10-2.5 -9.8-1.7 -9.5-1 -9.2-0.3M152.6 565l-10.9-4.1 -10.6-3.4 -10.3-2.5 -10.1-1.8 -9.8-1 -9.5-0.4M156.2 565.2l-11.2-4.3 -11-3.5 -10.7-2.7 -10.4-1.9 -10.1-1.1 -9.8-0.3M159.8 565.5l-11.6-4.6 -11.3-3.7 -11-2.8 -10.7-2 -10.5-1.1 -10.1-0.3M163.4 565.8l-12-4.8 -11.6-3.9 -11.4-3 -11-2 -10.7-1.2 -10.5-0.3M167.1 566.2l-10.6-4.5 -10.4-3.7 -10.1-2.9 -9.9-2.2 -9.7-1.6 -9.4-0.8 -9.2-0.3M170.7 566.6l-10.9-4.7 -10.7-3.9 -10.4-3.1 -10.2-2.3 -10-1.6 -9.6-0.9 -9.5-0.2M174.4 567l-11.2-4.9 -11.1-4.1 -10.7-3.2 -10.5-2.5 -10.2-1.6 -10-0.9 -9.7-0.2M178.2 567.5l-11.7-5.1 -11.3-4.3 -11.1-3.4 -10.8-2.6 -10.5-1.7 -10.2-1 -10-0.2M181.9 568.1l-12-5.5 -11.6-4.4 -11.4-3.6 -11.1-2.7 -10.8-1.8 -10.6-1 -10.2-0.2M185.7 568.7l-12.3-5.7 -12.1-4.7 -11.7-3.7 -11.4-2.8 -11.1-1.9 -10.8-1 -10.5-0.2M189.5 569.3l-11.1-5.3 -10.9-4.4 -10.6-3.7 -10.4-3 -10.2-2.1 -9.9-1.5 -9.6-0.8 -9.4-0.1M193.3 570l-11.4-5.5 -11.2-4.7 -10.9-3.9 -10.7-3 -10.4-2.3 -10.2-1.5 -9.9-0.8 -9.7-0.1M197.1 570.8l-11.7-5.8 -11.5-4.9 -11.2-4.1 -11-3.2 -10.7-2.3 -10.4-1.6 -10.2-0.8 -9.9-0.1M201 571.6l-12.1-6.1 -11.8-5.1 -11.5-4.2 -11.3-3.4 -11-2.5 -10.7-1.6 -10.4-0.8 -10.1-0.1M204.9 572.5l-12.4-6.4 -12.1-5.3 -11.9-4.5 -11.6-3.5 -11.2-2.5 -11-1.8 -10.7-0.8 -10.4-0.1M208.8 573.5l-11.3-6 -11.1-5.2 -10.9-4.3 -10.7-3.6 -10.4-2.8 -10.2-2.1 -9.9-1.4 -9.7-0.6 -9.4-0.1M212.8 574.5l-11.7-6.3 -11.4-5.4 -11.2-4.6 -10.9-3.7 -10.7-2.9 -10.4-2.2 -10.2-1.4 -9.9-0.7 -9.7 0M216.8 575.5l-12-6.5 -11.7-5.7 -11.5-4.7 -11.2-3.9 -11-3.1 -10.7-2.2 -10.4-1.5 -10.2-0.7 -9.8 0M220.8 576.6l-12.3-6.8 -12-5.9 -11.8-5 -11.5-4 -11.2-3.2 -11-2.4 -10.7-1.5 -10.4-0.7 -10.1 0M224.8 577.8l-12.6-7.1 -12.3-6.2 -12.1-5.2 -11.8-4.2 -11.5-3.4 -11.2-2.4 -11-1.6 -10.6-0.7 -10.4 0M228.9 579.1l-11.5-6.7 -11.3-5.9 -11.1-5.1 -10.9-4.3 -10.7-3.5 -10.4-2.7 -10.2-2.1 -9.9-1.3 -9.7-0.6 -9.5 0M233 580.4l-11.6-6.9 -11.4-6.1 -11.2-5.2 -11-4.4 -10.8-3.7 -10.5-2.9 -10.2-2.1 -10.1-1.5 -9.8-0.7 -9.5-0.1M235.8 580.9l-11.6-6.9 -11.3-6.1 -11.2-5.3 -10.9-4.4 -10.7-3.8 -10.5-2.9 -10.2-2.2 -10.1-1.6 -9.7-0.8 -9.6-0.2M237.3 580.7l-12.6-7.5 -12.4-6.5 -12.1-5.5 -11.9-4.6 -11.5-3.7 -11.3-2.8 -11.1-1.9 -10.7-1.2 -10.5-0.3M238.7 580.4l-12.3-7.3 -12.2-6.4 -11.9-5.4 -11.6-4.5 -11.4-3.7 -11.1-2.8 -10.9-2 -10.6-1.2 -10.3-0.4M240.2 580.2l-12.1-7.2 -12-6.2 -11.6-5.4 -11.5-4.4 -11.2-3.7 -10.9-2.8 -10.7-2 -10.5-1.3 -10.1-0.5M241.7 580l-12-7 -11.6-6.1 -11.5-5.3 -11.3-4.4 -11-3.6 -10.7-2.8 -10.5-2.1 -10.3-1.3 -10-0.6M243.1 579.8l-11.7-6.8 -11.4-6 -11.3-5.2 -11-4.4 -10.8-3.5 -10.6-2.9 -10.3-2 -10.1-1.4 -9.9-0.7M244.5 579.6l-11.4-6.6 -11.2-5.9 -11.1-5.1 -10.8-4.3 -10.6-3.5 -10.4-2.9 -10.1-2.1 -10-1.4 -9.7-0.8M246 579.5l-12.6-7.3 -12.4-6.3 -12-5.3 -11.9-4.4 -11.5-3.6 -11.3-2.6 -11.1-1.8 -10.7-1M247.4 579.4l-12.3-7.1 -12.1-6.2 -11.8-5.2 -11.6-4.4 -11.4-3.5 -11.1-2.7 -10.8-1.8 -10.6-1.1M248.8 579.3l-12-6.9 -11.9-6.1 -11.5-5.1 -11.4-4.3 -11.1-3.5 -10.9-2.7 -10.6-1.9 -10.4-1.2M250.2 579.2l-11.8-6.8 -11.5-5.8 -11.3-5.1 -11.2-4.3 -10.9-3.4 -10.6-2.7 -10.4-2 -10.2-1.2M251.6 579.1l-11.5-6.5 -11.3-5.8 -11.1-5 -10.8-4.2 -10.7-3.4 -10.4-2.7 -10.2-2 -10-1.3M253 579.1l-12.8-7.3 -12.5-6.2 -12.3-5.3 -12.1-4.3 -11.7-3.3 -11.5-2.5 -11.2-1.7M254.4 579.1l-12.5-7.1 -12.2-6.1 -12-5.1 -11.8-4.3 -11.5-3.4 -11.2-2.5 -11-1.7M255.8 579.1l-12.2-6.9 -11.9-5.9 -11.7-5.1 -11.5-4.2 -11.3-3.3 -10.9-2.6 -10.8-1.8" fill="none" stroke="#000" stroke-opacity="0.75" stroke-width="1.0" shape-rendering="crispEdges"/>
<path d="M146.4 629.8l10.9-9 10.8-8.1 10.4-7.2M144.6 628.4l10.4-8.7 10.3-7.7 10-6.9M142.8 626.9l14.8-12 14.5-10.2M141 625.5l14.1-11.4 13.7-9.8M139.2 624.1l13.3-10.8 13.1-9.3M137.4 622.7l12.6-10.1 12.3-8.9M135.6 621.3l11.8-9.5 11.6-8.4M133.8 620l11.1-8.9 10.8-7.9M132 618.7l10.3-8.2 10.1-7.4M130.3 617.4l9.4-7.6 9.3-6.8M128.5 616.1l17.2-13.2M126.7 614.8l15.6-12M125 613.6l13.9-10.7M123.2 612.4l12.3-9.5M121.5 611.2l10.5-8.2M119.7 610l8.9-6.8M118 608.9l7.1-5.5M116.3 607.8l5.3-4.2M114.6 606.7l3.5-2.8M112.9 605.6l1.7-1.4" fill="none" stroke="#000" stroke-opacity="0.31" stroke-width="1.0" shape-rendering="crispEdges"/>
<path d="M178.5 605.5l11.1-6.8 10.8-5.7 10.5-4.6M175.3 605.1l11.2-6.9 10.9-5.8 10.6-4.8M172.1 604.7l11.2-7 11-5.9 10.7-4.9M168.8 604.3l11.4-7.1 11.1-6 10.7-5M165.6 604l11.4-7.3 11.2-6.1 10.8-5.1M162.3 603.7l11.5-7.4 11.3-6.2 10.9-5.2M159 603.4l11.6-7.4 11.4-6.4 11-5.3M155.7 603.2l11.7-7.6 11.4-6.5 11.2-5.4M152.4 603.1l11.8-7.8 11.5-6.6 11.3-5.5M149 603l11.9-7.9 11.7-6.8 11.3-5.6M145.7 602.9l12-8.1 11.7-6.8 11.4-5.8M142.3 602.8l12.1-8.1 11.8-7.1 11.6-5.8M138.9 602.9l12.2-8.4 11.9-7.2 11.7-5.9M135.5 602.9l12.3-8.5 12-7.3 11.8-6.1M132 603l12.5-8.7 12.1-7.4 11.9-6.3M128.6 603.2l12.5-8.9 12.3-7.6 12-6.4M125.1 603.4l12.7-9.1 12.3-7.7 12.1-6.6M121.6 603.6l12.8-9.2 12.5-7.9 12.2-6.7M118.1 603.9l12.9-9.4 12.6-8.1 12.3-6.8M114.6 604.2l13-9.5 12.7-8.3 12.4-7M111.1 604.5l13.1-9.7 12.8-8.4 12.6-7.2M109.5 603.5l12.5-9.3 12.3-8.2 12-6.9M107.8 602.5l12-8.9 11.8-7.8 11.5-6.7M106.1 601.5l11.5-8.5 11.2-7.5 11.1-6.5M104.4 600.5l10.9-8.1 10.8-7.1 10.6-6.3M102.7 599.5l10.4-7.6 10.2-6.8 10.1-6M101.1 598.6l14.7-10.5 14.3-9M99.4 597.7l13.9-10 13.5-8.4M97.7 596.8l13.1-9.3 12.7-8.1M96.1 595.9l12.2-8.7 11.9-7.6M94.4 595.1l11.4-8.1 11.1-7.1M92.8 594.2l10.4-7.4 10.3-6.6M91.2 593.4l9.5-6.8 9.4-6.1M89.6 592.6l17.1-11.7M87.9 591.9l15.4-10.6M86.3 591.1l13.6-9.4M84.7 590.4l11.8-8.2M83.1 589.7l9.9-6.9M81.6 589l7.9-5.6M80 588.3l6-4.3M78.4 587.7l4.1-3M76.8 587l2.2-1.5M75.3 586.4l0.1-0.1" fill="none" stroke="#000" stroke-opacity="0.44" stroke-width="1.0" shape-rendering="crispEdges"/>
<path d="M210.9 588.4l12.3-4.4 11.9-2.9M208 587.6l12.3-4.4 12-3M205 586.9l12.5-4.5 12-3.1M202 586.2l12.6-4.6 12.1-3.2M199 585.5l12.7-4.7 12.1-3.3M196 584.9l12.7-4.8 12.3-3.4M193 584.3l12.8-4.9 12.4-3.5M190 583.7l12.9-5 12.4-3.6M187 583.2l12.9-5.1 12.6-3.7M183.9 582.7l13.1-5.3 12.6-3.7M180.8 582.2l13.2-5.4 12.7-3.8M177.8 581.8l13.2-5.5 12.9-4M174.7 581.4l13.3-5.7 13-4.1M171.6 581l13.4-5.8 13.1-4.2M168.5 580.6l13.5-5.9 13.2-4.3M165.4 580.3l13.6-6 13.2-4.5M162.2 580l13.8-6.1 13.3-4.6M159.1 579.8l13.8-6.3 13.5-4.7M155.9 579.6l14-6.5 13.5-4.8M152.7 579.4l14.1-6.6 13.7-4.9M149.6 579.2l14.1-6.7 13.8-5.1M146.3 579.1l9.6-4.8 9.4-4 9.2-3.3M143.1 579.1l9.7-4.9 9.5-4.2 9.2-3.3M139.9 579l9.7-5 9.6-4.2 9.3-3.5M136.7 579l9.8-5.1 9.6-4.3 9.4-3.6M133.4 579.1l9.9-5.3 9.7-4.4 9.5-3.7M130.1 579.1l10-5.3 9.8-4.5 9.6-3.8M126.8 579.3l10.1-5.5 9.9-4.7 9.6-3.8M123.5 579.4l10.2-5.6 9.9-4.7 9.8-4M120.2 579.6l10.2-5.7 10.1-4.9 9.8-4.1M116.9 579.9l10.3-5.9 10.1-5 9.9-4.2M113.5 580.2l10.4-6 10.2-5.2 10.1-4.3M110.1 580.5l10.5-6.2 10.4-5.2 10.1-4.5M106.7 580.9l10.6-6.3 10.5-5.4 10.2-4.6M103.3 581.3l10.7-6.5 10.5-5.5 10.3-4.7M99.9 581.7l10.8-6.6 10.6-5.6 10.4-4.8M96.5 582.2l10.9-6.7 10.7-5.8 10.4-5M93 582.8l11-6.9 10.8-6 10.6-5.1M89.5 583.4l11.1-7.1 10.9-6.1 10.7-5.2M86 584l11.2-7.2 11-6.3 10.8-5.3M82.5 584.7l11.3-7.4 11.1-6.4 10.9-5.5M79 585.5l11.4-7.6 11.2-6.6 11-5.7M75.4 586.3l11.5-7.8 11.4-6.8 11.1-5.8M73.7 585.8l11-7.4 10.8-6.5 10.6-5.7M72.2 585.2l10.4-7 10.2-6.2 10.1-5.4M70.6 584.7l14.7-9.7 14.3-8M69.1 584.1l13.8-9 13.4-7.6M67.5 583.6l12.9-8.4 12.6-7.3M66 583.1l12-7.8 11.7-6.8M64.5 582.6l11-7.2 10.9-6.4M63 582.2l10.1-6.7 10-5.8M61.5 581.7l9.2-6 9-5.4M60 581.3l16.3-10.3M58.5 580.9l14.4-9.2M57 580.5l12.5-8M55.5 580.1l10.6-6.7M54.1 579.8l8.6-5.6M52.6 579.5l6.6-4.3M51.2 579.1l4.5-3M49.7 578.8l2.6-1.6M48.3 578.6l0.4-0.4" fill="none" stroke="#000" stroke-opacity="0.6" stroke-width="1.0" shape-rendering="crispEdges"/>
<path d="M235.1 581.1l10.5-1.6 10.2-0.4M232.3 580.2l11-1.7 10.7-0.5M229.5 579.3l11.6-1.8 11.1-0.5M226.7 578.4l12.1-1.9 11.7-0.5M223.8 577.5l8.6-1.5 8.2-0.8 8.1-0.2M221 576.7l8.9-1.6 8.7-0.9 8.3-0.2M218.2 575.9l9.3-1.7 9-1 8.7-0.1M215.3 575.1l9.7-1.8 9.4-1 9.1-0.2M212.5 574.4l10-2 9.8-1 9.4-0.2M209.6 573.7l10.5-2.1 10.1-1.1 9.8-0.2M206.7 573l10.9-2.3 10.5-1.1 10.1-0.2M203.9 572.3l11.2-2.4 10.9-1.2 10.5-0.1M201 571.6l11.6-2.5 11.3-1.2 10.9-0.2M198.1 571l12.1-2.6 11.6-1.4 11.3-0.1M195.2 570.4l9.4-2.2 9.2-1.5 8.9-0.6 8.7 0M192.2 569.8l9.8-2.3 9.5-1.5 9.2-0.7 9 0M189.3 569.3l10.1-2.5 9.8-1.6 9.5-0.7 9.3 0.1M186.4 568.8l10.4-2.6 10.1-1.7 9.8-0.8 9.6 0.1M183.4 568.3l10.8-2.8 10.4-1.7 10.2-0.8 9.8 0.1M180.5 567.9l11.1-3 10.7-1.8 10.5-0.9 10.1 0.2M177.5 567.4l11.4-3.1 11.1-1.9 10.8-0.9 10.4 0.2M174.5 567l11.8-3.2 11.5-2.1 11-0.9 10.7 0.2M171.5 566.7l9.8-2.9 9.5-2 9.3-1.2 9-0.5 8.7 0.3M168.5 566.3l10.1-3 9.8-2.1 9.5-1.3 9.3-0.4 9 0.2M165.5 566l10.4-3.1 10-2.2 9.8-1.4 9.6-0.5 9.2 0.3M162.5 565.7l10.6-3.3 10.4-2.3 10.1-1.4 9.8-0.5 9.5 0.3M159.5 565.5l10.9-3.5 10.7-2.4 10.3-1.5 10.1-0.5 9.7 0.3M156.4 565.3l11.3-3.7 10.9-2.5 10.6-1.5 10.4-0.6 10 0.4M153.4 565.1l11.5-3.8 11.3-2.7 10.9-1.6 10.6-0.6 10.2 0.4M150.3 564.9l11.9-4 11.5-2.8 11.2-1.6 10.9-0.6 10.5 0.4M147.2 564.8l10.2-3.6 9.9-2.6 9.7-1.9 9.5-1.1 9.2-0.3 8.9 0.5M144.2 564.7l10.4-3.7 10.2-2.8 9.9-2 9.7-1.1 9.4-0.3 9.2 0.5M141.1 564.6l10.7-3.8 10.4-3 10.2-2 9.9-1.2 9.7-0.3 9.4 0.5M138 564.6l10.9-4 10.8-3.1 10.4-2.1 10.2-1.3 9.9-0.3 9.6 0.5M134.8 564.6l11.3-4.2 11-3.2 10.7-2.3 10.4-1.2 10.1-0.4 9.9 0.6M131.7 564.7l11.5-4.5 11.3-3.3 11-2.3 10.6-1.4 10.4-0.3 10 0.6M128.5 564.7l11.9-4.6 11.5-3.5 11.2-2.4 11-1.4 10.6-0.3 10.2 0.6M125.4 564.8l12.1-4.8 11.8-3.6 11.5-2.6 11.2-1.4 10.8-0.4 10.5 0.7M122.2 565l10.7-4.4 10.4-3.5 10.2-2.6 9.9-1.8 9.7-0.9 9.5-0.1 9.1 0.6M119 565.2l10.9-4.6 10.7-3.7 10.4-2.7 10.2-1.8 9.9-1 9.7-0.1 9.4 0.6M115.8 565.4l11.2-4.8 10.9-3.8 10.7-2.8 10.4-1.9 10.1-1 9.9-0.2 9.6 0.7M112.6 565.6l11.4-4.9 11.2-4 10.9-2.9 10.7-2 10.3-1.1 10.1-0.1 9.8 0.7M109.4 565.9l11.7-5.2 11.4-4.1 11.2-3 10.8-2.1 10.6-1.1 10.3-0.2 10 0.7M106.1 566.2l12-5.4 11.7-4.2 11.4-3.2 11.1-2.2 10.8-1.1 10.6-0.2 10.2 0.8M102.9 566.6l12.2-5.6 12-4.5 11.6-3.3 11.4-2.2 11-1.2 10.8-0.2 10.4 0.8M99.6 567l11-5.2 10.7-4.2 10.5-3.4 10.3-2.4 10-1.7 9.8-0.8 9.6 0 9.2 0.8M96.3 567.5l11.2-5.4 11-4.5 10.8-3.4 10.5-2.6 10.2-1.7 10-0.8 9.7 0 9.5 0.8M93 567.9l11.5-5.6 11.2-4.6 11-3.6 10.7-2.7 10.5-1.7 10.2-0.9 9.9 0 9.6 0.8M89.7 568.5l11.7-5.9 11.5-4.7 11.2-3.8 10.9-2.8 10.7-1.8 10.4-0.9 10.2 0 9.8 0.8M86.4 569l11.9-6 11.6-4.9 11.3-3.9 11.1-2.9 10.8-1.9 10.5-1 10.3-0.1 10 0.8M83.1 569.7l11.9-6.2 11.7-5.1 11.4-4 11.2-3.1 10.9-2 10.6-1.1 10.3-0.1 10.1 0.7M79.7 570.3l12-6.3 11.8-5.3 11.5-4.1 11.2-3.2 11-2.1 10.7-1.2 10.5-0.2 10.1 0.6M76.3 571l12.1-6.5 11.9-5.4 11.6-4.3 11.3-3.2 11.1-2.3 10.8-1.3 10.5-0.3 10.2 0.5M72.9 571.7l12.2-6.6 12-5.5 11.7-4.5 11.4-3.4 11.1-2.4 10.9-1.4 10.6-0.4 10.3 0.5M69.5 572.5l12.3-6.8 12-5.7 11.8-4.6 11.5-3.5 11.3-2.5 10.9-1.5 10.7-0.5 10.4 0.3M66.1 573.4l12.4-7 12.1-5.9 11.9-4.7 11.6-3.7 11.3-2.6 11-1.6 10.8-0.7 10.5 0.3M62.7 574.2l12.4-7.1 12.2-6.1 12-4.8 11.7-3.9 11.4-2.7 11.1-1.7 10.9-0.8 10.6 0.2M59.2 575.2l12.6-7.4 12.3-6.2 12-5 11.8-4 11.5-2.8 11.2-1.9 11-0.8 10.6 0.1M55.7 576.1l12.7-7.5 12.4-6.4 12.1-5.2 11.9-4.1 11.6-3 11.3-1.9 11.1-1 10.7 0M52.3 577.2l11.3-7 11.1-5.9 11-5.1 10.7-4.2 10.5-3.2 10.3-2.5 10.1-1.6 9.9-0.8 9.6 0M48.7 578.2l11.5-7.1 11.2-6.1 11-5.2 10.8-4.3 10.6-3.4 10.4-2.6 10.2-1.7 10-0.9 9.7-0.1M46.8 578.3l12.7-7.9 12.5-6.6 12.2-5.6 12-4.4 11.7-3.3 11.4-2.2 11.2-1.3 10.8-0.2M45.4 578l12.5-7.7 12.3-6.5 12-5.5 11.8-4.3 11.6-3.4 11.2-2.2 11-1.3 10.8-0.4M44 577.8l12.3-7.6 12.1-6.4 11.8-5.4 11.7-4.3 11.3-3.3 11.2-2.3 10.8-1.4 10.6-0.4M42.6 577.6l12.1-7.4 11.9-6.4 11.6-5.3 11.5-4.3 11.2-3.3 11-2.3 10.7-1.4 10.5-0.5M41.2 577.4l11.9-7.3 11.7-6.2 11.5-5.2 11.2-4.3 11.1-3.3 10.8-2.3 10.6-1.5 10.3-0.6M39.7 577.2l11.8-7.1 11.5-6.1 11.3-5.2 11.1-4.2 10.9-3.3 10.6-2.3 10.4-1.5 10.2-0.7M38.4 577.1l11.5-7 11.3-6.1 11.1-5 10.9-4.2 10.7-3.3 10.5-2.3 10.3-1.6 10.1-0.7M37 576.9l11.3-6.8 11.1-5.9 10.9-5.1 10.8-4.1 10.5-3.2 10.4-2.4 10.1-1.6 9.9-0.8" fill="none" stroke="#000" stroke-opacity="0.75" stroke-width="1.0" shape-rendering="crispEdges"/>
<path d="M146.8 630.4l5.7-4.8 5.5-4.5 5.5-4.2 5.5-4 5.3-3.8 5.4-3.5 5.2-3.3 5.2-3.1 5.2-2.8 5-2.6 5.1-2.3" fill="none" stroke="#dcdc00" stroke-width="0.8"/>
<path d="M37 576.9l3-1.9 3-1.8 2.9-1.8 3-1.7 3-1.6 2.9-1.6 2.9-1.5 3-1.5 2.9-1.4 2.9-1.3 2.8-1.2 2.9-1.2 2.9-1.2 2.8-1 2.8-1 2.8-1 2.8-0.9 2.8-0.8 2.8-0.8 2.7-0.7 2.8-0.7 2.7-0.6 2.7-0.5 2.7-0.5 2.7-0.4 2.6-0.4 2.7-0.3 2.6-0.2 2.6-0.2 2.6-0.2 2.5-0.1 2.5-0.1 2.6 0 2.5-0.1 2.5 0 2.5 0 2.5 0 2.5 0.1 2.5 0 2.5 0.1 2.5 0.1 2.6 0.1 2.5 0.2 2.5 0.1 2.5 0.2 2.5 0.2 2.6 0.3 2.5 0.2 2.5 0.3 2.5 0.3 2.5 0.3 2.6 0.3 2.6 0.4 2.7 0.4 2.6 0.5 2.7 0.5 2.7 0.6 2.7 0.6 2.7 0.7 2.8 0.7 2.7 0.8 2.8 0.8 2.7 0.8 2.8 1 2.8 0.9 2.8 1 2.9 1.1 2.8 1.1 2.9 1.2 2.9 1.2 2.9 1.3 2.9 1.3 2.9 1.4 2.9 1.5 2.9 1.5 3 1.5 3 1.6 3 1.7 3 1.7 3 1.8 0 0 -2.4 0 -2.4 0 -2.3 0.2 -2.5 0.2 -2.4 0.2 -2.4 0.3 -2.5 0.4 -2.5 0.4 -2.7-0.2 -2.8-0.9 -2.8-0.9 -2.9-0.9 -2.8-0.8 -2.8-0.8 -2.8-0.8 -2.9-0.7 -2.8-0.8 -2.8-0.7 -2.8-0.7 -2.9-0.7 -2.8-0.5 -2.8-0.7 -2.8-0.5 -2.8-0.5 -2.9-0.6 -2.8-0.5 -2.8-0.5 -2.8-0.3 -2.8-0.4 -2.8-0.4 -2.8-0.4 -2.8-0.4 -2.8-0.2 -2.9-0.3 -2.8-0.2 -2.8-0.2 -2.8-0.3 -2.8 0 -2.8-0.2 -2.8-0.1 -2.8-0.1 -2.8 0 -2.8-0.1 -2.8 0.1 -2.8 0 -2.7 0.1 -2.8 0 -2.8 0.1 -2.8 0.2 -2.8 0.1 -2.8 0.2 -2.8 0.2 -2.8 0.3 -2.8 0.2 -2.7 0.4 -2.8 0.3 -2.8 0.4 -2.8 0.3 -2.8 0.5 -2.7 0.4 -2.8 0.4 -2.8 0.6 -2.8 0.5 -2.7 0.5 -2.8 0.6 -2.8 0.6 -2.8 0.6 -2.7 0.6 -2.8 0.7 -2.8 0.8 -2.7 0.7 -2.8 0.8 -2.8 0.7 -2.7 0.9 -2.8 0.8 -2.6 0.1 -2.4-0.4 -2.4-0.3 -2.4-0.3 -2.3-0.3z" fill="#000" fill-opacity="0.12"/>
<path d="M37 576.9l3-1.9 3-1.8 2.9-1.8 3-1.7 3-1.6 2.9-1.6 2.9-1.5 3-1.5 2.9-1.4 2.9-1.3 2.8-1.2 2.9-1.2 2.9-1.2 2.8-1 2.8-1 2.8-1 2.8-0.9 2.8-0.8 2.8-0.8 2.7-0.7 2.8-0.7 2.7-0.6 2.7-0.5 2.7-0.5 2.7-0.4 2.6-0.4 2.7-0.3 2.6-0.2 2.6-0.2 2.6-0.2 2.5-0.1 2.5-0.1 2.6 0 2.5-0.1 2.5 0 2.5 0 2.5 0 2.5 0.1 2.5 0 2.5 0.1 2.5 0.1 2.6 0.1 2.5 0.2 2.5 0.1 2.5 0.2 2.5 0.2 2.6 0.3 2.5 0.2 2.5 0.3 2.5 0.3 2.5 0.3 2.6 0.3 2.6 0.4 2.7 0.4 2.6 0.5 2.7 0.5 2.7 0.6 2.7 0.6 2.7 0.7 2.8 0.7 2.7 0.8 2.8 0.8 2.7 0.8 2.8 1 2.8 0.9 2.8 1 2.9 1.1 2.8 1.1 2.9 1.2 2.9 1.2 2.9 1.3 2.9 1.3 2.9 1.4 2.9 1.5 2.9 1.5 3 1.5 3 1.6 3 1.7 3 1.7 3 1.8 0 0 -2.4 0 -2.4 0 -2.3 0.2 -2.5 0 -2.8-1 -2.8-1 -2.8-1 -2.8-0.9 -2.7-0.9 -2.8-0.9 -2.8-0.9 -2.8-0.8 -2.8-0.8 -2.7-0.8 -2.8-0.7 -2.8-0.8 -2.8-0.7 -2.8-0.6 -2.7-0.7 -2.8-0.6 -2.8-0.6 -2.8-0.6 -2.7-0.5 -2.8-0.5 -2.8-0.5 -2.7-0.5 -2.8-0.5 -2.8-0.4 -2.7-0.4 -2.8-0.4 -2.8-0.3 -2.7-0.3 -2.8-0.3 -2.7-0.2 -2.8-0.3 -2.8-0.2 -2.7-0.2 -2.8-0.1 -2.7-0.1 -2.8-0.2 -2.7-0.1 -2.8 0 -2.7 0 -2.8-0.1 -2.7 0 -2.8 0.1 -2.7 0.1 -2.8 0.1 -2.7 0.1 -2.7 0.2 -2.8 0.1 -2.7 0.2 -2.8 0.2 -2.7 0.3 -2.7 0.3 -2.8 0.3 -2.7 0.3 -2.7 0.4 -2.8 0.4 -2.7 0.4 -2.7 0.4 -2.7 0.5 -2.8 0.4 -2.7 0.6 -2.7 0.5 -2.7 0.6 -2.8 0.5 -2.7 0.6 -2.7 0.7 -2.7 0.7 -2.7 0.6 -2.8 0.7 -2.7 0.8 -2.7 0.8 -2.7 0.8 -2.7 0.8 -2.7 0.8 -2.7 0.9 -2.7 0.9 -3 1.9z" fill="#000" fill-opacity="0.5"/>
<path d="M37 576.9l3-1.9 3-1.8 2.9-1.8 3-1.7 3-1.6 2.9-1.6 2.9-1.5 3-1.5 2.9-1.4 2.9-1.3 2.8-1.2 2.9-1.2 2.9-1.2 2.8-1 2.8-1 2.8-1 2.8-0.9 2.8-0.8 2.8-0.8 2.7-0.7 2.8-0.7 2.7-0.6 2.7-0.5 2.7-0.5 2.7-0.4 2.6-0.4 2.7-0.3 2.6-0.2 2.6-0.2 2.6-0.2 2.5-0.1 2.5-0.1 2.6 0 2.5-0.1 2.5 0 2.5 0 2.5 0 2.5 0.1 2.5 0 2.5 0.1 2.5 0.1 2.6 0.1 2.5 0.2 2.5 0.1 2.5 0.2 2.5 0.2 2.6 0.3 2.5 0.2 2.5 0.3 2.5 0.3 2.5 0.3 2.6 0.3 2.6 0.4 2.7 0.4 2.6 0.5 2.7 0.5 2.7 0.6 2.7 0.6 2.7 0.7 2.8 0.7 2.7 0.8 2.8 0.8 2.7 0.8 2.8 1 2.8 0.9 2.8 1 2.9 1.1 2.8 1.1 2.9 1.2 2.9 1.2 2.9 1.3 2.9 1.3 2.9 1.4 2.9 1.5 2.9 1.5 3 1.5 3 1.6 3 1.7 3 1.7 3 1.8 0 0 -3-1.8 -3-1.7 -3-1.6 -2.7-1 -2.8-1 -2.7-0.9 -2.7-0.9 -2.7-0.9 -2.8-0.9 -2.7-0.8 -2.7-0.9 -2.7-0.7 -2.8-0.8 -2.7-0.8 -2.7-0.7 -2.7-0.7 -2.7-0.6 -2.7-0.7 -2.8-0.6 -2.7-0.6 -2.7-0.6 -2.7-0.5 -2.7-0.5 -2.7-0.5 -2.7-0.5 -2.8-0.4 -2.7-0.4 -2.7-0.4 -2.7-0.4 -2.7-0.4 -2.7-0.3 -2.7-0.3 -2.7-0.3 -2.7-0.3 -2.7-0.1 -2.7-0.2 -2.7-0.2 -2.7-0.2 -2.7-0.1 -2.7-0.1 -2.7-0.2 -2.7 0 -2.6 0 -2.7 0 -2.7 0 -2.7 0 -2.7 0.1 -2.7 0.1 -2.7 0.1 -2.7 0.1 -2.6 0.1 -2.7 0.3 -2.7 0.2 -2.7 0.2 -2.7 0.3 -2.6 0.2 -2.7 0.3 -2.7 0.4 -2.6 0.3 -2.7 0.3 -2.7 0.4 -2.6 0.5 -2.7 0.4 -2.7 0.5 -2.6 0.5 -2.7 0.5 -2.7 0.5 -2.6 0.6 -2.7 0.6 -2.6 0.6 -2.7 0.7 -2.8 1.1 -3 1.5 -2.9 1.5 -2.9 1.6 -3 1.6 -3 1.7 -2.9 1.8 -3 1.8 -3 1.9z" fill="#000" fill-opacity="0.85" stroke="#000" stroke-width="1.2" stroke-linejoin="round"/>
<ellipse cx="146.5" cy="548.6" rx="1.6" ry="1.8" fill="#c8481a"/><ellipse cx="146.5" cy="552.3" rx="1.6" ry="1.8" fill="#bd4214"/>
<text transform="translate(37.1,630.6) scale(0.828,0.901)" font-size="6.2" text-anchor="end" font-family="Liberation Sans,sans-serif" fill="#2b2b2b">0</text>
<text transform="translate(36,612.3) scale(0.828,0.901)" font-size="6.2" text-anchor="end" font-family="Liberation Sans,sans-serif" fill="#2b2b2b">0.01</text>
<text transform="translate(34.9,594.1) scale(0.828,0.901)" font-size="6.2" text-anchor="end" font-family="Liberation Sans,sans-serif" fill="#2b2b2b">0.02</text>
<text transform="translate(33.7,575.8) scale(0.828,0.901)" font-size="6.2" text-anchor="end" font-family="Liberation Sans,sans-serif" fill="#2b2b2b">0.03</text>
<text transform="translate(32.6,557.5) scale(0.828,0.901)" font-size="6.2" text-anchor="end" font-family="Liberation Sans,sans-serif" fill="#2b2b2b">0.04</text>
<text transform="translate(31.4,539.3) scale(0.828,0.901)" font-size="6.2" text-anchor="end" font-family="Liberation Sans,sans-serif" fill="#2b2b2b">0.05</text>
<text transform="translate(148.6,708.4) scale(0.828,0.901)" font-size="6.2" text-anchor="start" font-family="Liberation Sans,sans-serif" fill="#2b2b2b">25</text>
<text transform="translate(169.4,700.2) scale(0.828,0.901)" font-size="6.2" text-anchor="start" font-family="Liberation Sans,sans-serif" fill="#2b2b2b">30</text>
<text transform="translate(190.3,691.9) scale(0.828,0.901)" font-size="6.2" text-anchor="start" font-family="Liberation Sans,sans-serif" fill="#2b2b2b">35</text>
<text transform="translate(211.1,683.7) scale(0.828,0.901)" font-size="6.2" text-anchor="start" font-family="Liberation Sans,sans-serif" fill="#2b2b2b">40</text>
<text transform="translate(232,675.4) scale(0.828,0.901)" font-size="6.2" text-anchor="start" font-family="Liberation Sans,sans-serif" fill="#2b2b2b">45</text>
<text transform="translate(252.8,667.2) scale(0.828,0.901)" font-size="6.2" text-anchor="start" font-family="Liberation Sans,sans-serif" fill="#2b2b2b">50</text>
<text transform="translate(143.8,707.5) scale(0.828,0.901)" font-size="6.2" text-anchor="end" font-family="Liberation Sans,sans-serif" fill="#2b2b2b">1</text>
<text transform="translate(117.7,697.2) scale(0.828,0.901)" font-size="6.2" text-anchor="end" font-family="Liberation Sans,sans-serif" fill="#2b2b2b">1.5</text>
<text transform="translate(91.7,686.9) scale(0.828,0.901)" font-size="6.2" text-anchor="end" font-family="Liberation Sans,sans-serif" fill="#2b2b2b">2</text>
<text transform="translate(65.6,676.6) scale(0.828,0.901)" font-size="6.2" text-anchor="end" font-family="Liberation Sans,sans-serif" fill="#2b2b2b">2.5</text>
<text transform="translate(39.6,666.3) scale(0.828,0.901)" font-size="6.2" text-anchor="end" font-family="Liberation Sans,sans-serif" fill="#2b2b2b">3</text>
<text transform="translate(17.5,701.2) scale(0.828,0.901)" font-size="9.2" text-anchor="start" font-family="Liberation Sans,sans-serif" fill="#1c1c1c">D: Tannin Content (%)</text>
<text transform="translate(195.3,701.2) scale(0.828,0.901)" font-size="9.2" text-anchor="start" font-family="Liberation Sans,sans-serif" fill="#1c1c1c">B: Incubation Temp. (<tspan dx="1.6">°C</tspan><tspan dx="1.6">)</tspan></text>
<text transform="translate(10.6,601.3) scale(0.828,0.901) rotate(-90)" font-size="11.1" text-anchor="middle" font-family="Liberation Serif,serif" fill="#111">Tannin acyl hydrolase</text>
<text x="2" y="527.2" font-size="16.5" font-weight="bold" font-family="Liberation Serif,serif" fill="#000">e</text></g>
<g id="pf"><path d="M413.4,630.5L525.2,600.1L636.9,630.5M412.2,611.6L525.2,583.1L638.1,611.6M411,592.8L525.2,566.1L639.3,592.8M409.8,573.9L525.2,549.1L640.5,573.9M408.6,555L525.2,532.1L641.7,555M407.4,536.2L525.2,515.1L642.9,536.2M415.3,659.7L407.4,536.2M427.4,626.7L422.1,533.5M441.3,622.9L436.8,530.9M455.3,619.1L451.6,528.3M469.3,615.3L466.3,525.6M483.3,611.5L481,523M497.2,607.7L495.7,520.4M511.2,603.9L510.4,517.7M525.2,626.4L525.2,515.1M635,659.7L642.9,536.2M609,622.9L613.5,530.9M581,615.3L584,525.6M553.1,607.7L554.6,520.4" fill="none" stroke="#151515" stroke-width="1.05"/>
<polygon points="415.3,659.7 525.2,702.3 635,659.7 525.2,626.4" fill="#ffff00" stroke="#444" stroke-width="0.7"/>
<path d="M511.1 696.5l7.3 0.1 7.3 0 7.4-0.1 7.3-0.2" fill="none" stroke="#7dff1a" stroke-width="0.8"/>
<path d="M493.8 689.1l6.1 0.4 6.2 0.2 6.2 0.2 6.3 0.1 6.2 0 6.3-0.1 6.2-0.2 6.3-0.3 6.2-0.3 6.2-0.5 6.1-0.6" fill="none" stroke="#a0ff30" stroke-width="0.8"/>
<clipPath id="flf"><polygon points="415.3,659.7 525.2,702.3 635,659.7 525.2,626.4"/></clipPath>
<ellipse cx="525.05" cy="652.85" rx="49.25" ry="13.15" fill="none" stroke="#ffa01e" stroke-width="0.9" clip-path="url(#flf)"/>
<path d="M525.2,702.3l1,1.5M538.9,697l1,1.5M552.6,691.7l1,1.5M566.4,686.4l1,1.5M580.1,681l1,1.5M593.8,675.7l1,1.5M607.6,670.4l1,1.5M621.3,665l1,1.5M635,659.7l1,1.5M525.2,702.3l-1,1.5M497.7,691.7l-1,1.5M470.2,681l-1,1.5M442.7,670.4l-1,1.5M415.3,659.7l-1,1.5M413.4,630.5l-1.6,-0.5M412.2,611.6l-1.6,-0.5M411,592.8l-1.6,-0.5M409.8,573.9l-1.6,-0.5M408.6,555l-1.6,-0.5M407.4,536.2l-1.6,-0.5" fill="none" stroke="#222" stroke-width="0.9"/>
<path d="M525.2 627.1l5.2-4.2 5.1-4 5.2-3.8 5-3.6 5-3.5 5-3.2 4.9-3.1 4.9-2.9 4.8-2.7 4.8-2.5 4.7-2.3 4.7-2.2 4.6-2 4.6-1.8 4.5-1.7 4.5-1.5 4.4-1.3 4.3-1.2 4.3-1 4.3-0.9 4.2-0.7 4.1-0.5 4.1-0.4 4-0.2 4-0.1 -5.1-3.1 -5-3 -5-2.7 -4.9-2.6 -5-2.5 -4.8-2.3 -4.9-2.1 -4.8-2 -4.8-1.9 -4.7-1.6 -4.7-1.6 -4.7-1.4 -4.6-1.2 -4.6-1.2 -4.5-0.9 -4.5-0.9 -4.5-0.7 -4.4-0.5 -4.4-0.4 -4.3-0.3 -4.3-0.2 -4.2 0 -4.3 0 -4.1 0.2 -4.1 0.4 -4.2-0.5 -4.1-0.5 -4.2-0.2 -4.3-0.2 -4.3 0 -4.3 0.1 -4.4 0.3 -4.4 0.4 -4.5 0.5 -4.5 0.7 -4.6 0.8 -4.6 1 -4.6 1.1 -4.7 1.2 -4.7 1.4 -4.7 1.6 -4.8 1.7 -4.8 1.8 -4.9 2.1 -4.9 2.2 -4.9 2.3 -5 2.5 -5 2.7 -5 2.8 -5.1 3 4 0.3 4 0.5 4.1 0.5 4.2 0.8 4.2 0.8 4.3 1.1 4.3 1.2 4.3 1.3 4.5 1.5 4.4 1.7 4.6 1.8 4.5 2 4.7 2.1 4.6 2.3 4.8 2.5 4.7 2.7 4.9 2.8 4.9 3 4.9 3.2 5 3.4 5 3.5 5.1 3.7 5.1 3.9 5.1 4.1z" fill="#05b200"/>
<path d="M409.7 572.1l4 0.3 4 0.4 4 0.6 4.2 0.7 4.2 0.9 4.2 1 4.3 1.2 4.3 1.3 4.4 1.5 4.4 1.6 4.5 1.8 4.6 2 4.5 2.1 4.7 2.3 4.7 2.4 4.7 2.7 4.8 2.8 4.9 2.9 4.8 3.2 5 3.3 5 3.5 5 3.7 5.1 3.8 5.1 4.1 5.2 4.2 1.8 0 5.1-4.2 5.1-3.9 5.1-3.8 5-3.5 5-3.4 5-3.2 4.8-3.1 4.9-2.8 4.8-2.7 4.7-2.4 4.7-2.4 4.6-2.1 4.6-2 4.5-1.8 4.5-1.6 4.4-1.5 4.4-1.3 4.3-1.2 4.3-0.9 4.2-0.9 4.2-0.7 4.1-0.5 4-0.4 4-0.2 4-0.1 -4.9-3 -4.8-2.8 -4.8-2.7 -4.8-2.5 -4.7-2.4 -4.7-2.3 -4.7-2.1 -4.6-1.9 -4.6-1.8 -4.6-1.7 -4.5-1.6 -4.5-1.4 -4.5-1.2 -4.4-1.2 -4.4-1 -4.3-0.9 -4.4-0.7 -4.2-0.6 -4.3-0.5 -4.2-0.4 -4.1-0.3 -4.2-0.1 -4 0 -4.1 0 -4 0.3 -3.9 0.3 -4-0.5 -4-0.4 -4.1-0.3 -4-0.2 -4.2 0 -4.1 0.1 -4.2 0.2 -4.3 0.3 -4.3 0.5 -4.3 0.6 -4.3 0.7 -4.4 0.9 -4.5 1 -4.4 1.1 -4.5 1.3 -4.6 1.4 -4.6 1.5 -4.6 1.7 -4.6 1.9 -4.7 2 -4.7 2.1 -4.8 2.3 -4.8 2.4 -4.8 2.6 -4.8 2.7z" fill="#07b400"/>
<path d="M409.7 572.1l3.8 0.3 3.9 0.4 4 0.6 4 0.7 4 0.8 4.1 0.9 4.1 1.1 4.2 1.3 4.3 1.4 4.2 1.5 4.4 1.7 4.4 1.8 4.4 2 4.5 2.2 4.5 2.3 4.6 2.4 4.6 2.7 4.6 2.7 4.8 3 4.7 3.1 4.8 3.3 4.9 3.4 4.8 3.6 5 3.8 5 4 8.1 0 1.8-0.1 5-3.8 4.9-3.7 4.9-3.5 4.8-3.3 4.8-3.2 4.8-3 4.7-2.8 4.6-2.7 4.6-2.5 4.6-2.3 4.5-2.1 4.5-2.1 4.4-1.8 4.3-1.7 4.3-1.5 4.3-1.4 4.2-1.2 4.2-1.1 4.1-0.9 4.1-0.8 4-0.7 4-0.5 3.9-0.3 3.9-0.3 3.8 0 -4.9-3 -4.8-2.8 -4.8-2.7 -4.8-2.5 -4.7-2.4 -4.7-2.3 -4.7-2.1 -4.6-1.9 -4.6-1.8 -4.6-1.7 -4.5-1.6 -4.5-1.4 -4.5-1.2 -4.4-1.2 -4.4-1 -4.3-0.9 -4.4-0.7 -4.2-0.6 -4.3-0.5 -4.2-0.4 -4.1-0.3 -4.2-0.1 -4 0 -4.1 0 -4 0.3 -3.9 0.3 -4-0.5 -4-0.4 -4.1-0.3 -4-0.2 -4.2 0 -4.1 0.1 -4.2 0.2 -4.3 0.3 -4.3 0.5 -4.3 0.6 -4.3 0.7 -4.4 0.9 -4.5 1 -4.4 1.1 -4.5 1.3 -4.6 1.4 -4.6 1.5 -4.6 1.7 -4.6 1.9 -4.7 2 -4.7 2.1 -4.8 2.3 -4.8 2.4 -4.8 2.6 -4.8 2.7z" fill="#09b700"/>
<path d="M409.7 572.1l3.9 0.3 3.9 0.4 3.9 0.6 4.1 0.7 4 0.8 4.2 1 4.1 1.1 4.2 1.3 4.3 1.4 4.3 1.5 4.4 1.7 4.4 1.9 4.5 2 4.5 2.2 4.5 2.3 4.6 2.5 4.7 2.7 4.7 2.8 4.7 3 4.8 3.1 4.9 3.3 4.9 3.5 4.9 3.7 5 3.8 2 0.1 10 0 6.5-0.2 5-3.7 4.9-3.5 4.8-3.4 4.8-3.2 4.8-3 4.7-2.9 4.7-2.7 4.7-2.5 4.5-2.3 4.6-2.2 4.5-2 4.4-1.9 4.4-1.7 4.3-1.5 4.3-1.4 4.3-1.3 4.2-1.1 4.1-0.9 4.1-0.8 4-0.6 4-0.6 4-0.3 3.9-0.2 3.8-0.1 -4.9-3 -4.8-2.8 -4.8-2.7 -4.8-2.5 -4.7-2.4 -4.7-2.3 -4.7-2.1 -4.6-1.9 -4.6-1.8 -4.6-1.7 -4.5-1.6 -4.5-1.4 -4.5-1.2 -4.4-1.2 -4.4-1 -4.3-0.9 -4.4-0.7 -4.2-0.6 -4.3-0.5 -4.2-0.4 -4.1-0.3 -4.2-0.1 -4 0 -4.1 0 -4 0.3 -3.9 0.3 -4-0.5 -4-0.4 -4.1-0.3 -4-0.2 -4.2 0 -4.1 0.1 -4.2 0.2 -4.3 0.3 -4.3 0.5 -4.3 0.6 -4.3 0.7 -4.4 0.9 -4.5 1 -4.4 1.1 -4.5 1.3 -4.6 1.4 -4.6 1.5 -4.6 1.7 -4.6 1.9 -4.7 2 -4.7 2.1 -4.8 2.3 -4.8 2.4 -4.8 2.6 -4.8 2.7z" fill="#0bb900"/>
<path d="M409.7 572.1l3.9 0.3 3.9 0.4 4 0.6 4 0.7 4.1 0.8 4.2 1 4.2 1.1 4.2 1.3 4.3 1.4 4.3 1.6 4.4 1.7 4.5 1.9 4.5 2 4.5 2.2 4.6 2.4 4.6 2.5 4.7 2.7 4.7 2.9 4.8 3 4.8 3.2 4.9 3.3 4.9 3.5 5 3.7 6.4 0.1 9.7 0 9.8-0.1 1.5-0.1 5-3.6 4.9-3.4 4.8-3.2 4.8-3 4.7-2.9 4.7-2.7 4.7-2.5 4.6-2.4 4.6-2.2 4.5-2 4.4-1.9 4.4-1.7 4.4-1.6 4.3-1.4 4.3-1.2 4.2-1.1 4.1-1 4.1-0.8 4.1-0.6 4-0.5 3.9-0.4 3.9-0.2 3.9-0.1 -4.9-3 -4.8-2.8 -4.8-2.7 -4.8-2.5 -4.7-2.4 -4.7-2.3 -4.7-2.1 -4.6-1.9 -4.6-1.8 -4.6-1.7 -4.5-1.6 -4.5-1.4 -4.5-1.2 -4.4-1.2 -4.4-1 -4.3-0.9 -4.4-0.7 -4.2-0.6 -4.3-0.5 -4.2-0.4 -4.1-0.3 -4.2-0.1 -4 0 -4.1 0 -4 0.3 -3.9 0.3 -4-0.5 -4-0.4 -4.1-0.3 -4-0.2 -4.2 0 -4.1 0.1 -4.2 0.2 -4.3 0.3 -4.3 0.5 -4.3 0.6 -4.3 0.7 -4.4 0.9 -4.5 1 -4.4 1.1 -4.5 1.3 -4.6 1.4 -4.6 1.5 -4.6 1.7 -4.6 1.9 -4.7 2 -4.7 2.1 -4.8 2.3 -4.8 2.4 -4.8 2.6 -4.8 2.7z" fill="#0dbc00"/>
<path d="M409.7 572.1l3.9 0.3 3.9 0.4 4 0.6 4.1 0.7 4.1 0.8 4.2 1 4.2 1.2 4.2 1.2 4.3 1.5 4.4 1.6 4.4 1.7 4.5 1.9 4.5 2 4.5 2.3 4.6 2.3 4.7 2.6 4.7 2.7 4.7 2.8 4.8 3.1 4.9 3.2 4.8 3.4 5 3.5 1.6 0.1 9.4 0.1 9.4 0 9.5-0.2 7-0.2 4.9-3.4 4.8-3.2 4.8-3.1 4.8-2.9 4.7-2.7 4.6-2.5 4.6-2.4 4.6-2.2 4.5-2 4.5-1.9 4.4-1.7 4.4-1.6 4.3-1.4 4.2-1.2 4.2-1.1 4.2-1 4.1-0.8 4.1-0.6 4-0.5 3.9-0.4 3.9-0.2 3.9-0.1 -4.9-3 -4.8-2.8 -4.8-2.7 -4.8-2.5 -4.7-2.4 -4.7-2.3 -4.7-2.1 -4.6-1.9 -4.6-1.8 -4.6-1.7 -4.5-1.6 -4.5-1.4 -4.5-1.2 -4.4-1.2 -4.4-1 -4.3-0.9 -4.4-0.7 -4.2-0.6 -4.3-0.5 -4.2-0.4 -4.1-0.3 -4.2-0.1 -4 0 -4.1 0 -4 0.3 -3.9 0.3 -4-0.5 -4-0.4 -4.1-0.3 -4-0.2 -4.2 0 -4.1 0.1 -4.2 0.2 -4.3 0.3 -4.3 0.5 -4.3 0.6 -4.3 0.7 -4.4 0.9 -4.5 1 -4.4 1.1 -4.5 1.3 -4.6 1.4 -4.6 1.5 -4.6 1.7 -4.6 1.9 -4.7 2 -4.7 2.1 -4.8 2.3 -4.8 2.4 -4.8 2.6 -4.8 2.7z" fill="#0fbe00"/>
<path d="M409.7 572.1l3.9 0.3 4 0.4 4 0.6 4 0.7 4.1 0.8 4.2 1 4.2 1.2 4.3 1.3 4.3 1.4 4.3 1.6 4.4 1.7 4.5 1.9 4.5 2.1 4.6 2.2 4.6 2.4 4.6 2.5 4.7 2.7 4.8 2.9 4.8 3 4.8 3.2 4.9 3.4 6.9 0.2 9 0.1 9.1 0 9.1-0.1 9.1-0.3 3.8-0.2 4.8-3.2 4.8-3 4.7-2.9 4.7-2.7 4.6-2.5 4.6-2.4 4.6-2.2 4.5-2 4.4-1.9 4.4-1.7 4.4-1.5 4.3-1.4 4.2-1.3 4.2-1 4.2-1 4.1-0.8 4-0.6 4-0.5 4-0.4 3.8-0.2 3.9-0.1 -4.9-3 -4.8-2.8 -4.8-2.7 -4.8-2.5 -4.7-2.4 -4.7-2.3 -4.7-2.1 -4.6-1.9 -4.6-1.8 -4.6-1.7 -4.5-1.6 -4.5-1.4 -4.5-1.2 -4.4-1.2 -4.4-1 -4.3-0.9 -4.4-0.7 -4.2-0.6 -4.3-0.5 -4.2-0.4 -4.1-0.3 -4.2-0.1 -4 0 -4.1 0 -4 0.3 -3.9 0.3 -4-0.5 -4-0.4 -4.1-0.3 -4-0.2 -4.2 0 -4.1 0.1 -4.2 0.2 -4.3 0.3 -4.3 0.5 -4.3 0.6 -4.3 0.7 -4.4 0.9 -4.5 1 -4.4 1.1 -4.5 1.3 -4.6 1.4 -4.6 1.5 -4.6 1.7 -4.6 1.9 -4.7 2 -4.7 2.1 -4.8 2.3 -4.8 2.4 -4.8 2.6 -4.8 2.7z" fill="#1ac000"/>
<path d="M409.7 572.1l3.9 0.3 3.9 0.4 4 0.6 4.1 0.7 4.1 0.8 4.1 1 4.2 1.1 4.3 1.3 4.3 1.4 4.3 1.6 4.4 1.8 4.4 1.8 4.5 2.1 4.6 2.2 4.6 2.4 4.6 2.5 4.7 2.7 4.7 2.8 4.8 3 4.9 3.2 3.7 0.2 8.7 0.2 8.7 0.1 8.7 0 8.8-0.1 8.7-0.3 8.7-0.4 1.6-0.1 4.7-2.9 4.7-2.9 4.7-2.6 4.6-2.5 4.5-2.3 4.5-2.2 4.5-2 4.4-1.8 4.4-1.7 4.3-1.5 4.3-1.4 4.2-1.2 4.1-1.1 4.1-0.9 4.1-0.8 4-0.7 4-0.5 3.9-0.3 3.9-0.3 3.8 0 -4.9-3 -4.8-2.8 -4.8-2.7 -4.8-2.5 -4.7-2.4 -4.7-2.3 -4.7-2.1 -4.6-1.9 -4.6-1.8 -4.6-1.7 -4.5-1.6 -4.5-1.4 -4.5-1.2 -4.4-1.2 -4.4-1 -4.3-0.9 -4.4-0.7 -4.2-0.6 -4.3-0.5 -4.2-0.4 -4.1-0.3 -4.2-0.1 -4 0 -4.1 0 -4 0.3 -3.9 0.3 -4-0.5 -4-0.4 -4.1-0.3 -4-0.2 -4.2 0 -4.1 0.1 -4.2 0.2 -4.3 0.3 -4.3 0.5 -4.3 0.6 -4.3 0.7 -4.4 0.9 -4.5 1 -4.4 1.1 -4.5 1.3 -4.6 1.4 -4.6 1.5 -4.6 1.7 -4.6 1.9 -4.7 2 -4.7 2.1 -4.8 2.3 -4.8 2.4 -4.8 2.6 -4.8 2.7z" fill="#2ec100"/>
<path d="M409.7 572.1l3.9 0.3 3.9 0.4 3.9 0.6 4 0.7 4.1 0.8 4.1 1 4.2 1.1 4.2 1.2 4.3 1.4 4.3 1.6 4.3 1.7 4.4 1.9 4.5 2 4.5 2.1 4.5 2.4 4.7 2.5 4.6 2.6 4.7 2.8 4.7 3 1.7 0.1 8.3 0.3 8.3 0.2 8.4 0.1 8.4 0 8.4-0.1 8.4-0.2 8.4-0.4 8.2-0.5 0.8-0.1 4.8-2.8 4.8-2.7 4.8-2.5 4.7-2.4 4.7-2.2 4.6-2 4.6-1.8 4.5-1.6 4.4-1.5 4.4-1.3 4.4-1.2 4.3-1 4.2-0.9 4.2-0.7 4.1-0.5 4.1-0.4 4-0.2 4-0.1 -4.9-3 -4.8-2.8 -4.8-2.7 -4.8-2.5 -4.7-2.4 -4.7-2.3 -4.7-2.1 -4.6-1.9 -4.6-1.8 -4.6-1.7 -4.5-1.6 -4.5-1.4 -4.5-1.2 -4.4-1.2 -4.4-1 -4.3-0.9 -4.4-0.7 -4.2-0.6 -4.3-0.5 -4.2-0.4 -4.1-0.3 -4.2-0.1 -4 0 -4.1 0 -4 0.3 -3.9 0.3 -4-0.5 -4-0.4 -4.1-0.3 -4-0.2 -4.2 0 -4.1 0.1 -4.2 0.2 -4.3 0.3 -4.3 0.5 -4.3 0.6 -4.3 0.7 -4.4 0.9 -4.5 1 -4.4 1.1 -4.5 1.3 -4.6 1.4 -4.6 1.5 -4.6 1.7 -4.6 1.9 -4.7 2 -4.7 2.1 -4.8 2.3 -4.8 2.4 -4.8 2.6 -4.8 2.7z" fill="#42c200"/>
<path d="M409.7 572.1l3.8 0.3 3.8 0.4 3.9 0.5 4 0.7 4 0.8 4 1 4.1 1.1 4.2 1.2 4.2 1.3 4.2 1.6 4.3 1.6 4.3 1.8 4.4 2 4.4 2.1 4.5 2.2 4.5 2.4 4.6 2.6 4.6 2.7 1 0.1 7.8 0.4 7.9 0.3 8 0.2 8 0.1 8.1 0 8-0.1 8.1-0.2 8-0.4 7.9-0.5 7.8-0.5 1.5-0.2 4.7-2.5 4.6-2.4 4.6-2.2 4.6-2.1 4.4-1.9 4.5-1.7 4.4-1.6 4.3-1.4 4.3-1.3 4.2-1.1 4.2-1 4.1-0.8 4.1-0.6 4-0.5 4-0.4 3.9-0.2 3.9-0.1 -4.9-3 -4.8-2.8 -4.8-2.7 -4.8-2.5 -4.7-2.4 -4.7-2.3 -4.7-2.1 -4.6-1.9 -4.6-1.8 -4.6-1.7 -4.5-1.6 -4.5-1.4 -4.5-1.2 -4.4-1.2 -4.4-1 -4.3-0.9 -4.4-0.7 -4.2-0.6 -4.3-0.5 -4.2-0.4 -4.1-0.3 -4.2-0.1 -4 0 -4.1 0 -4 0.3 -3.9 0.3 -4-0.5 -4-0.4 -4.1-0.3 -4-0.2 -4.2 0 -4.1 0.1 -4.2 0.2 -4.3 0.3 -4.3 0.5 -4.3 0.6 -4.3 0.7 -4.4 0.9 -4.5 1 -4.4 1.1 -4.5 1.3 -4.6 1.4 -4.6 1.5 -4.6 1.7 -4.6 1.9 -4.7 2 -4.7 2.1 -4.8 2.3 -4.8 2.4 -4.8 2.6 -4.8 2.7z" fill="#56c300"/>
<path d="M409.7 572.1l3.9 0.3 4 0.4 4 0.6 4.1 0.7 4.2 0.9 4.1 1 4.3 1.1 4.3 1.3 4.3 1.5 4.4 1.6 4.4 1.7 4.5 2 4.6 2 4.6 2.3 4.6 2.4 4.7 2.6 1.9 0.1 7.4 0.5 7.4 0.4 7.6 0.3 7.6 0.2 7.7 0.1 7.6 0 7.7-0.2 7.7-0.2 7.6-0.3 7.6-0.4 7.5-0.6 7.4-0.6 4.3-0.5 4.5-2.2 4.4-2.1 4.4-1.9 4.3-1.7 4.3-1.6 4.2-1.4 4.2-1.3 4.2-1.2 4-1 4.1-0.8 4-0.8 3.9-0.5 3.9-0.5 3.9-0.3 3.8-0.2 0 0 0.8-1.2 -5-3 -5-2.8 -4.9-2.7 -4.8-2.5 -4.9-2.4 -4.8-2.2 -4.7-2.1 -4.8-1.9 -4.7-1.8 -4.6-1.6 -4.7-1.5 -4.5-1.3 -4.6-1.2 -4.5-1.1 -4.5-1 -4.4-0.8 -4.4-0.6 -4.3-0.6 -4.3-0.4 -4.3-0.3 -4.2-0.1 -4.2 0 -4.2 0 -4.1 0.3 -4 0.3 -4-0.5 -4-0.4 -4.1-0.3 -4-0.2 -4.2 0 -4.1 0.1 -4.2 0.2 -4.3 0.3 -4.3 0.5 -4.3 0.6 -4.3 0.7 -4.4 0.9 -4.5 1 -4.4 1.1 -4.5 1.3 -4.6 1.4 -4.6 1.5 -4.6 1.7 -4.6 1.9 -4.7 2 -4.7 2.1 -4.8 2.3 -4.8 2.4 -4.8 2.6 -4.8 2.7z" fill="#69c200"/>
<path d="M409.7 572.1l3.7 0.3 3.8 0.4 3.9 0.5 3.9 0.7 3.9 0.8 4 0.9 4 1 4.1 1.2 4.1 1.4 4.2 1.4 4.2 1.6 4.3 1.8 4.3 1.9 4.3 2 4.4 2.2 4.8 0.5 6.9 0.5 7 0.5 7.1 0.4 7.2 0.2 7.2 0.2 7.3 0.1 7.3 0 7.3-0.1 7.3-0.2 7.2-0.3 7.2-0.4 7.2-0.5 7-0.6 6.8-0.8 6.8-0.8 3.8-0.5 4.4-1.9 4.5-1.8 4.3-1.5 4.4-1.4 4.2-1.3 4.3-1.1 4.1-1 4.2-0.8 4-0.6 4.1-0.5 1.8-1.2 1.9-1.8 1.2-1.8 0-0.1 -4.9-2.8 -4.9-2.7 -4.9-2.5 -4.9-2.4 -4.8-2.2 -4.7-2.1 -4.8-1.9 -4.7-1.8 -4.6-1.6 -4.6-1.5 -4.6-1.3 -4.6-1.2 -4.5-1.1 -4.5-1 -4.4-0.8 -4.4-0.6 -4.3-0.6 -4.3-0.4 -4.3-0.3 -4.2-0.1 -4.2 0 -4.2 0 -4.1 0.3 -4 0.3 -4-0.5 -4-0.4 -4.1-0.3 -4-0.2 -4.2 0 -4.1 0.1 -4.2 0.2 -4.3 0.3 -4.3 0.5 -4.3 0.6 -4.3 0.7 -4.4 0.9 -4.5 1 -4.4 1.1 -4.5 1.3 -4.6 1.4 -4.6 1.5 -4.6 1.7 -4.6 1.9 -4.7 2 -4.7 2.1 -4.8 2.3 -4.8 2.4 -4.8 2.6 -4.8 2.7z" fill="#7cc000"/>
<path d="M412 570.7l0.4 0.4 1.6 1.3 4 0.5 4.1 0.6 4.1 0.7 4.1 0.9 4.2 1 4.3 1.2 4.3 1.3 4.4 1.5 4.4 1.6 4.4 1.8 4.6 1.9 4.4 0.6 6.2 0.7 6.4 0.6 6.6 0.5 6.6 0.5 6.7 0.3 6.8 0.2 6.9 0.2 6.8 0.1 6.9 0 6.9-0.1 6.9-0.2 6.9-0.3 6.8-0.4 6.7-0.4 6.7-0.6 6.5-0.7 6.3-0.7 6.2-0.9 5.9-1 5.7-1 5.3-1.2 5-1.3 4.6-1.3 4.1-1.4 3.6-1.5 3-1.6 2.5-1.6 1.8-1.7 1.2-1.7 0.4-1 -4.9-2.6 -4.9-2.5 -4.8-2.4 -4.8-2.2 -4.7-2 -4.7-1.9 -4.7-1.8 -4.6-1.6 -4.6-1.5 -4.6-1.3 -4.5-1.2 -4.5-1.1 -4.5-0.9 -4.4-0.8 -4.3-0.6 -4.4-0.6 -4.3-0.4 -4.2-0.3 -4.2-0.1 -4.2 0 -4.1 0 -4.1 0.3 -4 0.3 -4.1-0.5 -4.1-0.4 -4.1-0.3 -4.2-0.2 -4.2 0 -4.2 0.1 -4.3 0.2 -4.4 0.4 -4.4 0.5 -4.4 0.6 -4.4 0.8 -4.5 0.9 -4.6 1.1 -4.5 1.2 -4.7 1.3 -4.6 1.5 -4.7 1.6 -4.7 1.8 -4.8 1.9 -4.8 2.1 -4.8 2.3 -4.9 2.4 -4.9 2.5 -4.9 2.7z" fill="#8ebd00"/>
<path d="M417.3 567.7l1.1 1.1 1.9 1.6 2.5 1.4 2.9 1.4 3.4 1.4 2.2 0.7 3.7 0.9 3.6 1 3.7 1.1 4.3 1 5.2 1 5.3 0.9 5.6 0.8 5.8 0.7 5.9 0.6 6 0.6 6.2 0.5 6.2 0.4 6.3 0.3 6.4 0.2 6.4 0.2 6.5 0 6.4 0 6.5-0.1 6.5-0.1 6.4-0.3 6.5-0.4 6.3-0.4 6.2-0.5 6.2-0.6 6-0.7 5.8-0.9 5.6-0.8 5.3-1 5.1-1.1 4.7-1.2 4.3-1.2 3.9-1.4 3.4-1.4 2.9-1.4 2.4-1.5 1.8-1.6 1.2-1.6 0.6-1.5 0-0.4 -4.8-2.4 -4.8-2.3 -4.7-2.2 -4.7-2 -4.7-1.9 -4.6-1.7 -4.6-1.6 -4.6-1.4 -4.5-1.3 -4.5-1.2 -4.4-1.1 -4.4-0.9 -4.4-0.7 -4.3-0.7 -4.3-0.5 -4.3-0.4 -4.2-0.3 -4.2-0.1 -4.1 0 -4.1 0 -4 0.3 -4 0.3 -4.1-0.5 -4.1-0.4 -4.1-0.3 -4.1-0.2 -4.2 0 -4.3 0.1 -4.3 0.2 -4.3 0.4 -4.4 0.5 -4.4 0.6 -4.4 0.8 -4.5 0.9 -4.5 1 -4.6 1.2 -4.6 1.4 -4.6 1.4 -4.7 1.6 -4.7 1.8 -4.7 1.9 -4.8 2.1 -4.8 2.2 -4.9 2.4 -4.9 2.6z" fill="#9cb600"/>
<path d="M525.9 543.2l-1.3 0 -4-0.5 -4-0.4 -4.1-0.2 -4.1-0.2 -4.2 0 -4.2 0.1 -4.2 0.3 -4.2 0.3 -4.4 0.5 -4.3 0.6 -4.4 0.8 -4.4 0.9 -4.5 1 -4.5 1.2 -4.5 1.3 -4.6 1.4 -4.6 1.6 -4.6 1.7 -4.7 1.9 -4.7 2 -4.7 2.2 -4.8 2.3 -4.8 2.5 0.3 0.6 1.3 1.4 1.9 1.4 2.3 1.4 2.8 1.3 3.3 1.2 3.6 1.2 3.9 1.2 4.3 1 4.6 1 4.8 0.9 5 0.8 5.3 0.7 5.3 0.7 5.6 0.6 5.6 0.5 5.7 0.5 5.9 0.3 5.9 0.3 5.9 0.2 6 0.2 6 0 6 0 6.1-0.1 6-0.1 6-0.3 6-0.3 5.9-0.4 5.9-0.5 5.7-0.5 5.6-0.7 5.4-0.7 5.3-0.9 5-0.9 4.7-1 4.4-1 4.1-1.2 3.7-1.2 3.2-1.3 2.8-1.4 2.2-1.4 1.8-1.4 1.1-1.5 0.6-1.4 0.1-1.5 -0.1 0 -4.8-2.3 -4.9-2.2 -4.8-2 -4.7-1.8 -4.7-1.8 -4.7-1.5 -4.7-1.4 -4.6-1.3 -4.6-1.1 -4.5-1 -4.5-0.8 -4.4-0.8 -4.4-0.5 -4.4-0.5 -4.3-0.3 -4.3-0.2 -4.3-0.1 -4.2 0.1 -4.1 0.2z" fill="#a4ab00"/>
<path d="M532.1 542.8l-3.2-0.1 -4.7-0.1 -4.7 0 -0.2 0 -4.1-0.4 -4.2-0.2 -4.2-0.1 -4.2 0 -4.3 0.2 -4.3 0.3 -4.4 0.4 -4.4 0.6 -4.4 0.7 -4.5 0.8 -4.5 1 -4.6 1.1 -4.6 1.3 -4.6 1.4 -4.7 1.5 -4.7 1.7 -4.7 1.9 -4.8 2 -4.8 2.2 -4.9 2.3 0.1 0.2 0.7 1.4 1.3 1.3 1.8 1.3 2.2 1.2 2.6 1.2 3.1 1.2 3.3 1.1 3.7 1 4 0.9 4.3 0.9 4.4 0.8 4.7 0.8 4.8 0.7 5 0.6 5.1 0.5 5.3 0.5 5.3 0.4 5.3 0.3 5.5 0.3 5.5 0.2 5.5 0.1 5.6 0 5.5 0 5.6 0 5.6-0.2 5.5-0.2 5.5-0.3 5.5-0.4 5.4-0.4 5.3-0.5 5.2-0.6 5-0.7 4.9-0.7 4.6-0.9 4.4-0.9 4.2-1 3.7-1 3.5-1.1 3-1.2 2.6-1.2 2.1-1.3 1.7-1.3 1.1-1.4 0.6-1.3 0.1-1.4 -0.4-1.3 -0.1-0.2 -4.9-2.1 -4.7-1.9 -4.8-1.7 -4.7-1.7 -4.6-1.4 -4.6-1.4 -4.6-1.2 -4.5-1 -4.5-0.9 -4.5-0.8 -4.4-0.7 -4.4-0.5 -4.3-0.4 -4.3-0.2 -4.3-0.1 -4.2 0z" fill="#ab9f00"/>
<path d="M539.9 542.7l-3.2-0.2 -4.3-0.2 -4.3-0.1 -4.3-0.1 -4.3 0 -4.4 0 -2 0 -4.2-0.2 -4.2 0 -4.2 0.1 -4.3 0.2 -4.4 0.4 -4.4 0.5 -4.4 0.6 -4.5 0.8 -4.5 0.9 -4.5 1 -4.6 1.2 -4.6 1.4 -4.7 1.4 -4.6 1.7 -4.8 1.8 -4.7 1.9 -4.8 2.1 -0.1 0.3 0.3 1.2 0.8 1.2 1.2 1.2 1.6 1.2 2.1 1.1 2.5 1.1 2.7 1 3.2 1 3.4 0.9 3.6 0.9 3.9 0.8 4.1 0.7 4.3 0.7 4.4 0.6 4.6 0.5 4.6 0.5 4.8 0.4 4.8 0.4 4.9 0.3 5 0.2 5 0.2 5 0.1 5.1 0.1 5.1 0 5.1-0.1 5-0.1 5.1-0.2 5-0.3 5-0.3 4.9-0.4 4.8-0.5 4.8-0.5 4.6-0.6 4.4-0.7 4.3-0.7 4-0.8 3.8-0.9 3.5-1 3.2-1 2.8-1 2.4-1.2 2-1.1 1.5-1.2 1.1-1.2 0.6-1.3 0.1-1.2 -0.3-1.2 -0.8-1.2 -0.9-0.8 -4.5-1.7 -4.4-1.6 -4.5-1.4 -4.4-1.3 -4.3-1.2 -4.3-1.1 -4.3-0.9 -4.3-0.8 -4.2-0.7 -4.2-0.6 -4.1-0.4 -4.1-0.3 -4.1-0.2z" fill="#a38d08"/>
<path d="M551.3 543.2l-1-0.1 -3.8-0.3 -3.8-0.3 -3.8-0.2 -3.9-0.2 -3.9-0.2 -3.8-0.1 -4-0.1 -3.9 0 -3.9 0 -3.9 0.1 -4 0 -2.1 0.1 -4.1 0.1 -4.1 0.2 -4.1 0.3 -4.2 0.4 -4.2 0.5 -4.2 0.7 -4.3 0.8 -4.3 0.9 -4.4 1.1 -4.4 1.2 -4.4 1.3 -4.4 1.5 -4.5 1.6 -4.5 1.7 -0.5 0.9 -0.1 1.1 0.3 1.1 0.7 1.1 1.2 1 1.5 1.1 1.9 1 2.2 0.9 2.6 0.9 2.8 0.9 3.1 0.8 3.3 0.8 3.5 0.7 3.7 0.6 3.8 0.6 4 0.5 4.1 0.5 4.2 0.4 4.2 0.4 4.3 0.3 4.4 0.3 4.5 0.2 4.4 0.1 4.5 0.1 4.5 0.1 4.6 0 4.5-0.1 4.6-0.1 4.5-0.2 4.5-0.2 4.4-0.3 4.4-0.3 4.4-0.4 4.2-0.5 4.1-0.5 4-0.6 3.9-0.7 3.6-0.7 3.4-0.8 3.2-0.8 2.9-0.9 2.5-0.9 2.2-1 1.8-1.1 1.5-1 1-1.1 0.6-1.1 0.1-1.1 -0.3-1.1 -0.7-1.1 -1-1 -1.5-1 -1.8-1 -1-0.5 -4.6-1.4 -4.6-1.2 -4.5-1.1 -4.5-1 -4.5-0.9 -4.4-0.7 -4.4-0.5z" fill="#9a7a10"/>
<path d="M559.5 544.3l-3.1-0.4 -3.2-0.4 -3.3-0.4 -3.3-0.3 -3.3-0.3 -3.4-0.3 -3.3-0.2 -3.5-0.2 -3.4-0.1 -3.4-0.1 -3.5-0.1 -3.4 0 -3.5 0 -3.5 0 -3.5 0.1 -3.4 0.1 -3.5 0.2 -3.5 0.2 -3.5 0.2 -0.5 0.1 -3.9 0.3 -4.1 0.5 -4 0.6 -4.1 0.7 -4.2 0.8 -4.1 1 -4.2 1.1 -4.2 1.2 -4.3 1.3 -1 0.6 -1.1 0.9 -0.8 0.9 -0.4 0.9 -0.1 1 0.4 0.9 0.6 1 1.1 0.9 1.3 0.9 1.7 0.8 2 0.8 2.3 0.8 2.5 0.8 2.7 0.7 2.9 0.6 3 0.6 3.3 0.6 3.3 0.5 3.5 0.4 3.5 0.4 3.7 0.4 3.7 0.3 3.7 0.3 3.8 0.2 3.9 0.2 3.9 0.1 3.9 0.1 3.9 0 3.9 0 4 0 3.9-0.1 3.9-0.2 3.9-0.2 3.9-0.2 3.8-0.3 3.8-0.3 3.7-0.4 3.6-0.5 3.5-0.5 3.3-0.6 3.2-0.6 3-0.6 2.8-0.8 2.5-0.7 2.3-0.8 2-0.9 1.6-0.9 1.3-0.9 0.9-0.9 0.6-1 0.1-0.9 -0.2-1 -0.5-0.9 -0.9-0.9 -1.3-0.9 -1.5-0.9 -1.9-0.8 -2-0.8 -2.3-0.7 -2.5-0.7 -2.7-0.6 -2.8-0.6 -3-0.6z" fill="#9a6d17"/>
<path d="M553 543.9l-2.6-0.3 -2.7-0.4 -2.7-0.3 -2.8-0.3 -2.7-0.2 -2.9-0.2 -2.8-0.2 -2.9-0.2 -2.9-0.1 -2.9-0.1 -2.9 0 -2.9 0 -2.9 0 -2.9 0 -3 0.1 -2.9 0.1 -2.9 0.1 -3 0.1 -2.9 0.2 -2.9 0.3 -2.8 0.2 -2.8 0.4 -2.8 0.3 -2.7 0.4 -2.6 0.4 -2.6 0.5 -2.4 0.5 -2.2 0.5 -2.1 0.6 -1.9 0.7 -1.7 0.6 -1.4 0.7 -1.2 0.8 -0.9 0.7 -0.6 0.8 -0.3 0.8 0 0.7 0.3 0.8 0.6 0.8 0.9 0.7 1.2 0.8 1.4 0.7 1.7 0.6 1.9 0.7 2.1 0.6 2.2 0.6 2.5 0.5 2.5 0.5 2.7 0.4 2.8 0.4 2.9 0.4 2.9 0.3 3 0.3 3.1 0.3 3.1 0.2 3.1 0.2 3.2 0.1 3.2 0.1 3.2 0.1 3.3 0 3.2 0 3.3 0 3.2-0.1 3.2-0.1 3.3-0.2 3.2-0.2 3.1-0.2 3.2-0.3 3-0.3 3-0.4 2.9-0.4 2.8-0.5 2.6-0.5 2.5-0.5 2.4-0.6 2.1-0.6 1.9-0.7 1.7-0.7 1.4-0.7 1.1-0.7 0.8-0.8 0.5-0.8 0.2-0.8 -0.1-0.7 -0.5-0.8 -0.7-0.8 -1-0.7 -1.2-0.7 -1.5-0.7 -1.8-0.7 -1.9-0.6 -2-0.5 -2.2-0.6 -2.4-0.5 -2.4-0.4z" fill="#a2641d"/>
<path d="M544.7 543.9l-1.9-0.3 -2.1-0.2 -2-0.3 -2.1-0.2 -2.1-0.2 -2.2-0.1 -2.1-0.2 -2.2-0.1 -2.2-0.1 -2.2 0 -2.2-0.1 -2.2 0 -2.2 0 -2.2 0 -2.2 0.1 -2.2 0.1 -2.3 0.1 -2.2 0.1 -2.2 0.1 -2.2 0.2 -2.1 0.2 -2.2 0.2 -2 0.3 -2.1 0.3 -1.9 0.3 -1.9 0.4 -1.8 0.4 -1.7 0.4 -1.6 0.4 -1.4 0.5 -1.2 0.5 -1 0.5 -0.9 0.6 -0.6 0.5 -0.5 0.6 -0.1 0.6 0 0.5 0.3 0.6 0.5 0.6 0.7 0.5 0.9 0.6 1.1 0.5 1.3 0.5 1.4 0.5 1.6 0.4 1.7 0.4 1.8 0.4 1.9 0.4 2 0.3 2.1 0.3 2.1 0.2 2.2 0.3 2.3 0.2 2.2 0.2 2.3 0.1 2.4 0.2 2.3 0.1 2.4 0 2.4 0.1 2.3 0 2.4 0 2.4 0 2.4-0.1 2.4-0.1 2.4-0.1 2.4-0.1 2.3-0.2 2.3-0.2 2.3-0.2 2.2-0.3 2.2-0.3 2.1-0.3 2-0.4 1.8-0.4 1.8-0.4 1.6-0.5 1.5-0.4 1.2-0.6 1.1-0.5 0.9-0.5 0.6-0.6 0.4-0.6 0.2-0.6 -0.1-0.5 -0.2-0.6 -0.5-0.6 -0.7-0.5 -1-0.6 -1.1-0.5 -1.2-0.4 -1.4-0.5 -1.6-0.4 -1.6-0.4 -1.7-0.4 -1.9-0.4z" fill="#a85c20"/>
<path d="M531.1 545l-1-0.1 -0.9-0.2 -1-0.1 -0.9-0.1 -1-0.1 -1 0 -1-0.1 -1.1-0.1 -1 0 -1 0 -1.1 0 -1-0.1 -1 0 -1.1 0.1 -1 0 -1.1 0 -1 0.1 -1.1 0 -1 0.1 -1 0.1 -1 0.1 -1 0.1 -1 0.1 -0.9 0.1 -1 0.2 -0.8 0.2 -0.9 0.1 -0.7 0.2 -0.7 0.2 -0.7 0.3 -0.5 0.2 -0.5 0.2 -0.3 0.3 -0.3 0.2 -0.2 0.3 0 0.3 0 0.2 0.2 0.3 0.2 0.3 0.4 0.2 0.4 0.2 0.6 0.3 0.6 0.2 0.6 0.2 0.8 0.2 0.8 0.2 0.8 0.2 0.9 0.1 0.9 0.2 1 0.1 1 0.1 0.9 0.1 1.1 0.1 1 0.1 1 0.1 1.1 0 1.1 0.1 1 0 1.1 0 1.1 0 1.1 0 1 0 1.1 0 1.1 0 1.1-0.1 1.1-0.1 1 0 1.1-0.1 1-0.1 1-0.1 1-0.2 1-0.1 0.9-0.2 0.9-0.2 0.8-0.1 0.7-0.3 0.7-0.2 0.6-0.2 0.5-0.2 0.4-0.3 0.4-0.2 0.2-0.3 0.1-0.3 0-0.2 -0.1-0.3 -0.2-0.2 -0.3-0.3 -0.4-0.2 -0.5-0.3 -0.5-0.2 -0.7-0.2 -0.7-0.2 -0.7-0.2 -0.8-0.2 -0.9-0.2z" fill="#ac5620"/>
<path d="M525.2 627.1l-12.3-9.8 -11.9-8.8 -11.7-7.7M527.1 625.6l-11.7-9.4 -11.4-8.4 -11.2-7.4M529 624l-11.1-8.8 -10.8-8 -10.7-7.2M530.9 622.5l-15.6-12.2 -15.3-10.5M532.8 621l-14.7-11.5 -14.4-10M534.7 619.5l-13.8-10.7 -13.5-9.5M536.6 618.1l-12.9-10 -12.7-8.9M538.5 616.7l-12-9.3 -11.7-8.3M540.4 615.3l-11.1-8.5 -10.8-7.7M542.2 614l-10-7.8 -10-7.1M544.1 612.6l-18.1-13.4M545.9 611.3l-16.1-12M547.8 610l-14.1-10.5M549.6 608.8l-12.1-9.1M551.5 607.5l-10.1-7.5M553.3 606.3l-7.9-6M555.1 605.2l-5.8-4.5M557 604l-3.7-2.8M558.8 602.9l-1.5-1.2" fill="none" stroke="#000" stroke-opacity="0.31" stroke-width="1.0" shape-rendering="crispEdges"/>
<path d="M489.3 600.8l-12.4-7.3 -12-6.2 -11.7-5.1M492.8 600.4l-12.4-7.4 -12.1-6.3 -11.8-5.2M496.4 600l-12.5-7.5 -12.2-6.4 -11.9-5.3M500 599.8l-12.6-7.7 -12.3-6.6 -12-5.4M503.7 599.5l-12.8-7.8 -12.4-6.7 -12.1-5.5M507.4 599.3l-12.9-8 -12.5-6.8 -12.2-5.6M511 599.2l-12.9-8.1 -12.7-7 -12.2-5.8M514.8 599.1l-13.1-8.3 -12.8-7.1 -12.4-5.9M518.5 599.1l-13.2-8.5 -12.8-7.2 -12.6-6.1M522.2 599.1l-13.3-8.6 -12.9-7.4 -12.6-6.2M526 599.2l-13.4-8.8 -13.1-7.6 -12.7-6.3M529.8 599.3l-13.5-9 -13.2-7.7 -12.8-6.5M533.7 599.5l-13.7-9.2 -13.3-7.9 -13-6.6M537.5 599.7l-13.7-9.4 -13.5-8 -13.1-6.8M541.4 600l-13.9-9.6 -13.5-8.2 -13.3-6.9M545.4 600.3l-14.1-9.7 -13.7-8.4 -13.3-7.1M549.3 600.7l-14.2-9.9 -13.8-8.6 -13.5-7.3M553.3 601.2l-14.3-10.2 -14-8.7 -13.6-7.5M557.3 601.7l-14.5-10.4 -14.1-8.9 -13.7-7.7M560.6 601.8l-14.4-10.4 -14-9 -13.6-7.7M562.4 600.7l-13.7-9.9 -13.4-8.6 -13.1-7.5M564.2 599.6l-13.1-9.4 -12.7-8.2 -12.5-7.2M565.9 598.6l-12.3-8.9 -12.2-7.9 -11.9-6.9M567.7 597.6l-11.7-8.4 -11.5-7.5 -11.3-6.6M569.5 596.6l-11-7.9 -10.9-7.1 -10.7-6.3M571.3 595.6l-15.5-10.8 -15.1-9.3M573 594.7l-14.4-10.1 -14.2-8.7M574.8 593.8l-13.4-9.4 -13.2-8.2M576.5 592.9l-12.3-8.6 -12.2-7.7M578.2 592l-11.2-7.9 -11.1-7M580 591.2l-10.2-7.1 -10.1-6.5M581.7 590.4l-18.1-12.2M583.4 589.6l-15.9-10.8M585.1 588.8l-13.6-9.3M586.8 588.1l-11.4-7.8M588.5 587.3l-9.1-6.2M590.2 586.6l-6.8-4.6M591.9 586l-4.4-3.1M593.6 585.3l-2-1.4" fill="none" stroke="#000" stroke-opacity="0.44" stroke-width="1.0" shape-rendering="crispEdges"/>
<path d="M453.2 582.2l-13.8-4.8 -13.3-3.2M456.5 581.5l-13.9-4.9 -13.4-3.3M459.8 580.8l-9.4-3.5 -9.2-2.8 -8.9-2.2M463.1 580.1l-9.4-3.6 -9.3-2.8 -9-2.3M466.4 579.5l-9.5-3.7 -9.3-2.9 -9-2.3M469.8 578.9l-9.6-3.8 -9.3-3 -9.2-2.3M473.2 578.3l-9.7-3.8 -9.4-3.1 -9.2-2.4M476.5 577.8l-9.7-3.9 -9.5-3.2 -9.2-2.5M479.9 577.3l-9.8-4 -9.5-3.3 -9.4-2.5M483.4 576.9l-9.9-4.1 -9.6-3.4 -9.4-2.6M486.8 576.5l-9.9-4.2 -9.8-3.5 -9.4-2.7M490.3 576.1l-10.1-4.3 -9.8-3.5 -9.5-2.9M493.7 575.8l-10.1-4.4 -9.8-3.6 -9.7-3M497.2 575.5l-10.2-4.5 -9.9-3.7 -9.7-3M500.7 575.3l-10.2-4.6 -10-3.9 -9.8-3.1M504.3 575.1l-10.4-4.7 -10.1-4 -9.8-3.2M507.8 574.9l-10.4-4.8 -10.2-4.1 -9.9-3.3M511.4 574.8l-10.5-4.9 -10.3-4.2 -10-3.4M515 574.7l-10.6-5 -10.4-4.3 -10.1-3.5M518.6 574.7l-10.7-5.2 -10.4-4.4 -10.2-3.6M522.2 574.7l-10.8-5.3 -10.5-4.5 -10.3-3.7M525.9 574.8l-10.9-5.5 -10.6-4.6 -10.4-3.8M529.5 574.9l-10.9-5.6 -10.7-4.7 -10.5-3.9M533.2 575.1l-11-5.7 -10.8-4.9 -10.6-4.1M536.9 575.3l-11.1-5.9 -10.9-5 -10.7-4.1M540.7 575.5l-11.3-6 -11-5.1 -10.7-4.3M544.4 575.9l-11.3-6.2 -11.1-5.3 -10.8-4.4M548.2 576.2l-11.4-6.3 -11.2-5.4 -11-4.6M552 576.6l-11.5-6.4 -11.3-5.6 -11.1-4.7M555.9 577.1l-11.7-6.6 -11.4-5.7 -11.1-4.9M559.7 577.6l-11.7-6.8 -11.5-5.8 -11.3-5M563.6 578.2l-11.8-7 -11.7-6 -11.4-5.1M567.5 578.8l-11.9-7.1 -11.8-6.2 -11.5-5.3M571.5 579.5l-12.1-7.3 -11.9-6.4 -11.6-5.4M575.4 580.3l-12.2-7.5 -12-6.6 -11.7-5.5M579.4 581.1l-12.3-7.7 -12.1-6.7 -11.9-5.8M583.4 582l-12.4-7.9 -12.2-6.9 -12-5.9M587.5 582.9l-12.6-8.1 -12.3-7.1 -12.1-6.1M591.6 583.9l-12.8-8.3 -12.4-7.3 -12.2-6.3M595.2 584.7l-12.7-8.5 -12.4-7.3 -12.2-6.4M596.9 584.1l-12-8 -11.7-7 -11.6-6.1M598.5 583.5l-11.2-7.5 -11.1-6.6 -10.8-5.8M600.2 582.9l-15.7-10.1 -15.4-8.6M601.8 582.4l-14.6-9.5 -14.3-8M603.5 581.8l-13.5-8.7 -13.2-7.5M605.1 581.4l-12.4-8 -12.1-7.1M606.7 580.9l-11.2-7.3 -11-6.4M608.3 580.4l-10-6.5 -9.9-5.9M609.9 580l-17.6-11M611.5 579.6l-15.3-9.6M613.1 579.2l-12.9-8.2M614.7 578.8l-10.5-6.7M616.2 578.5l-8-5.2M617.8 578.2l-5.6-3.6M619.4 577.9l-3.1-2M620.9 577.6l-0.5-0.4" fill="none" stroke="#000" stroke-opacity="0.6" stroke-width="1.0" shape-rendering="crispEdges"/>
<path d="M426.1 574.2l-8.3-1.3 -8.1-0.8M429.2 573.3l-8.9-1.5 -8.7-0.8M432.3 572.3l-9.6-1.6 -9.3-0.8M435.4 571.4l-10.2-1.7 -9.9-0.9M438.6 570.6l-10.9-1.9 -10.6-0.9M441.7 569.8l-11.5-2.1 -11.2-1M444.9 569l-12.3-2.3 -11.8-1M448.1 568.2l-13-2.4 -12.4-1.1M451.2 567.5l-9.1-1.9 -8.9-1.3 -8.7-0.5M454.5 566.8l-9.7-2.1 -9.3-1.3 -9.2-0.6M457.7 566.1l-10.2-2.2 -9.8-1.4 -9.5-0.6M460.9 565.4l-10.6-2.3 -10.3-1.5 -10-0.6M464.1 564.8l-11.1-2.5 -10.7-1.6 -10.5-0.6M467.4 564.3l-11.6-2.7 -11.3-1.7 -10.9-0.6M470.7 563.7l-12.2-2.9 -11.7-1.7 -11.4-0.7M474 563.2l-12.7-3.1 -12.2-1.8 -11.9-0.7M477.3 562.7l-10-2.5 -9.7-1.9 -9.4-1.1 -9.2-0.4M480.6 562.3l-10.4-2.7 -10-2 -9.8-1.2 -9.6-0.3M483.9 561.9l-10.8-2.9 -10.4-2.1 -10.2-1.2 -9.9-0.4M487.3 561.5l-11.2-3.1 -10.9-2.2 -10.6-1.2 -10.2-0.4M490.6 561.2l-11.6-3.3 -11.3-2.3 -10.9-1.3 -10.6-0.4M494 560.9l-12-3.5 -11.7-2.4 -11.4-1.4 -10.9-0.4M497.4 560.7l-12.5-3.8 -12.1-2.5 -11.7-1.5 -11.4-0.4M500.8 560.4l-10.4-3.2 -10.1-2.5 -9.9-1.6 -9.6-1 -9.3-0.2M504.2 560.3l-10.7-3.5 -10.5-2.6 -10.2-1.7 -9.9-1 -9.7-0.2M507.7 560.1l-11.1-3.6 -10.8-2.7 -10.6-1.9 -10.2-1 -10-0.2M511.2 560l-11.5-3.8 -11.2-2.9 -10.9-2 -10.6-1 -10.3-0.2M514.6 559.9l-11.8-4 -11.6-3 -11.2-2.1 -10.9-1.1 -10.6-0.2M518.1 559.9l-12.2-4.2 -11.9-3.2 -11.6-2.2 -11.3-1.1 -10.9-0.2M521.7 559.9l-12.7-4.5 -12.3-3.3 -11.9-2.3 -11.6-1.2 -11.2-0.1M525.2 560l-10.9-4 -10.6-3.2 -10.4-2.4 -10.2-1.6 -9.8-0.8 -9.6 0M528.7 560.1l-11.2-4.2 -11-3.4 -10.7-2.5 -10.4-1.6 -10.1-0.8 -9.9-0.1M532.3 560.2l-11.6-4.4 -11.3-3.5 -11-2.6 -10.7-1.7 -10.4-0.9 -10.2-0.1M535.9 560.4l-11.9-4.7 -11.6-3.6 -11.4-2.8 -11-1.8 -10.7-0.9 -10.5 0M539.5 560.7l-12.3-5 -11.9-3.8 -11.7-2.9 -11.3-1.9 -11.1-0.9 -10.7 0M543.1 560.9l-12.6-5.1 -12.3-4.1 -12-3 -11.7-1.9 -11.3-1 -11 0M546.8 561.3l-11.2-4.8 -10.9-3.8 -10.6-3 -10.5-2.3 -10.1-1.4 -9.9-0.7 -9.7 0.1M550.5 561.6l-11.5-4.9 -11.2-4.1 -11-3.1 -10.7-2.3 -10.4-1.5 -10.2-0.7 -9.9 0.1M554.2 562l-11.8-5.1 -11.6-4.3 -11.2-3.3 -11-2.4 -10.7-1.6 -10.5-0.7 -10.1 0.1M557.9 562.5l-12.1-5.4 -11.9-4.5 -11.6-3.4 -11.2-2.5 -11-1.7 -10.7-0.7 -10.4 0.1M561.6 563l-12.4-5.7 -12.2-4.6 -11.9-3.6 -11.6-2.7 -11.2-1.7 -11-0.7 -10.6 0.1M565.4 563.6l-12.8-6 -12.5-4.8 -12.2-3.8 -11.9-2.8 -11.5-1.7 -11.3-0.8 -10.9 0.1M569.1 564.2l-11.5-5.5 -11.2-4.7 -11.1-3.7 -10.7-2.9 -10.6-2.1 -10.2-1.4 -10.1-0.5 -9.7 0.2M572.9 564.9l-11.8-5.8 -11.5-4.9 -11.3-3.9 -11.1-3 -10.8-2.2 -10.5-1.4 -10.3-0.6 -10 0.2M576.8 565.6l-12.2-6.1 -11.8-5 -11.6-4.1 -11.3-3.2 -11.1-2.3 -10.8-1.4 -10.5-0.6 -10.2 0.2M580.6 566.3l-12.4-6.3 -12.2-5.2 -11.9-4.3 -11.6-3.3 -11.3-2.4 -11.1-1.5 -10.7-0.6 -10.5 0.2M584.5 567.2l-12.8-6.6 -12.4-5.5 -12.2-4.5 -11.9-3.5 -11.6-2.5 -11.3-1.5 -11-0.6 -10.7 0.2M588.4 568l-13.1-6.8 -12.8-5.8 -12.5-4.6 -12.1-3.7 -11.9-2.5 -11.6-1.7 -11.3-0.6 -10.9 0.3M592.3 569l-11.9-6.5 -11.7-5.5 -11.5-4.6 -11.2-3.7 -10.9-2.9 -10.7-2 -10.5-1.2 -10.1-0.5 -10 0.3M596.2 570l-12.2-6.7 -11.9-5.8 -11.8-4.8 -11.4-3.9 -11.3-3 -10.9-2.1 -10.7-1.3 -10.4-0.4 -10.2 0.3M600.2 571l-12.4-6.9 -12.1-5.9 -11.9-5 -11.6-4.1 -11.4-3.1 -11.1-2.2 -10.8-1.4 -10.5-0.5 -10.3 0.2M604.2 572.1l-12.5-7.1 -12.2-6.1 -12-5.1 -11.7-4.2 -11.5-3.3 -11.2-2.4 -10.9-1.5 -10.6-0.6 -10.4 0.1M608.2 573.3l-12.6-7.3 -12.3-6.3 -12.1-5.3 -11.8-4.4 -11.6-3.4 -11.3-2.5 -11-1.6 -10.7-0.8 -10.5 0.1M612.2 574.6l-12.6-7.6 -12.5-6.4 -12.1-5.5 -12-4.5 -11.6-3.6 -11.4-2.7 -11.2-1.7 -10.8-0.9 -10.6 0M616.3 575.9l-12.8-7.8 -12.5-6.6 -12.3-5.7 -12-4.7 -11.8-3.7 -11.5-2.8 -11.2-1.9 -11-1 -10.6-0.1M620.4 577.2l-12.9-7.9 -12.6-6.9 -12.4-5.8 -12.1-4.9 -11.9-3.9 -11.6-2.9 -11.4-2 -11-1.1 -10.8-0.3M622.4 577.3l-12.7-7.8 -12.5-6.9 -12.2-5.8 -12-4.8 -11.8-3.9 -11.5-3 -11.2-2.1 -11-1.2 -10.6-0.3M624 577.1l-12.5-7.7 -12.3-6.7 -12-5.8 -11.9-4.7 -11.5-3.9 -11.4-3 -11-2.1 -10.8-1.3 -10.6-0.4M625.5 576.8l-12.3-7.5 -12-6.6 -11.9-5.6 -11.6-4.7 -11.4-3.9 -11.1-3 -10.9-2.1 -10.7-1.3 -10.4-0.6M627 576.6l-12-7.3 -11.9-6.5 -11.6-5.5 -11.4-4.7 -11.2-3.8 -11-3 -10.8-2.2 -10.5-1.4 -10.2-0.6M628.5 576.5l-13.2-8.1 -13.1-6.9 -12.8-5.9 -12.5-4.8 -12.3-3.7 -12-2.8 -11.6-1.8 -11.4-0.8M630.1 576.3l-13.1-7.9 -12.8-6.8 -12.6-5.7 -12.3-4.8 -12-3.7 -11.8-2.8 -11.5-1.8 -11.2-1M631.6 576.2l-12.8-7.7 -12.6-6.7 -12.3-5.7 -12.1-4.7 -11.9-3.7 -11.5-2.8 -11.4-1.9 -11-1M633 576.1l-12.5-7.6 -12.3-6.5 -12.1-5.6 -11.9-4.6 -11.6-3.7 -11.4-2.9 -11.1-1.9 -10.9-1.1M634.5 576l-12.3-7.4 -12-6.4 -11.9-5.5 -11.6-4.6 -11.4-3.7 -11.2-2.8 -11-2 -10.6-1.2M636 575.9l-12-7.2 -11.9-6.3 -11.6-5.4 -11.4-4.5 -11.2-3.7 -11-2.8 -10.7-2.1 -10.5-1.2M637.5 575.8l-13.5-7.9 -13.1-6.8 -13-5.8 -12.6-4.6 -12.4-3.6 -12.1-2.5 -11.8-1.6M638.9 575.8l-13.1-7.8 -12.9-6.7 -12.7-5.6 -12.4-4.5 -12.1-3.6 -11.9-2.6 -11.6-1.7M640.4 575.8l-12.8-7.6 -12.7-6.5 -12.4-5.6 -12.1-4.5 -11.9-3.6 -11.6-2.6 -11.4-1.7" fill="none" stroke="#000" stroke-opacity="0.75" stroke-width="1.0" shape-rendering="crispEdges"/>
<path d="M525.2 627.1l11.8-9.3 11.6-8.3 11.4-7.4M523.2 625.5l11.3-8.8 11.1-8 10.9-7.1M521.3 623.9l16.1-12.3 15.6-10.4M519.4 622.4l15.3-11.6 14.8-10M517.5 620.9l14.4-11 14-9.5M515.6 619.4l13.6-10.3 13.2-9M513.7 617.9l12.7-9.6 12.4-8.5M511.8 616.5l11.9-9 11.5-8M510 615.1l10.9-8.3 10.7-7.5M508.1 613.7l10-7.6 9.9-6.9M506.2 612.3l18.1-13.2M504.4 610.9l16.2-11.8M502.5 609.6l14.4-10.5M500.7 608.3l12.5-9.2M498.8 607.1l10.6-7.8M497 605.8l8.7-6.4M495.2 604.6l6.7-5M493.3 603.4l4.7-3.5M491.5 602.2l2.7-2M489.7 601.1l0.6-0.5" fill="none" stroke="#000" stroke-opacity="0.31" stroke-width="1.0" shape-rendering="crispEdges"/>
<path d="M560 602.1l11.9-6.8 11.7-5.8 11.3-4.7M556.5 601.6l12.1-7 11.7-5.8 11.4-4.8M553 601.2l12.2-7.1 11.8-6 11.5-4.9M549.5 600.8l12.2-7.3 12-6.1 11.6-5M545.9 600.4l12.4-7.4 12-6.2 11.7-5.1M542.4 600.1l12.4-7.5 12.2-6.4 11.8-5.2M538.8 599.8l12.6-7.7 12.2-6.4 11.9-5.4M535.2 599.5l12.7-7.7 12.3-6.7 12-5.4M531.6 599.3l12.8-7.9 12.4-6.7 12.1-5.6M528 599.2l12.8-8.1 12.6-6.9 12.2-5.7M524.3 599.1l13-8.2 12.6-7.1 12.4-5.8M520.6 599.1l13.1-8.4 12.8-7.2 12.4-6M516.9 599.1l13.2-8.6 12.9-7.3 12.5-6.1M513.2 599.1l13.3-8.7 13-7.5 12.7-6.3M509.4 599.3l13.5-9 13.1-7.6 12.8-6.4M505.7 599.4l13.5-9.1 13.2-7.8 12.9-6.6M501.9 599.6l13.6-9.3 13.4-7.9 13-6.8M498 599.9l13.8-9.5 13.5-8.1 13.2-6.9M494.2 600.2l13.9-9.6 13.6-8.4 13.3-7M490.3 600.6l14.1-9.9 13.7-8.5 13.4-7.2M487.9 599.9l13.7-9.6 13.4-8.3 13-7.1M486.1 598.8l13.1-9.2 12.8-8 12.5-6.8M484.3 597.7l12.5-8.7 12.2-7.6 11.9-6.7M482.6 596.7l11.8-8.3 11.6-7.3 11.4-6.4M480.8 595.7l11.2-7.9 11-6.9 10.8-6.1M479 594.6l15.8-10.7 15.4-9.1M477.3 593.7l14.8-10.1 14.5-8.6M475.5 592.7l13.9-9.4 13.5-8.1M473.8 591.8l12.9-8.8 12.6-7.6M472 590.8l11.9-8 11.7-7.2M470.3 590l10.9-7.4 10.7-6.6M468.6 589.1l9.8-6.7 9.8-6.1M466.9 588.2l17.5-11.4M465.1 587.4l15.5-10.2M463.4 586.6l13.5-8.8M461.7 585.8l11.3-7.4M460 585.1l9.2-6.1M458.4 584.3l6.9-4.6M456.7 583.6l4.7-3.2M455 582.9l2.5-1.7M453.4 582.3l0.2-0.2" fill="none" stroke="#000" stroke-opacity="0.44" stroke-width="1.0" shape-rendering="crispEdges"/>
<path d="M594.9 584.8l13.4-4.4 12.9-2.9M591.7 584l13.5-4.5 13-3M588.5 583.2l13.6-4.6 13.1-3.1M585.3 582.4l13.6-4.7 13.2-3.2M582 581.7l13.8-4.8 13.3-3.3M578.8 581l13.8-4.9 13.4-3.4M575.5 580.3l14-5 13.4-3.5M572.2 579.7l14.1-5.2 13.5-3.6M568.9 579.1l14.2-5.3 13.6-3.7M565.6 578.5l14.2-5.4 13.8-3.8M562.3 578l14.3-5.5 13.9-4M558.9 577.5l14.5-5.6 13.9-4.1M555.5 577.1l9.8-4.1 9.6-3.3 9.3-2.6M552.2 576.6l9.8-4.1 9.6-3.4 9.4-2.7M548.8 576.3l9.9-4.3 9.7-3.4 9.4-2.8M545.3 575.9l10-4.3 9.8-3.6 9.6-2.8M541.9 575.6l10.1-4.4 9.8-3.7 9.6-2.9M538.5 575.4l10.1-4.6 9.9-3.7 9.7-3.1M535 575.2l10.2-4.7 10-3.9 9.8-3.1M531.5 575l10.3-4.8 10.1-3.9 9.9-3.3M528 574.9l10.4-4.9 10.2-4.1 9.9-3.3M524.5 574.8l10.5-5 10.2-4.2 10-3.4M520.9 574.7l10.6-5.1 10.3-4.3 10.1-3.5M517.4 574.7l10.6-5.2 10.4-4.4 10.2-3.7M513.8 574.8l10.7-5.4 10.5-4.5 10.3-3.8M510.2 574.8l10.8-5.5 10.6-4.6 10.4-3.9M506.6 575l10.9-5.7 10.7-4.7 10.5-4M502.9 575.2l11.1-5.8 10.7-4.9 10.6-4.1M499.3 575.4l11.1-5.9 10.9-5.1 10.6-4.2M495.6 575.6l11.2-6 11-5.2 10.7-4.3M491.9 576l11.3-6.2 11.1-5.4 10.8-4.4M488.2 576.3l11.4-6.3 11.2-5.5 10.9-4.6M484.4 576.8l11.5-6.6 11.3-5.6 11.1-4.7M480.6 577.2l11.7-6.6 11.4-5.8 11.1-4.9M476.9 577.8l11.7-6.9 11.5-5.9 11.2-5M473 578.4l11.9-7.1 11.6-6.1 11.4-5.1M469.2 579l11.9-7.2 11.8-6.3 11.4-5.2M465.3 579.7l12.1-7.4 11.8-6.4 11.6-5.5M461.4 580.4l12.2-7.5 12-6.6 11.7-5.6M457.5 581.2l12.3-7.7 12.1-6.8 11.8-5.8M453.6 582.1l12.4-8 12.2-6.9 11.9-5.9M451.7 581.6l11.8-7.6 11.6-6.6 11.5-5.8M450 581l11.2-7.1 11-6.4 10.7-5.5M448.4 580.4l15.6-9.8 15.3-8.1M446.8 579.8l14.6-9.1 14.3-7.7M445.1 579.3l13.6-8.5 13.3-7.3M443.5 578.7l12.5-7.8 12.3-6.8M441.9 578.2l11.4-7.1 11.3-6.3M440.3 577.7l10.3-6.5 10.2-5.7M438.7 577.2l18.4-11M437.1 576.8l16.2-9.8M435.5 576.4l14-8.5M434 576l11.7-7.2M432.4 575.6l9.4-5.9M430.8 575.2l7.2-4.5M429.3 574.8l4.8-3M427.7 574.5l2.5-1.5M426.2 574.2l0 0" fill="none" stroke="#000" stroke-opacity="0.6" stroke-width="1.0" shape-rendering="crispEdges"/>
<path d="M621.2 577.5l9.8-1.3 9.4-0.4M618.2 576.5l10.3-1.4 10-0.5M615.2 575.5l10.9-1.5 10.6-0.5M612.1 574.5l11.6-1.6 11.1-0.5M609.1 573.6l12.1-1.8 11.8-0.5M606 572.7l12.8-1.9 12.3-0.6M602.9 571.8l9-1.6 8.8-0.8 8.6-0.2M599.8 570.9l9.5-1.6 9.2-1 8.9-0.2M596.7 570.1l9.9-1.8 9.7-1 9.3-0.2M593.6 569.3l10.4-1.9 10-1.1 9.8-0.1M590.5 568.5l10.8-2 10.5-1.1 10.2-0.2M587.3 567.8l11.3-2.2 11-1.2 10.5-0.1M584.2 567.1l11.8-2.3 11.3-1.3 11-0.2M581 566.4l12.3-2.5 11.8-1.3 11.4-0.2M577.8 565.8l12.8-2.7 12.3-1.4 11.8-0.1M574.7 565.2l9.9-2.3 9.7-1.5 9.5-0.7 9.1 0M571.4 564.6l10.4-2.4 10.1-1.6 9.7-0.7 9.5 0M568.2 564l10.8-2.5 10.4-1.7 10.1-0.8 9.8 0.1M565 563.5l11.1-2.7 10.8-1.8 10.5-0.8 10.2 0.1M561.8 563l11.5-2.8 11.1-1.9 10.9-0.9 10.5 0.1M558.5 562.6l11.9-3.1 11.6-1.9 11.2-0.9 10.8 0.1M555.2 562.2l12.3-3.3 12-2 11.6-1 11.1 0.1M551.9 561.8l10.3-2.8 9.9-2.1 9.7-1.3 9.5-0.5 9.2 0.2M548.6 561.4l10.6-3 10.3-2.1 10-1.3 9.7-0.6 9.5 0.2M545.3 561.1l10.9-3.1 10.6-2.3 10.4-1.4 10-0.6 9.8 0.3M542 560.8l11.2-3.3 11-2.4 10.6-1.5 10.4-0.5 10 0.2M538.7 560.6l11.5-3.5 11.3-2.5 11-1.6 10.6-0.6 10.4 0.3M535.3 560.4l11.9-3.7 11.7-2.7 11.3-1.6 10.9-0.6 10.6 0.3M531.9 560.2l12.3-3.9 12-2.8 11.6-1.7 11.3-0.6 10.9 0.3M528.5 560.1l12.7-4.1 12.3-2.9 12-1.8 11.6-0.7 11.2 0.3M525.1 560l10.9-3.7 10.7-2.8 10.3-2 10.1-1.1 9.9-0.4 9.6 0.4M521.7 559.9l11.2-3.8 10.9-3 10.7-2.1 10.4-1.2 10.1-0.4 9.8 0.4M518.3 559.9l11.5-4 11.2-3.1 11-2.2 10.7-1.3 10.3-0.4 10.1 0.4M514.8 559.9l11.9-4.2 11.5-3.3 11.3-2.3 10.9-1.3 10.7-0.4 10.3 0.4M511.3 560l12.2-4.5 11.9-3.4 11.5-2.4 11.3-1.4 10.9-0.4 10.6 0.5M507.9 560.1l12.5-4.7 12.2-3.6 11.8-2.5 11.6-1.4 11.2-0.5 10.8 0.5M504.3 560.3l12.9-5 12.5-3.7 12.2-2.6 11.8-1.6 11.5-0.4 11.1 0.5M500.8 560.4l11.3-4.5 11.1-3.5 10.8-2.8 10.6-1.8 10.3-1 10-0.3 9.7 0.6M497.3 560.7l11.6-4.7 11.4-3.8 11.1-2.8 10.8-2 10.5-1 10.3-0.3 10 0.6M493.7 560.9l11.9-4.9 11.7-3.9 11.4-3 11.1-2 10.8-1.1 10.5-0.3 10.2 0.6M490.1 561.3l12.3-5.2 11.9-4.1 11.7-3.1 11.3-2.1 11.1-1.2 10.8-0.3 10.4 0.6M486.6 561.6l12.5-5.4 12.2-4.3 12-3.2 11.6-2.2 11.4-1.3 11-0.2 10.7 0.6M482.9 562l12.9-5.6 12.5-4.5 12.3-3.4 11.9-2.3 11.6-1.3 11.3-0.3 10.9 0.7M479.3 562.5l11.5-5.2 11.3-4.3 11.1-3.4 10.8-2.6 10.6-1.7 10.3-0.9 10-0.1 9.7 0.7M475.7 563l11.8-5.5 11.6-4.5 11.3-3.5 11-2.7 10.8-1.7 10.6-1 10.2-0.1 10 0.7M472 563.5l12.1-5.7 11.8-4.7 11.6-3.7 11.4-2.7 11-1.9 10.8-0.9 10.5-0.2 10.2 0.7M468.3 564.1l12.4-5.9 12.1-4.9 11.9-3.9 11.6-2.9 11.3-1.9 11-1 10.7-0.1 10.4 0.7M464.6 564.8l12.7-6.2 12.4-5.1 12.1-4.1 11.9-3 11.5-2 11.3-1.1 10.9-0.1 10.7 0.8M460.8 565.5l13-6.5 12.7-5.3 12.5-4.2 12.1-3.2 11.8-2.1 11.5-1.1 11.2-0.1 10.9 0.8M457.1 566.2l11.7-6 11.6-5.1 11.3-4.2 11-3.3 10.9-2.4 10.5-1.6 10.3-0.8 10.1 0 9.8 0.7M453.3 567l11.9-6.2 11.6-5.2 11.4-4.3 11.1-3.5 10.9-2.5 10.7-1.7 10.4-0.9 10.1-0.1 9.9 0.6M449.5 567.9l11.9-6.4 11.8-5.4 11.4-4.4 11.3-3.6 11-2.7 10.7-1.8 10.5-1 10.2-0.3 10 0.6M445.7 568.8l12-6.6 11.8-5.5 11.6-4.6 11.3-3.7 11.1-2.8 10.8-2 10.6-1.1 10.3-0.3 10.1 0.4M441.8 569.7l12.2-6.7 11.9-5.7 11.6-4.8 11.4-3.8 11.2-3 10.9-2 10.7-1.3 10.4-0.4 10.2 0.4M438 570.7l12.2-6.8 12-5.9 11.7-5 11.5-3.9 11.3-3.1 11-2.2 10.8-1.4 10.5-0.5 10.2 0.3M434.1 571.8l12.3-7 12.1-6.1 11.8-5.1 11.6-4.1 11.4-3.3 11.1-2.3 10.9-1.5 10.6-0.6 10.3 0.2M430.2 573l12.4-7.3 12.2-6.2 11.9-5.3 11.7-4.3 11.5-3.4 11.2-2.4 10.9-1.6 10.7-0.8 10.5 0.1M426.2 574.2l12.5-7.5 12.3-6.4 12.1-5.5 11.8-4.4 11.5-3.5 11.3-2.6 11.1-1.7 10.8-0.9 10.5 0M424.6 573.9l12.3-7.3 12.1-6.3 11.9-5.4 11.6-4.4 11.4-3.5 11.2-2.6 10.9-1.8 10.6-0.9 10.4-0.1M423.1 573.6l12.1-7.1 11.9-6.2 11.7-5.3 11.4-4.4 11.3-3.5 10.9-2.6 10.8-1.8 10.5-1 10.3-0.2M421.6 573.4l13.3-7.8 13.2-6.7 12.8-5.6 12.6-4.4 12.3-3.4 12-2.3 11.7-1.3 11.4-0.4M420.1 573.2l13.1-7.7 12.9-6.6 12.6-5.4 12.4-4.4 12.1-3.4 11.8-2.4 11.6-1.4 11.2-0.4M418.6 573l12.9-7.6 12.6-6.4 12.4-5.4 12.2-4.3 11.9-3.4 11.6-2.4 11.4-1.4 11.1-0.6M417.1 572.8l12.6-7.4 12.5-6.3 12.2-5.3 11.9-4.3 11.7-3.4 11.5-2.4 11.2-1.5 10.9-0.7M415.6 572.6l12.4-7.2 12.2-6.2 12-5.2 11.7-4.3 11.5-3.3 11.3-2.5 11-1.5 10.8-0.8M414.1 572.5l12.2-7.1 11.9-6.1 11.8-5.1 11.5-4.2 11.4-3.4 11-2.4 10.9-1.7 10.6-0.8M412.6 572.3l12-6.9 11.7-5.9 11.5-5.1 11.4-4.2 11.1-3.3 10.9-2.5 10.6-1.6 10.4-0.9M411.2 572.2l13.3-7.6 13.1-6.5 12.8-5.3 12.6-4.2 12.3-3.2 12.1-2.2 11.7-1.2M409.7 572.1l13.1-7.4 12.8-6.3 12.6-5.3 12.3-4.2 12.1-3.2 11.8-2.2 11.6-1.3" fill="none" stroke="#000" stroke-opacity="0.75" stroke-width="1.0" shape-rendering="crispEdges"/>
<path d="M525.6 627.7l5.9-4.8 5.9-4.5 5.8-4.3 5.7-4 5.7-3.7 5.6-3.6 5.5-3.3 5.5-3.1 5.4-2.8 5.4-2.6 5.3-2.4" fill="none" stroke="#dcdc00" stroke-width="0.8"/>
<path d="M409.7 572.1l3.2-1.9 3.1-1.8 3.2-1.8 3.1-1.7 3.1-1.6 3.1-1.6 3.1-1.5 3.1-1.4 3.1-1.4 3-1.3 3.1-1.3 3-1.2 3-1.1 3-1.1 3-1 2.9-1 3-0.9 2.9-0.8 2.9-0.8 2.9-0.7 2.9-0.7 2.9-0.6 2.8-0.5 2.9-0.5 2.8-0.5 2.8-0.3 2.8-0.4 2.8-0.2 2.7-0.3 2.7-0.1 2.6-0.2 2.7-0.1 2.7-0.1 2.6-0.1 2.7-0.1 2.6 0 2.7 0 2.6 0 2.7 0 2.7 0.1 2.6 0 2.7 0.1 2.6 0.1 2.7 0.2 2.6 0.1 2.7 0.2 2.7 0.2 2.6 0.2 2.7 0.3 2.6 0.2 2.7 0.3 2.7 0.3 2.8 0.4 2.8 0.5 2.8 0.4 2.8 0.6 2.8 0.6 2.9 0.6 2.8 0.7 2.9 0.8 2.9 0.8 2.9 0.8 2.9 1 3 1 2.9 1 3 1.1 3 1.1 3 1.3 3 1.2 3 1.4 3.1 1.4 3 1.4 3.1 1.5 3.1 1.6 3.1 1.6 3.1 1.7 3.1 1.8 3.2 1.8 3.1 1.9 3.2 2 0 0 -2.5 0 -2.5 0.1 -2.5 0.2 -2.5 0.2 -2.6 0.3 -2.6 0.3 -2.6 0.4 -2.8-0.3 -2.9-1 -3-0.9 -3-1 -2.9-0.8 -3-1 -2.9-0.8 -3-0.8 -3-0.8 -2.9-0.7 -3-0.8 -2.9-0.7 -3-0.6 -3-0.7 -2.9-0.6 -3-0.6 -2.9-0.5 -3-0.4 -2.9-0.6 -3-0.4 -3-0.5 -2.9-0.4 -3-0.4 -2.9-0.3 -3-0.3 -2.9-0.3 -3-0.3 -3-0.1 -2.9-0.3 -3-0.1 -2.9-0.1 -3-0.3 -2.9 0 -3 0 -3 0 -2.9 0 -3 0 -2.9 0.1 -3 0 -2.9 0.2 -3 0.1 -2.9 0.3 -3 0.1 -2.9 0.3 -3 0.2 -3 0.4 -2.9 0.3 -3 0.4 -2.9 0.3 -3 0.4 -2.9 0.5 -3 0.5 -2.9 0.5 -3 0.5 -2.9 0.6 -3 0.5 -2.9 0.7 -3 0.6 -2.9 0.7 -3 0.7 -2.9 0.8 -3 0.7 -2.9 0.8 -3 0.8 -2.9 0.9 -3 0.9 -2.8 0.3 -2.6-0.5 -2.5-0.4 -2.6-0.3 -2.5-0.3 -2.5-0.2 -2.5-0.2z" fill="#000" fill-opacity="0.12"/>
<path d="M409.7 572.1l3.2-1.9 3.1-1.8 3.2-1.8 3.1-1.7 3.1-1.6 3.1-1.6 3.1-1.5 3.1-1.4 3.1-1.4 3-1.3 3.1-1.3 3-1.2 3-1.1 3-1.1 3-1 2.9-1 3-0.9 2.9-0.8 2.9-0.8 2.9-0.7 2.9-0.7 2.9-0.6 2.8-0.5 2.9-0.5 2.8-0.5 2.8-0.3 2.8-0.4 2.8-0.2 2.7-0.3 2.7-0.1 2.6-0.2 2.7-0.1 2.7-0.1 2.6-0.1 2.7-0.1 2.6 0 2.7 0 2.6 0 2.7 0 2.7 0.1 2.6 0 2.7 0.1 2.6 0.1 2.7 0.2 2.6 0.1 2.7 0.2 2.7 0.2 2.6 0.2 2.7 0.3 2.6 0.2 2.7 0.3 2.7 0.3 2.8 0.4 2.8 0.5 2.8 0.4 2.8 0.6 2.8 0.6 2.9 0.6 2.8 0.7 2.9 0.8 2.9 0.8 2.9 0.8 2.9 1 3 1 2.9 1 3 1.1 3 1.1 3 1.3 3 1.2 3 1.4 3.1 1.4 3 1.4 3.1 1.5 3.1 1.6 3.1 1.6 3.1 1.7 3.1 1.8 3.2 1.8 3.1 1.9 3.2 2 0 0 -2.5 0 -2.5 0.1 -2.6-0.3 -3-1.1 -2.9-1 -2.9-1.1 -2.9-1 -2.9-0.9 -2.9-1 -2.9-0.9 -2.9-0.9 -2.9-0.8 -2.9-0.9 -2.9-0.8 -2.9-0.7 -2.9-0.8 -3-0.7 -2.9-0.7 -2.9-0.7 -2.9-0.6 -2.9-0.6 -2.9-0.6 -2.9-0.5 -2.9-0.5 -2.9-0.5 -2.9-0.5 -2.9-0.4 -3-0.4 -2.9-0.5 -2.9-0.3 -2.9-0.4 -2.9-0.2 -2.9-0.3 -2.9-0.2 -2.9-0.3 -2.9-0.2 -2.9-0.1 -2.9-0.1 -2.9-0.2 -2.9 0 -2.9 0 -3-0.2 -2.9 0.1 -2.9 0 -2.9 0.1 -2.9 0.1 -2.9 0.1 -2.9 0.1 -2.9 0.2 -2.9 0.2 -2.9 0.2 -2.9 0.3 -2.9 0.3 -2.9 0.3 -2.9 0.3 -2.9 0.4 -2.9 0.4 -2.9 0.4 -2.9 0.5 -2.9 0.4 -2.9 0.5 -2.9 0.6 -2.9 0.5 -2.9 0.6 -2.9 0.6 -2.9 0.7 -2.9 0.6 -2.9 0.7 -2.9 0.8 -2.9 0.7 -2.9 0.8 -2.9 0.8 -2.9 0.9 -2.9 0.8 -2.9 0.9 -2.9 0.9 -2.9 1 -2.9 1 -2.7 0.5 -2.5-0.2z" fill="#000" fill-opacity="0.5"/>
<path d="M409.7 572.1l3.2-1.9 3.1-1.8 3.2-1.8 3.1-1.7 3.1-1.6 3.1-1.6 3.1-1.5 3.1-1.4 3.1-1.4 3-1.3 3.1-1.3 3-1.2 3-1.1 3-1.1 3-1 2.9-1 3-0.9 2.9-0.8 2.9-0.8 2.9-0.7 2.9-0.7 2.9-0.6 2.8-0.5 2.9-0.5 2.8-0.5 2.8-0.3 2.8-0.4 2.8-0.2 2.7-0.3 2.7-0.1 2.6-0.2 2.7-0.1 2.7-0.1 2.6-0.1 2.7-0.1 2.6 0 2.7 0 2.6 0 2.7 0 2.7 0.1 2.6 0 2.7 0.1 2.6 0.1 2.7 0.2 2.6 0.1 2.7 0.2 2.7 0.2 2.6 0.2 2.7 0.3 2.6 0.2 2.7 0.3 2.7 0.3 2.8 0.4 2.8 0.5 2.8 0.4 2.8 0.6 2.8 0.6 2.9 0.6 2.8 0.7 2.9 0.8 2.9 0.8 2.9 0.8 2.9 1 3 1 2.9 1 3 1.1 3 1.1 3 1.3 3 1.2 3 1.4 3.1 1.4 3 1.4 3.1 1.5 3.1 1.6 3.1 1.6 3.1 1.7 3.1 1.8 3.2 1.8 3.1 1.9 3.2 2 0 0 -3.2-2 -3.1-1.9 -3.2-1.8 -3.1-1.8 -3-1.5 -2.9-0.9 -2.8-1 -2.9-0.9 -2.8-0.9 -2.9-0.8 -2.8-0.9 -2.8-0.8 -2.9-0.8 -2.8-0.7 -2.9-0.7 -2.8-0.8 -2.9-0.6 -2.8-0.7 -2.9-0.6 -2.8-0.6 -2.9-0.5 -2.8-0.6 -2.9-0.5 -2.8-0.5 -2.8-0.5 -2.9-0.4 -2.8-0.5 -2.9-0.3 -2.8-0.4 -2.9-0.3 -2.8-0.4 -2.9-0.2 -2.8-0.3 -2.9-0.2 -2.8-0.2 -2.9-0.2 -2.8-0.1 -2.9-0.2 -2.8-0.1 -2.8-0.1 -2.9 0 -2.8 0 -2.9 0 -2.8 0 -2.9 0 -2.8 0.1 -2.9 0.1 -2.8 0.1 -2.8 0.2 -2.9 0.2 -2.8 0.2 -2.9 0.3 -2.8 0.2 -2.9 0.3 -2.8 0.3 -2.8 0.4 -2.9 0.3 -2.8 0.4 -2.9 0.4 -2.8 0.5 -2.8 0.5 -2.9 0.5 -2.8 0.5 -2.9 0.5 -2.8 0.6 -2.8 0.6 -2.9 0.6 -2.8 0.7 -2.8 0.6 -2.9 0.8 -2.8 0.7 -2.8 0.8 -2.9 0.7 -2.9 1 -3.1 1.6 -3.1 1.6 -3.1 1.7 -3.2 1.8 -3.1 1.8 -3.2 1.9z" fill="#000" fill-opacity="0.85" stroke="#000" stroke-width="1.2" stroke-linejoin="round"/>
<ellipse cx="525.1" cy="544.7" rx="1.7" ry="1.9" fill="#c8481a"/><ellipse cx="525.1" cy="548.5" rx="1.7" ry="1.9" fill="#bd4214"/>
<text transform="translate(409.9,628.3) scale(0.873,0.931)" font-size="6.2" text-anchor="end" font-family="Liberation Sans,sans-serif" fill="#2b2b2b">0</text>
<text transform="translate(408.7,609.5) scale(0.873,0.931)" font-size="6.2" text-anchor="end" font-family="Liberation Sans,sans-serif" fill="#2b2b2b">0.01</text>
<text transform="translate(407.5,590.6) scale(0.873,0.931)" font-size="6.2" text-anchor="end" font-family="Liberation Sans,sans-serif" fill="#2b2b2b">0.02</text>
<text transform="translate(406.3,571.8) scale(0.873,0.931)" font-size="6.2" text-anchor="end" font-family="Liberation Sans,sans-serif" fill="#2b2b2b">0.03</text>
<text transform="translate(405.1,552.9) scale(0.873,0.931)" font-size="6.2" text-anchor="end" font-family="Liberation Sans,sans-serif" fill="#2b2b2b">0.04</text>
<text transform="translate(403.9,534) scale(0.873,0.931)" font-size="6.2" text-anchor="end" font-family="Liberation Sans,sans-serif" fill="#2b2b2b">0.05</text>
<text transform="translate(527.4,708.8) scale(0.873,0.931)" font-size="6.2" text-anchor="start" font-family="Liberation Sans,sans-serif" fill="#2b2b2b">48</text>
<text transform="translate(541.2,703.4) scale(0.873,0.931)" font-size="6.2" text-anchor="start" font-family="Liberation Sans,sans-serif" fill="#2b2b2b">57</text>
<text transform="translate(554.9,698.1) scale(0.873,0.931)" font-size="6.2" text-anchor="start" font-family="Liberation Sans,sans-serif" fill="#2b2b2b">66</text>
<text transform="translate(568.6,692.8) scale(0.873,0.931)" font-size="6.2" text-anchor="start" font-family="Liberation Sans,sans-serif" fill="#2b2b2b">75</text>
<text transform="translate(582.4,687.4) scale(0.873,0.931)" font-size="6.2" text-anchor="start" font-family="Liberation Sans,sans-serif" fill="#2b2b2b">84</text>
<text transform="translate(596.1,682.1) scale(0.873,0.931)" font-size="6.2" text-anchor="start" font-family="Liberation Sans,sans-serif" fill="#2b2b2b">93</text>
<text transform="translate(609.8,676.8) scale(0.873,0.931)" font-size="6.2" text-anchor="start" font-family="Liberation Sans,sans-serif" fill="#2b2b2b">102</text>
<text transform="translate(623.6,671.5) scale(0.873,0.931)" font-size="6.2" text-anchor="start" font-family="Liberation Sans,sans-serif" fill="#2b2b2b">111</text>
<text transform="translate(637.3,666.1) scale(0.873,0.931)" font-size="6.2" text-anchor="start" font-family="Liberation Sans,sans-serif" fill="#2b2b2b">120</text>
<text transform="translate(522.4,707.8) scale(0.873,0.931)" font-size="6.2" text-anchor="end" font-family="Liberation Sans,sans-serif" fill="#2b2b2b">1</text>
<text transform="translate(494.9,697.2) scale(0.873,0.931)" font-size="6.2" text-anchor="end" font-family="Liberation Sans,sans-serif" fill="#2b2b2b">1.5</text>
<text transform="translate(467.4,686.5) scale(0.873,0.931)" font-size="6.2" text-anchor="end" font-family="Liberation Sans,sans-serif" fill="#2b2b2b">2</text>
<text transform="translate(440,675.9) scale(0.873,0.931)" font-size="6.2" text-anchor="end" font-family="Liberation Sans,sans-serif" fill="#2b2b2b">2.5</text>
<text transform="translate(412.5,665.2) scale(0.873,0.931)" font-size="6.2" text-anchor="end" font-family="Liberation Sans,sans-serif" fill="#2b2b2b">3</text>
<text transform="translate(387.9,703) scale(0.873,0.931)" font-size="9.2" text-anchor="start" font-family="Liberation Sans,sans-serif" fill="#1c1c1c">D: Tannin Content (%)</text>
<text transform="translate(582.6,703) scale(0.873,0.931)" font-size="9.2" text-anchor="start" font-family="Liberation Sans,sans-serif" fill="#1c1c1c">C: Incubation Time (h)</text>
<text transform="translate(382.6,601) scale(0.873,0.931) rotate(-90)" font-size="11.1" text-anchor="middle" font-family="Liberation Serif,serif" fill="#111">Tannin acyl hydrolase</text>
<text x="372.6" y="526.5" font-size="16.5" font-weight="bold" font-family="Liberation Serif,serif" fill="#000">f</text></g></svg></body></html>
